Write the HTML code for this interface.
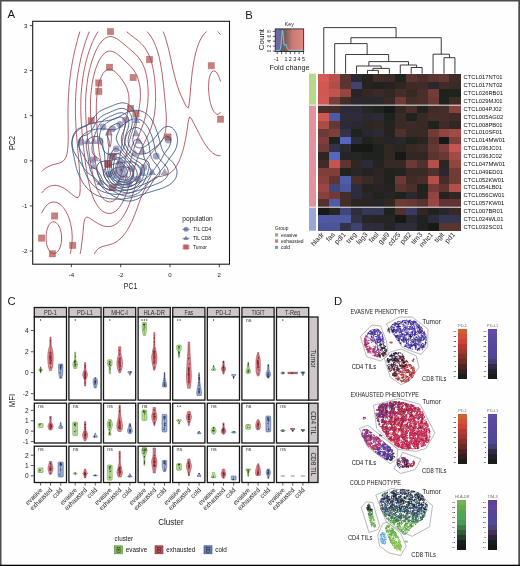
<!DOCTYPE html>
<html><head><meta charset="utf-8"><title>Figure</title>
<style>
html,body{margin:0;padding:0;background:#fff;}
body{width:520px;height:566px;overflow:hidden;font-family:"Liberation Sans",sans-serif;}
svg{display:block;font-family:"Liberation Sans",sans-serif;will-change:transform;opacity:0.999;-webkit-font-smoothing:antialiased;}
</style></head><body>
<svg width="520" height="566" viewBox="0 0 520 566">
<rect x="0" y="0" width="520" height="566" fill="#fefefe"/>
<g id="pA">
<rect x="32.7" y="21.3" width="196.8" height="242.9" fill="#fff" stroke="#1a1a1a" stroke-width="1.1"/>
<g fill="#7f80ab" fill-opacity="0.72">
<circle cx="120" cy="124.5" r="3.4"/>
<circle cx="125.5" cy="120" r="3.4"/>
<circle cx="112.5" cy="128.8" r="3.4"/>
<circle cx="103" cy="127" r="3.4"/>
<circle cx="81.2" cy="142" r="3.4"/>
<circle cx="100" cy="141.2" r="3.4"/>
<circle cx="116.2" cy="148.8" r="3.4"/>
<circle cx="156.2" cy="156.2" r="3.4"/>
<circle cx="168.2" cy="140" r="3.4"/>
<circle cx="113.8" cy="156.2" r="3.4"/>
<circle cx="120" cy="162.5" r="3.4"/>
<circle cx="132" cy="168.7" r="3.4"/>
<circle cx="137.7" cy="179.2" r="3.4"/>
<circle cx="143.8" cy="167.5" r="3.4"/>
<circle cx="92.5" cy="160" r="3.4"/>
<circle cx="108.8" cy="174.4" r="3.4"/>
<circle cx="119" cy="171" r="3.4"/>
<circle cx="122.5" cy="170" r="3.4"/>
<circle cx="128.8" cy="183" r="3.4"/>
<circle cx="121" cy="177" r="3.4"/>
<path d="M108.8,128.8 l4,6.6 h-8z"/>
<path d="M136.2,116.3 l4,6.6 h-8z"/>
<path d="M136.2,129.6 l4,6.6 h-8z"/>
<path d="M138.8,137.1 l4,6.6 h-8z"/>
<path d="M87.5,137.3 l4,6.6 h-8z"/>
<path d="M93.8,137.3 l4,6.6 h-8z"/>
<path d="M142.5,147.1 l4,6.6 h-8z"/>
<path d="M135,149.6 l4,6.6 h-8z"/>
<path d="M95,154.6 l4,6.6 h-8z"/>
<path d="M93.5,162.5 l4,6.6 h-8z"/>
<path d="M100.2,178.3 l4,6.6 h-8z"/>
<path d="M121.3,161.6 l4,6.6 h-8z"/>
<path d="M125,171.3 l4,6.6 h-8z"/>
<path d="M132.9,173.8 l4,6.6 h-8z"/>
<path d="M142.5,169.3 l4,6.6 h-8z"/>
<path d="M152,168.3 l4,6.6 h-8z"/>
<path d="M164.6,168.3 l4,6.6 h-8z"/>
<path d="M118.8,178.8 l4,6.6 h-8z"/>
<path d="M116,171.8 l4,6.6 h-8z"/>
<path d="M113,167.8 l4,6.6 h-8z"/>
</g>
<g fill="#ae4a46" fill-opacity="0.7" stroke="#ae4a46" stroke-opacity="0.45" stroke-width="0.6">
<rect x="107.3" y="28.4" width="6.4" height="6.4"/>
<rect x="106.3" y="64.1" width="6.4" height="6.4"/>
<rect x="95.6" y="79.8" width="6.4" height="6.4"/>
<rect x="95.6" y="88.2" width="6.4" height="6.4"/>
<rect x="146.3" y="56.3" width="6.4" height="6.4"/>
<rect x="130" y="74.3" width="6.4" height="6.4"/>
<rect x="208.1" y="62.5" width="6.4" height="6.4"/>
<rect x="217.3" y="116" width="6.4" height="6.4"/>
<rect x="164.8" y="133.8" width="6.4" height="6.4"/>
<rect x="127.3" y="105.3" width="6.4" height="6.4"/>
<rect x="132.8" y="110.8" width="6.4" height="6.4"/>
<rect x="88" y="117.5" width="6.4" height="6.4"/>
<rect x="51.4" y="212.8" width="6.4" height="6.4"/>
<rect x="38.4" y="234.9" width="6.4" height="6.4"/>
<rect x="49.2" y="250.6" width="6.4" height="6.4"/>
<rect x="69.5" y="242.2" width="6.4" height="6.4"/>
<rect x="108.7" y="153" width="6.4" height="6.4"/>
<rect x="104.6" y="160.6" width="6.4" height="6.4"/>
<rect x="109.2" y="184.4" width="6.4" height="6.4"/>
<rect x="105.1" y="161.1" width="6.4" height="6.4"/>
</g>
<g fill="none" stroke="#ab3f4a" stroke-width="0.85">
<path d="M94.3,253.8 95.7,251.6 97.6,249.3 99.4,247.9 101.1,247.1 103,246.4 104.8,245.9 106.7,245.4 108.5,245 110.3,244.5 112.1,243.9 113.9,243.1 115.7,242.2 117.5,241.1 118.5,240.3 121.1,238.1 122.9,236.1 124.7,233.9 126.5,231.4 127.9,229.1 129.2,226.9 130.1,225 131.4,222.4 132,221.3 132.5,220.1 133.4,217.9 134.3,215.6 135.2,213.4 136.1,211.2 136.9,208.9 137.4,207.6 138.5,204.4 139.2,202.6 140.2,199.9 141,197.7 141.9,195.4 142.8,193.2 143.9,191 144.6,189.3 146.2,186.5 147.6,184.2 149.4,182 151.7,179.7 153.6,178.5 155.4,177.6 157.3,177 159.1,176.6 160.9,176.3 162.7,175.9 164.5,175.5 166.3,175 168.1,174.2 169.9,173.2 171.7,171.8 172.8,170.8 174.8,168.5 176.3,166.3 177.1,164.9 178.8,161.8 179.8,159.5 180.6,157.3 181.4,155 182.2,152.8 182.6,151.5 183.5,148.3 184,146.1 184.4,144.5 185,141.6 185.5,139.3 185.9,137.1 186.2,135.3 186.7,132.6 187,130.4 187.4,128.1 187.7,125.9 187.9,123.6 188.3,121.4 188.9,119.1 189.6,116.9 191.6,118.9 192.7,121.4 193.9,123.6 195.2,125.9 196.3,128.1 197,129.4 198.6,132.6 199.8,134.8 200.6,136.4 202.2,139.3 203.5,141.6 204.2,142.7 204.9,143.8 206,145.5 207.9,148 209.7,150.2 211.5,152 212.4,152.8 215.1,154.6 216.9,155.3 218.7,155.7 220.5,155.6"/>
<path d="M220.5,34.6 218.7,32.6 217.4,31.6"/>
<path d="M79.9,31.6 79.5,32.9 78.6,36.1 77.9,38.3 77.3,40.6 76.7,42.8 76.1,45.1 75.6,47.3 75,49.6 74.5,51.8 74.1,53.6 73.5,56.3 73.1,58.5 72.6,60.8 72.3,62.6 71.8,65.3 71.5,67.5 71.1,69.8 70.8,72 70.5,74.1 70.2,76.5 69.9,78.7 69.7,81 69.4,83.2 69.2,85.5 69,87.7 68.9,90 68.7,92.2 68.6,94.4 68.4,96.7 68.3,98.9 68.2,101.2 68.2,103.4 68.1,105.7 68,107.9 68,110.2 68,112.4 68,114.6 68,116.9 68,119.1 68,121.4 68.1,123.6 68.1,125.9 68.1,128.1 68.1,130.4 68.2,132.6 68.2,134.8 68.2,137.1 68.2,139.3 68.1,141.6 68.1,143.8 67.9,146.1 67.8,148.3 67.5,150.6 67.2,152.8 66.9,154.2 65.9,157.3 65.1,158.8 63.3,161 62.2,161.8 59.7,162.9 57.9,163.5 56.1,163.9 54.2,164.4 52.4,164.9 50.6,165.5 49,166.3 47,167.3 45.2,168.4 43.4,169.8 42.3,170.8 41.6,171.4"/>
<path d="M206.5,31.6 204.2,33.8 202.5,36.1 201.2,38.3 200,40.6 199,42.8 198.1,45.1 197.3,47.3 196.6,49.6 196,51.8 195.4,54 194.9,56.3 194.4,58.5 194,60.8 193.6,63 193.2,65.3 192.9,67.5 192.5,69.8 192.2,72 192,74.2 191.7,76.5 191.6,78.1 191.3,81 191.1,83.2 190.8,85.5 190.6,87.7 190.5,90 190.3,92.2 190.1,94.4 189.9,96.7 189.8,98.9 189.5,101.2 189.2,103.4 188.9,105.7 188.3,107.9 186.2,106.4 184.7,103.4 183.7,101.2 182.6,99 181.6,96.7 180.7,94.9 179.7,92.2 178.9,90.3 178.1,87.7 177.3,85.5 176.6,83.2 176,81 175.3,78.8 174.8,76.5 174.2,74.2 173.6,72 173.1,69.8 172.6,67.5 172.1,65.3 171.7,63.4 171.2,60.8 170.7,58.5 170.2,56.3 169.9,55 169.2,51.8 168.7,49.6 168.1,47.3 167.5,45.1 166.9,42.8 166.3,40.7 165.6,38.3 164.9,36.1 164.1,33.8 163.2,31.6"/>
<path d="M80.1,253.8 80.6,251.6 81,249.3 81.3,247.1 81.6,244.8 81.9,242.6 82.2,240.3 82.4,238.1 82.7,235.8 82.9,233.6 83.1,231.4 83.2,230 83.5,226.9 83.7,224.6 84,222.4 84.5,220.1 85,218.5 86.8,217.1 88.6,217.6 90.4,218.7 92.2,219.8 94,221.1 95.8,222.2 97.6,223.3 99.4,224.3 101.2,225.1 103,225.8 104.8,226.3 106.7,226.5 108.5,226.6 110.3,226.4 112.1,226 113.9,225.3 115.1,224.6 117.5,223 119.3,221.3 120.4,220.1 122.1,217.9 122.9,216.8 123.7,215.6 124.7,213.9 126.2,211.2 127.3,208.9 128.3,206.7 129.2,204.4 130,202.2 130.9,199.9 131.7,197.7 132.4,195.4 133.2,193.2 133.8,191.3 134.6,188.7 135.3,186.5 136,184.2 136.8,182 137.4,180.1 138.3,177.5 139.1,175.2 140,173 140.9,170.8 141.9,168.5 142.8,166.4 144.1,164 145.3,161.8 146.4,160 148.2,157.3 149.9,155 151.8,152.8 153.6,150.7 155.4,148.8 157.3,146.8 159.1,144.7 160.9,142.4 162.7,139.4 163.7,137.1 164.5,134.9 165.1,132.6 165.6,130.4 165.9,128.1 166.1,125.9 166.2,123.6 166.3,122 166.3,119.1 166.3,116.9 166.2,114.6 166,112.4 165.9,110.2 165.7,107.9 165.5,105.7 165.3,103.4 165.1,101.2 164.9,98.9 164.7,96.7 164.5,94.7 164.2,92.2 164,90 163.8,87.7 163.5,85.5 163.3,83.2 163,81 162.7,78.7 162.5,76.5 162.2,74.2 161.9,72 161.5,69.8 161.2,67.5 160.9,65.8 160.4,63 159.9,60.8 159.4,58.5 159.1,56.9 158.3,54 157.7,51.8 157.3,50.3 156.2,47.3 155.4,45.3 154.4,42.8 153.6,41.2 152.1,38.3 150.6,36.1 148.9,33.8 146.9,31.6"/>
<path d="M220.5,81.4 219.6,78.7 218.8,76.5 217.7,74.2 216.9,72.9 216,72 215.1,71.2 213.3,70.9 211.8,72 210.5,74.2 209.7,76.5 209.2,78.7 208.9,81 208.7,83.2 208.6,85.5 208.6,87.7 208.6,90 208.8,92.2 209,94.4 209.2,96.7 209.6,98.9 210,101.2 210.6,103.4 211.2,105.7 212,107.9 213,110.2 214.5,112.4 216.9,114.4 218.7,114.1 220.2,112.4 220.5,111.9"/>
<path d="M89.3,31.6 88.6,33.3 87.5,36.1 86.8,38.1 85.9,40.6 85.2,42.8 84.5,45.1 83.8,47.3 83.2,49.5 82.5,51.8 81.9,54 81.4,56.3 80.8,58.5 80.3,60.8 79.9,63 79.5,64.6 79,67.5 78.6,69.8 78.2,72 77.9,74.2 77.5,76.5 77.2,78.7 76.9,81 76.7,83.2 76.5,85.5 76.3,87.7 76.1,90 75.9,92.1 75.8,94.4 75.7,96.7 75.6,98.9 75.5,101.2 75.4,103.4 75.4,105.7 75.4,107.9 75.4,110.2 75.4,112.4 75.5,114.6 75.5,116.9 75.6,119.1 75.7,121.4 75.8,123.6 75.9,125.7 76.1,128.1 76.2,130.4 76.4,132.6 76.5,134.8 76.7,137.1 76.9,139.3 77.1,141.6 77.3,143.8 77.5,146.1 77.7,148.3 77.9,150.6 78.1,152.8 78.3,155 78.4,157.3 78.6,159.5 78.8,161.8 79,164 79.2,166.3 79.3,168.5 79.5,170.8 79.6,173 79.8,175.2 79.9,177.5 80,179.7 80.1,182 80.1,184.2 80.2,186.5 80.2,188.7 80.1,191 79.9,193.2 79.6,195.4 78,197.7 75.9,197.2 74.1,196 72.3,194.6 70.6,193.2 68.7,191.7 66.9,190.3 65.1,189 63.3,187.9 61.5,187 60.2,186.5 57.9,185.7 56.1,185.4 54.2,185.3 52.4,185.5 50.6,186 49.4,186.5 47,187.7 45.7,188.7 43.4,190.9 41.6,193"/>
<path d="M70.2,253.8 70.5,252.6 71.2,249.3 71.6,247.1 71.8,244.8 72,242.6 72.1,240.3 72.2,238.1 72.2,235.8 72,233.6 71.9,231.4 71.6,229.1 71.2,226.9 70.8,224.6 70.5,223.4 69.6,220.1 68.9,217.9 68,215.6 66.9,213.4 65.7,211.2 64.3,208.9 63.3,207.6 62.4,206.7 61.5,205.6 60.1,204.4 57.9,203 56.1,202.3 54.2,202 52.4,202.1 50.6,202.6 48.8,203.5 47.7,204.4 45.5,206.7 43.9,208.9 42.6,211.2 41.6,213.2"/>
<path d="M98.1,31.6 96.7,33.8 95.8,35.3 94.3,38.3 93.2,40.6 92.2,42.8 91.3,45.1 90.5,47.3 89.7,49.6 88.9,51.8 88.2,54 87.5,56.3 86.9,58.5 86.3,60.8 85.7,63 85.2,65.3 84.7,67.5 84.2,69.8 83.8,72 83.4,74.2 83.2,75.8 82.7,78.7 82.4,81 82.1,83.2 81.9,85.5 81.6,87.7 81.5,90 81.4,91.2 81.1,94.4 81,96.7 80.9,98.9 80.8,101.2 80.8,103.4 80.8,105.7 80.8,107.9 80.8,110.2 80.8,112.4 80.9,114.6 81,116.9 81.1,119.1 81.2,121.4 81.4,123.6 81.5,125.9 81.7,128.1 81.9,130.4 82,132.6 82.2,134.8 82.5,137.1 82.7,139.3 82.9,141.6 83.2,143.7 83.4,146.1 83.7,148.3 83.9,150.6 84.2,152.8 84.5,155 84.8,157.3 85,158.9 85.3,161.8 85.6,164 85.9,166.3 86.3,168.5 86.6,170.8 87,173 87.3,175.2 87.7,177.5 88.2,179.7 88.6,181.7 89.1,184.2 89.6,186.5 90.2,188.7 90.9,191 91.6,193.2 92.2,195 93.2,197.7 94,199.5 95.3,202.2 96.7,204.4 97.6,205.9 99.4,208.2 101.2,210 102.7,211.2 104.8,212.4 106.7,213.1 108.3,213.4 110.3,213.4 112.1,213 113.9,212.2 115.6,211.2 117.5,209.5 119.3,207.4 121.1,204.8 122.6,202.2 123.8,199.9 124.7,197.8 125.7,195.4 126.5,193.3 127.4,191 128.1,188.7 128.9,186.5 129.6,184.2 130.1,182.2 130.9,179.7 131.5,177.5 132,176 132.8,173 133.5,170.8 134.1,168.5 134.8,166.3 135.5,164 136.3,161.8 137.1,159.5 137.9,157.3 138.8,155 139.7,152.8 140.7,150.6 141.7,148.3 142.7,146.1 143.8,143.8 144.6,142.2 146,139.3 147.1,137.1 148.2,134.8 149.2,132.6 150,130.5 151,128.1 151.7,125.9 152.4,123.6 153,121.4 153.5,119.1 154,116.9 154.4,114.6 154.7,112.4 154.9,110.2 155.2,107.9 155.3,105.7 155.4,103.4 155.5,101.2 155.6,98.9 155.6,96.7 155.6,94.4 155.5,92.2 155.4,90.3 155.3,87.7 155.2,85.5 155,83.2 154.8,81 154.6,78.7 154.3,76.5 154,74.2 153.7,72 153.3,69.8 152.8,67.5 152.3,65.3 151.8,63.5 151.1,60.8 150.3,58.5 149.4,56.3 148.5,54 147.3,51.8 146.4,50.2 144.6,47.5 142.8,45.3 141,43.4 139.2,41.7 137.8,40.6 135.6,38.8 133.8,37.4 132,36.1 130.1,34.6 129.2,33.8 126.5,31.6 126.5,31.6"/>
<path d="M50,251.6 52.4,253.4 54.2,253.6 56.1,253 57.7,251.6 59.2,249.3 60.2,247.1 60.8,244.8 61.3,242.6 61.5,241 61.6,238.1 61.5,235.8 61.3,233.6 60.8,231.4 60.2,229.1 59.7,227.6 58,224.6 56.1,222.6 54.2,221.8 52.4,221.9 50.6,222.9 49.2,224.6 48,226.9 47.2,229.1 46.6,231.4 46.3,233.6 46.1,235.8 46.1,238.1 46.2,240.3 46.4,242.6 46.8,244.8 47.5,247.1 48.5,249.3 50,251.6Z"/>
<path d="M104.5,199.9 106.7,201.3 108.5,201.8 110.3,201.9 112.1,201.5 113.9,200.6 115.7,199.1 117,197.7 118.6,195.4 119.3,194.4 120,193.2 121.1,191.1 122.2,188.7 122.9,186.9 123.9,184.2 124.6,182 125.4,179.7 126,177.5 126.5,175.7 127.3,173 127.9,170.8 128.3,168.9 129,166.3 129.6,164 130.1,161.9 130.8,159.5 131.4,157.3 132,155.2 132.6,152.8 133.3,150.6 133.8,149.2 134.8,146.1 135.6,143.8 136.4,141.6 137.2,139.3 138.1,137.1 139,134.8 139.9,132.6 140.8,130.4 141.7,128.1 142.5,125.9 143.3,123.6 144,121.4 144.6,119.3 145.3,116.9 145.8,114.6 146.3,112.4 146.7,110.2 147.1,107.9 147.4,105.7 147.7,103.4 147.9,101.2 148,98.9 148.1,96.7 148.2,94.4 148.2,92.2 148.1,90 148,87.7 147.8,85.5 147.6,83.2 147.4,81 147,78.7 146.7,76.5 146.4,75.3 145.6,72 145,69.8 144.2,67.5 143.2,65.3 142.2,63 141,61 139.3,58.5 137.5,56.3 135.6,54.3 133.8,52.6 132,51 130.3,49.6 128.3,47.9 126.5,46.4 125,45.1 122.9,43.3 121.1,41.8 119.6,40.6 117.5,39.1 116.2,38.3 113.9,37.2 112.1,36.7 110.3,36.6 108.5,36.8 106.7,37.4 105.1,38.3 103,40 101.2,41.9 99.4,44.4 97.7,47.3 96.5,49.6 95.8,51 94.5,54 94,55.2 92.8,58.5 92.2,60.2 91.3,63 90.7,65.3 90.1,67.5 89.5,69.8 89,72 88.6,74.1 88.1,76.5 87.7,78.7 87.4,81 87.1,83.2 86.8,85.4 86.5,87.7 86.3,90 86.1,92.2 85.9,94.4 85.8,96.7 85.7,98.9 85.6,101.2 85.6,103.4 85.6,105.7 85.6,107.9 85.6,110.2 85.7,112.4 85.7,114.6 85.8,116.9 85.9,119.1 86.1,121.4 86.2,123.6 86.4,125.9 86.6,128.1 86.8,130.4 87,132.6 87.2,134.8 87.4,137.1 87.6,139.3 87.9,141.6 88.1,143.8 88.4,146.1 88.6,147.8 88.9,150.6 89.2,152.8 89.5,155 89.8,157.3 90.1,159.5 90.4,161.3 90.8,164 91.2,166.3 91.6,168.5 92,170.8 92.5,173 92.9,175.2 93.5,177.5 94,179.6 94.7,182 95.4,184.2 95.8,185.6 97,188.7 97.6,190.2 99.1,193.2 100.5,195.4 101.2,196.6 102.1,197.7 103,198.7 104.5,199.9Z"/>
<path d="M105.8,188.7 108.5,190.1 110.3,190.3 112.1,189.8 113.7,188.7 115.7,186.7 117.3,184.2 118.5,182 119.3,180.2 120.4,177.5 121.1,175.4 121.8,173 122.5,170.8 122.9,169.2 123.7,166.3 124.2,164 124.7,161.8 125.2,159.5 125.7,157.3 126.2,155 126.5,153.5 127.2,150.6 127.7,148.3 128.2,146.1 128.8,143.8 129.3,141.6 129.9,139.3 130.6,137.1 131.2,134.8 131.9,132.6 132.7,130.4 133.4,128.1 134.1,125.9 134.9,123.6 135.6,121.6 136.3,119.1 137,116.9 137.4,115.6 138.2,112.4 138.7,110.2 139.2,107.9 139.5,105.7 139.8,103.4 140.1,101.2 140.3,98.9 140.4,96.7 140.4,94.4 140.3,92.2 140.2,90 140,87.7 139.7,85.5 139.2,83.2 138.7,81 138,78.7 137.4,77 136.1,74.2 135.6,73.2 134.9,72 133.8,70.3 132,67.9 130.1,65.9 128.3,64.1 127.3,63 124.9,60.8 122.9,58.9 121.1,57.3 120,56.3 117.5,54.3 115.7,53 113.9,52 112.1,51.4 110.3,51.1 108.5,51.2 106.9,51.8 104.8,53 103.8,54 101.8,56.3 100.3,58.5 99.4,60 97.9,63 97,65.3 96.2,67.5 95.4,69.8 94.7,72 94.1,74.2 93.6,76.5 93.1,78.7 92.6,81 92.2,83.2 91.9,85.5 91.6,87.7 91.3,90 91.1,92.2 90.9,94.4 90.7,96.7 90.6,98.9 90.5,101.2 90.5,103.4 90.4,105.7 90.4,107.9 90.5,110.2 90.5,112.4 90.6,114.6 90.7,116.9 90.8,119.1 91,121.4 91.1,123.6 91.3,125.9 91.4,128.1 91.6,130.4 91.8,132.6 92,134.8 92.2,136.9 92.4,139.3 92.7,141.6 92.9,143.8 93.2,146.1 93.4,148.3 93.7,150.6 94,152.8 94.3,155 94.6,157.3 95,159.5 95.3,161.8 95.7,164 96.2,166.3 96.7,168.5 97.2,170.8 97.6,172.4 98.5,175.2 99.2,177.5 100,179.7 101,182 102.2,184.2 103,185.6 104.8,187.9 105.8,188.7Z"/>
<path d="M107,175.2 108.5,176.3 110.3,176.5 112.1,175.7 113.9,173.9 115.7,170.8 116.6,168.5 117.4,166.3 118.1,164 118.7,161.8 119.2,159.5 119.7,157.3 120.1,155 120.5,152.8 120.9,150.6 121.1,149.3 121.6,146.1 122,143.8 122.3,141.6 122.6,139.3 122.9,137.6 123.3,134.8 123.7,132.6 124.1,130.4 124.5,128.1 124.9,125.9 125.4,123.6 125.8,121.4 126.3,119.1 126.5,117.9 127.2,114.6 127.6,112.4 128,110.2 128.3,108.3 128.7,105.7 128.9,103.4 129,101.2 129,98.9 128.8,96.7 128.6,94.4 128.3,93.2 127.5,90 126.7,87.7 125.6,85.5 124.7,83.8 122.9,81 121.3,78.7 119.6,76.5 117.6,74.2 115.7,72.3 113.9,70.8 112.1,69.8 110.3,69.2 108.5,69.2 106.8,69.8 104.8,71.3 103,73.5 101.5,76.5 100.5,78.7 99.7,81 99.1,83.2 98.5,85.5 98.1,87.7 97.6,90 97.3,92.2 97,94.4 96.8,96.7 96.6,98.9 96.5,101.2 96.4,103.4 96.4,105.7 96.3,107.9 96.3,110.2 96.4,112.4 96.4,114.6 96.5,116.9 96.6,119.1 96.7,121.4 96.8,123.6 96.9,125.9 97,128.1 97.2,130.4 97.3,132.6 97.5,134.8 97.6,136.5 97.9,139.3 98.1,141.6 98.3,143.8 98.5,146.1 98.8,148.3 99,150.6 99.3,152.8 99.7,155 100.1,157.3 100.5,159.5 101,161.8 101.6,164 102.2,166.3 102.9,168.5 103.9,170.8 104.8,172.6 106.7,175 107,175.2Z"/>
<path d="M109.2,146.1 110.3,146.6 110.9,143.8 111.2,141.6 111.4,139.3 111.3,137.1 111.2,134.8 110.9,132.6 110.5,130.4 108.5,129.4 108,132.6 107.8,134.8 107.7,137.1 107.8,139.3 107.9,141.6 108.2,143.8 108.5,145.6 109.2,146.1Z"/>
</g>
<g fill="none" stroke="#38547f" stroke-width="0.85">
<path d="M122.2,199.9 124.7,200.6 126.5,200.9 128.3,201 130.1,201 132,200.8 133.8,200.3 135.6,199.7 137.4,199 139.2,198 141,196.8 142.6,195.4 144.6,193.5 146.4,191.4 148.2,189 149.8,186.5 151.2,184.2 151.8,183.1 152.5,182 153.6,180 155.2,177.5 156.9,175.2 158.7,173 160.6,170.8 162.5,168.5 164.2,166.3 165.7,164 167.2,161.8 168.1,160.5 169.9,157.9 171.7,155.5 173.5,152.9 174.9,150.6 176,148.3 176.7,146.1 177.1,144.1 177.5,141.6 177.5,139.3 177.2,137.1 176.7,134.8 175.9,132.6 175.3,131.5 174.6,130.4 173.5,129 172.5,128.1 169.9,126.7 168.1,126.4 166.3,126.6 164.5,127.3 163.2,128.1 160.9,130.2 159.1,132.3 157.3,134.7 155.4,137 153.6,139.1 151.8,141 150,142.7 148.8,143.8 146.4,145.6 144.6,146.7 142.8,147.5 141,147.9 139.2,147.9 137.4,147.5 135.6,146.5 133.8,144.3 132.9,141.6 132.8,139.3 133.1,137.1 133.7,134.8 134.4,132.6 135,130.4 135.5,128.1 135.9,125.9 136.2,123.6 136.3,121.4 136.2,119.1 135.9,116.9 135.6,115.3 134.7,112.4 133.8,110.3 132.3,107.9 130.2,105.7 128.3,104.3 126.5,103.5 124.7,103 122.9,102.8 121.1,102.9 119.3,103.3 117.5,103.8 115.7,104.4 113.9,105.1 112.7,105.7 110.3,106.6 108.5,107.3 107.1,107.9 104.8,108.7 103,109.5 101.8,110.2 99.4,111.6 98.4,112.4 96.1,114.6 94.2,116.9 92.6,119.1 91,121.4 89.2,123.6 86.8,125.7 85,126.5 83.2,127 81.4,127.5 79.7,128.1 77.7,129.2 76.4,130.4 74.6,132.6 73.4,134.8 72.7,137.1 72.3,138.8 72,141.6 72,143.8 72.3,146.1 72.8,148.3 73.5,150.6 74.1,151.9 75.8,155 77.2,157.3 78.6,159.5 79.5,161.1 81.3,164 82.7,166.3 84.1,168.5 85,169.7 85.9,170.8 86.8,171.8 88.1,173 90.4,174.7 92.2,176 94,177.2 95.8,178.9 97.6,181 99.4,183.5 101.2,186 103,188.2 104.8,190.1 105.8,191 108.5,193 110.3,194.3 112.1,195.3 113.9,196.4 115.7,197.3 117.5,198.1 119.3,199 121.1,199.6 122.2,199.9Z"/>
<path d="M122.9,195.4 124.7,195.9 126.5,196.1 128.3,196.2 130.1,196.1 132,195.8 133.8,195.2 135.6,194.5 137.4,193.6 139.2,192.4 140.9,191 142.8,189 144.6,186.8 146.3,184.2 147.6,182 148.2,180.7 149.8,177.5 150.9,175.2 151.8,173.4 153.3,170.8 154.7,168.5 155.4,167.5 156.4,166.3 157.3,165.1 158.1,164 159.1,162.7 160.9,159.9 162.4,157.3 163.6,155 164.5,153.6 166.3,150.9 168.1,148.5 169.6,146.1 170.4,143.8 170.8,141.6 170.6,139.3 169.9,137.7 168.1,136.3 166.3,136.3 164.9,137.1 162.7,139.3 160.9,141.6 159.1,143.8 157.3,145.7 155.4,147.2 154.1,148.3 151.8,150 150,151.4 148.2,152.5 146.4,153.3 144.6,153.8 142.8,154 141,154.1 139.2,153.9 137.4,153.4 135.8,152.8 133.8,151.5 132.6,150.6 130.6,148.3 129.3,146.1 128.5,143.8 128.1,141.6 128.2,139.3 128.6,137.1 129.2,134.8 130,132.6 130.7,130.4 131.4,128.1 131.9,125.9 132.2,123.6 132.2,121.4 132,119.1 131.6,116.9 130.8,114.6 130.1,113.4 129.5,112.4 128.3,111 127.3,110.2 124.7,108.8 122.9,108.4 121.1,108.4 119.3,108.6 117.5,109.1 115.7,109.8 113.9,110.5 112.1,111.3 110.3,112.1 108.5,112.9 106.7,113.6 104.8,114.5 103,115.4 101.2,116.7 99.4,118.3 97.6,120.3 96.9,121.4 95.8,123 94.2,125.9 93,128.1 92.2,129.6 90.4,132.2 88.6,134 86.9,134.8 85,135.4 83.2,135.9 81.4,136.7 79.5,138.6 78.5,141.6 78.4,143.8 78.7,146.1 79.5,148.3 80.6,150.6 81.4,151.8 83.2,154.8 84.5,157.3 85.8,159.5 86.8,161.3 88.6,163.9 90.4,165.8 92.2,167.1 94,168.2 95.8,169.2 97.5,170.8 99.1,173 100.3,175.2 101.2,177 102.6,179.7 103.9,182 104.8,183.3 106.7,185.6 108.5,187.4 110,188.7 112.1,190.3 113.1,191 115.7,192.5 117.1,193.2 119.3,194.3 121.1,194.9 122.9,195.4Z"/>
<path d="M119.4,191 121.1,191.7 122.9,192.2 124.7,192.6 126.5,192.8 128.3,192.8 130.1,192.6 132,192.2 133.8,191.5 135,191 137.4,189.5 138.4,188.7 140.7,186.5 142.5,184.2 144,182 144.6,180.8 146.1,177.5 147,175.2 147.7,173 148.2,171.2 148.9,168.5 149.2,166.3 149.2,164 148.2,161.8 146.4,160.6 144.6,159.9 142.8,159.3 141,158.8 139.2,158.3 137.4,157.6 135.6,156.8 133.8,155.7 132,154.3 130.4,152.8 128.6,150.6 127.1,148.3 126.5,147.2 126,146.1 125.2,143.8 124.8,141.6 124.7,139.3 125.1,137.1 125.7,134.8 126.5,132.6 127.3,130.4 128.1,128.1 128.6,125.9 128.9,123.6 128.9,121.4 128.5,119.1 127.7,116.9 126.5,115.2 124.7,113.6 122.9,112.9 121.1,112.7 119.3,112.9 117.5,113.3 115.7,114 114.1,114.6 112.1,115.6 110.3,116.4 108.5,117.3 106.7,118.2 104.9,119.1 103,120.4 102,121.4 100,123.6 98.5,125.9 97.6,127.7 96.5,130.4 95.8,132.2 94.9,134.8 94.3,137.1 94,138.3 93.1,141.6 92.5,143.8 92.2,145.8 91.9,148.3 92,150.6 92.5,152.8 93.8,155 95.8,156.7 97.6,157.8 99.3,159.5 100.4,161.8 101.2,164 101.8,166.3 102.3,168.5 102.9,170.8 103.5,173 104.2,175.2 104.8,176.8 106.2,179.7 107.7,182 108.5,183 109.5,184.2 112,186.5 113.9,187.9 115.1,188.7 117.5,190.1 119.3,190.9 119.4,191Z"/>
<path d="M120.5,188.7 122.9,189.5 124.7,189.8 126.5,190 128.3,189.9 130.1,189.6 132,189.1 133.8,188.3 135.6,187.2 136.5,186.5 138.9,184.2 140.6,182 141.9,179.7 142.8,177.7 143.7,175.2 144.2,173 144.4,170.8 144.2,168.5 143.4,166.3 141.5,164 139.2,162.4 138.1,161.8 135.6,160.3 134.4,159.5 132,157.7 130.1,156 129.2,155 128.3,154 127.3,152.8 126.5,151.7 125.7,150.6 124.7,149.1 123.1,146.1 122.1,143.8 121.5,141.6 121.4,139.3 121.6,137.1 122.2,134.8 122.9,132.9 123.9,130.4 124.7,128.1 125.2,125.9 125.4,123.6 125.2,121.4 124.7,120.1 122.9,117.9 121.1,117.1 119.3,117.1 117.5,117.5 115.7,118.1 113.9,118.9 112.1,119.8 110.3,120.8 109.1,121.4 106.7,122.9 105.7,123.6 103.3,125.9 101.8,128.1 101.2,129.3 100.1,132.6 99.7,134.8 99.6,137.1 99.7,139.3 100.2,141.6 101.1,143.8 102.3,146.1 103,147.5 104,150.6 104.4,152.8 104.7,155 104.8,157.3 104.9,159.5 105,161.8 105.1,164 105.2,166.3 105.4,168.5 105.8,170.8 106.3,173 106.7,174.2 107.9,177.5 109.1,179.7 110.3,181.3 112.1,183.3 113,184.2 115.7,186.3 117.5,187.4 119.3,188.3 120.5,188.7Z"/>
<path d="M120.9,186.5 122.9,187.1 124.7,187.3 126.5,187.4 128.3,187.2 130.1,186.8 132,186.1 133.8,185 134.9,184.2 137.1,182 138.7,179.7 139.7,177.5 140.4,175.2 140.7,173 140.5,170.8 139.8,168.5 138.2,166.3 135.7,164 133.8,162.4 132,160.8 130.6,159.5 128.4,157.3 126.5,155.1 124.7,152.9 122.9,150.6 121.3,148.3 119.7,146.1 118.2,143.8 117.5,142.3 116.3,139.3 116.4,137.1 117,134.8 118,132.6 119,130.4 119.8,128.1 120.1,125.9 119.3,123.8 117.5,123.4 116.2,123.6 113.9,124.7 112.1,125.7 110.3,127.2 109.2,128.1 108.5,129.2 107.7,130.4 106.9,132.6 107,134.8 107.7,137.1 108.5,138.8 109.3,141.6 109.3,143.8 109.1,146.1 108.8,148.3 108.5,150.6 108.2,152.8 108,155 107.8,157.3 107.6,159.5 107.5,161.8 107.5,164 107.5,166.3 107.7,168.5 108,170.8 108.5,172.6 109.3,175.2 110.3,177.4 111.8,179.7 113.7,182 115.7,183.6 117.5,184.9 119.3,185.8 120.9,186.5Z"/>
<path d="M121.1,184.2 122.9,184.7 124.7,185 126.5,184.9 128.3,184.6 130.1,183.9 132,182.9 133.2,182 135.2,179.7 136.4,177.5 137.1,175.2 137.2,173 136.7,170.8 135.6,168.5 134,166.3 132,164.1 130.1,162.1 128.3,160.1 126.5,158.1 124.7,156 123.9,155 122.9,153.9 121.8,152.8 119.5,150.6 117.5,149.1 115.7,148.6 113.9,149.1 112.7,150.6 111.5,152.8 110.8,155 110.3,157.3 109.9,159.5 109.7,161.8 109.6,164 109.6,166.3 109.7,168.5 110,170.8 110.6,173 111.4,175.2 112.1,176.5 113.9,179.2 115.7,181.1 116.8,182 119.3,183.5 121.1,184.2Z"/>
<path d="M121.2,182 122.9,182.4 124.7,182.5 126.5,182.3 127.7,182 130.1,180.7 131.3,179.7 132.9,177.5 133.7,175.2 133.8,173 133.3,170.8 132.2,168.5 130.8,166.3 129.1,164 127.2,161.8 125.2,159.5 123.1,157.3 121.1,155.4 119.3,154.1 117.5,153.4 115.7,153.6 114.1,155 112.9,157.3 112.2,159.5 111.8,161.8 111.5,164 111.5,166.3 111.6,168.5 111.9,170.8 112.6,173 113.5,175.2 115,177.5 117.2,179.7 119.3,181.1 121.1,181.9 121.2,182Z"/>
<path d="M122.2,179.7 124.7,179.9 126.5,179.3 128.3,178.1 130.1,175.4 130.5,173 130.1,170.8 129.3,168.5 128.3,166.9 126.5,164.2 124.7,162 122.9,160.1 121.1,158.6 119.3,157.6 117.5,157.4 115.7,158.5 115,159.5 114.1,161.8 113.6,164 113.4,166.3 113.5,168.5 113.9,170.6 114.7,173 115.7,175 117.5,177.2 119.3,178.6 121.1,179.5 122.2,179.7Z"/>
<path d="M119,175.2 121.1,176.5 122.9,176.8 124.7,176.4 126.2,175.2 127.1,173 127.1,170.8 126.5,169.1 125.1,166.3 123.3,164 121.1,162.1 119.3,161.5 117.5,162.1 116.3,164 115.8,166.3 115.8,168.5 116.2,170.8 117.2,173 119,175.2Z"/>
<path d="M120.8,170.8 121.5,168.5 120.8,170.8Z"/>
<path d="M104.2,197.7 106.7,198.2 108.5,198.6 110.3,198.8 112.1,199 113.9,199.1 115.7,199.2 117.5,199.2 119.3,199.2 121.1,199.1 122.9,199 124.7,198.8 126.5,198.5 128.3,198.2 130.1,197.7 132,197.4 133.8,196.9 135.6,196.4 137.4,195.9 138.7,195.4 141,194.8 142.8,194.2 144.6,193.6 145.9,193.2 148.2,192.6 150,192 151.8,191.5 153.5,191 155.4,190.4 157.3,189.9 159.1,189.3 160.8,188.7 162.7,188.1 164.5,187.4 166.3,186.5 168.1,185.6 169.9,184.4 171.7,183 172.8,182 174.7,179.7 175.3,178.7 176,177.5 176.7,175.2 177.1,173 177,170.8 176.4,168.5 175.5,166.3 174.1,164 172.2,161.8 169.9,159.5 168.1,157.8 166.3,156 165.5,155 164.5,153.8 162.7,150.7 161.7,148.3 161,146.1 160.5,143.8 159.9,141.6 159.3,139.3 158.7,137.1 158,134.8 157.3,132.6 156.5,130.4 155.7,128.1 154.8,125.9 153.8,123.6 152.7,121.4 151.8,120 150,117.4 148.2,115.4 146.4,113.8 144.6,112.6 142.8,111.7 141,111 139.2,110.6 137.4,110.3 135.6,110.3 133.8,110.4 132,110.7 130.1,111.2 128.3,111.8 127.1,112.4 124.7,113.6 122.9,114.6 121.1,115.7 119.3,116.8 117.5,117.7 115.7,118.6 114.2,119.1 112.1,119.7 110.3,120.1 108.5,120.4 106.7,120.7 104.8,121 103,121.2 101.2,121.5 99.4,121.7 97.6,122.1 95.8,122.4 94,122.8 92.2,123.3 90.4,123.8 88.6,124.4 86.8,125 85,125.8 83.2,126.7 81.4,127.8 79.5,129 77.9,130.4 75.9,132.4 74.3,134.8 73.1,137.1 72.5,139.3 72,141.6 71.9,143.8 72,146.1 72.3,148.3 72.7,150.6 73.1,152.8 73.6,155 74.1,157.3 74.5,159.5 75,161.8 75.4,164 75.9,166.1 76.5,168.5 77.3,170.8 77.7,172 79,175.2 80.1,177.5 81.3,179.7 82.5,182 83.9,184.2 85,185.7 86.8,187.9 88.6,189.8 89.9,191 92.2,192.7 94,193.9 95.8,194.8 97.3,195.4 99.4,196.3 101.2,196.9 103,197.4 104.2,197.7Z"/>
<path d="M107.9,193.2 110.3,193.7 112.1,194 113.9,194.2 115.7,194.4 117.5,194.4 119.3,194.4 121.1,194.4 122.9,194.2 124.7,194 126.5,193.7 128.3,193.3 130.1,192.9 132,192.5 133.8,192 135.6,191.4 136.9,191 139.2,190.2 141,189.6 142.8,188.9 144.6,188.3 146.4,187.7 148.2,187 149.8,186.5 151.8,185.8 153.6,185.1 155.4,184.4 157.3,183.7 159.1,182.9 160.9,182 162.7,180.9 164.3,179.7 166.3,177.7 167.8,175.2 168.1,173.9 168.2,170.8 167.5,168.5 166.3,166.5 164.5,164.3 162.7,162.4 160.9,160.5 160,159.5 159.1,158.4 158.2,157.3 157.3,155.6 156.1,152.8 155.4,150.6 154.9,148.3 154.5,146.1 154,143.8 153.6,142.2 152.9,139.3 152.2,137.1 151.4,134.8 150.5,132.6 149.4,130.4 148.3,128.1 146.9,125.9 145.2,123.6 142.9,121.4 141,120.1 139.2,119.3 137.4,118.9 135.6,118.8 133.8,118.9 132,119.4 130.1,120.1 128.3,121 126.5,122.2 124.7,123.5 122.9,125 121.7,125.9 119.3,127.6 117.5,128.7 115.7,129.4 113.9,129.7 112.1,129.7 110.3,129.6 108.5,129.4 106.7,129.1 104.8,129 103,128.9 101.2,128.8 99.4,128.9 97.6,129 95.8,129.3 94,129.6 92.2,130 90.4,130.6 88.6,131.3 86.8,132.2 85,133.3 83.2,134.8 81.4,136.9 80.1,139.3 79.5,141 79.1,143.8 79.1,146.1 79.4,148.3 79.8,150.6 80.3,152.8 80.8,155 81.2,157.3 81.6,159.5 82,161.8 82.5,164 83,166.3 83.7,168.5 84.4,170.8 85,172 86.4,175.2 87.6,177.5 88.6,179.3 90.4,182 92.1,184.2 94,186.2 95.8,187.7 97.2,188.7 99.4,190.1 101.2,191 103,191.7 104.8,192.4 106.7,192.9 107.9,193.2Z"/>
<path d="M106.5,188.7 108.5,189.4 110.3,189.9 112.1,190.3 113.9,190.6 115.7,190.8 117.5,190.9 119.3,190.9 121.1,190.9 122.9,190.7 124.7,190.5 126.5,190.2 128.3,189.8 130.1,189.4 132,188.8 133.8,188.2 135.6,187.6 137.4,186.9 139.2,186.2 141,185.4 142.8,184.7 143.9,184.2 146.4,183.2 148.2,182.4 150,181.6 151.8,180.7 153.6,179.8 155.4,178.6 157.1,177.5 159.1,175.3 160,173 160,170.8 159.2,168.5 157.6,166.3 155.8,164 153.9,161.8 152.4,159.5 151.8,158.4 151.3,157.3 150.6,155 150.1,152.8 149.8,150.6 149.5,148.3 149.2,146.1 148.7,143.8 148.2,141.9 147.4,139.3 146.4,137.1 145.3,134.8 144.6,133.7 143.8,132.6 142.8,131.3 141.9,130.4 141,129.5 139.2,128.3 137.4,127.6 135.6,127.5 133.8,127.8 132,128.6 130.1,129.9 128.3,131.9 126.6,134.8 125.8,137.1 125.3,139.3 124.9,141.6 124.7,143 124.1,146.1 123.4,148.3 122.1,150.6 121.1,151.6 119.6,152.8 117.5,153.8 115.7,154.3 113.9,154.7 112.1,154.8 110.3,154.7 108.5,154.3 106.7,153.5 105.5,152.8 103.7,150.6 103,148.3 102.8,146.1 102.8,143.8 102.6,141.6 101.8,139.3 99.4,137.2 97.6,136.6 95.8,136.5 94,136.6 92.2,137 90.4,137.9 88.6,139.2 86.9,141.6 86.3,143.8 86.2,146.1 86.5,148.3 86.8,149.9 87.5,152.8 87.9,155 88.2,157.3 88.4,159.5 88.6,161.6 88.9,164 89.3,166.3 89.9,168.5 90.4,170.1 91.5,173 92.2,174.6 93.6,177.5 95,179.7 95.8,180.8 96.7,182 97.6,182.9 98.9,184.2 101.2,186 103,187.1 104.8,188 106.5,188.7Z"/>
<path d="M110.4,186.5 112.1,187 113.9,187.4 115.7,187.7 117.5,187.9 119.3,187.9 121.1,187.9 122.9,187.7 124.7,187.5 126.5,187.1 128.3,186.7 130.1,186.1 132,185.5 133.8,184.8 135.1,184.2 137.4,183.2 139.2,182.3 141,181.3 142.8,180.3 144.6,179.2 146.4,178 148.2,176.5 149.6,175.2 150.9,173 151.1,170.8 150.3,168.5 148.9,166.3 148.2,165.2 147.4,164 146.4,162.5 144.8,159.5 144,157.3 143.6,155 143.4,152.8 143.3,150.6 143.1,148.3 142.8,146.4 141.9,143.8 141,141.9 139.2,140 137.6,139.3 135.6,139.7 133.8,141.6 132.9,143.8 132.1,146.1 131.6,148.3 130.8,150.6 130.1,151.9 128.3,154.3 126.5,155.8 124.7,156.8 122.9,157.6 121.1,158.2 119.3,158.7 117.5,159.1 115.7,159.5 113.9,159.8 112.1,160.1 110.3,160.4 108.5,160.6 106.7,160.8 104.8,161 103,161.3 101.2,161.8 99.4,162.6 98,164 97.1,166.3 96.8,168.5 97,170.8 97.4,173 98.2,175.2 99.3,177.5 100.7,179.7 102.7,182 104.8,183.7 106.7,184.8 108.5,185.7 110.3,186.4 110.4,186.5Z"/>
<path d="M114.2,184.2 115.7,184.6 117.5,184.8 119.3,184.9 121.1,184.9 122.9,184.7 124.7,184.5 126.5,184 128.3,183.5 130.1,182.8 132,182 133.8,181 135.6,179.9 137.4,178.5 138.7,177.5 140.7,175.2 141.7,173 141.7,170.8 141,168.9 139.2,166.3 137.4,164.5 135.6,163.3 133.8,162.5 132,162 130.1,161.9 128.3,161.9 126.5,161.9 124.7,162.1 122.9,162.3 121.1,162.6 119.3,162.9 117.5,163.2 115.7,163.6 113.9,164 112.1,164.5 110.3,165.1 108.5,165.9 106.7,167 104.9,168.5 103.8,170.8 103.5,173 103.8,175.2 104.8,177.5 106.4,179.7 108.5,181.5 110.3,182.7 112.1,183.5 113.9,184.1 114.2,184.2Z"/>
<path d="M113.3,179.7 115.7,180.8 117.5,181.3 119.3,181.5 121.1,181.5 122.9,181.3 124.7,180.9 126.5,180.3 128,179.7 130.1,178.3 131.2,177.5 132,176.5 132.9,175.2 133.4,173 132.7,170.8 130.4,168.5 128.3,167.6 126.5,167.1 124.7,166.8 122.9,166.7 121.1,166.8 119.3,167 117.5,167.4 115.7,167.9 114,168.5 112.1,169.8 111,170.8 110.3,172 109.7,175.2 110.3,176.4 112.1,178.8 113.3,179.7Z"/>
</g>
<g stroke="#1a1a1a" stroke-width="0.8">
<line x1="29.8" x2="32.7" y1="25.6" y2="25.6"/>
<line x1="29.8" x2="32.7" y1="70.6" y2="70.6"/>
<line x1="29.8" x2="32.7" y1="115.7" y2="115.7"/>
<line x1="29.8" x2="32.7" y1="160.8" y2="160.8"/>
<line x1="29.8" x2="32.7" y1="205.9" y2="205.9"/>
<line x1="29.8" x2="32.7" y1="251" y2="251"/>
<line y1="264.2" y2="267.2" x1="71.4" x2="71.4"/>
<line y1="264.2" y2="267.2" x1="120.7" x2="120.7"/>
<line y1="264.2" y2="267.2" x1="170" x2="170"/>
<line y1="264.2" y2="267.2" x1="219.3" x2="219.3"/>
</g>
<g font-size="6.1" fill="#1a1a1a">
<text x="27.3" y="27.9" text-anchor="end">3</text>
<text x="27.3" y="72.9" text-anchor="end">2</text>
<text x="27.3" y="118" text-anchor="end">1</text>
<text x="27.3" y="163.1" text-anchor="end">0</text>
<text x="27.3" y="208.2" text-anchor="end">-1</text>
<text x="27.3" y="253.3" text-anchor="end">-2</text>
<text x="71.4" y="276.8" text-anchor="middle">-4</text>
<text x="120.7" y="276.8" text-anchor="middle">-2</text>
<text x="170" y="276.8" text-anchor="middle">0</text>
<text x="219.3" y="276.8" text-anchor="middle">2</text>
</g>
<text transform="translate(130.5,289.2) scale(0.79,1)" font-size="8.8" text-anchor="middle" fill="#1a1a1a">PC1</text>
<text transform="translate(15.1,143) rotate(-90) scale(0.79,1)" font-size="9.1" text-anchor="middle" fill="#1a1a1a">PC2</text>
<text x="182.3" y="221.3" font-size="6.6" fill="#1a1a1a">population</text>
<circle cx="186" cy="229.3" r="2.5" fill="#7f80ab" fill-opacity="0.85"/>
<path d="M186,235.4 l2.7,4.6 h-5.4z" fill="#7f80ab" fill-opacity="0.85"/>
<rect x="183.5" y="244.5" width="5" height="5" fill="#ae4a46" fill-opacity="0.75"/>
<g stroke="#38547f" stroke-width="0.7"><line x1="182.5" x2="189.5" y1="229.3" y2="229.3"/><line x1="182.5" x2="189.5" y1="238.3" y2="238.3"/></g>
<line x1="182.5" x2="189.5" y1="247" y2="247" stroke="#ab3f4a" stroke-width="0.7"/><line x1="182.5" x2="189.5" y1="245.4" y2="245.4" stroke="#ab3f4a" stroke-width="0.5"/><line x1="182.5" x2="189.5" y1="248.6" y2="248.6" stroke="#ab3f4a" stroke-width="0.5"/>
<g font-size="4.9" fill="#111"><text x="193.3" y="230.9">TIL CD4</text><text x="193" y="239.9">TIL CD8</text><text x="193" y="248.6">Tumor</text></g>
<text x="7.6" y="17.9" font-size="11.3" fill="#1a1a1a">A</text>
</g>
<g id="pB">
<text x="245.2" y="18.9" font-size="11.3" fill="#1a1a1a">B</text>
<g shape-rendering="crispEdges">
<rect x="318.3" y="73.75" width="11.08" height="8" fill="#d75b55"/>
<rect x="329.23" y="73.75" width="11.08" height="8" fill="#b7514b"/>
<rect x="340.16" y="73.75" width="11.08" height="8" fill="#5a342f"/>
<rect x="351.09" y="73.75" width="11.08" height="8" fill="#2a2931"/>
<rect x="362.02" y="73.75" width="11.08" height="8" fill="#25231f"/>
<rect x="372.95" y="73.75" width="11.08" height="8" fill="#402b27"/>
<rect x="383.88" y="73.75" width="11.08" height="8" fill="#3c2a26"/>
<rect x="394.81" y="73.75" width="11.08" height="8" fill="#1f231e"/>
<rect x="405.74" y="73.75" width="11.08" height="8" fill="#5a342f"/>
<rect x="416.67" y="73.75" width="11.08" height="8" fill="#492e2a"/>
<rect x="427.6" y="73.75" width="11.08" height="8" fill="#5a342f"/>
<rect x="438.53" y="73.75" width="11.08" height="8" fill="#633732"/>
<rect x="449.46" y="73.75" width="11.08" height="8" fill="#402b27"/>
<rect x="318.3" y="81.6" width="11.08" height="8" fill="#ce5852"/>
<rect x="329.23" y="81.6" width="11.08" height="8" fill="#b04f49"/>
<rect x="340.16" y="81.6" width="11.08" height="8" fill="#5a342f"/>
<rect x="351.09" y="81.6" width="11.08" height="8" fill="#3e4371"/>
<rect x="362.02" y="81.6" width="11.08" height="8" fill="#25231f"/>
<rect x="372.95" y="81.6" width="11.08" height="8" fill="#1f231e"/>
<rect x="383.88" y="81.6" width="11.08" height="8" fill="#25231f"/>
<rect x="394.81" y="81.6" width="11.08" height="8" fill="#2e2622"/>
<rect x="405.74" y="81.6" width="11.08" height="8" fill="#402b27"/>
<rect x="416.67" y="81.6" width="11.08" height="8" fill="#402b27"/>
<rect x="427.6" y="81.6" width="11.08" height="8" fill="#2a282e"/>
<rect x="438.53" y="81.6" width="11.08" height="8" fill="#402b27"/>
<rect x="449.46" y="81.6" width="11.08" height="8" fill="#3a2a25"/>
<rect x="318.3" y="89.45" width="11.08" height="8" fill="#ce5852"/>
<rect x="329.23" y="89.45" width="11.08" height="8" fill="#c2544f"/>
<rect x="340.16" y="89.45" width="11.08" height="8" fill="#934640"/>
<rect x="351.09" y="89.45" width="11.08" height="8" fill="#272525"/>
<rect x="362.02" y="89.45" width="11.08" height="8" fill="#312723"/>
<rect x="372.95" y="89.45" width="11.08" height="8" fill="#3c2a26"/>
<rect x="383.88" y="89.45" width="11.08" height="8" fill="#332723"/>
<rect x="394.81" y="89.45" width="11.08" height="8" fill="#452d29"/>
<rect x="405.74" y="89.45" width="11.08" height="8" fill="#372924"/>
<rect x="416.67" y="89.45" width="11.08" height="8" fill="#492e2a"/>
<rect x="427.6" y="89.45" width="11.08" height="8" fill="#753c37"/>
<rect x="438.53" y="89.45" width="11.08" height="8" fill="#1f231e"/>
<rect x="449.46" y="89.45" width="11.08" height="8" fill="#1f231e"/>
<rect x="318.3" y="97.3" width="11.08" height="8" fill="#d35a54"/>
<rect x="329.23" y="97.3" width="11.08" height="8" fill="#7a3e39"/>
<rect x="340.16" y="97.3" width="11.08" height="8" fill="#432d28"/>
<rect x="351.09" y="97.3" width="11.08" height="8" fill="#2a282e"/>
<rect x="362.02" y="97.3" width="11.08" height="8" fill="#29282c"/>
<rect x="372.95" y="97.3" width="11.08" height="8" fill="#29282c"/>
<rect x="383.88" y="97.3" width="11.08" height="8" fill="#372924"/>
<rect x="394.81" y="97.3" width="11.08" height="8" fill="#703b36"/>
<rect x="405.74" y="97.3" width="11.08" height="8" fill="#452d29"/>
<rect x="416.67" y="97.3" width="11.08" height="8" fill="#492e2a"/>
<rect x="427.6" y="97.3" width="11.08" height="8" fill="#6c3935"/>
<rect x="438.53" y="97.3" width="11.08" height="8" fill="#1f231e"/>
<rect x="449.46" y="97.3" width="11.08" height="8" fill="#402b27"/>
<rect x="318.3" y="105.15" width="11.08" height="8" fill="#492e2a"/>
<rect x="329.23" y="105.15" width="11.08" height="8" fill="#452d29"/>
<rect x="340.16" y="105.15" width="11.08" height="8" fill="#2c2a36"/>
<rect x="351.09" y="105.15" width="11.08" height="8" fill="#2c2a36"/>
<rect x="362.02" y="105.15" width="11.08" height="8" fill="#272525"/>
<rect x="372.95" y="105.15" width="11.08" height="8" fill="#1f231e"/>
<rect x="383.88" y="105.15" width="11.08" height="8" fill="#161918"/>
<rect x="394.81" y="105.15" width="11.08" height="8" fill="#332723"/>
<rect x="405.74" y="105.15" width="11.08" height="8" fill="#492e2a"/>
<rect x="416.67" y="105.15" width="11.08" height="8" fill="#1f231e"/>
<rect x="427.6" y="105.15" width="11.08" height="8" fill="#402b27"/>
<rect x="438.53" y="105.15" width="11.08" height="8" fill="#452d29"/>
<rect x="449.46" y="105.15" width="11.08" height="8" fill="#87423d"/>
<rect x="318.3" y="113" width="11.08" height="8" fill="#ce5852"/>
<rect x="329.23" y="113" width="11.08" height="8" fill="#4e5aa5"/>
<rect x="340.16" y="113" width="11.08" height="8" fill="#2d2c38"/>
<rect x="351.09" y="113" width="11.08" height="8" fill="#2d2c38"/>
<rect x="362.02" y="113" width="11.08" height="8" fill="#2a2931"/>
<rect x="372.95" y="113" width="11.08" height="8" fill="#2c2a36"/>
<rect x="383.88" y="113" width="11.08" height="8" fill="#1f231e"/>
<rect x="394.81" y="113" width="11.08" height="8" fill="#3a2a25"/>
<rect x="405.74" y="113" width="11.08" height="8" fill="#1f231e"/>
<rect x="416.67" y="113" width="11.08" height="8" fill="#372924"/>
<rect x="427.6" y="113" width="11.08" height="8" fill="#452d29"/>
<rect x="438.53" y="113" width="11.08" height="8" fill="#452d29"/>
<rect x="449.46" y="113" width="11.08" height="8" fill="#402b27"/>
<rect x="318.3" y="120.85" width="11.08" height="8" fill="#aa4d48"/>
<rect x="329.23" y="120.85" width="11.08" height="8" fill="#633732"/>
<rect x="340.16" y="120.85" width="11.08" height="8" fill="#2c2a36"/>
<rect x="351.09" y="120.85" width="11.08" height="8" fill="#2a2931"/>
<rect x="362.02" y="120.85" width="11.08" height="8" fill="#2e2622"/>
<rect x="372.95" y="120.85" width="11.08" height="8" fill="#332723"/>
<rect x="383.88" y="120.85" width="11.08" height="8" fill="#25231f"/>
<rect x="394.81" y="120.85" width="11.08" height="8" fill="#3a2a25"/>
<rect x="405.74" y="120.85" width="11.08" height="8" fill="#3e2b27"/>
<rect x="416.67" y="120.85" width="11.08" height="8" fill="#372924"/>
<rect x="427.6" y="120.85" width="11.08" height="8" fill="#1f231e"/>
<rect x="438.53" y="120.85" width="11.08" height="8" fill="#402b27"/>
<rect x="449.46" y="120.85" width="11.08" height="8" fill="#332723"/>
<rect x="318.3" y="128.7" width="11.08" height="8" fill="#6c3935"/>
<rect x="329.23" y="128.7" width="11.08" height="8" fill="#7e3f3a"/>
<rect x="340.16" y="128.7" width="11.08" height="8" fill="#323249"/>
<rect x="351.09" y="128.7" width="11.08" height="8" fill="#1f231e"/>
<rect x="362.02" y="128.7" width="11.08" height="8" fill="#29272b"/>
<rect x="372.95" y="128.7" width="11.08" height="8" fill="#2c2a36"/>
<rect x="383.88" y="128.7" width="11.08" height="8" fill="#25231f"/>
<rect x="394.81" y="128.7" width="11.08" height="8" fill="#52312c"/>
<rect x="405.74" y="128.7" width="11.08" height="8" fill="#3a2a25"/>
<rect x="416.67" y="128.7" width="11.08" height="8" fill="#3a2a25"/>
<rect x="427.6" y="128.7" width="11.08" height="8" fill="#703b36"/>
<rect x="438.53" y="128.7" width="11.08" height="8" fill="#90453f"/>
<rect x="449.46" y="128.7" width="11.08" height="8" fill="#a24a45"/>
<rect x="318.3" y="136.55" width="11.08" height="8" fill="#7e3f3a"/>
<rect x="329.23" y="136.55" width="11.08" height="8" fill="#1f231e"/>
<rect x="340.16" y="136.55" width="11.08" height="8" fill="#5665bf"/>
<rect x="351.09" y="136.55" width="11.08" height="8" fill="#2d2c3a"/>
<rect x="362.02" y="136.55" width="11.08" height="8" fill="#1f231e"/>
<rect x="372.95" y="136.55" width="11.08" height="8" fill="#2a2521"/>
<rect x="383.88" y="136.55" width="11.08" height="8" fill="#262424"/>
<rect x="394.81" y="136.55" width="11.08" height="8" fill="#29272b"/>
<rect x="405.74" y="136.55" width="11.08" height="8" fill="#1f231e"/>
<rect x="416.67" y="136.55" width="11.08" height="8" fill="#2a2521"/>
<rect x="427.6" y="136.55" width="11.08" height="8" fill="#5a342f"/>
<rect x="438.53" y="136.55" width="11.08" height="8" fill="#161918"/>
<rect x="449.46" y="136.55" width="11.08" height="8" fill="#7e3f3a"/>
<rect x="318.3" y="144.4" width="11.08" height="8" fill="#703b36"/>
<rect x="329.23" y="144.4" width="11.08" height="8" fill="#323249"/>
<rect x="340.16" y="144.4" width="11.08" height="8" fill="#2a2931"/>
<rect x="351.09" y="144.4" width="11.08" height="8" fill="#161918"/>
<rect x="362.02" y="144.4" width="11.08" height="8" fill="#161918"/>
<rect x="372.95" y="144.4" width="11.08" height="8" fill="#1f231e"/>
<rect x="383.88" y="144.4" width="11.08" height="8" fill="#312723"/>
<rect x="394.81" y="144.4" width="11.08" height="8" fill="#2a2521"/>
<rect x="405.74" y="144.4" width="11.08" height="8" fill="#372924"/>
<rect x="416.67" y="144.4" width="11.08" height="8" fill="#3e2b27"/>
<rect x="427.6" y="144.4" width="11.08" height="8" fill="#633732"/>
<rect x="438.53" y="144.4" width="11.08" height="8" fill="#7e3f3a"/>
<rect x="449.46" y="144.4" width="11.08" height="8" fill="#c55550"/>
<rect x="318.3" y="152.25" width="11.08" height="8" fill="#2e2622"/>
<rect x="329.23" y="152.25" width="11.08" height="8" fill="#5665bf"/>
<rect x="340.16" y="152.25" width="11.08" height="8" fill="#262424"/>
<rect x="351.09" y="152.25" width="11.08" height="8" fill="#272626"/>
<rect x="362.02" y="152.25" width="11.08" height="8" fill="#1f231e"/>
<rect x="372.95" y="152.25" width="11.08" height="8" fill="#1f231e"/>
<rect x="383.88" y="152.25" width="11.08" height="8" fill="#312723"/>
<rect x="394.81" y="152.25" width="11.08" height="8" fill="#161918"/>
<rect x="405.74" y="152.25" width="11.08" height="8" fill="#332723"/>
<rect x="416.67" y="152.25" width="11.08" height="8" fill="#332723"/>
<rect x="427.6" y="152.25" width="11.08" height="8" fill="#5a342f"/>
<rect x="438.53" y="152.25" width="11.08" height="8" fill="#693834"/>
<rect x="449.46" y="152.25" width="11.08" height="8" fill="#a24a45"/>
<rect x="318.3" y="160.1" width="11.08" height="8" fill="#402b27"/>
<rect x="329.23" y="160.1" width="11.08" height="8" fill="#c55550"/>
<rect x="340.16" y="160.1" width="11.08" height="8" fill="#603531"/>
<rect x="351.09" y="160.1" width="11.08" height="8" fill="#302622"/>
<rect x="362.02" y="160.1" width="11.08" height="8" fill="#2c2a36"/>
<rect x="372.95" y="160.1" width="11.08" height="8" fill="#25231f"/>
<rect x="383.88" y="160.1" width="11.08" height="8" fill="#372924"/>
<rect x="394.81" y="160.1" width="11.08" height="8" fill="#372924"/>
<rect x="405.74" y="160.1" width="11.08" height="8" fill="#6c3935"/>
<rect x="416.67" y="160.1" width="11.08" height="8" fill="#52312c"/>
<rect x="427.6" y="160.1" width="11.08" height="8" fill="#b3504a"/>
<rect x="438.53" y="160.1" width="11.08" height="8" fill="#2c2521"/>
<rect x="449.46" y="160.1" width="11.08" height="8" fill="#90453f"/>
<rect x="318.3" y="167.95" width="11.08" height="8" fill="#7e3f3a"/>
<rect x="329.23" y="167.95" width="11.08" height="8" fill="#7e3f3a"/>
<rect x="340.16" y="167.95" width="11.08" height="8" fill="#1f231e"/>
<rect x="351.09" y="167.95" width="11.08" height="8" fill="#282628"/>
<rect x="362.02" y="167.95" width="11.08" height="8" fill="#25231f"/>
<rect x="372.95" y="167.95" width="11.08" height="8" fill="#2c2521"/>
<rect x="383.88" y="167.95" width="11.08" height="8" fill="#1f231e"/>
<rect x="394.81" y="167.95" width="11.08" height="8" fill="#25231f"/>
<rect x="405.74" y="167.95" width="11.08" height="8" fill="#3a2a25"/>
<rect x="416.67" y="167.95" width="11.08" height="8" fill="#3a2a25"/>
<rect x="427.6" y="167.95" width="11.08" height="8" fill="#52312c"/>
<rect x="438.53" y="167.95" width="11.08" height="8" fill="#2a282e"/>
<rect x="449.46" y="167.95" width="11.08" height="8" fill="#703b36"/>
<rect x="318.3" y="175.8" width="11.08" height="8" fill="#87423d"/>
<rect x="329.23" y="175.8" width="11.08" height="8" fill="#603531"/>
<rect x="340.16" y="175.8" width="11.08" height="8" fill="#4f5caa"/>
<rect x="351.09" y="175.8" width="11.08" height="8" fill="#492e2a"/>
<rect x="362.02" y="175.8" width="11.08" height="8" fill="#3a2a25"/>
<rect x="372.95" y="175.8" width="11.08" height="8" fill="#2e2622"/>
<rect x="383.88" y="175.8" width="11.08" height="8" fill="#1f231e"/>
<rect x="394.81" y="175.8" width="11.08" height="8" fill="#6c3935"/>
<rect x="405.74" y="175.8" width="11.08" height="8" fill="#402b27"/>
<rect x="416.67" y="175.8" width="11.08" height="8" fill="#492e2a"/>
<rect x="427.6" y="175.8" width="11.08" height="8" fill="#b3504a"/>
<rect x="438.53" y="175.8" width="11.08" height="8" fill="#452d29"/>
<rect x="449.46" y="175.8" width="11.08" height="8" fill="#703b36"/>
<rect x="318.3" y="183.65" width="11.08" height="8" fill="#994742"/>
<rect x="329.23" y="183.65" width="11.08" height="8" fill="#404678"/>
<rect x="340.16" y="183.65" width="11.08" height="8" fill="#4b569c"/>
<rect x="351.09" y="183.65" width="11.08" height="8" fill="#2e2d3d"/>
<rect x="362.02" y="183.65" width="11.08" height="8" fill="#25231f"/>
<rect x="372.95" y="183.65" width="11.08" height="8" fill="#292420"/>
<rect x="383.88" y="183.65" width="11.08" height="8" fill="#25231f"/>
<rect x="394.81" y="183.65" width="11.08" height="8" fill="#5a342f"/>
<rect x="405.74" y="183.65" width="11.08" height="8" fill="#4c2f2b"/>
<rect x="416.67" y="183.65" width="11.08" height="8" fill="#1f231e"/>
<rect x="427.6" y="183.65" width="11.08" height="8" fill="#753c37"/>
<rect x="438.53" y="183.65" width="11.08" height="8" fill="#603531"/>
<rect x="449.46" y="183.65" width="11.08" height="8" fill="#b3504a"/>
<rect x="318.3" y="191.5" width="11.08" height="8" fill="#87423d"/>
<rect x="329.23" y="191.5" width="11.08" height="8" fill="#703b36"/>
<rect x="340.16" y="191.5" width="11.08" height="8" fill="#452d29"/>
<rect x="351.09" y="191.5" width="11.08" height="8" fill="#2d2c3a"/>
<rect x="362.02" y="191.5" width="11.08" height="8" fill="#28262a"/>
<rect x="372.95" y="191.5" width="11.08" height="8" fill="#1f231e"/>
<rect x="383.88" y="191.5" width="11.08" height="8" fill="#272525"/>
<rect x="394.81" y="191.5" width="11.08" height="8" fill="#1f231e"/>
<rect x="405.74" y="191.5" width="11.08" height="8" fill="#2a2931"/>
<rect x="416.67" y="191.5" width="11.08" height="8" fill="#25231f"/>
<rect x="427.6" y="191.5" width="11.08" height="8" fill="#90453f"/>
<rect x="438.53" y="191.5" width="11.08" height="8" fill="#25231f"/>
<rect x="449.46" y="191.5" width="11.08" height="8" fill="#332723"/>
<rect x="318.3" y="199.35" width="11.08" height="8" fill="#52312c"/>
<rect x="329.23" y="199.35" width="11.08" height="8" fill="#4f5ba7"/>
<rect x="340.16" y="199.35" width="11.08" height="8" fill="#452d29"/>
<rect x="351.09" y="199.35" width="11.08" height="8" fill="#2a2521"/>
<rect x="362.02" y="199.35" width="11.08" height="8" fill="#2a2521"/>
<rect x="372.95" y="199.35" width="11.08" height="8" fill="#272525"/>
<rect x="383.88" y="199.35" width="11.08" height="8" fill="#312723"/>
<rect x="394.81" y="199.35" width="11.08" height="8" fill="#703b36"/>
<rect x="405.74" y="199.35" width="11.08" height="8" fill="#693834"/>
<rect x="416.67" y="199.35" width="11.08" height="8" fill="#57332e"/>
<rect x="427.6" y="199.35" width="11.08" height="8" fill="#994742"/>
<rect x="438.53" y="199.35" width="11.08" height="8" fill="#603531"/>
<rect x="449.46" y="199.35" width="11.08" height="8" fill="#603531"/>
<rect x="318.3" y="207.2" width="11.08" height="8" fill="#161918"/>
<rect x="329.23" y="207.2" width="11.08" height="8" fill="#272525"/>
<rect x="340.16" y="207.2" width="11.08" height="8" fill="#404678"/>
<rect x="351.09" y="207.2" width="11.08" height="8" fill="#2e2d3d"/>
<rect x="362.02" y="207.2" width="11.08" height="8" fill="#353755"/>
<rect x="372.95" y="207.2" width="11.08" height="8" fill="#353755"/>
<rect x="383.88" y="207.2" width="11.08" height="8" fill="#1f231e"/>
<rect x="394.81" y="207.2" width="11.08" height="8" fill="#52312c"/>
<rect x="405.74" y="207.2" width="11.08" height="8" fill="#393c60"/>
<rect x="416.67" y="207.2" width="11.08" height="8" fill="#302622"/>
<rect x="427.6" y="207.2" width="11.08" height="8" fill="#1f231e"/>
<rect x="438.53" y="207.2" width="11.08" height="8" fill="#29272b"/>
<rect x="449.46" y="207.2" width="11.08" height="8" fill="#372924"/>
<rect x="318.3" y="215.05" width="11.08" height="8" fill="#4e5aa5"/>
<rect x="329.23" y="215.05" width="11.08" height="8" fill="#4d58a0"/>
<rect x="340.16" y="215.05" width="11.08" height="8" fill="#4d58a0"/>
<rect x="351.09" y="215.05" width="11.08" height="8" fill="#323249"/>
<rect x="362.02" y="215.05" width="11.08" height="8" fill="#272525"/>
<rect x="372.95" y="215.05" width="11.08" height="8" fill="#262424"/>
<rect x="383.88" y="215.05" width="11.08" height="8" fill="#262424"/>
<rect x="394.81" y="215.05" width="11.08" height="8" fill="#161918"/>
<rect x="405.74" y="215.05" width="11.08" height="8" fill="#2a282e"/>
<rect x="416.67" y="215.05" width="11.08" height="8" fill="#1f231e"/>
<rect x="427.6" y="215.05" width="11.08" height="8" fill="#2d2c3a"/>
<rect x="438.53" y="215.05" width="11.08" height="8" fill="#343550"/>
<rect x="449.46" y="215.05" width="11.08" height="8" fill="#343550"/>
<rect x="318.3" y="222.9" width="11.08" height="8" fill="#4a5497"/>
<rect x="329.23" y="222.9" width="11.08" height="8" fill="#4a5497"/>
<rect x="340.16" y="222.9" width="11.08" height="8" fill="#323249"/>
<rect x="351.09" y="222.9" width="11.08" height="8" fill="#3e4371"/>
<rect x="362.02" y="222.9" width="11.08" height="8" fill="#2e2d3d"/>
<rect x="372.95" y="222.9" width="11.08" height="8" fill="#2d2c3a"/>
<rect x="383.88" y="222.9" width="11.08" height="8" fill="#262424"/>
<rect x="394.81" y="222.9" width="11.08" height="8" fill="#2d2c3a"/>
<rect x="405.74" y="222.9" width="11.08" height="8" fill="#2d2c3a"/>
<rect x="416.67" y="222.9" width="11.08" height="8" fill="#1f231e"/>
<rect x="427.6" y="222.9" width="11.08" height="8" fill="#161918"/>
<rect x="438.53" y="222.9" width="11.08" height="8" fill="#5a342f"/>
<rect x="449.46" y="222.9" width="11.08" height="8" fill="#5a342f"/>
</g>
<rect x="307" y="104.7" width="155" height="0.9" fill="#fff"/>
<rect x="307" y="206.75" width="155" height="0.9" fill="#fff"/>
<rect x="309" y="73.75" width="7" height="30.95" fill="#b5d88a"/>
<rect x="309" y="105.6" width="7" height="101.15" fill="#e3919c"/>
<rect x="309" y="207.65" width="7" height="23.1" fill="#98a6d8"/>
<g font-size="5.8" fill="#111">
<text x="463.6" y="79.45">CTCL017NT01</text>
<text x="463.6" y="87.3">CTCL017NT02</text>
<text x="463.6" y="95.15">CTCL026RB01</text>
<text x="463.6" y="103">CTCL029MJ01</text>
<text x="463.6" y="110.85">CTCL004PJ02</text>
<text x="463.6" y="118.7">CTCL005AG02</text>
<text x="463.6" y="126.55">CTCL008PB01</text>
<text x="463.6" y="134.4">CTCL010SF01</text>
<text x="463.6" y="142.25">CTCL014MW01</text>
<text x="463.6" y="150.1">CTCL036JC01</text>
<text x="463.6" y="157.95">CTCL036JC02</text>
<text x="463.6" y="165.8">CTCL047MW01</text>
<text x="463.6" y="173.65">CTCL049ED01</text>
<text x="463.6" y="181.5">CTCL052KW01</text>
<text x="463.6" y="189.35">CTCL054LB01</text>
<text x="463.6" y="197.2">CTCL056CW01</text>
<text x="463.6" y="205.05">CTCL057KW01</text>
<text x="463.6" y="212.9">CTCL007BR01</text>
<text x="463.6" y="220.75">CTCL024WL01</text>
<text x="463.6" y="228.6">CTCL032SC01</text>
</g>
<g font-size="7" fill="#1a1a1a">
<text transform="translate(324.37,234.95) rotate(-48)" text-anchor="end">hladr</text>
<text transform="translate(335.3,234.95) rotate(-48)" text-anchor="end">fas</text>
<text transform="translate(346.23,234.95) rotate(-48)" text-anchor="end">pdl1</text>
<text transform="translate(357.16,234.95) rotate(-48)" text-anchor="end">treg</text>
<text transform="translate(368.09,234.95) rotate(-48)" text-anchor="end">lag3</text>
<text transform="translate(379.02,234.95) rotate(-48)" text-anchor="end">fasl</text>
<text transform="translate(389.95,234.95) rotate(-48)" text-anchor="end">gal9</text>
<text transform="translate(400.88,234.95) rotate(-48)" text-anchor="end">cd25</text>
<text transform="translate(411.81,234.95) rotate(-48)" text-anchor="end">pdl2</text>
<text transform="translate(422.74,234.95) rotate(-48)" text-anchor="end">tim3</text>
<text transform="translate(433.67,234.95) rotate(-48)" text-anchor="end">mhc1</text>
<text transform="translate(444.6,234.95) rotate(-48)" text-anchor="end">tigit</text>
<text transform="translate(455.53,234.95) rotate(-48)" text-anchor="end">pd1</text>
</g>
<path d="M367.49,73.75 V70.4 H378.42 V73.75 M372.95,70.4 V68.4 H389.35 V73.75 M356.56,73.75 V66 H381.15 V68.4 M411.21,73.75 V67.5 H422.13 V73.75 M400.27,73.75 V65 H416.67 V67.5 M368.85,66 V61.6 H408.47 V65 M345.62,73.75 V54.5 H388.66 V61.6 M334.69,73.75 V43.6 H367.14 V54.5 M444,73.75 V57.7 H454.93 V73.75 M433.06,73.75 V54.2 H449.46 V57.7 M350.92,43.6 V37.7 H441.26 V54.2 M323.76,73.75 V27.6 H396.09 V37.7" fill="none" stroke="#1a1a1a" stroke-width="0.85"/>
<defs><linearGradient id="kg" x1="0" x2="1" y1="0" y2="0"><stop offset="0" stop-color="#6f69b4"/><stop offset="0.14" stop-color="#6e699f"/><stop offset="0.24" stop-color="#6b5f68"/><stop offset="0.36" stop-color="#7d5c58"/><stop offset="0.6" stop-color="#c77b73"/><stop offset="1" stop-color="#e4897f"/></linearGradient></defs>
<rect x="275.2" y="28.9" width="28.5" height="22.7" fill="url(#kg)" stroke="#1a1a1a" stroke-width="0.8"/>
<path d="M275.6,50.6 H279.5 L280.3,49 L281,45 L281.6,38 L282.2,30.5 L282.7,30 L283.3,37 L284,44.5 L284.8,45.5 L285.6,44 L286.4,45.8 L287.2,48.5 L288.5,49.8 L291,50.3 H303.3" fill="none" stroke="#72d4ee" stroke-width="0.9"/>
<text x="289.3" y="26.3" font-size="5.2" text-anchor="middle" fill="#1a1a1a">Key</text>
<g stroke="#1a1a1a" stroke-width="0.7">
<line x1="277.2" x2="277.2" y1="51.6" y2="54.2"/>
<line x1="281.58" x2="281.58" y1="51.6" y2="54.2"/>
<line x1="285.96" x2="285.96" y1="51.6" y2="54.2"/>
<line x1="290.34" x2="290.34" y1="51.6" y2="54.2"/>
<line x1="294.72" x2="294.72" y1="51.6" y2="54.2"/>
<line x1="299.1" x2="299.1" y1="51.6" y2="54.2"/>
<line x1="303.48" x2="303.48" y1="51.6" y2="54.2"/>
<line x1="272.8" x2="275.2" y1="51" y2="51"/>
<line x1="272.8" x2="275.2" y1="46.1" y2="46.1"/>
<line x1="272.8" x2="275.2" y1="41.2" y2="41.2"/>
<line x1="272.8" x2="275.2" y1="36.3" y2="36.3"/>
<line x1="272.8" x2="275.2" y1="31.4" y2="31.4"/>
</g>
<g font-size="5.4" fill="#1a1a1a" text-anchor="middle">
<text x="276.4" y="60.6">-1</text>
<text x="285.96" y="60.6">1</text>
<text x="290.34" y="60.6">2</text>
<text x="294.72" y="60.6">3</text>
<text x="299.1" y="60.6">4</text>
<text x="303.48" y="60.6">5</text>
</g>
<g font-size="4.6" fill="#1a1a1a" text-anchor="middle">
<text transform="translate(271.3,51) rotate(-90)">0</text>
<text transform="translate(271.3,46.1) rotate(-90)">2</text>
<text transform="translate(271.3,41.2) rotate(-90)">4</text>
<text transform="translate(271.3,36.3) rotate(-90)">6</text>
<text transform="translate(271.3,31.4) rotate(-90)">8</text>
</g>
<text x="289.6" y="70.2" font-size="8" text-anchor="middle" fill="#1a1a1a" textLength="40" lengthAdjust="spacingAndGlyphs">Fold change</text>
<text transform="translate(264,39.6) rotate(-90)" font-size="8" text-anchor="middle" fill="#1a1a1a">Count</text>
<text x="275" y="229.9" font-size="4.8" fill="#1a1a1a">Group</text>
<rect x="275.2" y="233.5" width="2.7" height="2.7" fill="#8fc15c" stroke="#777" stroke-width="0.3"/>
<text x="281" y="236.6" font-size="4.9" fill="#1a1a1a">evasive</text>
<rect x="275.2" y="239.8" width="2.7" height="2.7" fill="#d9707e" stroke="#777" stroke-width="0.3"/>
<text x="281" y="242.9" font-size="4.9" fill="#1a1a1a">exhausted</text>
<rect x="275.2" y="246.1" width="2.7" height="2.7" fill="#7d8fd0" stroke="#777" stroke-width="0.3"/>
<text x="281" y="249.2" font-size="4.9" fill="#1a1a1a">cold</text>
</g>
<g id="pC">
<text x="7.6" y="304.8" font-size="11.3" fill="#1a1a1a">C</text>
<rect x="34.3" y="307.5" width="32.2" height="9.5" fill="#cdc7c9" stroke="#1c1c1c" stroke-width="1.3"/>
<text x="44.05" y="315" font-size="6.8" textLength="12.7" lengthAdjust="spacingAndGlyphs" fill="#2a2a2a">PD-1</text>
<rect x="34.3" y="317" width="32.2" height="83.1" fill="#fff" stroke="#161616" stroke-width="1.3"/>
<path d="M40.49,366.8 40.43,367 40.38,367.2 40.32,367.4 40.26,367.6 40.2,367.8 40.15,368 40.09,368.2 40.03,368.4 39.96,368.6 39.82,368.8 39.6,369 39.36,369.2 39.12,369.4 38.88,369.6 38.64,369.8 38.5,370 38.64,370.2 38.88,370.4 39.12,370.6 39.36,370.8 39.6,371 39.82,371.2 39.96,371.4 40.03,371.6 40.09,371.8 40.15,372 40.2,372.2 40.26,372.4 40.32,372.6 40.38,372.8 40.43,373 40.49,373.2 L40.71,373.2 40.77,373 40.82,372.8 40.88,372.6 40.94,372.4 41,372.2 41.05,372 41.11,371.8 41.17,371.6 41.24,371.4 41.38,371.2 41.6,371 41.84,370.8 42.08,370.6 42.32,370.4 42.56,370.2 42.7,370 42.56,369.8 42.32,369.6 42.08,369.4 41.84,369.2 41.6,369 41.38,368.8 41.24,368.6 41.17,368.4 41.11,368.2 41.05,368 41,367.8 40.94,367.6 40.88,367.4 40.82,367.2 40.77,367 40.71,366.8 Z" fill="#97cf62" fill-opacity="0.66" stroke="#4f8f2a" stroke-width="0.5"/><path d="M40.6,367.12 V372.88" stroke="#4f8f2a" stroke-width="0.4" fill="none"/><rect x="39.94" y="368.91" width="1.32" height="2.18" fill="#4f8f2a" fill-opacity="0.6" stroke="#4f8f2a" stroke-width="0.35"/><path d="M39.64,370 H41.56" stroke="#222" stroke-width="0.5"/><path d="M40.71,367.94h0M40.48,371.49h0M40.51,369.97h0" stroke="#1a1a1a" stroke-width="0.95" stroke-linecap="round" fill="none" stroke-opacity="0.9"/>
<path d="M49.95,337.2 49.93,338.24 49.9,339.29 49.87,340.33 49.85,341.38 49.82,342.42 49.79,343.46 49.76,344.51 49.68,345.55 49.43,346.59 49.12,347.64 48.81,348.68 48.53,349.73 48.34,350.77 48.19,351.81 48.05,352.86 47.93,353.9 47.87,354.94 47.84,355.99 47.8,357.03 47.79,358.07 47.83,359.12 47.87,360.16 47.92,361.21 47.97,362.25 48.03,363.29 48.14,364.34 48.32,365.38 48.52,366.43 48.72,367.47 48.98,368.51 49.32,369.56 49.68,370.6 L51.32,370.6 51.68,369.56 52.02,368.51 52.28,367.47 52.48,366.43 52.68,365.38 52.86,364.34 52.97,363.29 53.03,362.25 53.08,361.21 53.13,360.16 53.17,359.12 53.21,358.07 53.2,357.03 53.16,355.99 53.13,354.94 53.07,353.9 52.95,352.86 52.81,351.81 52.66,350.77 52.47,349.73 52.19,348.68 51.88,347.64 51.57,346.59 51.32,345.55 51.24,344.51 51.21,343.46 51.18,342.42 51.15,341.38 51.13,340.33 51.1,339.29 51.07,338.24 51.05,337.2 Z" fill="#d4565f" fill-opacity="0.66" stroke="#97232f" stroke-width="0.5"/><path d="M50.5,338.87 V368.93" stroke="#97232f" stroke-width="0.4" fill="none"/><rect x="49.68" y="352.4" width="1.64" height="11.36" fill="#97232f" fill-opacity="0.6" stroke="#97232f" stroke-width="0.35"/><path d="M49.38,358.07 H51.62" stroke="#222" stroke-width="0.5"/><path d="M51.03,367.3h0M50.28,340.87h0M50.97,363.76h0M50.04,358.89h0M50.76,357.01h0M49.68,356.29h0M50.28,351.86h0M51.65,360.45h0" stroke="#1a1a1a" stroke-width="0.95" stroke-linecap="round" fill="none" stroke-opacity="0.9"/>
<path d="M58.83,364 58.7,364.44 58.58,364.89 58.52,365.33 58.51,365.77 58.52,366.22 58.52,366.66 58.53,367.11 58.54,367.55 58.54,367.99 58.55,368.44 58.56,368.88 58.56,369.32 58.57,369.77 58.58,370.21 58.58,370.66 58.59,371.1 58.6,371.54 58.6,371.99 58.62,372.43 58.67,372.88 58.73,373.32 58.8,373.76 58.87,374.21 58.94,374.65 59.01,375.09 59.08,375.54 59.15,375.98 59.25,376.43 59.37,376.87 59.48,377.31 59.6,377.76 59.71,378.2 L61.69,378.2 61.8,377.76 61.92,377.31 62.03,376.87 62.15,376.43 62.25,375.98 62.32,375.54 62.39,375.09 62.46,374.65 62.53,374.21 62.6,373.76 62.67,373.32 62.73,372.88 62.78,372.43 62.8,371.99 62.8,371.54 62.81,371.1 62.82,370.66 62.82,370.21 62.83,369.77 62.84,369.32 62.84,368.88 62.85,368.44 62.86,367.99 62.86,367.55 62.87,367.11 62.88,366.66 62.88,366.22 62.89,365.77 62.88,365.33 62.82,364.89 62.7,364.44 62.57,364 Z" fill="#7389c2" fill-opacity="0.66" stroke="#2f4988" stroke-width="0.5"/><path d="M60.7,364.71 V377.49" stroke="#2f4988" stroke-width="0.4" fill="none"/><rect x="60.04" y="365.42" width="1.32" height="2.77" fill="#2f4988" fill-opacity="0.6" stroke="#2f4988" stroke-width="0.35"/><path d="M59.74,366.13 H61.66" stroke="#222" stroke-width="0.5"/><path d="M60.79,367.83h0M60.9,369.47h0M59.91,372.67h0M61.28,365.02h0M60.18,368.09h0M60.67,377.29h0" stroke="#1a1a1a" stroke-width="0.95" stroke-linecap="round" fill="none" stroke-opacity="0.9"/>
<circle cx="40.6" cy="320" r="0.66" fill="#262626"/>
<rect x="34.3" y="403.2" width="32.2" height="39.8" fill="#fff" stroke="#161616" stroke-width="1.3"/>
<path d="M38.66,423.5 38.42,423.63 38.23,423.76 38.18,423.88 38.18,424.01 38.18,424.14 38.18,424.27 38.18,424.4 38.18,424.52 38.18,424.65 38.18,424.78 38.18,424.91 38.18,425.04 38.18,425.17 38.18,425.29 38.18,425.42 38.18,425.55 38.18,425.68 38.18,425.81 38.18,425.93 38.18,426.06 38.18,426.19 38.18,426.32 38.18,426.45 38.18,426.58 38.18,426.7 38.18,426.83 38.18,426.96 38.18,427.09 38.18,427.22 38.23,427.34 38.42,427.47 38.66,427.6 L42.54,427.6 42.78,427.47 42.97,427.34 43.02,427.22 43.02,427.09 43.02,426.96 43.02,426.83 43.02,426.7 43.02,426.58 43.02,426.45 43.02,426.32 43.02,426.19 43.02,426.06 43.02,425.93 43.02,425.81 43.02,425.68 43.02,425.55 43.02,425.42 43.02,425.29 43.02,425.17 43.02,425.04 43.02,424.91 43.02,424.78 43.02,424.65 43.02,424.52 43.02,424.4 43.02,424.27 43.02,424.14 43.02,424.01 43.02,423.88 42.97,423.76 42.78,423.63 42.54,423.5 Z" fill="#97cf62" fill-opacity="0.66" stroke="#4f8f2a" stroke-width="0.5"/><path d="M39.74,424.6h0M39.85,425.17h0M40.39,423.99h0" stroke="#1a1a1a" stroke-width="0.95" stroke-linecap="round" fill="none" stroke-opacity="0.9"/>
<path d="M49.71,416.4 49.72,416.82 49.73,417.25 49.74,417.67 49.75,418.1 49.76,418.52 49.77,418.95 49.78,419.38 49.79,419.8 49.8,420.22 49.81,420.65 49.82,421.07 49.83,421.5 49.79,421.93 49.62,422.35 49.37,422.77 49.11,423.2 48.85,423.62 48.6,424.05 48.4,424.47 48.25,424.9 48.12,425.32 47.99,425.75 47.91,426.18 47.99,426.6 48.11,427.02 48.24,427.45 48.38,427.88 48.54,428.3 48.73,428.73 48.92,429.15 49.12,429.57 49.31,430 L51.69,430 51.88,429.57 52.08,429.15 52.27,428.73 52.46,428.3 52.62,427.88 52.76,427.45 52.89,427.02 53.01,426.6 53.09,426.18 53.01,425.75 52.88,425.32 52.75,424.9 52.6,424.47 52.4,424.05 52.15,423.62 51.89,423.2 51.63,422.77 51.38,422.35 51.21,421.93 51.17,421.5 51.18,421.07 51.19,420.65 51.2,420.22 51.21,419.8 51.22,419.38 51.23,418.95 51.24,418.52 51.25,418.1 51.26,417.67 51.27,417.25 51.28,416.82 51.29,416.4 Z" fill="#d4565f" fill-opacity="0.66" stroke="#97232f" stroke-width="0.5"/><path d="M50.5,417.08 V429.32" stroke="#97232f" stroke-width="0.4" fill="none"/><rect x="49.71" y="423.86" width="1.58" height="4.62" fill="#97232f" fill-opacity="0.6" stroke="#97232f" stroke-width="0.35"/><path d="M49.41,426.18 H51.59" stroke="#222" stroke-width="0.5"/><path d="M50.99,424.67h0M51.43,426.73h0M51.46,426.07h0M50.48,417.56h0M50.71,428.51h0" stroke="#1a1a1a" stroke-width="0.95" stroke-linecap="round" fill="none" stroke-opacity="0.9"/>
<path d="M60.52,422.6 60.49,422.78 60.46,422.96 60.42,423.14 60.39,423.33 60.36,423.51 60.32,423.69 60.29,423.87 60.26,424.05 60.22,424.23 60.19,424.41 60.15,424.59 60.12,424.77 60.09,424.96 60.04,425.14 59.95,425.32 59.82,425.5 59.68,425.68 59.54,425.86 59.41,426.04 59.27,426.23 59.13,426.41 58.99,426.59 58.86,426.77 58.72,426.95 58.6,427.13 58.54,427.31 58.57,427.49 58.62,427.67 58.68,427.86 58.73,428.04 58.78,428.22 58.83,428.4 L62.57,428.4 62.62,428.22 62.67,428.04 62.72,427.86 62.78,427.67 62.83,427.49 62.86,427.31 62.8,427.13 62.68,426.95 62.54,426.77 62.4,426.59 62.27,426.41 62.13,426.23 61.99,426.04 61.85,425.86 61.72,425.68 61.58,425.5 61.45,425.32 61.36,425.14 61.31,424.96 61.28,424.77 61.25,424.59 61.21,424.41 61.18,424.23 61.14,424.05 61.11,423.87 61.08,423.69 61.04,423.51 61.01,423.33 60.98,423.14 60.94,422.96 60.91,422.78 60.88,422.6 Z" fill="#7389c2" fill-opacity="0.66" stroke="#2f4988" stroke-width="0.5"/><path d="M61.32,427h0M60.52,425.42h0M60.73,422.95h0" stroke="#1a1a1a" stroke-width="0.95" stroke-linecap="round" fill="none" stroke-opacity="0.9"/>
<text x="40.9" y="408.1" font-size="5.3" text-anchor="middle" fill="#3a3a3a">ns</text>
<rect x="34.3" y="446.2" width="32.2" height="36.3" fill="#fff" stroke="#161616" stroke-width="1.3"/>
<path d="M38.66,468 38.42,468.14 38.23,468.28 38.18,468.42 38.18,468.56 38.18,468.7 38.18,468.84 38.18,468.98 38.18,469.12 38.18,469.27 38.18,469.41 38.18,469.55 38.18,469.69 38.18,469.83 38.18,469.97 38.18,470.11 38.18,470.25 38.18,470.39 38.18,470.53 38.18,470.67 38.18,470.81 38.18,470.95 38.18,471.09 38.18,471.23 38.18,471.38 38.18,471.52 38.18,471.66 38.18,471.8 38.18,471.94 38.18,472.08 38.23,472.22 38.42,472.36 38.66,472.5 L42.54,472.5 42.78,472.36 42.97,472.22 43.02,472.08 43.02,471.94 43.02,471.8 43.02,471.66 43.02,471.52 43.02,471.38 43.02,471.23 43.02,471.09 43.02,470.95 43.02,470.81 43.02,470.67 43.02,470.53 43.02,470.39 43.02,470.25 43.02,470.11 43.02,469.97 43.02,469.83 43.02,469.69 43.02,469.55 43.02,469.41 43.02,469.27 43.02,469.12 43.02,468.98 43.02,468.84 43.02,468.7 43.02,468.56 43.02,468.42 42.97,468.28 42.78,468.14 42.54,468 Z" fill="#97cf62" fill-opacity="0.66" stroke="#4f8f2a" stroke-width="0.5"/><path d="M39.84,469.55h0M39.67,470.85h0M40.31,470.39h0" stroke="#1a1a1a" stroke-width="0.95" stroke-linecap="round" fill="none" stroke-opacity="0.9"/>
<path d="M49.18,461.6 49.18,461.99 49.18,462.39 49.17,462.78 49.12,463.18 49.04,463.57 48.94,463.96 48.85,464.36 48.75,464.75 48.65,465.14 48.56,465.54 48.46,465.93 48.37,466.32 48.28,466.72 48.19,467.11 48.1,467.51 48.01,467.9 47.93,468.29 47.92,468.69 47.99,469.08 48.08,469.48 48.17,469.87 48.26,470.26 48.35,470.66 48.45,471.05 48.57,471.44 48.69,471.84 48.82,472.23 48.94,472.62 49.07,473.02 49.19,473.41 49.32,473.81 49.44,474.2 L51.56,474.2 51.68,473.81 51.81,473.41 51.93,473.02 52.06,472.62 52.18,472.23 52.31,471.84 52.43,471.44 52.55,471.05 52.65,470.66 52.74,470.26 52.83,469.87 52.92,469.48 53.01,469.08 53.08,468.69 53.07,468.29 52.99,467.9 52.9,467.51 52.81,467.11 52.72,466.72 52.63,466.32 52.54,465.93 52.44,465.54 52.35,465.14 52.25,464.75 52.15,464.36 52.06,463.96 51.96,463.57 51.88,463.18 51.83,462.78 51.82,462.39 51.82,461.99 51.82,461.6 Z" fill="#d4565f" fill-opacity="0.66" stroke="#97232f" stroke-width="0.5"/><path d="M50.5,462.23 V473.57" stroke="#97232f" stroke-width="0.4" fill="none"/><rect x="49.71" y="466.55" width="1.58" height="4.28" fill="#97232f" fill-opacity="0.6" stroke="#97232f" stroke-width="0.35"/><path d="M49.41,468.69 H51.59" stroke="#222" stroke-width="0.5"/><path d="M51.2,464.87h0M50.75,463.76h0M50.2,463.3h0M50.22,473.43h0M50.41,469.47h0" stroke="#1a1a1a" stroke-width="0.95" stroke-linecap="round" fill="none" stroke-opacity="0.9"/>
<path d="M58.59,462 58.32,462.47 58.11,462.94 58.06,463.41 58.06,463.88 58.06,464.34 58.06,464.81 58.06,465.28 58.06,465.75 58.06,466.22 58.06,466.69 58.06,467.16 58.06,467.62 58.06,468.09 58.06,468.56 58.06,469.03 58.06,469.5 58.06,469.97 58.06,470.44 58.06,470.91 58.06,471.38 58.06,471.84 58.06,472.31 58.06,472.78 58.06,473.25 58.06,473.72 58.06,474.19 58.06,474.66 58.06,475.12 58.06,475.59 58.11,476.06 58.32,476.53 58.59,477 L62.81,477 63.08,476.53 63.29,476.06 63.34,475.59 63.34,475.12 63.34,474.66 63.34,474.19 63.34,473.72 63.34,473.25 63.34,472.78 63.34,472.31 63.34,471.84 63.34,471.38 63.34,470.91 63.34,470.44 63.34,469.97 63.34,469.5 63.34,469.03 63.34,468.56 63.34,468.09 63.34,467.62 63.34,467.16 63.34,466.69 63.34,466.22 63.34,465.75 63.34,465.28 63.34,464.81 63.34,464.34 63.34,463.88 63.34,463.41 63.29,462.94 63.08,462.47 62.81,462 Z" fill="#7389c2" fill-opacity="0.66" stroke="#2f4988" stroke-width="0.5"/><path d="M60.7,462.75 V476.25" stroke="#2f4988" stroke-width="0.4" fill="none"/><rect x="59.91" y="463.5" width="1.58" height="2.46" fill="#2f4988" fill-opacity="0.6" stroke="#2f4988" stroke-width="0.35"/><path d="M59.61,464.25 H61.79" stroke="#222" stroke-width="0.5"/><path d="M60.4,469.01h0M61.57,464.73h0M60.71,462.98h0M59.7,474.76h0M60.98,470.22h0M60.43,463.44h0" stroke="#1a1a1a" stroke-width="0.95" stroke-linecap="round" fill="none" stroke-opacity="0.9"/>
<text x="40.9" y="451.1" font-size="5.3" text-anchor="middle" fill="#3a3a3a">ns</text>
<rect x="68.9" y="307.5" width="32.2" height="9.5" fill="#cdc7c9" stroke="#1c1c1c" stroke-width="1.3"/>
<text x="77.05" y="315" font-size="6.8" textLength="15.9" lengthAdjust="spacingAndGlyphs" fill="#2a2a2a">PD-L1</text>
<rect x="68.9" y="317" width="32.2" height="83.1" fill="#fff" stroke="#161616" stroke-width="1.3"/>
<path d="M74.72,352 74.71,352.52 74.71,353.03 74.71,353.55 74.7,354.06 74.7,354.58 74.7,355.09 74.69,355.61 74.69,356.12 74.69,356.64 74.68,357.16 74.68,357.67 74.68,358.19 74.67,358.7 74.66,359.22 74.58,359.73 74.35,360.25 74.08,360.77 73.81,361.28 73.55,361.8 73.32,362.31 73.16,362.83 73.04,363.34 72.91,363.86 72.83,364.38 72.91,364.89 73.04,365.41 73.16,365.92 73.3,366.44 73.46,366.95 73.64,367.47 73.81,367.98 73.99,368.5 L76.41,368.5 76.59,367.98 76.76,367.47 76.94,366.95 77.1,366.44 77.24,365.92 77.36,365.41 77.49,364.89 77.57,364.38 77.49,363.86 77.36,363.34 77.24,362.83 77.08,362.31 76.85,361.8 76.59,361.28 76.32,360.77 76.05,360.25 75.82,359.73 75.74,359.22 75.73,358.7 75.72,358.19 75.72,357.67 75.72,357.16 75.71,356.64 75.71,356.12 75.71,355.61 75.7,355.09 75.7,354.58 75.7,354.06 75.69,353.55 75.69,353.03 75.69,352.52 75.68,352 Z" fill="#97cf62" fill-opacity="0.66" stroke="#4f8f2a" stroke-width="0.5"/><path d="M75.2,352.82 V367.68" stroke="#4f8f2a" stroke-width="0.4" fill="none"/><rect x="74.47" y="361.57" width="1.45" height="5.28" fill="#4f8f2a" fill-opacity="0.6" stroke="#4f8f2a" stroke-width="0.35"/><path d="M74.17,364.38 H76.23" stroke="#222" stroke-width="0.5"/><path d="M75.11,361.29h0M74.8,361.38h0M75.83,364.8h0M74.58,362.48h0M75.04,360.55h0M75.41,356.62h0" stroke="#1a1a1a" stroke-width="0.95" stroke-linecap="round" fill="none" stroke-opacity="0.9"/>
<path d="M84.48,362.6 84.47,363.33 84.46,364.06 84.45,364.79 84.43,365.53 84.42,366.26 84.41,366.99 84.39,367.72 84.38,368.45 84.35,369.18 84.21,369.91 83.96,370.64 83.67,371.38 83.39,372.11 83.15,372.84 82.95,373.57 82.79,374.3 82.75,375.03 82.9,375.76 83.1,376.49 83.33,377.23 83.65,377.96 84,378.69 84.28,379.42 84.37,380.15 84.39,380.88 84.4,381.61 84.42,382.34 84.43,383.07 84.44,383.81 84.46,384.54 84.47,385.27 84.48,386 L85.72,386 85.73,385.27 85.74,384.54 85.76,383.81 85.77,383.07 85.78,382.34 85.8,381.61 85.81,380.88 85.83,380.15 85.92,379.42 86.2,378.69 86.55,377.96 86.87,377.23 87.1,376.49 87.3,375.76 87.45,375.03 87.41,374.3 87.25,373.57 87.05,372.84 86.81,372.11 86.53,371.38 86.24,370.64 85.99,369.91 85.85,369.18 85.82,368.45 85.81,367.72 85.79,366.99 85.78,366.26 85.77,365.53 85.75,364.79 85.74,364.06 85.73,363.33 85.72,362.6 Z" fill="#d4565f" fill-opacity="0.66" stroke="#97232f" stroke-width="0.5"/><path d="M85.1,363.77 V384.83" stroke="#97232f" stroke-width="0.4" fill="none"/><rect x="84.36" y="371.05" width="1.48" height="7.96" fill="#97232f" fill-opacity="0.6" stroke="#97232f" stroke-width="0.35"/><path d="M84.06,375.03 H86.14" stroke="#222" stroke-width="0.5"/><path d="M85.21,373.32h0M85.08,383.04h0M85.28,374.46h0M85.11,367.81h0M85.55,376.97h0M84.98,365.94h0M85.28,365.87h0M84.67,378.28h0" stroke="#1a1a1a" stroke-width="0.95" stroke-linecap="round" fill="none" stroke-opacity="0.9"/>
<path d="M94.64,377.6 94.37,377.93 94.09,378.25 93.82,378.58 93.55,378.9 93.35,379.23 93.29,379.55 93.26,379.88 93.23,380.2 93.2,380.53 93.18,380.85 93.15,381.18 93.12,381.5 93.12,381.82 93.16,382.15 93.2,382.48 93.25,382.8 93.29,383.12 93.34,383.45 93.38,383.78 93.43,384.1 93.48,384.43 93.53,384.75 93.6,385.07 93.69,385.4 93.78,385.73 93.87,386.05 93.96,386.38 94.05,386.7 94.15,387.02 94.24,387.35 94.33,387.68 94.42,388 L96.18,388 96.27,387.68 96.36,387.35 96.46,387.02 96.55,386.7 96.64,386.38 96.73,386.05 96.82,385.73 96.91,385.4 97,385.07 97.07,384.75 97.12,384.43 97.17,384.1 97.22,383.78 97.26,383.45 97.31,383.12 97.35,382.8 97.4,382.48 97.45,382.15 97.48,381.82 97.48,381.5 97.45,381.18 97.42,380.85 97.4,380.53 97.37,380.2 97.34,379.88 97.31,379.55 97.25,379.23 97.05,378.9 96.79,378.58 96.51,378.25 96.24,377.93 95.96,377.6 Z" fill="#7389c2" fill-opacity="0.66" stroke="#2f4988" stroke-width="0.5"/><path d="M95.3,378.12 V387.48" stroke="#2f4988" stroke-width="0.4" fill="none"/><rect x="94.64" y="380.06" width="1.32" height="3.54" fill="#2f4988" fill-opacity="0.6" stroke="#2f4988" stroke-width="0.35"/><path d="M94.34,381.82 H96.26" stroke="#222" stroke-width="0.5"/><path d="M95.6,382.57h0M94.72,384.32h0M95.21,378.32h0M95.88,380.73h0" stroke="#1a1a1a" stroke-width="0.95" stroke-linecap="round" fill="none" stroke-opacity="0.9"/>
<circle cx="75.2" cy="320" r="0.66" fill="#262626"/>
<rect x="68.9" y="403.2" width="32.2" height="39.8" fill="#fff" stroke="#161616" stroke-width="1.3"/>
<path d="M73.26,422 73.02,422.43 72.83,422.85 72.78,423.27 72.78,423.7 72.78,424.12 72.78,424.55 72.78,424.98 72.78,425.4 72.78,425.82 72.78,426.25 72.78,426.68 72.78,427.1 72.78,427.53 72.78,427.95 72.78,428.38 72.78,428.8 72.78,429.23 72.78,429.65 72.78,430.07 72.78,430.5 72.78,430.93 72.78,431.35 72.78,431.78 72.78,432.2 72.78,432.62 72.78,433.05 72.78,433.48 72.78,433.9 72.78,434.33 72.83,434.75 73.02,435.18 73.26,435.6 L77.14,435.6 77.38,435.18 77.57,434.75 77.62,434.33 77.62,433.9 77.62,433.48 77.62,433.05 77.62,432.62 77.62,432.2 77.62,431.78 77.62,431.35 77.62,430.93 77.62,430.5 77.62,430.07 77.62,429.65 77.62,429.23 77.62,428.8 77.62,428.38 77.62,427.95 77.62,427.53 77.62,427.1 77.62,426.68 77.62,426.25 77.62,425.82 77.62,425.4 77.62,424.98 77.62,424.55 77.62,424.12 77.62,423.7 77.62,423.27 77.57,422.85 77.38,422.43 77.14,422 Z" fill="#97cf62" fill-opacity="0.66" stroke="#4f8f2a" stroke-width="0.5"/><path d="M75.2,422.68 V434.92" stroke="#4f8f2a" stroke-width="0.4" fill="none"/><rect x="74.47" y="423.36" width="1.45" height="2.23" fill="#4f8f2a" fill-opacity="0.6" stroke="#4f8f2a" stroke-width="0.35"/><path d="M74.17,424.04 H76.23" stroke="#222" stroke-width="0.5"/><path d="M75.6,425.92h0M75.96,431h0M74.61,425.04h0M74.6,424.58h0M74.39,431.6h0" stroke="#1a1a1a" stroke-width="0.95" stroke-linecap="round" fill="none" stroke-opacity="0.9"/>
<path d="M84.44,421.6 84.44,422.21 84.44,422.81 84.44,423.42 84.44,424.03 84.44,424.63 84.44,425.24 84.44,425.84 84.44,426.45 84.44,427.06 84.44,427.66 84.44,428.27 84.44,428.88 84.4,429.48 84.22,430.09 83.95,430.69 83.67,431.3 83.39,431.91 83.13,432.51 82.94,433.12 82.8,433.73 82.66,434.33 82.55,434.94 82.57,435.54 82.68,436.15 82.82,436.76 82.98,437.36 83.18,437.97 83.45,438.57 83.73,439.18 84.01,439.79 84.29,440.39 84.57,441 L85.63,441 85.91,440.39 86.19,439.79 86.47,439.18 86.75,438.57 87.02,437.97 87.22,437.36 87.38,436.76 87.52,436.15 87.63,435.54 87.65,434.94 87.54,434.33 87.4,433.73 87.26,433.12 87.07,432.51 86.81,431.91 86.53,431.3 86.25,430.69 85.98,430.09 85.8,429.48 85.76,428.88 85.76,428.27 85.76,427.66 85.76,427.06 85.76,426.45 85.76,425.84 85.76,425.24 85.76,424.63 85.76,424.03 85.76,423.42 85.76,422.81 85.76,422.21 85.76,421.6 Z" fill="#d4565f" fill-opacity="0.66" stroke="#97232f" stroke-width="0.5"/><path d="M85.1,422.57 V440.03" stroke="#97232f" stroke-width="0.4" fill="none"/><rect x="84.31" y="431.64" width="1.58" height="6.6" fill="#97232f" fill-opacity="0.6" stroke="#97232f" stroke-width="0.35"/><path d="M84.01,434.94 H86.19" stroke="#222" stroke-width="0.5"/><path d="M85.22,424.59h0M86.06,433.9h0M84.95,427.39h0M85.45,435.3h0M85.21,427.94h0M85.27,429.54h0M84.94,424.79h0" stroke="#1a1a1a" stroke-width="0.95" stroke-linecap="round" fill="none" stroke-opacity="0.9"/>
<path d="M95.12,433 95.09,433.13 95.06,433.26 95.02,433.39 94.99,433.52 94.96,433.66 94.92,433.79 94.89,433.92 94.86,434.05 94.82,434.18 94.79,434.31 94.75,434.44 94.72,434.57 94.69,434.71 94.64,434.84 94.55,434.97 94.42,435.1 94.28,435.23 94.15,435.36 94.01,435.49 93.87,435.62 93.73,435.76 93.6,435.89 93.46,436.02 93.32,436.15 93.2,436.28 93.14,436.41 93.17,436.54 93.22,436.68 93.28,436.81 93.33,436.94 93.38,437.07 93.43,437.2 L97.17,437.2 97.22,437.07 97.27,436.94 97.32,436.81 97.38,436.68 97.43,436.54 97.46,436.41 97.4,436.28 97.28,436.15 97.14,436.02 97.01,435.89 96.87,435.76 96.73,435.62 96.59,435.49 96.46,435.36 96.32,435.23 96.18,435.1 96.05,434.97 95.96,434.84 95.91,434.71 95.88,434.57 95.85,434.44 95.81,434.31 95.78,434.18 95.74,434.05 95.71,433.92 95.68,433.79 95.64,433.66 95.61,433.52 95.58,433.39 95.54,433.26 95.51,433.13 95.48,433 Z" fill="#7389c2" fill-opacity="0.66" stroke="#2f4988" stroke-width="0.5"/><path d="M94.45,436.82h0M94.71,435.97h0M94.48,436.9h0" stroke="#1a1a1a" stroke-width="0.95" stroke-linecap="round" fill="none" stroke-opacity="0.9"/>
<text x="75.5" y="408.1" font-size="5.3" text-anchor="middle" fill="#3a3a3a">ns</text>
<rect x="68.9" y="446.2" width="32.2" height="36.3" fill="#fff" stroke="#161616" stroke-width="1.3"/>
<path d="M75.09,472 75.03,472.1 74.98,472.2 74.92,472.3 74.86,472.4 74.8,472.5 74.75,472.6 74.69,472.7 74.63,472.8 74.56,472.9 74.42,473 74.2,473.1 73.96,473.2 73.72,473.3 73.48,473.4 73.24,473.5 73.1,473.6 73.24,473.7 73.48,473.8 73.72,473.9 73.96,474 74.2,474.1 74.42,474.2 74.56,474.3 74.63,474.4 74.69,474.5 74.75,474.6 74.8,474.7 74.86,474.8 74.92,474.9 74.98,475 75.03,475.1 75.09,475.2 L75.31,475.2 75.37,475.1 75.42,475 75.48,474.9 75.54,474.8 75.6,474.7 75.65,474.6 75.71,474.5 75.77,474.4 75.84,474.3 75.98,474.2 76.2,474.1 76.44,474 76.68,473.9 76.92,473.8 77.16,473.7 77.3,473.6 77.16,473.5 76.92,473.4 76.68,473.3 76.44,473.2 76.2,473.1 75.98,473 75.84,472.9 75.77,472.8 75.71,472.7 75.65,472.6 75.6,472.5 75.54,472.4 75.48,472.3 75.42,472.2 75.37,472.1 75.31,472 Z" fill="#97cf62" fill-opacity="0.66" stroke="#4f8f2a" stroke-width="0.5"/><path d="M75.18,473.21h0M75.13,473.37h0" stroke="#1a1a1a" stroke-width="0.95" stroke-linecap="round" fill="none" stroke-opacity="0.9"/>
<path d="M84.62,469 84.54,469.28 84.46,469.56 84.39,469.84 84.31,470.12 84.24,470.41 84.16,470.69 84.09,470.97 84.01,471.25 83.93,471.53 83.8,471.81 83.63,472.09 83.44,472.38 83.25,472.66 83.06,472.94 82.87,473.22 82.76,473.5 82.87,473.78 83.06,474.06 83.25,474.34 83.44,474.62 83.63,474.91 83.8,475.19 83.93,475.47 84.01,475.75 84.09,476.03 84.16,476.31 84.24,476.59 84.31,476.88 84.39,477.16 84.46,477.44 84.54,477.72 84.62,478 L85.58,478 85.66,477.72 85.74,477.44 85.81,477.16 85.89,476.88 85.96,476.59 86.04,476.31 86.11,476.03 86.19,475.75 86.27,475.47 86.4,475.19 86.57,474.91 86.76,474.62 86.95,474.34 87.14,474.06 87.33,473.78 87.44,473.5 87.33,473.22 87.14,472.94 86.95,472.66 86.76,472.38 86.57,472.09 86.4,471.81 86.27,471.53 86.19,471.25 86.11,470.97 86.04,470.69 85.96,470.41 85.89,470.12 85.81,469.84 85.74,469.56 85.66,469.28 85.58,469 Z" fill="#d4565f" fill-opacity="0.66" stroke="#97232f" stroke-width="0.5"/><path d="M85.1,469.45 V477.55" stroke="#97232f" stroke-width="0.4" fill="none"/><rect x="84.37" y="471.97" width="1.45" height="3.06" fill="#97232f" fill-opacity="0.6" stroke="#97232f" stroke-width="0.35"/><path d="M84.07,473.5 H86.13" stroke="#222" stroke-width="0.5"/><path d="M85.73,473.67h0M84.99,477.15h0M85.29,475.61h0M84.59,474.78h0" stroke="#1a1a1a" stroke-width="0.95" stroke-linecap="round" fill="none" stroke-opacity="0.9"/>
<path d="M94.64,475 94.45,475.03 94.26,475.06 94.07,475.09 93.88,475.12 93.69,475.16 93.52,475.19 93.42,475.22 93.38,475.25 93.34,475.28 93.31,475.31 93.27,475.34 93.24,475.38 93.2,475.41 93.17,475.44 93.13,475.47 93.11,475.5 93.13,475.53 93.17,475.56 93.2,475.59 93.24,475.62 93.27,475.66 93.31,475.69 93.34,475.72 93.38,475.75 93.42,475.78 93.52,475.81 93.69,475.84 93.88,475.88 94.07,475.91 94.26,475.94 94.45,475.97 94.64,476 L95.96,476 96.15,475.97 96.34,475.94 96.53,475.91 96.72,475.88 96.91,475.84 97.08,475.81 97.18,475.78 97.23,475.75 97.26,475.72 97.29,475.69 97.33,475.66 97.36,475.62 97.4,475.59 97.43,475.56 97.47,475.53 97.49,475.5 97.47,475.47 97.43,475.44 97.4,475.41 97.36,475.38 97.33,475.34 97.29,475.31 97.26,475.28 97.23,475.25 97.18,475.22 97.08,475.19 96.91,475.16 96.72,475.12 96.53,475.09 96.34,475.06 96.15,475.03 95.96,475 Z" fill="#7389c2" fill-opacity="0.66" stroke="#2f4988" stroke-width="0.5"/><path d="M95.55,475.22h0M94.75,475.35h0" stroke="#1a1a1a" stroke-width="0.95" stroke-linecap="round" fill="none" stroke-opacity="0.9"/>
<text x="75.5" y="451.1" font-size="5.3" text-anchor="middle" fill="#3a3a3a">ns</text>
<rect x="103.5" y="307.5" width="32.2" height="9.5" fill="#cdc7c9" stroke="#1c1c1c" stroke-width="1.3"/>
<text x="111.25" y="315" font-size="6.8" textLength="16.7" lengthAdjust="spacingAndGlyphs" fill="#2a2a2a">MHC-I</text>
<rect x="103.5" y="317" width="32.2" height="83.1" fill="#fff" stroke="#161616" stroke-width="1.3"/>
<path d="M108.02,359.8 107.86,360.24 107.71,360.68 107.56,361.11 107.46,361.55 107.46,361.99 107.49,362.43 107.51,362.86 107.54,363.3 107.57,363.74 107.6,364.18 107.63,364.61 107.7,365.05 107.89,365.49 108.14,365.93 108.41,366.36 108.67,366.8 108.91,367.24 109.06,367.68 109.11,368.11 109.12,368.55 109.13,368.99 109.15,369.43 109.16,369.86 109.17,370.3 109.18,370.74 109.2,371.18 109.21,371.61 109.22,372.05 109.24,372.49 109.25,372.93 109.26,373.36 109.28,373.8 L110.32,373.8 110.34,373.36 110.35,372.93 110.36,372.49 110.38,372.05 110.39,371.61 110.4,371.18 110.42,370.74 110.43,370.3 110.44,369.86 110.45,369.43 110.47,368.99 110.48,368.55 110.49,368.11 110.54,367.68 110.69,367.24 110.93,366.8 111.19,366.36 111.46,365.93 111.71,365.49 111.9,365.05 111.97,364.61 112,364.18 112.03,363.74 112.06,363.3 112.09,362.86 112.11,362.43 112.14,361.99 112.14,361.55 112.04,361.11 111.89,360.68 111.74,360.24 111.58,359.8 Z" fill="#97cf62" fill-opacity="0.66" stroke="#4f8f2a" stroke-width="0.5"/><path d="M109.8,360.5 V373.1" stroke="#4f8f2a" stroke-width="0.4" fill="none"/><rect x="109.09" y="361.2" width="1.43" height="3.17" fill="#4f8f2a" fill-opacity="0.6" stroke="#4f8f2a" stroke-width="0.35"/><path d="M108.79,361.99 H110.81" stroke="#222" stroke-width="0.5"/><path d="M109.97,368.98h0M109.81,367.05h0M110.69,365.49h0M109.1,364.2h0M109.32,363.86h0M109.34,364.67h0" stroke="#1a1a1a" stroke-width="0.95" stroke-linecap="round" fill="none" stroke-opacity="0.9"/>
<path d="M118.56,346.8 118.56,347.61 118.56,348.43 118.56,349.24 118.56,350.05 118.56,350.86 118.56,351.68 118.56,352.49 118.55,353.3 118.51,354.11 118.34,354.93 118.13,355.74 117.92,356.55 117.71,357.36 117.51,358.18 117.36,358.99 117.24,359.8 117.14,360.61 117.03,361.43 116.93,362.24 116.88,363.05 116.93,363.86 117,364.68 117.08,365.49 117.15,366.3 117.24,367.11 117.39,367.93 117.61,368.74 117.85,369.55 118.09,370.36 118.36,371.18 118.67,371.99 118.98,372.8 L120.42,372.8 120.73,371.99 121.04,371.18 121.31,370.36 121.55,369.55 121.79,368.74 122.01,367.93 122.16,367.11 122.25,366.3 122.32,365.49 122.4,364.68 122.47,363.86 122.52,363.05 122.47,362.24 122.37,361.43 122.26,360.61 122.16,359.8 122.04,358.99 121.89,358.18 121.69,357.36 121.48,356.55 121.27,355.74 121.06,354.93 120.89,354.11 120.85,353.3 120.84,352.49 120.84,351.68 120.84,350.86 120.84,350.05 120.84,349.24 120.84,348.43 120.84,347.61 120.84,346.8 Z" fill="#d4565f" fill-opacity="0.66" stroke="#97232f" stroke-width="0.5"/><path d="M119.7,348.1 V371.5" stroke="#97232f" stroke-width="0.4" fill="none"/><rect x="118.85" y="358.63" width="1.7" height="8.84" fill="#97232f" fill-opacity="0.6" stroke="#97232f" stroke-width="0.35"/><path d="M118.55,363.05 H120.85" stroke="#222" stroke-width="0.5"/><path d="M119.97,369.08h0M120.61,365.9h0M119.84,354.3h0M120.24,369.07h0M118.9,361.47h0M120.6,357.78h0M119.51,350.72h0M119.64,370.1h0" stroke="#1a1a1a" stroke-width="0.95" stroke-linecap="round" fill="none" stroke-opacity="0.9"/>
<path d="M128.03,371.5 127.98,371.62 127.93,371.74 127.88,371.86 127.82,371.98 127.77,372.09 127.74,372.21 127.8,372.33 127.92,372.45 128.06,372.57 128.19,372.69 128.33,372.81 128.47,372.93 128.61,373.04 128.75,373.16 128.88,373.28 129.02,373.4 129.15,373.52 129.24,373.64 129.29,373.76 129.32,373.88 129.35,373.99 129.39,374.11 129.42,374.23 129.46,374.35 129.49,374.47 129.52,374.59 129.56,374.71 129.59,374.82 129.62,374.94 129.66,375.06 129.69,375.18 129.72,375.3 L130.08,375.3 130.11,375.18 130.14,375.06 130.18,374.94 130.21,374.82 130.24,374.71 130.28,374.59 130.31,374.47 130.34,374.35 130.38,374.23 130.41,374.11 130.45,373.99 130.48,373.88 130.51,373.76 130.56,373.64 130.65,373.52 130.78,373.4 130.92,373.28 131.06,373.16 131.19,373.04 131.33,372.93 131.47,372.81 131.61,372.69 131.74,372.57 131.88,372.45 132,372.33 132.06,372.21 132.03,372.09 131.98,371.98 131.92,371.86 131.87,371.74 131.82,371.62 131.77,371.5 Z" fill="#7389c2" fill-opacity="0.66" stroke="#2f4988" stroke-width="0.5"/><path d="M130.26,372.28h0M129.89,373.85h0M130.45,372.45h0" stroke="#1a1a1a" stroke-width="0.95" stroke-linecap="round" fill="none" stroke-opacity="0.9"/>
<circle cx="109.8" cy="320" r="0.66" fill="#262626"/>
<rect x="103.5" y="403.2" width="32.2" height="39.8" fill="#fff" stroke="#161616" stroke-width="1.3"/>
<path d="M108.61,419.6 108.43,420.09 108.24,420.58 108.06,421.06 107.87,421.55 107.68,422.04 107.51,422.53 107.4,423.01 107.34,423.5 107.28,423.99 107.23,424.48 107.2,424.96 107.27,425.45 107.38,425.94 107.51,426.43 107.63,426.91 107.75,427.4 107.88,427.89 108.03,428.38 108.19,428.86 108.37,429.35 108.54,429.84 108.71,430.32 108.88,430.81 109.05,431.3 109.15,431.79 109.05,432.27 108.88,432.76 108.72,433.25 108.58,433.74 108.56,434.22 108.64,434.71 108.74,435.2 L110.86,435.2 110.96,434.71 111.04,434.22 111.02,433.74 110.88,433.25 110.72,432.76 110.55,432.27 110.45,431.79 110.55,431.3 110.72,430.81 110.89,430.32 111.06,429.84 111.23,429.35 111.41,428.86 111.57,428.38 111.72,427.89 111.85,427.4 111.97,426.91 112.09,426.43 112.22,425.94 112.33,425.45 112.4,424.96 112.37,424.48 112.32,423.99 112.26,423.5 112.2,423.01 112.09,422.53 111.92,422.04 111.73,421.55 111.54,421.06 111.36,420.58 111.17,420.09 110.99,419.6 Z" fill="#97cf62" fill-opacity="0.66" stroke="#4f8f2a" stroke-width="0.5"/><path d="M109.8,420.38 V434.42" stroke="#4f8f2a" stroke-width="0.4" fill="none"/><rect x="109.01" y="422.31" width="1.58" height="5.3" fill="#4f8f2a" fill-opacity="0.6" stroke="#4f8f2a" stroke-width="0.35"/><path d="M108.71,424.96 H110.89" stroke="#222" stroke-width="0.5"/><path d="M109.42,433.69h0M110.4,420.86h0M109.03,423.07h0M109.62,429.48h0M109.52,432.75h0M109.61,433.71h0" stroke="#1a1a1a" stroke-width="0.95" stroke-linecap="round" fill="none" stroke-opacity="0.9"/>
<path d="M119.13,405 119.1,405.83 119.07,406.66 119.04,407.49 119.01,408.32 118.98,409.16 118.95,409.99 118.92,410.82 118.89,411.65 118.85,412.48 118.79,413.31 118.69,414.14 118.58,414.98 118.48,415.81 118.37,416.64 118.26,417.47 118.16,418.3 118.04,419.13 117.9,419.96 117.73,420.79 117.54,421.62 117.36,422.46 117.17,423.29 117.01,424.12 116.93,424.95 116.89,425.78 116.9,426.61 117,427.44 117.11,428.28 117.25,429.11 117.51,429.94 117.88,430.77 118.27,431.6 L121.13,431.6 121.52,430.77 121.89,429.94 122.15,429.11 122.29,428.28 122.4,427.44 122.5,426.61 122.51,425.78 122.47,424.95 122.39,424.12 122.23,423.29 122.04,422.46 121.86,421.62 121.67,420.79 121.5,419.96 121.36,419.13 121.24,418.3 121.14,417.47 121.03,416.64 120.92,415.81 120.82,414.98 120.71,414.14 120.61,413.31 120.55,412.48 120.51,411.65 120.48,410.82 120.45,409.99 120.42,409.16 120.39,408.32 120.36,407.49 120.33,406.66 120.3,405.83 120.27,405 Z" fill="#d4565f" fill-opacity="0.66" stroke="#97232f" stroke-width="0.5"/><path d="M119.7,406.33 V430.27" stroke="#97232f" stroke-width="0.4" fill="none"/><rect x="118.85" y="421.26" width="1.7" height="7.68" fill="#97232f" fill-opacity="0.6" stroke="#97232f" stroke-width="0.35"/><path d="M118.55,425.78 H120.85" stroke="#222" stroke-width="0.5"/><path d="M120.63,428.25h0M118.76,427.49h0M119.57,420.45h0M119.15,419h0M119.66,411.09h0M119.67,411.77h0M119.48,407.18h0M119.51,423.22h0" stroke="#1a1a1a" stroke-width="0.95" stroke-linecap="round" fill="none" stroke-opacity="0.9"/>
<path d="M129.17,423.6 129.12,423.91 129.07,424.23 129.02,424.54 128.97,424.85 128.92,425.16 128.87,425.48 128.82,425.79 128.77,426.1 128.72,426.41 128.64,426.73 128.55,427.04 128.45,427.35 128.35,427.66 128.25,427.98 128.15,428.29 128.04,428.6 127.94,428.91 127.84,429.23 127.75,429.54 127.68,429.85 127.63,430.16 127.58,430.48 127.53,430.79 127.51,431.1 127.58,431.41 127.68,431.73 127.78,432.04 127.89,432.35 128.06,432.66 128.33,432.98 128.63,433.29 128.93,433.6 L130.87,433.6 131.17,433.29 131.47,432.98 131.74,432.66 131.91,432.35 132.02,432.04 132.12,431.73 132.22,431.41 132.29,431.1 132.27,430.79 132.22,430.48 132.17,430.16 132.12,429.85 132.05,429.54 131.96,429.23 131.86,428.91 131.76,428.6 131.65,428.29 131.55,427.98 131.45,427.66 131.35,427.35 131.25,427.04 131.16,426.73 131.08,426.41 131.03,426.1 130.98,425.79 130.93,425.48 130.88,425.16 130.83,424.85 130.78,424.54 130.73,424.23 130.68,423.91 130.63,423.6 Z" fill="#7389c2" fill-opacity="0.66" stroke="#2f4988" stroke-width="0.5"/><path d="M129.9,424.1 V433.1" stroke="#2f4988" stroke-width="0.4" fill="none"/><rect x="129.17" y="429.4" width="1.45" height="3.2" fill="#2f4988" fill-opacity="0.6" stroke="#2f4988" stroke-width="0.35"/><path d="M128.87,431.1 H130.93" stroke="#222" stroke-width="0.5"/><path d="M130.62,430.47h0M130.36,425.81h0M130.06,425.91h0M130.1,425.01h0" stroke="#1a1a1a" stroke-width="0.95" stroke-linecap="round" fill="none" stroke-opacity="0.9"/>
<text x="110.1" y="408.1" font-size="5.3" text-anchor="middle" fill="#3a3a3a">ns</text>
<rect x="103.5" y="446.2" width="32.2" height="36.3" fill="#fff" stroke="#161616" stroke-width="1.3"/>
<path d="M107.86,465 107.62,465.48 107.43,465.95 107.38,466.43 107.38,466.9 107.38,467.38 107.38,467.85 107.38,468.32 107.38,468.8 107.38,469.27 107.38,469.75 107.38,470.23 107.38,470.7 107.38,471.18 107.38,471.65 107.38,472.12 107.38,472.6 107.38,473.07 107.38,473.55 107.38,474.02 107.38,474.5 107.38,474.97 107.38,475.45 107.38,475.93 107.38,476.4 107.38,476.88 107.38,477.35 107.38,477.82 107.38,478.3 107.38,478.77 107.43,479.25 107.62,479.72 107.86,480.2 L111.74,480.2 111.98,479.72 112.17,479.25 112.22,478.77 112.22,478.3 112.22,477.82 112.22,477.35 112.22,476.88 112.22,476.4 112.22,475.93 112.22,475.45 112.22,474.97 112.22,474.5 112.22,474.02 112.22,473.55 112.22,473.07 112.22,472.6 112.22,472.12 112.22,471.65 112.22,471.18 112.22,470.7 112.22,470.23 112.22,469.75 112.22,469.27 112.22,468.8 112.22,468.32 112.22,467.85 112.22,467.38 112.22,466.9 112.22,466.43 112.17,465.95 111.98,465.48 111.74,465 Z" fill="#97cf62" fill-opacity="0.66" stroke="#4f8f2a" stroke-width="0.5"/><path d="M109.8,465.76 V479.44" stroke="#4f8f2a" stroke-width="0.4" fill="none"/><rect x="109.07" y="466.52" width="1.45" height="2.49" fill="#4f8f2a" fill-opacity="0.6" stroke="#4f8f2a" stroke-width="0.35"/><path d="M108.77,467.28 H110.83" stroke="#222" stroke-width="0.5"/><path d="M110.73,470.95h0M109.18,477.19h0M110.1,477.57h0M110.72,466.48h0M109.38,469.33h0M109.99,471.58h0" stroke="#1a1a1a" stroke-width="0.95" stroke-linecap="round" fill="none" stroke-opacity="0.9"/>
<path d="M119.15,451 119.15,451.81 119.15,452.62 119.14,453.44 119.14,454.25 119.14,455.06 119.13,455.88 119.13,456.69 119.12,457.5 119.12,458.31 119.12,459.12 119.11,459.94 119.11,460.75 119.11,461.56 119.08,462.38 118.99,463.19 118.84,464 118.67,464.81 118.5,465.62 118.34,466.44 118.16,467.25 117.95,468.06 117.74,468.88 117.53,469.69 117.31,470.5 117.12,471.31 117.04,472.12 117.09,472.94 117.19,473.75 117.35,474.56 117.65,475.38 118,476.19 118.34,477 L121.06,477 121.41,476.19 121.75,475.38 122.05,474.56 122.21,473.75 122.31,472.94 122.36,472.12 122.28,471.31 122.09,470.5 121.87,469.69 121.66,468.88 121.45,468.06 121.24,467.25 121.06,466.44 120.9,465.62 120.73,464.81 120.56,464 120.41,463.19 120.32,462.38 120.29,461.56 120.29,460.75 120.29,459.94 120.28,459.12 120.28,458.31 120.28,457.5 120.27,456.69 120.27,455.88 120.26,455.06 120.26,454.25 120.26,453.44 120.25,452.62 120.25,451.81 120.25,451 Z" fill="#d4565f" fill-opacity="0.66" stroke="#97232f" stroke-width="0.5"/><path d="M119.7,452.3 V475.7" stroke="#97232f" stroke-width="0.4" fill="none"/><rect x="118.88" y="467.7" width="1.64" height="6.69" fill="#97232f" fill-opacity="0.6" stroke="#97232f" stroke-width="0.35"/><path d="M118.58,472.12 H120.82" stroke="#222" stroke-width="0.5"/><path d="M119.07,469.66h0M119.75,457.25h0M119.84,453.86h0M118.68,470.05h0M119.7,468.2h0M120.36,467.1h0M119.58,475.14h0M120.37,471.87h0" stroke="#1a1a1a" stroke-width="0.95" stroke-linecap="round" fill="none" stroke-opacity="0.9"/>
<path d="M129.72,473.6 129.69,473.71 129.66,473.81 129.62,473.92 129.59,474.03 129.56,474.13 129.52,474.24 129.49,474.34 129.46,474.45 129.42,474.56 129.39,474.66 129.35,474.77 129.32,474.88 129.29,474.98 129.24,475.09 129.15,475.19 129.02,475.3 128.88,475.41 128.75,475.51 128.61,475.62 128.47,475.73 128.33,475.83 128.19,475.94 128.06,476.04 127.92,476.15 127.8,476.26 127.74,476.36 127.77,476.47 127.82,476.57 127.88,476.68 127.93,476.79 127.98,476.89 128.03,477 L131.77,477 131.82,476.89 131.87,476.79 131.92,476.68 131.98,476.57 132.03,476.47 132.06,476.36 132,476.26 131.88,476.15 131.74,476.04 131.61,475.94 131.47,475.83 131.33,475.73 131.19,475.62 131.06,475.51 130.92,475.41 130.78,475.3 130.65,475.19 130.56,475.09 130.51,474.98 130.48,474.88 130.45,474.77 130.41,474.66 130.38,474.56 130.34,474.45 130.31,474.34 130.28,474.24 130.24,474.13 130.21,474.03 130.18,473.92 130.14,473.81 130.11,473.71 130.08,473.6 Z" fill="#7389c2" fill-opacity="0.66" stroke="#2f4988" stroke-width="0.5"/><path d="M130.18,475.74h0M129.37,476.67h0" stroke="#1a1a1a" stroke-width="0.95" stroke-linecap="round" fill="none" stroke-opacity="0.9"/>
<text x="110.1" y="451.1" font-size="5.3" text-anchor="middle" fill="#3a3a3a">ns</text>
<rect x="138.1" y="307.5" width="32.2" height="9.5" fill="#cdc7c9" stroke="#1c1c1c" stroke-width="1.3"/>
<text x="143.45" y="315" font-size="6.8" textLength="21.5" lengthAdjust="spacingAndGlyphs" fill="#2a2a2a">HLA-DR</text>
<rect x="138.1" y="317" width="32.2" height="83.1" fill="#fff" stroke="#161616" stroke-width="1.3"/>
<path d="M142.53,322.6 142.4,323 142.28,323.4 142.22,323.8 142.21,324.2 142.22,324.6 142.22,325 142.23,325.4 142.24,325.8 142.24,326.2 142.25,326.6 142.26,327 142.26,327.4 142.27,327.8 142.28,328.2 142.28,328.6 142.29,329 142.3,329.4 142.3,329.8 142.32,330.2 142.37,330.6 142.43,331 142.5,331.4 142.57,331.8 142.64,332.2 142.71,332.6 142.78,333 142.85,333.4 142.95,333.8 143.07,334.2 143.18,334.6 143.3,335 143.41,335.4 L145.39,335.4 145.5,335 145.62,334.6 145.73,334.2 145.85,333.8 145.95,333.4 146.02,333 146.09,332.6 146.16,332.2 146.23,331.8 146.3,331.4 146.37,331 146.43,330.6 146.48,330.2 146.5,329.8 146.5,329.4 146.51,329 146.52,328.6 146.52,328.2 146.53,327.8 146.54,327.4 146.54,327 146.55,326.6 146.56,326.2 146.56,325.8 146.57,325.4 146.58,325 146.58,324.6 146.59,324.2 146.58,323.8 146.52,323.4 146.4,323 146.27,322.6 Z" fill="#97cf62" fill-opacity="0.66" stroke="#4f8f2a" stroke-width="0.5"/><path d="M144.4,323.24 V334.76" stroke="#4f8f2a" stroke-width="0.4" fill="none"/><rect x="143.74" y="323.88" width="1.32" height="2.5" fill="#4f8f2a" fill-opacity="0.6" stroke="#4f8f2a" stroke-width="0.35"/><path d="M143.44,324.52 H145.36" stroke="#222" stroke-width="0.5"/><path d="M143.67,324.64h0M143.8,330.1h0M144.33,324.86h0M143.85,328.07h0M145.06,327.78h0" stroke="#1a1a1a" stroke-width="0.95" stroke-linecap="round" fill="none" stroke-opacity="0.9"/>
<path d="M153.89,332.4 153.88,333.58 153.87,334.76 153.86,335.94 153.84,337.12 153.83,338.31 153.82,339.49 153.81,340.67 153.8,341.85 153.78,343.03 153.77,344.21 153.74,345.39 153.6,346.57 153.35,347.76 153.07,348.94 152.8,350.12 152.54,351.3 152.34,352.48 152.15,353.66 151.97,354.84 151.78,356.02 151.65,357.21 151.69,358.39 151.8,359.57 151.92,360.75 152.05,361.93 152.23,363.11 152.47,364.29 152.71,365.47 152.96,366.66 153.22,367.84 153.49,369.02 153.75,370.2 L154.85,370.2 155.11,369.02 155.38,367.84 155.64,366.66 155.89,365.47 156.13,364.29 156.37,363.11 156.55,361.93 156.68,360.75 156.8,359.57 156.91,358.39 156.95,357.21 156.82,356.02 156.63,354.84 156.45,353.66 156.26,352.48 156.06,351.3 155.8,350.12 155.53,348.94 155.25,347.76 155,346.57 154.86,345.39 154.83,344.21 154.82,343.03 154.8,341.85 154.79,340.67 154.78,339.49 154.77,338.31 154.76,337.12 154.74,335.94 154.73,334.76 154.72,333.58 154.71,332.4 Z" fill="#d4565f" fill-opacity="0.66" stroke="#97232f" stroke-width="0.5"/><path d="M154.3,334.29 V368.31" stroke="#97232f" stroke-width="0.4" fill="none"/><rect x="153.48" y="350.78" width="1.64" height="12.85" fill="#97232f" fill-opacity="0.6" stroke="#97232f" stroke-width="0.35"/><path d="M153.18,357.21 H155.42" stroke="#222" stroke-width="0.5"/><path d="M154.01,352.9h0M153.95,362.77h0M154.04,351.64h0M154.74,348.49h0M154.28,338.12h0M154.23,342.15h0M154.21,367.89h0M154.13,354.89h0" stroke="#1a1a1a" stroke-width="0.95" stroke-linecap="round" fill="none" stroke-opacity="0.9"/>
<path d="M164.24,372.4 164.21,372.86 164.18,373.31 164.15,373.77 164.13,374.22 164.1,374.68 164.07,375.14 164.04,375.59 164.02,376.05 163.99,376.51 163.96,376.96 163.93,377.42 163.9,377.88 163.85,378.33 163.75,378.79 163.65,379.24 163.54,379.7 163.43,380.16 163.32,380.61 163.22,381.07 163.11,381.52 163,381.98 162.89,382.44 162.79,382.89 162.7,383.35 162.6,383.81 162.51,384.26 162.41,384.72 162.35,385.18 162.38,385.63 162.46,386.09 162.54,386.54 162.63,387 L166.37,387 166.46,386.54 166.54,386.09 166.62,385.63 166.65,385.18 166.59,384.72 166.49,384.26 166.4,383.81 166.3,383.35 166.21,382.89 166.11,382.44 166,381.98 165.89,381.52 165.78,381.07 165.68,380.61 165.57,380.16 165.46,379.7 165.35,379.24 165.25,378.79 165.15,378.33 165.1,377.88 165.07,377.42 165.04,376.96 165.01,376.51 164.98,376.05 164.96,375.59 164.93,375.14 164.9,374.68 164.87,374.22 164.85,373.77 164.82,373.31 164.79,372.86 164.76,372.4 Z" fill="#7389c2" fill-opacity="0.66" stroke="#2f4988" stroke-width="0.5"/><path d="M164.5,373.13 V386.27" stroke="#2f4988" stroke-width="0.4" fill="none"/><rect x="163.84" y="382.69" width="1.32" height="2.85" fill="#2f4988" fill-opacity="0.6" stroke="#2f4988" stroke-width="0.35"/><path d="M163.54,384.81 H165.46" stroke="#222" stroke-width="0.5"/><path d="M164.29,380.2h0M164.54,373.66h0M164.4,375.97h0M164.58,378.38h0M164.43,385.98h0M165.34,386.04h0" stroke="#1a1a1a" stroke-width="0.95" stroke-linecap="round" fill="none" stroke-opacity="0.9"/>
<circle cx="142" cy="320" r="0.66" fill="#262626"/>
<circle cx="144.4" cy="320" r="0.66" fill="#262626"/>
<circle cx="146.8" cy="320" r="0.66" fill="#262626"/>
<rect x="138.1" y="403.2" width="32.2" height="39.8" fill="#fff" stroke="#161616" stroke-width="1.3"/>
<path d="M142.46,410 142.22,410.32 142.03,410.65 141.98,410.98 141.98,411.3 141.98,411.62 141.98,411.95 141.98,412.27 141.98,412.6 141.98,412.93 141.98,413.25 141.98,413.57 141.98,413.9 141.98,414.22 141.98,414.55 141.98,414.88 141.98,415.2 141.98,415.52 141.98,415.85 141.98,416.18 141.98,416.5 141.98,416.82 141.98,417.15 141.98,417.47 141.98,417.8 141.98,418.12 141.98,418.45 141.98,418.77 141.98,419.1 141.98,419.42 142.03,419.75 142.22,420.07 142.46,420.4 L146.34,420.4 146.58,420.07 146.77,419.75 146.82,419.42 146.82,419.1 146.82,418.77 146.82,418.45 146.82,418.12 146.82,417.8 146.82,417.47 146.82,417.15 146.82,416.82 146.82,416.5 146.82,416.18 146.82,415.85 146.82,415.52 146.82,415.2 146.82,414.88 146.82,414.55 146.82,414.22 146.82,413.9 146.82,413.57 146.82,413.25 146.82,412.93 146.82,412.6 146.82,412.27 146.82,411.95 146.82,411.62 146.82,411.3 146.82,410.98 146.77,410.65 146.58,410.32 146.34,410 Z" fill="#97cf62" fill-opacity="0.66" stroke="#4f8f2a" stroke-width="0.5"/><path d="M144.4,410.52 V419.88" stroke="#4f8f2a" stroke-width="0.4" fill="none"/><rect x="143.67" y="411.04" width="1.45" height="1.7" fill="#4f8f2a" fill-opacity="0.6" stroke="#4f8f2a" stroke-width="0.35"/><path d="M143.37,411.56 H145.43" stroke="#222" stroke-width="0.5"/><path d="M143.69,410.74h0M144.8,414.22h0M143.56,411.89h0M144.96,412.75h0" stroke="#1a1a1a" stroke-width="0.95" stroke-linecap="round" fill="none" stroke-opacity="0.9"/>
<path d="M152.98,407.6 152.96,408.16 152.94,408.73 152.92,409.29 152.9,409.85 152.88,410.41 152.84,410.98 152.75,411.54 152.62,412.1 152.47,412.66 152.33,413.23 152.18,413.79 152.04,414.35 151.92,414.91 151.84,415.48 151.77,416.04 151.72,416.6 151.72,417.16 151.8,417.73 151.9,418.29 152.01,418.85 152.11,419.41 152.25,419.98 152.43,420.54 152.62,421.1 152.82,421.66 153.01,422.23 153.2,422.79 153.37,423.35 153.52,423.91 153.68,424.48 153.83,425.04 153.98,425.6 L154.62,425.6 154.77,425.04 154.92,424.48 155.08,423.91 155.23,423.35 155.4,422.79 155.59,422.23 155.78,421.66 155.98,421.1 156.17,420.54 156.35,419.98 156.49,419.41 156.59,418.85 156.7,418.29 156.8,417.73 156.88,417.16 156.88,416.6 156.83,416.04 156.76,415.48 156.68,414.91 156.56,414.35 156.42,413.79 156.27,413.23 156.13,412.66 155.98,412.1 155.85,411.54 155.76,410.98 155.72,410.41 155.7,409.85 155.68,409.29 155.66,408.73 155.64,408.16 155.62,407.6 Z" fill="#d4565f" fill-opacity="0.66" stroke="#97232f" stroke-width="0.5"/><path d="M154.3,408.5 V424.7" stroke="#97232f" stroke-width="0.4" fill="none"/><rect x="153.51" y="413.54" width="1.58" height="6.12" fill="#97232f" fill-opacity="0.6" stroke="#97232f" stroke-width="0.35"/><path d="M153.21,416.6 H155.39" stroke="#222" stroke-width="0.5"/><path d="M153.95,409.91h0M154.99,413.48h0M154.81,416.54h0M154.31,410.27h0M154.32,422.03h0M154.5,423.64h0M153.29,414.56h0" stroke="#1a1a1a" stroke-width="0.95" stroke-linecap="round" fill="none" stroke-opacity="0.9"/>
<path d="M162.56,414.4 162.32,414.95 162.13,415.5 162.08,416.05 162.08,416.6 162.08,417.15 162.08,417.7 162.08,418.25 162.08,418.8 162.08,419.35 162.08,419.9 162.08,420.45 162.08,421 162.08,421.55 162.08,422.1 162.08,422.65 162.08,423.2 162.08,423.75 162.08,424.3 162.08,424.85 162.08,425.4 162.08,425.95 162.08,426.5 162.08,427.05 162.08,427.6 162.08,428.15 162.08,428.7 162.08,429.25 162.08,429.8 162.08,430.35 162.13,430.9 162.32,431.45 162.56,432 L166.44,432 166.68,431.45 166.87,430.9 166.92,430.35 166.92,429.8 166.92,429.25 166.92,428.7 166.92,428.15 166.92,427.6 166.92,427.05 166.92,426.5 166.92,425.95 166.92,425.4 166.92,424.85 166.92,424.3 166.92,423.75 166.92,423.2 166.92,422.65 166.92,422.1 166.92,421.55 166.92,421 166.92,420.45 166.92,419.9 166.92,419.35 166.92,418.8 166.92,418.25 166.92,417.7 166.92,417.15 166.92,416.6 166.92,416.05 166.87,415.5 166.68,414.95 166.44,414.4 Z" fill="#7389c2" fill-opacity="0.66" stroke="#2f4988" stroke-width="0.5"/><path d="M164.5,415.28 V431.12" stroke="#2f4988" stroke-width="0.4" fill="none"/><rect x="163.77" y="416.16" width="1.45" height="2.88" fill="#2f4988" fill-opacity="0.6" stroke="#2f4988" stroke-width="0.35"/><path d="M163.47,417.04 H165.53" stroke="#222" stroke-width="0.5"/><path d="M164.79,424.29h0M164.01,428.11h0M165.35,425.55h0M163.82,429.53h0M164.76,425.55h0M165.52,423.25h0M164.38,423.64h0" stroke="#1a1a1a" stroke-width="0.95" stroke-linecap="round" fill="none" stroke-opacity="0.9"/>
<text x="144.7" y="408.1" font-size="5.3" text-anchor="middle" fill="#3a3a3a">ns</text>
<rect x="138.1" y="446.2" width="32.2" height="36.3" fill="#fff" stroke="#161616" stroke-width="1.3"/>
<path d="M142.55,447.6 142.35,448.15 142.14,448.7 141.94,449.25 141.81,449.8 141.81,450.35 141.86,450.9 141.9,451.45 141.95,452 142.01,452.55 142.16,453.1 142.41,453.65 142.68,454.2 142.96,454.75 143.22,455.3 143.42,455.85 143.58,456.4 143.72,456.95 143.8,457.5 143.82,458.05 143.83,458.6 143.83,459.15 143.84,459.7 143.84,460.25 143.84,460.8 143.85,461.35 143.85,461.9 143.85,462.45 143.86,463 143.86,463.55 143.86,464.1 143.87,464.65 143.87,465.2 L144.93,465.2 144.93,464.65 144.94,464.1 144.94,463.55 144.94,463 144.95,462.45 144.95,461.9 144.95,461.35 144.96,460.8 144.96,460.25 144.96,459.7 144.97,459.15 144.97,458.6 144.98,458.05 145,457.5 145.08,456.95 145.22,456.4 145.38,455.85 145.58,455.3 145.84,454.75 146.12,454.2 146.39,453.65 146.64,453.1 146.79,452.55 146.85,452 146.9,451.45 146.94,450.9 146.99,450.35 146.99,449.8 146.86,449.25 146.66,448.7 146.45,448.15 146.25,447.6 Z" fill="#97cf62" fill-opacity="0.66" stroke="#4f8f2a" stroke-width="0.5"/><path d="M144.4,448.48 V464.32" stroke="#4f8f2a" stroke-width="0.4" fill="none"/><rect x="143.61" y="449.36" width="1.58" height="3.43" fill="#4f8f2a" fill-opacity="0.6" stroke="#4f8f2a" stroke-width="0.35"/><path d="M143.31,450.24 H145.49" stroke="#222" stroke-width="0.5"/><path d="M144.45,456.85h0M144.6,461.72h0M144.33,462.32h0M144.36,463.35h0M143.57,453.4h0M144.16,456.58h0M144.64,452.9h0" stroke="#1a1a1a" stroke-width="0.95" stroke-linecap="round" fill="none" stroke-opacity="0.9"/>
<path d="M153.07,448 153.09,448.78 153.12,449.56 153.14,450.34 153.16,451.12 153.18,451.91 153.19,452.69 153.18,453.47 153.15,454.25 153.12,455.03 153.05,455.81 152.88,456.59 152.65,457.38 152.41,458.16 152.17,458.94 151.95,459.72 151.79,460.5 151.69,461.28 151.63,462.06 151.67,462.84 151.77,463.62 151.89,464.41 152,465.19 152.12,465.97 152.27,466.75 152.43,467.53 152.59,468.31 152.75,469.09 152.9,469.88 152.99,470.66 153.07,471.44 153.14,472.22 153.21,473 L155.39,473 155.46,472.22 155.53,471.44 155.61,470.66 155.7,469.88 155.85,469.09 156.01,468.31 156.17,467.53 156.33,466.75 156.48,465.97 156.6,465.19 156.71,464.41 156.83,463.62 156.93,462.84 156.97,462.06 156.91,461.28 156.81,460.5 156.65,459.72 156.43,458.94 156.19,458.16 155.95,457.38 155.72,456.59 155.55,455.81 155.48,455.03 155.45,454.25 155.42,453.47 155.41,452.69 155.42,451.91 155.44,451.12 155.46,450.34 155.48,449.56 155.51,448.78 155.53,448 Z" fill="#d4565f" fill-opacity="0.66" stroke="#97232f" stroke-width="0.5"/><path d="M154.3,449.25 V471.75" stroke="#97232f" stroke-width="0.4" fill="none"/><rect x="153.48" y="457.81" width="1.64" height="8.5" fill="#97232f" fill-opacity="0.6" stroke="#97232f" stroke-width="0.35"/><path d="M153.18,462.06 H155.42" stroke="#222" stroke-width="0.5"/><path d="M154.9,461.57h0M154.97,465.94h0M154.8,455.79h0M154.89,461.97h0M155.07,466.11h0M154.16,455.53h0M154.47,465.28h0M154.05,466.01h0" stroke="#1a1a1a" stroke-width="0.95" stroke-linecap="round" fill="none" stroke-opacity="0.9"/>
<path d="M162.56,460.4 162.42,460.75 162.3,461.1 162.23,461.45 162.22,461.8 162.23,462.15 162.24,462.5 162.24,462.85 162.25,463.2 162.26,463.55 162.26,463.9 162.27,464.25 162.28,464.6 162.28,464.95 162.29,465.3 162.3,465.65 162.3,466 162.31,466.35 162.32,466.7 162.34,467.05 162.39,467.4 162.46,467.75 162.53,468.1 162.6,468.45 162.67,468.8 162.74,469.15 162.81,469.5 162.89,469.85 163,470.2 163.11,470.55 163.23,470.9 163.35,471.25 163.47,471.6 L165.53,471.6 165.65,471.25 165.77,470.9 165.89,470.55 166,470.2 166.11,469.85 166.19,469.5 166.26,469.15 166.33,468.8 166.4,468.45 166.47,468.1 166.54,467.75 166.61,467.4 166.66,467.05 166.68,466.7 166.69,466.35 166.7,466 166.7,465.65 166.71,465.3 166.72,464.95 166.72,464.6 166.73,464.25 166.74,463.9 166.74,463.55 166.75,463.2 166.76,462.85 166.76,462.5 166.77,462.15 166.78,461.8 166.77,461.45 166.7,461.1 166.58,460.75 166.44,460.4 Z" fill="#7389c2" fill-opacity="0.66" stroke="#2f4988" stroke-width="0.5"/><path d="M164.5,460.96 V471.04" stroke="#2f4988" stroke-width="0.4" fill="none"/><rect x="163.81" y="461.52" width="1.37" height="2.18" fill="#2f4988" fill-opacity="0.6" stroke="#2f4988" stroke-width="0.35"/><path d="M163.51,462.08 H165.49" stroke="#222" stroke-width="0.5"/><path d="M165.47,464.31h0M164.95,470.53h0M165.09,468.86h0M164.72,461.08h0M164.97,463.51h0" stroke="#1a1a1a" stroke-width="0.95" stroke-linecap="round" fill="none" stroke-opacity="0.9"/>
<text x="144.7" y="451.1" font-size="5.3" text-anchor="middle" fill="#3a3a3a">ns</text>
<rect x="172.7" y="307.5" width="32.2" height="9.5" fill="#cdc7c9" stroke="#1c1c1c" stroke-width="1.3"/>
<text x="184.5" y="315" font-size="6.8" textLength="8.6" lengthAdjust="spacingAndGlyphs" fill="#2a2a2a">Fas</text>
<rect x="172.7" y="317" width="32.2" height="83.1" fill="#fff" stroke="#161616" stroke-width="1.3"/>
<path d="M177.15,345 176.99,345.39 176.83,345.79 176.68,346.18 176.57,346.57 176.57,346.97 176.6,347.36 176.63,347.76 176.66,348.15 176.69,348.54 176.72,348.94 176.75,349.33 176.82,349.73 177.02,350.12 177.28,350.51 177.55,350.91 177.83,351.3 178.08,351.69 178.24,352.09 178.28,352.48 178.29,352.88 178.31,353.27 178.32,353.66 178.33,354.06 178.35,354.45 178.36,354.84 178.38,355.24 178.39,355.63 178.4,356.03 178.42,356.42 178.43,356.81 178.44,357.21 178.46,357.6 L179.54,357.6 179.56,357.21 179.57,356.81 179.58,356.42 179.6,356.03 179.61,355.63 179.62,355.24 179.64,354.84 179.65,354.45 179.67,354.06 179.68,353.66 179.69,353.27 179.71,352.88 179.72,352.48 179.76,352.09 179.92,351.69 180.17,351.3 180.45,350.91 180.72,350.51 180.98,350.12 181.18,349.73 181.25,349.33 181.28,348.94 181.31,348.54 181.34,348.15 181.37,347.76 181.4,347.36 181.43,346.97 181.43,346.57 181.32,346.18 181.17,345.79 181.01,345.39 180.85,345 Z" fill="#97cf62" fill-opacity="0.66" stroke="#4f8f2a" stroke-width="0.5"/><path d="M179,345.63 V356.97" stroke="#4f8f2a" stroke-width="0.4" fill="none"/><rect x="178.26" y="346.26" width="1.48" height="2.85" fill="#4f8f2a" fill-opacity="0.6" stroke="#4f8f2a" stroke-width="0.35"/><path d="M177.96,346.97 H180.04" stroke="#222" stroke-width="0.5"/><path d="M178.75,353.32h0M179.22,352.61h0M179.01,355.01h0M178.92,352.75h0M178.67,351.61h0" stroke="#1a1a1a" stroke-width="0.95" stroke-linecap="round" fill="none" stroke-opacity="0.9"/>
<path d="M188.16,342 188.12,343.44 188.08,344.89 188.05,346.33 188.01,347.77 187.97,349.22 187.92,350.66 187.85,352.11 187.75,353.55 187.65,354.99 187.54,356.44 187.44,357.88 187.34,359.32 187.24,360.77 187.13,362.21 187.03,363.66 186.94,365.1 186.86,366.54 186.79,367.99 186.72,369.43 186.65,370.88 186.58,372.32 186.51,373.76 186.46,375.21 186.49,376.65 186.55,378.09 186.61,379.54 186.69,380.98 186.85,382.43 187.05,383.87 187.26,385.31 187.46,386.76 187.67,388.2 L190.13,388.2 190.34,386.76 190.54,385.31 190.75,383.87 190.95,382.43 191.11,380.98 191.19,379.54 191.25,378.09 191.31,376.65 191.34,375.21 191.29,373.76 191.22,372.32 191.15,370.88 191.08,369.43 191.01,367.99 190.94,366.54 190.86,365.1 190.77,363.66 190.67,362.21 190.56,360.77 190.46,359.32 190.36,357.88 190.26,356.44 190.15,354.99 190.05,353.55 189.95,352.11 189.88,350.66 189.83,349.22 189.79,347.77 189.75,346.33 189.72,344.89 189.68,343.44 189.64,342 Z" fill="#d4565f" fill-opacity="0.66" stroke="#97232f" stroke-width="0.5"/><path d="M188.9,344.31 V385.89" stroke="#97232f" stroke-width="0.4" fill="none"/><rect x="188.16" y="367.35" width="1.48" height="15.71" fill="#97232f" fill-opacity="0.6" stroke="#97232f" stroke-width="0.35"/><path d="M187.86,375.21 H189.94" stroke="#222" stroke-width="0.5"/><path d="M188.75,370.77h0M187.95,374.22h0M188.63,373.14h0M188.24,369.49h0M188.59,358.78h0M189.19,358.17h0M189.68,364h0M188.36,368.47h0" stroke="#1a1a1a" stroke-width="0.95" stroke-linecap="round" fill="none" stroke-opacity="0.9"/>
<path d="M198.8,372.8 198.77,373.51 198.74,374.21 198.71,374.92 198.68,375.62 198.65,376.33 198.62,377.04 198.59,377.74 198.56,378.45 198.53,379.16 198.5,379.86 198.47,380.57 198.43,381.27 198.37,381.98 198.27,382.69 198.14,383.39 198.02,384.1 197.9,384.81 197.78,385.51 197.66,386.22 197.54,386.93 197.42,387.63 197.3,388.34 197.19,389.04 197.08,389.75 196.97,390.46 196.87,391.16 196.76,391.87 196.69,392.57 196.72,393.28 196.81,393.99 196.91,394.69 197.01,395.4 L201.19,395.4 201.29,394.69 201.39,393.99 201.48,393.28 201.51,392.57 201.44,391.87 201.33,391.16 201.23,390.46 201.12,389.75 201.01,389.04 200.9,388.34 200.78,387.63 200.66,386.93 200.54,386.22 200.42,385.51 200.3,384.81 200.18,384.1 200.06,383.39 199.93,382.69 199.83,381.98 199.77,381.27 199.73,380.57 199.7,379.86 199.67,379.16 199.64,378.45 199.61,377.74 199.58,377.04 199.55,376.33 199.52,375.62 199.49,374.92 199.46,374.21 199.43,373.51 199.4,372.8 Z" fill="#7389c2" fill-opacity="0.66" stroke="#2f4988" stroke-width="0.5"/><path d="M199.1,373.93 V394.27" stroke="#2f4988" stroke-width="0.4" fill="none"/><rect x="198.36" y="388.73" width="1.48" height="4.41" fill="#2f4988" fill-opacity="0.6" stroke="#2f4988" stroke-width="0.35"/><path d="M198.06,392.01 H200.14" stroke="#222" stroke-width="0.5"/><path d="M199.05,378.33h0M199.05,378.04h0M199.27,385.35h0M199.03,379.22h0M199.23,377.7h0M199.3,380h0M198.94,375.62h0M199.04,382.59h0" stroke="#1a1a1a" stroke-width="0.95" stroke-linecap="round" fill="none" stroke-opacity="0.9"/>
<circle cx="177.8" cy="320" r="0.66" fill="#262626"/>
<circle cx="180.2" cy="320" r="0.66" fill="#262626"/>
<rect x="172.7" y="403.2" width="32.2" height="39.8" fill="#fff" stroke="#161616" stroke-width="1.3"/>
<path d="M176.76,419.8 176.69,419.93 176.63,420.06 176.57,420.19 176.51,420.32 176.45,420.46 176.41,420.59 176.48,420.72 176.62,420.85 176.79,420.98 176.95,421.11 177.12,421.24 177.28,421.38 177.45,421.51 177.61,421.64 177.78,421.77 177.94,421.9 178.1,422.03 178.21,422.16 178.26,422.29 178.3,422.43 178.35,422.56 178.39,422.69 178.43,422.82 178.47,422.95 178.51,423.08 178.55,423.21 178.59,423.34 178.63,423.48 178.67,423.61 178.71,423.74 178.75,423.87 178.79,424 L179.21,424 179.25,423.87 179.29,423.74 179.33,423.61 179.37,423.48 179.41,423.34 179.45,423.21 179.49,423.08 179.53,422.95 179.57,422.82 179.61,422.69 179.65,422.56 179.7,422.43 179.74,422.29 179.79,422.16 179.9,422.03 180.06,421.9 180.22,421.77 180.39,421.64 180.55,421.51 180.72,421.38 180.88,421.24 181.05,421.11 181.21,420.98 181.38,420.85 181.52,420.72 181.59,420.59 181.55,420.46 181.49,420.32 181.43,420.19 181.37,420.06 181.31,419.93 181.24,419.8 Z" fill="#97cf62" fill-opacity="0.66" stroke="#4f8f2a" stroke-width="0.5"/><path d="M179.43,421.75h0M178.55,420.17h0M179.04,423.61h0" stroke="#1a1a1a" stroke-width="0.95" stroke-linecap="round" fill="none" stroke-opacity="0.9"/>
<path d="M187.58,411.6 187.48,412.04 187.37,412.48 187.27,412.91 187.17,413.35 187.06,413.79 186.96,414.23 186.85,414.66 186.74,415.1 186.62,415.54 186.51,415.98 186.39,416.41 186.31,416.85 186.35,417.29 186.44,417.73 186.54,418.16 186.63,418.6 186.74,419.04 186.86,419.48 187.02,419.91 187.18,420.35 187.35,420.79 187.51,421.23 187.68,421.66 187.84,422.1 188,422.54 188.13,422.98 188.22,423.41 188.31,423.85 188.39,424.29 188.47,424.73 188.55,425.16 188.64,425.6 L189.16,425.6 189.25,425.16 189.33,424.73 189.41,424.29 189.49,423.85 189.58,423.41 189.67,422.98 189.8,422.54 189.96,422.1 190.12,421.66 190.29,421.23 190.45,420.79 190.62,420.35 190.78,419.91 190.94,419.48 191.06,419.04 191.17,418.6 191.26,418.16 191.36,417.73 191.45,417.29 191.49,416.85 191.41,416.41 191.29,415.98 191.18,415.54 191.06,415.1 190.95,414.66 190.84,414.23 190.74,413.79 190.63,413.35 190.53,412.91 190.43,412.48 190.32,412.04 190.22,411.6 Z" fill="#d4565f" fill-opacity="0.66" stroke="#97232f" stroke-width="0.5"/><path d="M188.9,412.3 V424.9" stroke="#97232f" stroke-width="0.4" fill="none"/><rect x="188.11" y="414.47" width="1.58" height="4.76" fill="#97232f" fill-opacity="0.6" stroke="#97232f" stroke-width="0.35"/><path d="M187.81,416.85 H189.99" stroke="#222" stroke-width="0.5"/><path d="M188.27,417.13h0M189.6,414.49h0M189.24,419.56h0M188.68,419.25h0M188.98,421.45h0M189.03,422.06h0" stroke="#1a1a1a" stroke-width="0.95" stroke-linecap="round" fill="none" stroke-opacity="0.9"/>
<path d="M198.94,431 198.91,431.08 198.88,431.17 198.85,431.25 198.82,431.34 198.79,431.42 198.76,431.51 198.73,431.59 198.7,431.68 198.67,431.76 198.64,431.84 198.61,431.93 198.58,432.01 198.55,432.1 198.51,432.18 198.42,432.27 198.31,432.35 198.18,432.43 198.06,432.52 197.94,432.6 197.81,432.69 197.69,432.77 197.57,432.86 197.44,432.94 197.32,433.02 197.21,433.11 197.16,433.19 197.18,433.28 197.23,433.36 197.28,433.45 197.32,433.53 197.37,433.62 197.42,433.7 L200.78,433.7 200.83,433.62 200.88,433.53 200.92,433.45 200.97,433.36 201.02,433.28 201.04,433.19 200.99,433.11 200.88,433.02 200.76,432.94 200.63,432.86 200.51,432.77 200.39,432.69 200.26,432.6 200.14,432.52 200.02,432.43 199.89,432.35 199.78,432.27 199.69,432.18 199.65,432.1 199.62,432.01 199.59,431.93 199.56,431.84 199.53,431.76 199.5,431.68 199.47,431.59 199.44,431.51 199.41,431.42 199.38,431.34 199.35,431.25 199.32,431.17 199.29,431.08 199.26,431 Z" fill="#7389c2" fill-opacity="0.66" stroke="#2f4988" stroke-width="0.5"/><path d="M198.53,432.68h0M198.99,431.82h0" stroke="#1a1a1a" stroke-width="0.95" stroke-linecap="round" fill="none" stroke-opacity="0.9"/>
<circle cx="177.8" cy="406.2" r="0.66" fill="#262626"/>
<circle cx="180.2" cy="406.2" r="0.66" fill="#262626"/>
<rect x="172.7" y="446.2" width="32.2" height="36.3" fill="#fff" stroke="#161616" stroke-width="1.3"/>
<path d="M177.06,463.6 176.82,463.81 176.63,464.01 176.58,464.22 176.58,464.43 176.58,464.63 176.58,464.84 176.58,465.04 176.58,465.25 176.58,465.46 176.58,465.66 176.58,465.87 176.58,466.07 176.58,466.28 176.58,466.49 176.58,466.69 176.58,466.9 176.58,467.11 176.58,467.31 176.58,467.52 176.58,467.73 176.58,467.93 176.58,468.14 176.58,468.34 176.58,468.55 176.58,468.76 176.58,468.96 176.58,469.17 176.58,469.38 176.58,469.58 176.63,469.79 176.82,469.99 177.06,470.2 L180.94,470.2 181.18,469.99 181.37,469.79 181.42,469.58 181.42,469.38 181.42,469.17 181.42,468.96 181.42,468.76 181.42,468.55 181.42,468.34 181.42,468.14 181.42,467.93 181.42,467.73 181.42,467.52 181.42,467.31 181.42,467.11 181.42,466.9 181.42,466.69 181.42,466.49 181.42,466.28 181.42,466.07 181.42,465.87 181.42,465.66 181.42,465.46 181.42,465.25 181.42,465.04 181.42,464.84 181.42,464.63 181.42,464.43 181.42,464.22 181.37,464.01 181.18,463.81 180.94,463.6 Z" fill="#97cf62" fill-opacity="0.66" stroke="#4f8f2a" stroke-width="0.5"/><path d="M179,463.93 V469.87" stroke="#4f8f2a" stroke-width="0.4" fill="none"/><rect x="178.27" y="464.26" width="1.45" height="1.08" fill="#4f8f2a" fill-opacity="0.6" stroke="#4f8f2a" stroke-width="0.35"/><path d="M177.97,464.59 H180.03" stroke="#222" stroke-width="0.5"/><path d="M179.39,464.22h0M178.92,464.83h0M179.64,467.9h0" stroke="#1a1a1a" stroke-width="0.95" stroke-linecap="round" fill="none" stroke-opacity="0.9"/>
<path d="M187.84,459 187.76,459.53 187.68,460.06 187.6,460.59 187.51,461.12 187.43,461.66 187.34,462.19 187.21,462.72 187.05,463.25 186.89,463.78 186.72,464.31 186.56,464.84 186.4,465.38 186.32,465.91 186.36,466.44 186.44,466.97 186.52,467.5 186.61,468.03 186.73,468.56 186.89,469.09 187.05,469.62 187.22,470.16 187.38,470.69 187.55,471.22 187.71,471.75 187.87,472.28 188.01,472.81 188.11,473.34 188.2,473.88 188.3,474.41 188.39,474.94 188.49,475.47 188.58,476 L189.22,476 189.31,475.47 189.41,474.94 189.5,474.41 189.6,473.88 189.69,473.34 189.79,472.81 189.93,472.28 190.09,471.75 190.25,471.22 190.42,470.69 190.58,470.16 190.75,469.62 190.91,469.09 191.07,468.56 191.19,468.03 191.28,467.5 191.36,466.97 191.44,466.44 191.48,465.91 191.4,465.38 191.24,464.84 191.08,464.31 190.91,463.78 190.75,463.25 190.59,462.72 190.46,462.19 190.37,461.66 190.29,461.12 190.2,460.59 190.12,460.06 190.04,459.53 189.96,459 Z" fill="#d4565f" fill-opacity="0.66" stroke="#97232f" stroke-width="0.5"/><path d="M188.9,459.85 V475.15" stroke="#97232f" stroke-width="0.4" fill="none"/><rect x="188.11" y="463.02" width="1.58" height="5.78" fill="#97232f" fill-opacity="0.6" stroke="#97232f" stroke-width="0.35"/><path d="M187.81,465.91 H189.99" stroke="#222" stroke-width="0.5"/><path d="M189,466.13h0M188.69,472.92h0M188.17,463.39h0M188.3,461.77h0M188.92,462.36h0M188.96,474.82h0" stroke="#1a1a1a" stroke-width="0.95" stroke-linecap="round" fill="none" stroke-opacity="0.9"/>
<path d="M198.92,473 198.89,473.11 198.86,473.21 198.82,473.32 198.79,473.43 198.76,473.53 198.72,473.64 198.69,473.74 198.66,473.85 198.62,473.96 198.59,474.06 198.55,474.17 198.52,474.27 198.49,474.38 198.44,474.49 198.35,474.59 198.22,474.7 198.08,474.81 197.94,474.91 197.81,475.02 197.67,475.12 197.53,475.23 197.39,475.34 197.26,475.44 197.12,475.55 197,475.66 196.94,475.76 196.97,475.87 197.02,475.97 197.08,476.08 197.13,476.19 197.18,476.29 197.23,476.4 L200.97,476.4 201.02,476.29 201.07,476.19 201.12,476.08 201.18,475.97 201.23,475.87 201.26,475.76 201.2,475.66 201.08,475.55 200.94,475.44 200.81,475.34 200.67,475.23 200.53,475.12 200.39,475.02 200.25,474.91 200.12,474.81 199.98,474.7 199.85,474.59 199.76,474.49 199.71,474.38 199.68,474.27 199.65,474.17 199.61,474.06 199.58,473.96 199.54,473.85 199.51,473.74 199.48,473.64 199.44,473.53 199.41,473.43 199.38,473.32 199.34,473.21 199.31,473.11 199.28,473 Z" fill="#7389c2" fill-opacity="0.66" stroke="#2f4988" stroke-width="0.5"/><path d="M199.09,474.02h0M199.06,473.45h0" stroke="#1a1a1a" stroke-width="0.95" stroke-linecap="round" fill="none" stroke-opacity="0.9"/>
<text x="179.3" y="451.1" font-size="5.3" text-anchor="middle" fill="#3a3a3a">ns</text>
<rect x="207.3" y="307.5" width="32.2" height="9.5" fill="#cdc7c9" stroke="#1c1c1c" stroke-width="1.3"/>
<text x="215.6" y="315" font-size="6.8" textLength="15.6" lengthAdjust="spacingAndGlyphs" fill="#2a2a2a">PD-L2</text>
<rect x="207.3" y="317" width="32.2" height="83.1" fill="#fff" stroke="#161616" stroke-width="1.3"/>
<path d="M213.42,365 213.39,365.17 213.36,365.34 213.32,365.51 213.29,365.68 213.26,365.84 213.22,366.01 213.19,366.18 213.16,366.35 213.12,366.52 213.09,366.69 213.05,366.86 213.02,367.02 212.99,367.19 212.94,367.36 212.85,367.53 212.72,367.7 212.58,367.87 212.45,368.04 212.31,368.21 212.17,368.38 212.03,368.54 211.9,368.71 211.76,368.88 211.62,369.05 211.5,369.22 211.44,369.39 211.47,369.56 211.52,369.72 211.58,369.89 211.63,370.06 211.68,370.23 211.73,370.4 L215.47,370.4 215.52,370.23 215.57,370.06 215.62,369.89 215.68,369.72 215.73,369.56 215.76,369.39 215.7,369.22 215.58,369.05 215.44,368.88 215.31,368.71 215.17,368.54 215.03,368.38 214.89,368.21 214.76,368.04 214.62,367.87 214.48,367.7 214.35,367.53 214.26,367.36 214.21,367.19 214.18,367.02 214.15,366.86 214.11,366.69 214.08,366.52 214.04,366.35 214.01,366.18 213.98,366.01 213.94,365.84 213.91,365.68 213.88,365.51 213.84,365.34 213.81,365.17 213.78,365 Z" fill="#97cf62" fill-opacity="0.66" stroke="#4f8f2a" stroke-width="0.5"/><path d="M213.42,369.55h0M214.01,368.12h0M213.61,366.41h0" stroke="#1a1a1a" stroke-width="0.95" stroke-linecap="round" fill="none" stroke-opacity="0.9"/>
<path d="M222.84,361 222.83,361.41 222.82,361.81 222.81,362.22 222.79,362.62 222.78,363.03 222.77,363.44 222.76,363.84 222.75,364.25 222.73,364.66 222.65,365.06 222.51,365.47 222.36,365.88 222.2,366.28 222.05,366.69 221.89,367.09 221.75,367.5 221.63,367.91 221.51,368.31 221.4,368.72 221.37,369.12 221.48,369.53 221.64,369.94 221.8,370.34 221.97,370.75 222.17,371.16 222.38,371.56 222.59,371.97 222.78,372.38 222.86,372.78 222.89,373.19 222.92,373.59 222.95,374 L224.05,374 224.08,373.59 224.11,373.19 224.14,372.78 224.22,372.38 224.41,371.97 224.62,371.56 224.83,371.16 225.03,370.75 225.2,370.34 225.36,369.94 225.52,369.53 225.63,369.12 225.6,368.72 225.49,368.31 225.37,367.91 225.25,367.5 225.11,367.09 224.95,366.69 224.8,366.28 224.64,365.88 224.49,365.47 224.35,365.06 224.27,364.66 224.25,364.25 224.24,363.84 224.23,363.44 224.22,363.03 224.21,362.62 224.19,362.22 224.18,361.81 224.17,361.41 224.16,361 Z" fill="#d4565f" fill-opacity="0.66" stroke="#97232f" stroke-width="0.5"/><path d="M223.5,361.65 V373.35" stroke="#97232f" stroke-width="0.4" fill="none"/><rect x="222.84" y="366.92" width="1.32" height="4.42" fill="#97232f" fill-opacity="0.6" stroke="#97232f" stroke-width="0.35"/><path d="M222.54,369.12 H224.46" stroke="#222" stroke-width="0.5"/><path d="M223.44,365.81h0M223.28,366.97h0M223.33,367.64h0M223.45,362.25h0M223.26,362.05h0" stroke="#1a1a1a" stroke-width="0.95" stroke-linecap="round" fill="none" stroke-opacity="0.9"/>
<path d="M231.83,374.4 231.78,374.53 231.73,374.66 231.68,374.78 231.62,374.91 231.57,375.04 231.54,375.17 231.6,375.3 231.72,375.42 231.86,375.55 232,375.68 232.13,375.81 232.27,375.94 232.41,376.07 232.55,376.19 232.68,376.32 232.82,376.45 232.95,376.58 233.04,376.71 233.09,376.83 233.12,376.96 233.15,377.09 233.19,377.22 233.22,377.35 233.26,377.48 233.29,377.6 233.32,377.73 233.36,377.86 233.39,377.99 233.42,378.12 233.46,378.24 233.49,378.37 233.52,378.5 L233.88,378.5 233.91,378.37 233.94,378.24 233.98,378.12 234.01,377.99 234.04,377.86 234.08,377.73 234.11,377.6 234.14,377.48 234.18,377.35 234.21,377.22 234.25,377.09 234.28,376.96 234.31,376.83 234.36,376.71 234.45,376.58 234.58,376.45 234.72,376.32 234.86,376.19 234.99,376.07 235.13,375.94 235.27,375.81 235.41,375.68 235.54,375.55 235.68,375.42 235.8,375.3 235.86,375.17 235.83,375.04 235.78,374.91 235.72,374.78 235.67,374.66 235.62,374.53 235.57,374.4 Z" fill="#7389c2" fill-opacity="0.66" stroke="#2f4988" stroke-width="0.5"/><path d="M233.47,376.62h0M233.61,377.21h0M233.63,378.03h0" stroke="#1a1a1a" stroke-width="0.95" stroke-linecap="round" fill="none" stroke-opacity="0.9"/>
<circle cx="213.6" cy="320" r="0.66" fill="#262626"/>
<rect x="207.3" y="403.2" width="32.2" height="39.8" fill="#fff" stroke="#161616" stroke-width="1.3"/>
<path d="M212.87,427 212.67,427.23 212.46,427.45 212.25,427.68 212.04,427.9 211.83,428.12 211.65,428.35 211.53,428.57 211.48,428.8 211.44,429.02 211.41,429.25 211.37,429.48 211.33,429.7 211.29,429.93 211.26,430.15 211.22,430.38 211.2,430.6 211.22,430.82 211.26,431.05 211.29,431.27 211.33,431.5 211.37,431.72 211.41,431.95 211.44,432.18 211.48,432.4 211.53,432.62 211.65,432.85 211.83,433.07 212.04,433.3 212.25,433.52 212.46,433.75 212.67,433.97 212.87,434.2 L214.33,434.2 214.53,433.97 214.74,433.75 214.95,433.52 215.16,433.3 215.37,433.07 215.55,432.85 215.67,432.62 215.72,432.4 215.76,432.18 215.79,431.95 215.83,431.72 215.87,431.5 215.91,431.27 215.94,431.05 215.98,430.82 216,430.6 215.98,430.38 215.94,430.15 215.91,429.93 215.87,429.7 215.83,429.48 215.79,429.25 215.76,429.02 215.72,428.8 215.67,428.57 215.55,428.35 215.37,428.12 215.16,427.9 214.95,427.68 214.74,427.45 214.53,427.23 214.33,427 Z" fill="#97cf62" fill-opacity="0.66" stroke="#4f8f2a" stroke-width="0.5"/><path d="M213.6,427.36 V433.84" stroke="#4f8f2a" stroke-width="0.4" fill="none"/><rect x="212.87" y="429.38" width="1.45" height="2.45" fill="#4f8f2a" fill-opacity="0.6" stroke="#4f8f2a" stroke-width="0.35"/><path d="M212.57,430.6 H214.63" stroke="#222" stroke-width="0.5"/><path d="M213.51,427.86h0M213.93,428.13h0M212.63,430.67h0M213.82,427.72h0" stroke="#1a1a1a" stroke-width="0.95" stroke-linecap="round" fill="none" stroke-opacity="0.9"/>
<path d="M222.9,423 222.89,423.35 222.88,423.7 222.87,424.05 222.86,424.4 222.85,424.75 222.84,425.1 222.83,425.45 222.82,425.8 222.81,426.15 222.8,426.5 222.79,426.85 222.77,427.2 222.71,427.55 222.55,427.9 222.36,428.25 222.17,428.6 221.98,428.95 221.79,429.3 221.61,429.65 221.47,430 221.34,430.35 221.21,430.7 221.13,431.05 221.2,431.4 221.31,431.75 221.43,432.1 221.55,432.45 221.69,432.8 221.93,433.15 222.21,433.5 222.49,433.85 222.77,434.2 L224.23,434.2 224.51,433.85 224.79,433.5 225.07,433.15 225.31,432.8 225.45,432.45 225.57,432.1 225.69,431.75 225.8,431.4 225.87,431.05 225.79,430.7 225.66,430.35 225.53,430 225.39,429.65 225.21,429.3 225.02,428.95 224.83,428.6 224.64,428.25 224.45,427.9 224.29,427.55 224.23,427.2 224.21,426.85 224.2,426.5 224.19,426.15 224.18,425.8 224.17,425.45 224.16,425.1 224.15,424.75 224.14,424.4 224.13,424.05 224.12,423.7 224.11,423.35 224.1,423 Z" fill="#d4565f" fill-opacity="0.66" stroke="#97232f" stroke-width="0.5"/><path d="M223.5,423.56 V433.64" stroke="#97232f" stroke-width="0.4" fill="none"/><rect x="222.77" y="429.15" width="1.45" height="3.81" fill="#97232f" fill-opacity="0.6" stroke="#97232f" stroke-width="0.35"/><path d="M222.47,431.05 H224.53" stroke="#222" stroke-width="0.5"/><path d="M223.22,428.58h0M223.02,429.95h0M223.99,428.34h0M223.4,424.51h0M222.66,430.34h0" stroke="#1a1a1a" stroke-width="0.95" stroke-linecap="round" fill="none" stroke-opacity="0.9"/>
<path d="M233.04,431.5 232.85,431.55 232.66,431.6 232.47,431.65 232.28,431.7 232.09,431.75 231.92,431.8 231.82,431.85 231.78,431.9 231.74,431.95 231.71,432 231.67,432.05 231.64,432.1 231.6,432.15 231.57,432.2 231.53,432.25 231.51,432.3 231.53,432.35 231.57,432.4 231.6,432.45 231.64,432.5 231.67,432.55 231.71,432.6 231.74,432.65 231.78,432.7 231.82,432.75 231.92,432.8 232.09,432.85 232.28,432.9 232.47,432.95 232.66,433 232.85,433.05 233.04,433.1 L234.36,433.1 234.55,433.05 234.74,433 234.93,432.95 235.12,432.9 235.31,432.85 235.48,432.8 235.58,432.75 235.63,432.7 235.66,432.65 235.69,432.6 235.73,432.55 235.76,432.5 235.8,432.45 235.83,432.4 235.87,432.35 235.89,432.3 235.87,432.25 235.83,432.2 235.8,432.15 235.76,432.1 235.73,432.05 235.69,432 235.66,431.95 235.63,431.9 235.58,431.85 235.48,431.8 235.31,431.75 235.12,431.7 234.93,431.65 234.74,431.6 234.55,431.55 234.36,431.5 Z" fill="#7389c2" fill-opacity="0.66" stroke="#2f4988" stroke-width="0.5"/><path d="M233.7,431.94h0M234.17,431.82h0" stroke="#1a1a1a" stroke-width="0.95" stroke-linecap="round" fill="none" stroke-opacity="0.9"/>
<text x="213.9" y="408.1" font-size="5.3" text-anchor="middle" fill="#3a3a3a">ns</text>
<rect x="207.3" y="446.2" width="32.2" height="36.3" fill="#fff" stroke="#161616" stroke-width="1.3"/>
<path d="M212.61,472.4 212.58,472.57 212.54,472.73 212.51,472.9 212.47,473.06 212.44,473.23 212.4,473.39 212.37,473.56 212.34,473.72 212.3,473.89 212.27,474.06 212.23,474.22 212.2,474.39 212.16,474.55 212.13,474.72 212.09,474.88 212.06,475.05 212,475.22 211.94,475.38 211.88,475.55 211.82,475.71 211.77,475.88 211.71,476.04 211.65,476.21 211.59,476.38 211.53,476.54 211.47,476.71 211.43,476.87 211.44,477.04 211.48,477.2 211.53,477.37 211.57,477.53 211.62,477.7 L215.58,477.7 215.63,477.53 215.67,477.37 215.72,477.2 215.76,477.04 215.77,476.87 215.73,476.71 215.67,476.54 215.61,476.38 215.55,476.21 215.49,476.04 215.43,475.88 215.38,475.71 215.32,475.55 215.26,475.38 215.2,475.22 215.14,475.05 215.11,474.88 215.07,474.72 215.04,474.55 215,474.39 214.97,474.22 214.93,474.06 214.9,473.89 214.87,473.72 214.83,473.56 214.8,473.39 214.76,473.23 214.73,473.06 214.69,472.9 214.66,472.73 214.62,472.57 214.59,472.4 Z" fill="#97cf62" fill-opacity="0.66" stroke="#4f8f2a" stroke-width="0.5"/><path d="M212.79,477.28h0M213.57,476.1h0M213.43,477.11h0" stroke="#1a1a1a" stroke-width="0.95" stroke-linecap="round" fill="none" stroke-opacity="0.9"/>
<path d="M222.53,469 222.46,469.29 222.38,469.57 222.31,469.86 222.23,470.15 222.15,470.44 222.08,470.73 222,471.01 221.93,471.3 221.85,471.59 221.76,471.88 221.65,472.16 221.53,472.45 221.42,472.74 221.31,473.02 221.19,473.31 221.11,473.6 221.14,473.89 221.2,474.18 221.26,474.46 221.32,474.75 221.38,475.04 221.44,475.32 221.5,475.61 221.58,475.9 221.7,476.19 221.84,476.47 221.97,476.76 222.11,477.05 222.24,477.34 222.38,477.62 222.52,477.91 222.65,478.2 L224.35,478.2 224.48,477.91 224.62,477.62 224.76,477.34 224.89,477.05 225.03,476.76 225.16,476.47 225.3,476.19 225.42,475.9 225.5,475.61 225.56,475.32 225.62,475.04 225.68,474.75 225.74,474.46 225.8,474.18 225.86,473.89 225.89,473.6 225.81,473.31 225.69,473.02 225.58,472.74 225.47,472.45 225.35,472.16 225.24,471.88 225.15,471.59 225.07,471.3 225,471.01 224.92,470.73 224.85,470.44 224.77,470.15 224.69,469.86 224.62,469.57 224.54,469.29 224.47,469 Z" fill="#d4565f" fill-opacity="0.66" stroke="#97232f" stroke-width="0.5"/><path d="M223.5,469.46 V477.74" stroke="#97232f" stroke-width="0.4" fill="none"/><rect x="222.77" y="472.04" width="1.45" height="3.13" fill="#97232f" fill-opacity="0.6" stroke="#97232f" stroke-width="0.35"/><path d="M222.47,473.6 H224.53" stroke="#222" stroke-width="0.5"/><path d="M224.27,474.55h0M223.93,473.25h0M223.52,477.14h0M223.9,475.49h0" stroke="#1a1a1a" stroke-width="0.95" stroke-linecap="round" fill="none" stroke-opacity="0.9"/>
<path d="M231.76,476 231.52,476.12 231.33,476.25 231.28,476.38 231.28,476.5 231.28,476.62 231.28,476.75 231.28,476.88 231.28,477 231.28,477.12 231.28,477.25 231.28,477.38 231.28,477.5 231.28,477.62 231.28,477.75 231.28,477.88 231.28,478 231.28,478.12 231.28,478.25 231.28,478.38 231.28,478.5 231.28,478.62 231.28,478.75 231.28,478.88 231.28,479 231.28,479.12 231.28,479.25 231.28,479.38 231.28,479.5 231.28,479.62 231.33,479.75 231.52,479.88 231.76,480 L235.64,480 235.88,479.88 236.07,479.75 236.12,479.62 236.12,479.5 236.12,479.38 236.12,479.25 236.12,479.12 236.12,479 236.12,478.88 236.12,478.75 236.12,478.62 236.12,478.5 236.12,478.38 236.12,478.25 236.12,478.12 236.12,478 236.12,477.88 236.12,477.75 236.12,477.62 236.12,477.5 236.12,477.38 236.12,477.25 236.12,477.12 236.12,477 236.12,476.88 236.12,476.75 236.12,476.62 236.12,476.5 236.12,476.38 236.07,476.25 235.88,476.12 235.64,476 Z" fill="#7389c2" fill-opacity="0.66" stroke="#2f4988" stroke-width="0.5"/><path d="M232.91,479.46h0M233.66,478.2h0M233.46,479.62h0" stroke="#1a1a1a" stroke-width="0.95" stroke-linecap="round" fill="none" stroke-opacity="0.9"/>
<text x="213.9" y="451.1" font-size="5.3" text-anchor="middle" fill="#3a3a3a">ns</text>
<rect x="241.9" y="307.5" width="32.2" height="9.5" fill="#cdc7c9" stroke="#1c1c1c" stroke-width="1.3"/>
<text x="251.4" y="315" font-size="6.8" textLength="13.2" lengthAdjust="spacingAndGlyphs" fill="#2a2a2a">TIGIT</text>
<rect x="241.9" y="317" width="32.2" height="83.1" fill="#fff" stroke="#161616" stroke-width="1.3"/>
<path d="M247.96,362 247.92,362.36 247.87,362.71 247.82,363.07 247.78,363.43 247.73,363.78 247.68,364.14 247.64,364.49 247.59,364.85 247.54,365.21 247.5,365.56 247.45,365.92 247.4,366.27 247.33,366.63 247.23,366.99 247.11,367.34 247,367.7 246.88,368.06 246.76,368.41 246.64,368.77 246.53,369.12 246.41,369.48 246.29,369.84 246.18,370.19 246.08,370.55 246.01,370.91 245.96,371.26 245.91,371.62 245.87,371.97 245.91,372.33 246.09,372.69 246.31,373.04 246.54,373.4 L249.86,373.4 250.09,373.04 250.31,372.69 250.49,372.33 250.53,371.97 250.49,371.62 250.44,371.26 250.39,370.91 250.32,370.55 250.22,370.19 250.11,369.84 249.99,369.48 249.87,369.12 249.76,368.77 249.64,368.41 249.52,368.06 249.4,367.7 249.29,367.34 249.17,366.99 249.07,366.63 249,366.27 248.95,365.92 248.9,365.56 248.86,365.21 248.81,364.85 248.76,364.49 248.72,364.14 248.67,363.78 248.62,363.43 248.58,363.07 248.53,362.71 248.48,362.36 248.44,362 Z" fill="#97cf62" fill-opacity="0.66" stroke="#4f8f2a" stroke-width="0.5"/><path d="M248.2,362.57 V372.83" stroke="#4f8f2a" stroke-width="0.4" fill="none"/><rect x="247.49" y="370.04" width="1.43" height="2.22" fill="#4f8f2a" fill-opacity="0.6" stroke="#4f8f2a" stroke-width="0.35"/><path d="M247.19,371.69 H249.21" stroke="#222" stroke-width="0.5"/><path d="M248.35,363.59h0M248.3,364.19h0M248.71,371.12h0M248.11,365.71h0M249.05,369.93h0" stroke="#1a1a1a" stroke-width="0.95" stroke-linecap="round" fill="none" stroke-opacity="0.9"/>
<path d="M257.97,352 257.74,352.75 257.52,353.5 257.3,354.25 257.08,355 256.89,355.75 256.69,356.5 256.5,357.25 256.31,358 256.15,358.75 256.09,359.5 256.06,360.25 256.03,361 255.99,361.75 255.96,362.5 255.93,363.25 255.91,364 255.91,364.75 255.92,365.5 255.93,366.25 255.94,367 255.95,367.75 255.96,368.5 255.98,369.25 255.99,370 256,370.75 256.04,371.5 256.17,372.25 256.36,373 256.56,373.75 256.8,374.5 257.15,375.25 257.55,376 L258.65,376 259.05,375.25 259.4,374.5 259.64,373.75 259.84,373 260.03,372.25 260.16,371.5 260.2,370.75 260.21,370 260.22,369.25 260.24,368.5 260.25,367.75 260.26,367 260.27,366.25 260.28,365.5 260.29,364.75 260.29,364 260.27,363.25 260.24,362.5 260.21,361.75 260.18,361 260.14,360.25 260.11,359.5 260.05,358.75 259.89,358 259.7,357.25 259.51,356.5 259.31,355.75 259.12,355 258.9,354.25 258.68,353.5 258.46,352.75 258.23,352 Z" fill="#d4565f" fill-opacity="0.66" stroke="#97232f" stroke-width="0.5"/><path d="M258.1,353.2 V374.8" stroke="#97232f" stroke-width="0.4" fill="none"/><rect x="257.44" y="359.92" width="1.32" height="8.16" fill="#97232f" fill-opacity="0.6" stroke="#97232f" stroke-width="0.35"/><path d="M257.14,364 H259.06" stroke="#222" stroke-width="0.5"/><path d="M258.15,373.84h0M258.15,363.44h0M259.03,369.65h0M257.59,362.32h0M257.29,361.35h0M259.05,367.02h0M258.46,357.82h0M258.7,357.89h0" stroke="#1a1a1a" stroke-width="0.95" stroke-linecap="round" fill="none" stroke-opacity="0.9"/>
<path d="M267.82,364.5 267.8,364.93 267.78,365.36 267.76,365.78 267.74,366.21 267.72,366.64 267.7,367.07 267.68,367.5 267.66,367.93 267.63,368.35 267.61,368.78 267.57,369.21 267.46,369.64 267.31,370.07 267.16,370.49 267.01,370.92 266.86,371.35 266.71,371.78 266.56,372.21 266.41,372.63 266.28,373.06 266.19,373.49 266.11,373.92 266.03,374.35 265.99,374.77 266.07,375.2 266.24,375.63 266.42,376.06 266.63,376.49 266.93,376.92 267.26,377.34 267.6,377.77 267.94,378.2 L268.66,378.2 269,377.77 269.34,377.34 269.67,376.92 269.97,376.49 270.18,376.06 270.36,375.63 270.53,375.2 270.61,374.77 270.57,374.35 270.49,373.92 270.41,373.49 270.32,373.06 270.19,372.63 270.04,372.21 269.89,371.78 269.74,371.35 269.59,370.92 269.44,370.49 269.29,370.07 269.14,369.64 269.03,369.21 268.99,368.78 268.97,368.35 268.94,367.93 268.92,367.5 268.9,367.07 268.88,366.64 268.86,366.21 268.84,365.78 268.82,365.36 268.8,364.93 268.78,364.5 Z" fill="#7389c2" fill-opacity="0.66" stroke="#2f4988" stroke-width="0.5"/><path d="M268.3,365.19 V377.51" stroke="#2f4988" stroke-width="0.4" fill="none"/><rect x="267.59" y="372.45" width="1.43" height="4.38" fill="#2f4988" fill-opacity="0.6" stroke="#2f4988" stroke-width="0.35"/><path d="M267.29,374.77 H269.31" stroke="#222" stroke-width="0.5"/><path d="M268.34,365.84h0M268.31,365.55h0M268.18,377.1h0M268.38,377.07h0M267.62,375.98h0" stroke="#1a1a1a" stroke-width="0.95" stroke-linecap="round" fill="none" stroke-opacity="0.9"/>
<text x="248.5" y="321.9" font-size="5.3" text-anchor="middle" fill="#3a3a3a">ns</text>
<rect x="241.9" y="403.2" width="32.2" height="39.8" fill="#fff" stroke="#161616" stroke-width="1.3"/>
<path d="M246.26,424.6 246.02,424.74 245.83,424.89 245.78,425.03 245.78,425.18 245.78,425.32 245.78,425.46 245.78,425.61 245.78,425.75 245.78,425.89 245.78,426.04 245.78,426.18 245.78,426.32 245.78,426.47 245.78,426.61 245.78,426.76 245.78,426.9 245.78,427.04 245.78,427.19 245.78,427.33 245.78,427.48 245.78,427.62 245.78,427.76 245.78,427.91 245.78,428.05 245.78,428.19 245.78,428.34 245.78,428.48 245.78,428.62 245.78,428.77 245.83,428.91 246.02,429.06 246.26,429.2 L250.14,429.2 250.38,429.06 250.57,428.91 250.62,428.77 250.62,428.62 250.62,428.48 250.62,428.34 250.62,428.19 250.62,428.05 250.62,427.91 250.62,427.76 250.62,427.62 250.62,427.48 250.62,427.33 250.62,427.19 250.62,427.04 250.62,426.9 250.62,426.76 250.62,426.61 250.62,426.47 250.62,426.32 250.62,426.18 250.62,426.04 250.62,425.89 250.62,425.75 250.62,425.61 250.62,425.46 250.62,425.32 250.62,425.18 250.62,425.03 250.57,424.89 250.38,424.74 250.14,424.6 Z" fill="#97cf62" fill-opacity="0.66" stroke="#4f8f2a" stroke-width="0.5"/><path d="M247.56,427.23h0M249.17,427.47h0M248.1,425.04h0" stroke="#1a1a1a" stroke-width="0.95" stroke-linecap="round" fill="none" stroke-opacity="0.9"/>
<path d="M257.37,419.7 257.24,420.01 257.1,420.32 256.97,420.64 256.83,420.95 256.69,421.26 256.56,421.57 256.42,421.89 256.3,422.2 256.21,422.51 256.13,422.82 256.06,423.14 255.98,423.45 255.91,423.76 255.83,424.07 255.76,424.39 255.7,424.7 255.71,425.01 255.73,425.32 255.76,425.64 255.78,425.95 255.81,426.26 255.83,426.57 255.86,426.89 255.88,427.2 255.92,427.51 256,427.82 256.13,428.14 256.29,428.45 256.44,428.76 256.59,429.07 256.74,429.39 256.89,429.7 L259.31,429.7 259.46,429.39 259.61,429.07 259.76,428.76 259.92,428.45 260.07,428.14 260.2,427.82 260.28,427.51 260.32,427.2 260.34,426.89 260.37,426.57 260.39,426.26 260.42,425.95 260.44,425.64 260.47,425.32 260.49,425.01 260.5,424.7 260.44,424.39 260.37,424.07 260.29,423.76 260.22,423.45 260.14,423.14 260.07,422.82 259.99,422.51 259.9,422.2 259.78,421.89 259.64,421.57 259.51,421.26 259.37,420.95 259.23,420.64 259.1,420.32 258.96,420.01 258.83,419.7 Z" fill="#d4565f" fill-opacity="0.66" stroke="#97232f" stroke-width="0.5"/><path d="M258.1,420.2 V429.2" stroke="#97232f" stroke-width="0.4" fill="none"/><rect x="257.37" y="423" width="1.45" height="3.4" fill="#97232f" fill-opacity="0.6" stroke="#97232f" stroke-width="0.35"/><path d="M257.07,424.7 H259.13" stroke="#222" stroke-width="0.5"/><path d="M258.76,422.27h0M257.47,428.62h0M258.48,427.75h0M257.1,426.28h0" stroke="#1a1a1a" stroke-width="0.95" stroke-linecap="round" fill="none" stroke-opacity="0.9"/>
<path d="M266.36,416 266.12,416.5 265.93,416.99 265.88,417.49 265.88,417.99 265.88,418.48 265.88,418.98 265.88,419.48 265.88,419.98 265.88,420.47 265.88,420.97 265.88,421.47 265.88,421.96 265.88,422.46 265.88,422.96 265.88,423.45 265.88,423.95 265.88,424.45 265.88,424.94 265.88,425.44 265.88,425.94 265.88,426.43 265.88,426.93 265.88,427.43 265.88,427.92 265.88,428.42 265.88,428.92 265.88,429.42 265.88,429.91 265.88,430.41 265.93,430.91 266.12,431.4 266.36,431.9 L270.24,431.9 270.48,431.4 270.67,430.91 270.72,430.41 270.72,429.91 270.72,429.42 270.72,428.92 270.72,428.42 270.72,427.92 270.72,427.43 270.72,426.93 270.72,426.43 270.72,425.94 270.72,425.44 270.72,424.94 270.72,424.45 270.72,423.95 270.72,423.45 270.72,422.96 270.72,422.46 270.72,421.96 270.72,421.47 270.72,420.97 270.72,420.47 270.72,419.98 270.72,419.48 270.72,418.98 270.72,418.48 270.72,417.99 270.72,417.49 270.67,416.99 270.48,416.5 270.24,416 Z" fill="#7389c2" fill-opacity="0.66" stroke="#2f4988" stroke-width="0.5"/><path d="M268.3,416.8 V431.1" stroke="#2f4988" stroke-width="0.4" fill="none"/><rect x="267.57" y="417.59" width="1.45" height="2.6" fill="#2f4988" fill-opacity="0.6" stroke="#2f4988" stroke-width="0.35"/><path d="M267.27,418.38 H269.33" stroke="#222" stroke-width="0.5"/><path d="M268.47,421.26h0M268.97,420.67h0M267.94,423.49h0M268.94,429.5h0M268.66,428.98h0M268.06,419.55h0" stroke="#1a1a1a" stroke-width="0.95" stroke-linecap="round" fill="none" stroke-opacity="0.9"/>
<text x="248.5" y="408.1" font-size="5.3" text-anchor="middle" fill="#3a3a3a">ns</text>
<rect x="241.9" y="446.2" width="32.2" height="36.3" fill="#fff" stroke="#161616" stroke-width="1.3"/>
<path d="M246.02,469 245.97,469.23 245.92,469.46 245.87,469.69 245.83,469.93 245.9,470.16 246.15,470.39 246.47,470.62 246.78,470.85 247.09,471.08 247.35,471.31 247.48,471.54 247.51,471.77 247.53,472.01 247.55,472.24 247.57,472.47 247.59,472.7 247.61,472.93 247.63,473.16 247.65,473.39 247.67,473.62 247.69,473.86 247.71,474.09 247.73,474.32 247.75,474.55 247.77,474.78 247.79,475.01 247.81,475.24 247.83,475.47 247.85,475.71 247.87,475.94 247.89,476.17 247.91,476.4 L248.49,476.4 248.51,476.17 248.53,475.94 248.55,475.71 248.57,475.47 248.59,475.24 248.61,475.01 248.63,474.78 248.65,474.55 248.67,474.32 248.69,474.09 248.71,473.86 248.73,473.62 248.75,473.39 248.77,473.16 248.79,472.93 248.81,472.7 248.83,472.47 248.85,472.24 248.87,472.01 248.89,471.77 248.92,471.54 249.05,471.31 249.31,471.08 249.62,470.85 249.93,470.62 250.25,470.39 250.5,470.16 250.57,469.93 250.53,469.69 250.48,469.46 250.43,469.23 250.38,469 Z" fill="#97cf62" fill-opacity="0.66" stroke="#4f8f2a" stroke-width="0.5"/><path d="M248.2,469.37 V476.03" stroke="#4f8f2a" stroke-width="0.4" fill="none"/><rect x="247.47" y="469.74" width="1.45" height="1.44" fill="#4f8f2a" fill-opacity="0.6" stroke="#4f8f2a" stroke-width="0.35"/><path d="M247.17,470.11 H249.23" stroke="#222" stroke-width="0.5"/><path d="M248.23,472.66h0M248.13,474.72h0M248.34,471.53h0M248.12,472.61h0" stroke="#1a1a1a" stroke-width="0.95" stroke-linecap="round" fill="none" stroke-opacity="0.9"/>
<path d="M257.78,463.6 257.63,463.97 257.47,464.34 257.31,464.71 257.16,465.08 257,465.44 256.85,465.81 256.73,466.18 256.63,466.55 256.53,466.92 256.43,467.29 256.34,467.66 256.24,468.02 256.14,468.39 256.05,468.76 255.95,469.13 255.87,469.5 255.81,469.87 255.76,470.24 255.71,470.61 255.66,470.98 255.61,471.34 255.56,471.71 255.51,472.08 255.48,472.45 255.53,472.82 255.59,473.19 255.66,473.56 255.72,473.92 255.79,474.29 255.86,474.66 255.92,475.03 255.99,475.4 L260.21,475.4 260.28,475.03 260.34,474.66 260.41,474.29 260.48,473.92 260.54,473.56 260.61,473.19 260.67,472.82 260.72,472.45 260.69,472.08 260.64,471.71 260.59,471.34 260.54,470.98 260.49,470.61 260.44,470.24 260.39,469.87 260.33,469.5 260.25,469.13 260.15,468.76 260.06,468.39 259.96,468.02 259.86,467.66 259.77,467.29 259.67,466.92 259.57,466.55 259.47,466.18 259.35,465.81 259.2,465.44 259.04,465.08 258.89,464.71 258.73,464.34 258.57,463.97 258.42,463.6 Z" fill="#d4565f" fill-opacity="0.66" stroke="#97232f" stroke-width="0.5"/><path d="M258.1,464.19 V474.81" stroke="#97232f" stroke-width="0.4" fill="none"/><rect x="257.31" y="470.44" width="1.58" height="3.78" fill="#97232f" fill-opacity="0.6" stroke="#97232f" stroke-width="0.35"/><path d="M257.01,472.45 H259.19" stroke="#222" stroke-width="0.5"/><path d="M257.43,473.94h0M257.59,474.39h0M258.86,469.13h0M258.11,468h0M258.57,465.99h0" stroke="#1a1a1a" stroke-width="0.95" stroke-linecap="round" fill="none" stroke-opacity="0.9"/>
<path d="M267.2,469 267.09,469.3 266.98,469.61 266.87,469.91 266.76,470.21 266.65,470.52 266.54,470.82 266.43,471.12 266.33,471.43 266.27,471.73 266.23,472.03 266.18,472.33 266.14,472.64 266.14,472.94 266.22,473.24 266.33,473.55 266.43,473.85 266.53,474.15 266.64,474.46 266.74,474.76 266.87,475.06 267.01,475.37 267.15,475.67 267.28,475.97 267.42,476.27 267.55,476.58 267.65,476.88 267.71,477.18 267.76,477.49 267.82,477.79 267.87,478.09 267.92,478.4 267.97,478.7 L268.63,478.7 268.68,478.4 268.73,478.09 268.78,477.79 268.84,477.49 268.89,477.18 268.95,476.88 269.05,476.58 269.18,476.27 269.32,475.97 269.45,475.67 269.59,475.37 269.73,475.06 269.86,474.76 269.96,474.46 270.07,474.15 270.17,473.85 270.27,473.55 270.38,473.24 270.46,472.94 270.46,472.64 270.42,472.33 270.37,472.03 270.33,471.73 270.27,471.43 270.17,471.12 270.06,470.82 269.95,470.52 269.84,470.21 269.73,469.91 269.62,469.61 269.51,469.3 269.4,469 Z" fill="#7389c2" fill-opacity="0.66" stroke="#2f4988" stroke-width="0.5"/><path d="M268.3,469.49 V478.21" stroke="#2f4988" stroke-width="0.4" fill="none"/><rect x="267.64" y="470.99" width="1.32" height="3.3" fill="#2f4988" fill-opacity="0.6" stroke="#2f4988" stroke-width="0.35"/><path d="M267.34,472.64 H269.26" stroke="#222" stroke-width="0.5"/><path d="M267.92,473.38h0M268.29,477.34h0M268.62,470.33h0M267.93,470.23h0" stroke="#1a1a1a" stroke-width="0.95" stroke-linecap="round" fill="none" stroke-opacity="0.9"/>
<text x="248.5" y="451.1" font-size="5.3" text-anchor="middle" fill="#3a3a3a">ns</text>
<rect x="276.5" y="307.5" width="32.2" height="9.5" fill="#cdc7c9" stroke="#1c1c1c" stroke-width="1.3"/>
<text x="285" y="315" font-size="6.8" textLength="15.2" lengthAdjust="spacingAndGlyphs" fill="#2a2a2a">T-Reg</text>
<rect x="276.5" y="317" width="32.2" height="83.1" fill="#fff" stroke="#161616" stroke-width="1.3"/>
<path d="M282.21,372.1 282.04,372.16 281.87,372.22 281.7,372.28 281.53,372.34 281.36,372.4 281.2,372.46 281.11,372.52 281.07,372.58 281.04,372.63 281.01,372.69 280.97,372.75 280.94,372.81 280.91,372.87 280.88,372.93 280.85,372.99 280.83,373.05 280.85,373.11 280.88,373.17 280.91,373.23 280.94,373.29 280.97,373.35 281.01,373.41 281.04,373.47 281.07,373.52 281.11,373.58 281.2,373.64 281.36,373.7 281.53,373.76 281.7,373.82 281.87,373.88 282.04,373.94 282.21,374 L283.39,374 283.56,373.94 283.73,373.88 283.9,373.82 284.07,373.76 284.24,373.7 284.4,373.64 284.49,373.58 284.53,373.52 284.56,373.47 284.59,373.41 284.63,373.35 284.66,373.29 284.69,373.23 284.72,373.17 284.75,373.11 284.77,373.05 284.75,372.99 284.72,372.93 284.69,372.87 284.66,372.81 284.63,372.75 284.59,372.69 284.56,372.63 284.53,372.58 284.49,372.52 284.4,372.46 284.24,372.4 284.07,372.34 283.9,372.28 283.73,372.22 283.56,372.16 283.39,372.1 Z" fill="#4f8a30" fill-opacity="0.66" stroke="#2f5a1c" stroke-width="0.5"/><path d="M283.03,373.01h0M283.51,372.89h0" stroke="#1a1a1a" stroke-width="0.95" stroke-linecap="round" fill="none" stroke-opacity="0.9"/>
<path d="M288.83,372.2 288.33,372.25 287.95,372.29 287.86,372.34 287.86,372.39 287.86,372.43 287.86,372.48 287.86,372.53 287.86,372.57 287.86,372.62 287.86,372.67 287.86,372.72 287.86,372.76 287.86,372.81 287.86,372.86 287.86,372.9 287.86,372.95 287.86,373 287.86,373.04 287.86,373.09 287.86,373.14 287.86,373.18 287.86,373.23 287.86,373.28 287.86,373.32 287.86,373.37 287.86,373.42 287.86,373.47 287.86,373.51 287.86,373.56 287.95,373.61 288.33,373.65 288.83,373.7 L296.57,373.7 297.07,373.65 297.45,373.61 297.54,373.56 297.54,373.51 297.54,373.47 297.54,373.42 297.54,373.37 297.54,373.32 297.54,373.28 297.54,373.23 297.54,373.18 297.54,373.14 297.54,373.09 297.54,373.04 297.54,373 297.54,372.95 297.54,372.9 297.54,372.86 297.54,372.81 297.54,372.76 297.54,372.72 297.54,372.67 297.54,372.62 297.54,372.57 297.54,372.53 297.54,372.48 297.54,372.43 297.54,372.39 297.54,372.34 297.45,372.29 297.07,372.25 296.57,372.2 Z" fill="#8e2a33" fill-opacity="0.66" stroke="#6a1c24" stroke-width="0.5"/><path d="M291.78,372.84h0M292.46,373.41h0" stroke="#1a1a1a" stroke-width="0.95" stroke-linecap="round" fill="none" stroke-opacity="0.9"/>
<path d="M301.18,371.9 301.13,372.02 301.08,372.13 301.04,372.25 300.99,372.36 300.94,372.48 300.92,372.59 300.97,372.71 301.08,372.82 301.2,372.94 301.33,373.06 301.46,373.17 301.58,373.29 301.71,373.4 301.84,373.52 301.96,373.63 302.09,373.75 302.21,373.87 302.29,373.98 302.34,374.1 302.37,374.21 302.4,374.33 302.43,374.44 302.46,374.56 302.49,374.68 302.52,374.79 302.55,374.91 302.58,375.02 302.61,375.14 302.65,375.25 302.68,375.37 302.71,375.48 302.74,375.6 L303.06,375.6 303.09,375.48 303.12,375.37 303.15,375.25 303.19,375.14 303.22,375.02 303.25,374.91 303.28,374.79 303.31,374.68 303.34,374.56 303.37,374.44 303.4,374.33 303.43,374.21 303.46,374.1 303.51,373.98 303.59,373.87 303.71,373.75 303.84,373.63 303.96,373.52 304.09,373.4 304.22,373.29 304.34,373.17 304.47,373.06 304.6,372.94 304.72,372.82 304.83,372.71 304.88,372.59 304.86,372.48 304.81,372.36 304.76,372.25 304.72,372.13 304.67,372.02 304.62,371.9 Z" fill="#3d4f8a" fill-opacity="0.66" stroke="#27355f" stroke-width="0.5"/><path d="M302.79,372.35h0M302.81,372.92h0M303.48,372.96h0" stroke="#1a1a1a" stroke-width="0.95" stroke-linecap="round" fill="none" stroke-opacity="0.9"/>
<circle cx="282.8" cy="320" r="0.66" fill="#262626"/>
<rect x="276.5" y="403.2" width="32.2" height="39.8" fill="#fff" stroke="#161616" stroke-width="1.3"/>
<path d="M282.14,429.8 281.95,429.85 281.76,429.91 281.57,429.96 281.38,430.01 281.19,430.07 281.02,430.12 280.92,430.17 280.88,430.23 280.84,430.28 280.81,430.33 280.77,430.38 280.74,430.44 280.7,430.49 280.67,430.54 280.63,430.6 280.61,430.65 280.63,430.7 280.67,430.76 280.7,430.81 280.74,430.86 280.77,430.92 280.81,430.97 280.84,431.02 280.88,431.07 280.92,431.13 281.02,431.18 281.19,431.23 281.38,431.29 281.57,431.34 281.76,431.39 281.95,431.45 282.14,431.5 L283.46,431.5 283.65,431.45 283.84,431.39 284.03,431.34 284.22,431.29 284.41,431.23 284.58,431.18 284.68,431.13 284.73,431.07 284.76,431.02 284.79,430.97 284.83,430.92 284.86,430.86 284.9,430.81 284.93,430.76 284.97,430.7 284.99,430.65 284.97,430.6 284.93,430.54 284.9,430.49 284.86,430.44 284.83,430.38 284.79,430.33 284.76,430.28 284.73,430.23 284.68,430.17 284.58,430.12 284.41,430.07 284.22,430.01 284.03,429.96 283.84,429.91 283.65,429.85 283.46,429.8 Z" fill="#4f8a30" fill-opacity="0.66" stroke="#2f5a1c" stroke-width="0.5"/><path d="M283.07,430.01h0M282.74,431.36h0" stroke="#1a1a1a" stroke-width="0.95" stroke-linecap="round" fill="none" stroke-opacity="0.9"/>
<path d="M290.64,428.5 290.59,428.6 290.53,428.69 290.47,428.79 290.42,428.89 290.36,428.98 290.33,429.08 290.39,429.18 290.52,429.27 290.67,429.37 290.82,429.47 290.98,429.57 291.13,429.66 291.28,429.76 291.43,429.86 291.58,429.95 291.73,430.05 291.87,430.15 291.98,430.24 292.03,430.34 292.06,430.44 292.1,430.53 292.14,430.63 292.17,430.73 292.21,430.83 292.25,430.92 292.28,431.02 292.32,431.12 292.36,431.21 292.4,431.31 292.43,431.41 292.47,431.5 292.51,431.6 L292.89,431.6 292.93,431.5 292.97,431.41 293,431.31 293.04,431.21 293.08,431.12 293.12,431.02 293.15,430.92 293.19,430.83 293.23,430.73 293.26,430.63 293.3,430.53 293.34,430.44 293.37,430.34 293.42,430.24 293.53,430.15 293.67,430.05 293.82,429.95 293.97,429.86 294.12,429.76 294.27,429.66 294.42,429.57 294.58,429.47 294.73,429.37 294.88,429.27 295.01,429.18 295.07,429.08 295.04,428.98 294.98,428.89 294.93,428.79 294.87,428.69 294.81,428.6 294.76,428.5 Z" fill="#8e2a33" fill-opacity="0.66" stroke="#6a1c24" stroke-width="0.5"/><path d="M292.9,430.71h0M292.88,430.72h0" stroke="#1a1a1a" stroke-width="0.95" stroke-linecap="round" fill="none" stroke-opacity="0.9"/>
<path d="M301.03,429.6 300.98,429.67 300.93,429.74 300.88,429.81 300.82,429.88 300.77,429.94 300.74,430.01 300.8,430.08 300.92,430.15 301.06,430.22 301.19,430.29 301.33,430.36 301.47,430.43 301.61,430.49 301.75,430.56 301.88,430.63 302.02,430.7 302.15,430.77 302.24,430.84 302.29,430.91 302.32,430.98 302.35,431.04 302.39,431.11 302.42,431.18 302.46,431.25 302.49,431.32 302.52,431.39 302.56,431.46 302.59,431.53 302.62,431.59 302.66,431.66 302.69,431.73 302.72,431.8 L303.08,431.8 303.11,431.73 303.14,431.66 303.18,431.59 303.21,431.53 303.24,431.46 303.28,431.39 303.31,431.32 303.34,431.25 303.38,431.18 303.41,431.11 303.45,431.04 303.48,430.98 303.51,430.91 303.56,430.84 303.65,430.77 303.78,430.7 303.92,430.63 304.05,430.56 304.19,430.49 304.33,430.43 304.47,430.36 304.6,430.29 304.74,430.22 304.88,430.15 305,430.08 305.06,430.01 305.03,429.94 304.98,429.88 304.92,429.81 304.87,429.74 304.82,429.67 304.77,429.6 Z" fill="#3d4f8a" fill-opacity="0.66" stroke="#27355f" stroke-width="0.5"/><path d="M302.71,431.06h0M303.1,430.06h0" stroke="#1a1a1a" stroke-width="0.95" stroke-linecap="round" fill="none" stroke-opacity="0.9"/>
<text x="283.1" y="408.1" font-size="5.3" text-anchor="middle" fill="#3a3a3a">ns</text>
<rect x="276.5" y="446.2" width="32.2" height="36.3" fill="#fff" stroke="#161616" stroke-width="1.3"/>
<path d="M282.14,475.5 281.95,475.53 281.76,475.56 281.57,475.59 281.38,475.62 281.19,475.66 281.02,475.69 280.92,475.72 280.88,475.75 280.84,475.78 280.81,475.81 280.77,475.84 280.74,475.88 280.7,475.91 280.67,475.94 280.63,475.97 280.61,476 280.63,476.03 280.67,476.06 280.7,476.09 280.74,476.12 280.77,476.16 280.81,476.19 280.84,476.22 280.88,476.25 280.92,476.28 281.02,476.31 281.19,476.34 281.38,476.38 281.57,476.41 281.76,476.44 281.95,476.47 282.14,476.5 L283.46,476.5 283.65,476.47 283.84,476.44 284.03,476.41 284.22,476.38 284.41,476.34 284.58,476.31 284.68,476.28 284.73,476.25 284.76,476.22 284.79,476.19 284.83,476.16 284.86,476.12 284.9,476.09 284.93,476.06 284.97,476.03 284.99,476 284.97,475.97 284.93,475.94 284.9,475.91 284.86,475.88 284.83,475.84 284.79,475.81 284.76,475.78 284.73,475.75 284.68,475.72 284.58,475.69 284.41,475.66 284.22,475.62 284.03,475.59 283.84,475.56 283.65,475.53 283.46,475.5 Z" fill="#bdbdbd" fill-opacity="0.66" stroke="#9a9a9a" stroke-width="0.5"/>
<path d="M292.04,475.5 291.85,475.53 291.66,475.56 291.47,475.59 291.28,475.62 291.09,475.66 290.92,475.69 290.82,475.72 290.77,475.75 290.74,475.78 290.71,475.81 290.67,475.84 290.64,475.88 290.6,475.91 290.57,475.94 290.53,475.97 290.51,476 290.53,476.03 290.57,476.06 290.6,476.09 290.64,476.12 290.67,476.16 290.71,476.19 290.74,476.22 290.77,476.25 290.82,476.28 290.92,476.31 291.09,476.34 291.28,476.38 291.47,476.41 291.66,476.44 291.85,476.47 292.04,476.5 L293.36,476.5 293.55,476.47 293.74,476.44 293.93,476.41 294.12,476.38 294.31,476.34 294.48,476.31 294.58,476.28 294.62,476.25 294.66,476.22 294.69,476.19 294.73,476.16 294.76,476.12 294.8,476.09 294.83,476.06 294.87,476.03 294.89,476 294.87,475.97 294.83,475.94 294.8,475.91 294.76,475.88 294.73,475.84 294.69,475.81 294.66,475.78 294.62,475.75 294.58,475.72 294.48,475.69 294.31,475.66 294.12,475.62 293.93,475.59 293.74,475.56 293.55,475.53 293.36,475.5 Z" fill="#bdbdbd" fill-opacity="0.66" stroke="#9a9a9a" stroke-width="0.5"/>
<path d="M302.24,475.5 302.05,475.53 301.86,475.56 301.67,475.59 301.48,475.62 301.29,475.66 301.12,475.69 301.02,475.72 300.97,475.75 300.94,475.78 300.91,475.81 300.87,475.84 300.84,475.88 300.8,475.91 300.77,475.94 300.73,475.97 300.71,476 300.73,476.03 300.77,476.06 300.8,476.09 300.84,476.12 300.87,476.16 300.91,476.19 300.94,476.22 300.97,476.25 301.02,476.28 301.12,476.31 301.29,476.34 301.48,476.38 301.67,476.41 301.86,476.44 302.05,476.47 302.24,476.5 L303.56,476.5 303.75,476.47 303.94,476.44 304.13,476.41 304.32,476.38 304.51,476.34 304.68,476.31 304.78,476.28 304.82,476.25 304.86,476.22 304.89,476.19 304.93,476.16 304.96,476.12 305,476.09 305.03,476.06 305.07,476.03 305.09,476 305.07,475.97 305.03,475.94 305,475.91 304.96,475.88 304.93,475.84 304.89,475.81 304.86,475.78 304.82,475.75 304.78,475.72 304.68,475.69 304.51,475.66 304.32,475.62 304.13,475.59 303.94,475.56 303.75,475.53 303.56,475.5 Z" fill="#bdbdbd" fill-opacity="0.66" stroke="#9a9a9a" stroke-width="0.5"/>
<text x="283.1" y="451.1" font-size="5.3" text-anchor="middle" fill="#3a3a3a">ns</text>
<rect x="308.7" y="317" width="9.3" height="83.1" fill="#cdc7c9" stroke="#1c1c1c" stroke-width="1.3"/>
<text transform="translate(311.2,358.55) rotate(90)" font-size="6.4" text-anchor="middle" fill="#2a2a2a">Tumor</text>
<rect x="308.7" y="403.2" width="9.3" height="39.8" fill="#cdc7c9" stroke="#1c1c1c" stroke-width="1.3"/>
<text transform="translate(311.2,423.1) rotate(90)" font-size="6.4" text-anchor="middle" fill="#2a2a2a">CD4 TIL</text>
<rect x="308.7" y="446.2" width="9.3" height="36.3" fill="#cdc7c9" stroke="#1c1c1c" stroke-width="1.3"/>
<text transform="translate(311.2,464.35) rotate(90)" font-size="6.4" text-anchor="middle" fill="#2a2a2a">CD8 TIL</text>
<g stroke="#1a1a1a" stroke-width="0.7">
<line x1="30.8" x2="33.7" y1="330.5" y2="330.5"/>
<line x1="30.8" x2="33.7" y1="351.75" y2="351.75"/>
<line x1="30.8" x2="33.7" y1="372.6" y2="372.6"/>
<line x1="30.8" x2="33.7" y1="393.6" y2="393.6"/>
<line x1="30.8" x2="33.7" y1="410.4" y2="410.4"/>
<line x1="30.8" x2="33.7" y1="420.8" y2="420.8"/>
<line x1="30.8" x2="33.7" y1="431.2" y2="431.2"/>
<line x1="30.8" x2="33.7" y1="441.5" y2="441.5"/>
<line x1="30.8" x2="33.7" y1="455.2" y2="455.2"/>
<line x1="30.8" x2="33.7" y1="465.5" y2="465.5"/>
<line x1="30.8" x2="33.7" y1="475.8" y2="475.8"/>
<line x1="40.6" x2="40.6" y1="483.1" y2="485.6"/>
<line x1="50.5" x2="50.5" y1="483.1" y2="485.6"/>
<line x1="60.7" x2="60.7" y1="483.1" y2="485.6"/>
<line x1="75.2" x2="75.2" y1="483.1" y2="485.6"/>
<line x1="85.1" x2="85.1" y1="483.1" y2="485.6"/>
<line x1="95.3" x2="95.3" y1="483.1" y2="485.6"/>
<line x1="109.8" x2="109.8" y1="483.1" y2="485.6"/>
<line x1="119.7" x2="119.7" y1="483.1" y2="485.6"/>
<line x1="129.9" x2="129.9" y1="483.1" y2="485.6"/>
<line x1="144.4" x2="144.4" y1="483.1" y2="485.6"/>
<line x1="154.3" x2="154.3" y1="483.1" y2="485.6"/>
<line x1="164.5" x2="164.5" y1="483.1" y2="485.6"/>
<line x1="179" x2="179" y1="483.1" y2="485.6"/>
<line x1="188.9" x2="188.9" y1="483.1" y2="485.6"/>
<line x1="199.1" x2="199.1" y1="483.1" y2="485.6"/>
<line x1="213.6" x2="213.6" y1="483.1" y2="485.6"/>
<line x1="223.5" x2="223.5" y1="483.1" y2="485.6"/>
<line x1="233.7" x2="233.7" y1="483.1" y2="485.6"/>
<line x1="248.2" x2="248.2" y1="483.1" y2="485.6"/>
<line x1="258.1" x2="258.1" y1="483.1" y2="485.6"/>
<line x1="268.3" x2="268.3" y1="483.1" y2="485.6"/>
<line x1="282.8" x2="282.8" y1="483.1" y2="485.6"/>
<line x1="292.7" x2="292.7" y1="483.1" y2="485.6"/>
<line x1="302.9" x2="302.9" y1="483.1" y2="485.6"/>
</g>
<g font-size="6.5" fill="#1a1a1a" text-anchor="end">
<text x="28.5" y="332.85">4</text>
<text x="28.5" y="354.1">2</text>
<text x="28.5" y="374.95">0</text>
<text x="28.5" y="395.95">-2</text>
<text x="28.5" y="412.75">2</text>
<text x="28.5" y="423.15">1</text>
<text x="28.5" y="433.55">0</text>
<text x="28.5" y="443.85">-1</text>
<text x="28.5" y="457.55">2</text>
<text x="28.5" y="467.85">1</text>
<text x="28.5" y="478.15">0</text>
</g>
<g font-size="6.9" fill="#1a1a1a" text-anchor="end">
<text transform="translate(42.9,490.6) rotate(-45) scale(0.9,1)">evasive</text>
<text transform="translate(52.8,490.6) rotate(-45) scale(0.9,1)">exhausted</text>
<text transform="translate(63,490.6) rotate(-45) scale(0.9,1)">cold</text>
<text transform="translate(77.5,490.6) rotate(-45) scale(0.9,1)">evasive</text>
<text transform="translate(87.4,490.6) rotate(-45) scale(0.9,1)">exhausted</text>
<text transform="translate(97.6,490.6) rotate(-45) scale(0.9,1)">cold</text>
<text transform="translate(112.1,490.6) rotate(-45) scale(0.9,1)">evasive</text>
<text transform="translate(122,490.6) rotate(-45) scale(0.9,1)">exhausted</text>
<text transform="translate(132.2,490.6) rotate(-45) scale(0.9,1)">cold</text>
<text transform="translate(146.7,490.6) rotate(-45) scale(0.9,1)">evasive</text>
<text transform="translate(156.6,490.6) rotate(-45) scale(0.9,1)">exhausted</text>
<text transform="translate(166.8,490.6) rotate(-45) scale(0.9,1)">cold</text>
<text transform="translate(181.3,490.6) rotate(-45) scale(0.9,1)">evasive</text>
<text transform="translate(191.2,490.6) rotate(-45) scale(0.9,1)">exhausted</text>
<text transform="translate(201.4,490.6) rotate(-45) scale(0.9,1)">cold</text>
<text transform="translate(215.9,490.6) rotate(-45) scale(0.9,1)">evasive</text>
<text transform="translate(225.8,490.6) rotate(-45) scale(0.9,1)">exhausted</text>
<text transform="translate(236,490.6) rotate(-45) scale(0.9,1)">cold</text>
<text transform="translate(250.5,490.6) rotate(-45) scale(0.9,1)">evasive</text>
<text transform="translate(260.4,490.6) rotate(-45) scale(0.9,1)">exhausted</text>
<text transform="translate(270.6,490.6) rotate(-45) scale(0.9,1)">cold</text>
<text transform="translate(285.1,490.6) rotate(-45) scale(0.9,1)">evasive</text>
<text transform="translate(295,490.6) rotate(-45) scale(0.9,1)">exhausted</text>
<text transform="translate(305.2,490.6) rotate(-45) scale(0.9,1)">cold</text>
</g>
<text transform="translate(15.1,400.5) rotate(-90) scale(0.84,1)" font-size="9.2" text-anchor="middle" fill="#1a1a1a">MFI</text>
<text transform="translate(171,524.7) scale(0.87,1)" font-size="9.3" text-anchor="middle" fill="#1a1a1a">Cluster</text>
<text x="114.6" y="541.3" font-size="6.3" fill="#1a1a1a">cluster</text>
<rect x="114.5" y="545.8" width="8" height="8" fill="#86b85a" stroke="#4f8f2a" stroke-width="0.6"/>
<rect x="117" y="547.4" width="3" height="4.8" fill="none" stroke="#2a2a2a" stroke-width="0.5"/>
<circle cx="118.5" cy="549.8" r="0.7" fill="#1a1a1a"/>
<text x="125.8" y="552.1" font-size="6.3" fill="#151515">evasive</text>
<rect x="155" y="545.8" width="8" height="8" fill="#b5525a" stroke="#97232f" stroke-width="0.6"/>
<rect x="157.5" y="547.4" width="3" height="4.8" fill="none" stroke="#2a2a2a" stroke-width="0.5"/>
<circle cx="159" cy="549.8" r="0.7" fill="#1a1a1a"/>
<text x="166.3" y="552.1" font-size="6.3" fill="#151515">exhausted</text>
<rect x="204" y="545.8" width="8" height="8" fill="#6a7db0" stroke="#2f4988" stroke-width="0.6"/>
<rect x="206.5" y="547.4" width="3" height="4.8" fill="none" stroke="#2a2a2a" stroke-width="0.5"/>
<circle cx="208" cy="549.8" r="0.7" fill="#1a1a1a"/>
<text x="215.3" y="552.1" font-size="6.3" fill="#151515">cold</text>
</g>
<g id="pD">
<text x="334" y="305.3" font-size="11.3" fill="#1a1a1a">D</text>
<g fill="none" stroke-width="1.05" stroke-linecap="round">
<path d="M415.3,345.4h0M421.2,327.1h0M404.3,334.6h0M421.7,336.9h0M408.5,335h0M418.6,332.2h0M422.6,343.4h0M419.3,329.7h0M390.5,327.9h0M424.7,338.6h0M409.9,334.4h0M397.4,335.9h0M411.8,328.6h0M404.2,328.8h0M408.9,335h0M402.9,326.3h0M403.8,339.2h0M423.1,343.8h0M423.9,338.7h0M412.3,333.3h0M400.1,342.9h0M413.6,321.2h0M397.7,331.6h0M416.9,347.2h0M418.8,349.4h0M408.2,322h0M420.7,331.9h0M411.4,336.5h0M418.2,332.1h0M414.6,335h0M410.5,328.7h0M421,332.1h0M406.6,320.3h0M422.4,333.2h0M398.2,338.5h0M411.9,340.7h0M394.7,325.8h0M402.2,335.1h0M399.6,340.5h0M409.8,335.9h0M420.5,340.4h0M399.5,341.8h0" stroke="#483090"/><path d="M417.6,350.1h0M399.8,336.1h0M399.6,330.7h0M424.7,335.6h0M421.5,332.6h0M415.2,334.7h0M420,332.4h0M396.5,331.9h0M412.2,349.2h0M422.1,340.3h0M421.3,336h0M407.4,345.6h0M400.4,335.9h0M410.2,320.5h0M425,337.2h0M419,344.3h0M419.4,339.1h0" stroke="#303078"/><path d="M400.8,328.5h0M413.1,328.6h0M405.2,344.8h0M407.8,346.1h0M405,327.1h0M414.7,339.2h0M408.4,343.6h0M412,340.9h0M409.5,347.2h0M424.4,347h0M399,328.7h0M410.5,347.6h0M419.1,341h0M414.5,333.6h0M411.9,327.1h0M404.2,345.9h0M400.8,331.9h0M412.5,331.3h0M411.1,326.3h0M393.5,323.3h0M420.9,345.6h0M422.9,345.2h0M419.8,348.2h0M406.1,324.9h0M402.1,340h0M411.5,341.9h0M409.6,327.8h0M416.4,328h0M410.7,336.5h0M411.2,346.1h0M397.6,335.6h0M416.3,343.8h0M420.5,332.5h0M401.2,335.8h0M414.1,326.6h0M420,332.9h0M406.6,332.8h0M415.4,342.7h0M400.6,332h0M412.8,332.3h0M400.6,332.1h0M408.9,334.7h0M418.7,343.5h0M415.8,349.4h0M411.9,340.1h0M424.6,334h0M416.2,349.7h0M414.3,328.5h0M421.7,344.2h0M413,342.1h0M407,328h0M401.4,331.4h0M418.7,349.8h0M413.7,334.2h0M402,334.5h0M404.3,335.2h0M405,331.2h0M413.2,324.8h0M413.6,342.2h0M398,322.1h0M401.4,340h0M417.3,344.5h0M419.6,342h0M414.2,344h0M414.7,341.8h0" stroke="#6030a8"/><path d="M397.7,327.9h0M412.2,345.2h0M423.5,338.3h0M397.7,335.1h0M392,328.7h0M390.3,327.5h0M407.2,339.1h0M418.4,327.4h0M419.7,338.7h0M424.2,338.9h0M409.8,336.4h0M413.5,323.4h0M416,347h0M415.5,339.2h0M415,345.2h0M396.8,333h0M399.2,338.1h0M410.4,323h0M396.2,323.3h0M415.6,324h0M418.7,345.3h0M411.4,325.2h0M408.7,338.3h0M400.2,332.6h0M421,342.7h0M418.7,342.6h0M399,340.4h0" stroke="#181878"/><path d="M415.7,322.8h0M424.9,333.5h0M412.9,332.9h0M425.3,344.4h0M416.2,336.7h0M399.3,338.2h0M405.7,322.7h0M398.3,324.2h0M404.5,340.9h0M391.3,329.3h0M399.9,326.4h0M403.3,334.7h0M399.6,332.4h0M398.5,325.5h0M419.3,340.7h0M402.1,339.5h0M411.4,342.1h0M426.1,340.4h0M414.7,333.8h0M414.7,327.8h0M409.4,328.6h0M406.7,320.1h0M400.9,334.8h0M395.6,325.4h0M398.3,330h0M410.6,335.4h0M419.4,325h0M410.2,338h0M410.7,322.2h0M395.1,324.5h0M416.2,345.7h0" stroke="#4818a8"/><path d="M415.5,332.4h0M409.5,329.8h0M412.7,331.9h0M409.1,326.6h0M416.8,337.6h0M419.7,345h0" stroke="#300060"/><path d="M395,324h0M405.9,344.5h0M417.8,331.8h0M405.9,326.2h0M422.4,344.9h0M422.4,337.8h0M413.8,328.5h0M421,346.7h0M426,342.2h0M415.2,344h0M406.3,342.1h0M421.1,340.5h0" stroke="#3048c0"/><path d="M422.5,338.9h0M406.8,323.2h0M421.2,327.4h0M425,336.8h0M425,344.7h0M397.9,323.3h0M394.7,330.9h0" stroke="#301890"/><path d="M414.4,338.8h0M415.6,321.7h0M410.4,323.9h0M410.6,320.1h0M396.4,329.9h0M410.9,324.6h0M410.1,335.9h0M417.6,333.7h0M419.5,341.1h0M395.3,324.5h0M398.1,330.1h0M404.5,328.9h0M401.9,333.8h0M413,345.5h0M421.6,338.7h0M396.7,337.7h0M424.9,339.5h0M398.1,340.3h0M412.3,335.4h0M391.8,326.9h0M402.7,338h0M399.7,329.1h0M420,338.6h0M423,346.5h0M404.2,334.8h0M394.6,327.2h0M419.5,339.7h0M407,328.3h0M425.1,334.4h0M424.9,345.8h0M410.5,335.3h0M411.9,326.8h0M394.7,322.9h0M399.3,328.6h0M413.8,335.9h0M399.2,329.9h0M420.2,335h0M412.1,342h0M420.9,346.4h0M400.4,343.1h0M419.3,333.4h0M396.7,335.4h0M397.5,321.8h0M400.4,343.3h0M417.6,326.7h0M414.7,335.6h0M397.4,329.8h0M405.7,323.2h0M399.1,326.9h0M415.5,342.8h0M417.5,327.6h0M400,334.5h0M411.8,323.5h0M404.5,340.1h0M418.1,340.5h0M411.8,339.7h0M416.1,323.3h0M401.6,323.1h0M422.3,349.7h0M426.1,335h0M414.3,321h0M404,339.1h0M398.7,340.8h0M415.8,346.8h0M392.4,327h0M404.6,334.4h0M396,326.5h0M423.3,346.6h0M402.9,320.8h0M405.4,329.6h0M420.2,339h0M417.5,324.1h0M400.2,332.4h0M408.1,335.9h0M418.2,325.6h0M406.3,328.6h0M402,334.7h0M410.6,337h0M419.6,332.7h0M405.4,335.1h0M417.7,330.1h0M407.6,325.9h0M420.7,339.5h0M422.8,347.1h0M420,348.8h0M403.2,338.3h0M410.7,348.6h0M422.7,337.4h0M409.9,329.4h0M408.2,331.5h0M411,336.4h0M422.5,343.8h0M406.4,338.2h0M420.3,326.7h0M416.1,322.1h0M393.4,332.3h0M418.4,327.4h0M418.9,342h0M421.4,347.9h0M408.1,322.3h0M423.2,334h0M396.6,323.3h0M406.5,343.3h0M409.9,344.4h0M395.5,336.8h0M410.9,335.4h0M418.3,336.3h0M421.4,336.9h0M406.9,335.1h0M424.2,347.5h0M413.5,337.8h0M407,334h0M410.3,322.3h0M397.7,324.2h0M419.9,342.9h0M401.1,331.4h0M407.5,321.6h0M405.6,335.5h0M406.6,346.3h0M423.8,332.2h0M417.8,349.8h0M410.1,336.7h0M394.8,333.8h0M417.5,338h0M396.1,330.4h0M423.3,345.8h0M403.1,338.7h0M411.5,321.8h0M409.8,322.1h0M415.1,323.8h0M402.8,322h0M404.3,341.7h0M424.5,346.3h0M415.2,337.4h0M417.5,350h0M410.7,337.5h0M424.6,338.6h0M420.4,340.8h0M407.8,330.8h0M419.8,332h0M405.1,332.6h0M419.2,325.2h0M420.8,340.7h0M411.4,344.6h0M400.4,336.6h0M419.5,327.5h0M408.4,344.4h0M392.4,330.1h0M423.5,346.5h0M420.4,337.6h0M423.9,337.7h0M399.1,326.3h0" stroke="#4830a8"/><path d="M405,327h0M420.7,333h0" stroke="#484878"/><path d="M412.7,329.7h0M419.8,330.3h0M410,339.8h0M426.2,339.3h0M407,332.9h0M421,338.7h0M422.6,331.5h0M398.9,338.9h0M396.8,337.1h0M412,331.5h0M421.6,339.5h0M415.7,331.8h0M397.6,322.2h0M397,326.6h0M423.7,336.9h0M404.3,337.4h0M401.6,340.3h0M411.4,332.2h0M416.5,337.3h0M399.6,323.6h0M400.8,329.1h0M407.8,333.6h0M423.2,332.3h0M407.5,346h0M413.7,341h0M407,339.7h0M393.8,330.7h0M415.3,345.9h0M412.4,331.7h0M398.9,327.8h0M418.9,327.7h0M397.3,337.5h0M418.1,339.1h0M391,327.6h0M401.2,332.4h0M393,331.2h0M396.1,329.6h0" stroke="#301878"/><path d="M396.3,323.9h0M397.1,337.6h0M417.7,326.5h0M416.9,327.7h0M417.8,326.2h0M406.4,343.8h0M424.2,347.2h0M391.7,328.4h0M405.9,345.8h0M422.8,348.1h0M418.2,348.6h0M394.1,324.3h0M410.4,328.7h0M402.5,321.2h0M405.4,339.8h0M412.7,344h0M402,331.3h0M420.5,337.3h0M419.8,349.6h0M421.1,336.9h0M409.5,344.7h0M412.6,326.7h0M421,327.1h0M412.8,334.9h0M395.2,331.2h0M402.4,330.9h0M396.8,330.7h0M419.3,339.6h0M416.4,339.6h0M415.7,334.8h0M416.2,322.6h0M409.5,348.1h0M396.5,337.5h0M398,336.7h0M413.7,340.2h0M399.1,336.9h0M399.9,330.4h0M412.4,348.9h0M414.4,321.4h0M417.5,344.1h0M403.2,336h0" stroke="#4848c0"/><path d="M425.7,336.9h0M419,338.5h0M414.7,333.6h0M396.4,337.2h0M416,334.4h0M408.2,339.2h0M419.6,348.5h0M426.1,338.4h0M421.1,332.5h0M401.1,332.6h0M421.8,339.3h0M404.7,327.6h0M396.5,324.5h0M394.9,331.7h0M419.4,329.3h0M417.5,324h0M393.8,329.3h0M423.3,346.4h0M410.2,344.1h0M417.1,337.7h0M418.6,340h0M394.4,324.9h0M407.7,345.5h0M425.1,336.8h0M394.9,330h0M401.3,336.8h0" stroke="#3048a8"/><path d="M404.2,346.2h0" stroke="#d8fff0"/><path d="M425.6,337.2h0M409.4,321.7h0M409,332.4h0" stroke="#7830c0"/><path d="M412.8,345.2h0M396.4,323.6h0M414.1,323.7h0M415.7,347.9h0M415.2,321.7h0M411.6,346h0M410.3,322.3h0M412.4,327.4h0M412.5,335.1h0M415.9,347.9h0M400.2,330.4h0M414.4,329h0M404,339.1h0M393.2,329.1h0M414,344.7h0M419.9,349.5h0M409.7,339.8h0M422.7,349.3h0M425.6,343.2h0M422.1,339.4h0M422.3,346.6h0M426.2,339.9h0M394.7,323.3h0M422.7,345.9h0M421.8,346.9h0M404.4,336.2h0M396.8,337.4h0M420.8,330h0M417.4,348.9h0M422.7,331.3h0M416.2,341h0M424.6,333.6h0M412.8,339.4h0M410,336.6h0M407.7,321.3h0M412.1,342.4h0" stroke="#6048a8"/><path d="M417.4,340.3h0M404.7,327.4h0M417.4,326.5h0M402.3,336.1h0M392.2,330.8h0M396.4,337.4h0M413.7,322.6h0M397.4,335.4h0M403,341.3h0" stroke="#183078"/><path d="M392.4,331.1h0M410.9,334h0M417.8,334h0M400.6,343.5h0M405.5,346.3h0M408,321.1h0M423.2,337.8h0M405.6,328.1h0M414.4,322.3h0M393.3,328.1h0M419,348.7h0M404.1,325.5h0M415.1,329.2h0M404,325.1h0M408.7,324h0M418.1,341.2h0M398.8,335.8h0M417.7,331.4h0M391.1,326.3h0M399.6,341.5h0M398.9,322.3h0M396.7,329.4h0M405.8,327h0" stroke="#181860"/><path d="M392.4,327.7h0M423.2,338h0M408.2,335.9h0M417,325.2h0" stroke="#f0ffff"/><path d="M397.1,339.4h0M423.3,333.8h0M413.3,330.3h0M411.8,345.6h0M407.4,344.4h0M423.7,332.8h0M400,336.9h0M412.5,332h0M422.5,336.4h0M393.8,324.1h0M419.2,333h0M419.7,328.8h0M403.7,330.6h0M409,320.6h0M404.8,329.6h0M417.7,343.1h0M424.9,336.1h0M408.6,333.7h0M412.7,324.3h0M393.2,326.9h0M404.3,336.2h0M418.1,338.1h0M414.3,333h0M398.8,339.1h0M417.3,348.9h0M404.5,320.6h0M403.5,337.4h0M406.8,342.9h0M400.1,323h0M395.6,336.7h0M419.1,346.2h0M404.1,326.3h0M410.9,327.2h0M412.5,326.2h0M411.1,340.4h0M415.8,338.7h0M410.8,326.4h0M403.5,331h0M403,329.5h0M406.4,342.8h0M403.2,337h0M407.9,321.2h0M401.3,343.9h0M399.2,335.2h0M406.4,335.2h0M422.5,345.4h0M420.6,347.4h0M399.5,321.4h0M404.6,338.7h0M397.8,335.4h0M398.9,329.3h0M405.7,322.7h0M406.8,343.3h0M394.7,335.5h0M416.8,323.9h0M419.3,344.3h0M405.9,346h0M401.6,339.5h0M410.8,345h0M402,330.8h0M414.1,329.9h0M410.7,348.6h0M405.1,341.8h0M406.7,322h0M405.1,338.9h0M415,326.2h0M399.6,327h0M408.3,332.9h0M408.8,337h0M409.9,326.3h0M424.5,333h0M406.6,331h0M423.7,344.3h0M405.3,325.8h0M423.5,347.4h0M398.3,330.9h0M398,340.3h0M393,326.8h0M403.7,341.3h0M404.8,330.4h0M398.1,326.9h0M423.5,339.1h0M420.9,347.3h0M395.6,336.3h0M422.4,329h0M403,330.4h0M392.9,330.6h0M391.7,330.9h0M415.5,340h0M412.2,321.4h0M394.1,329.7h0M405,334.4h0M391.4,326.3h0M413.7,334.3h0M395.8,335.2h0M399.4,335.4h0M394.7,329.9h0M394.1,334h0" stroke="#4830c0"/><path d="M410.5,347.8h0M417.9,332.8h0" stroke="#001860"/><path d="M419.4,328.5h0M392.5,331.3h0M398.7,331.6h0M406.2,342.4h0M407.4,332.7h0M404.7,328.3h0M421.3,337.4h0M400.2,334.7h0M396.1,335.7h0M398.2,327.7h0M424.7,344.4h0M400.5,338.9h0M425,342.9h0M424.4,344.5h0M397.5,337.2h0M421.7,338.1h0M411.2,326.2h0M406.9,326.2h0M400.3,327.4h0M399.3,333h0M423.6,333.7h0M416.4,334.4h0M423.6,346.4h0M400.5,323.7h0M397.2,338.9h0M392.2,327.1h0M412.6,323.8h0M414.8,322.6h0M423.7,345h0M406.5,327.1h0M397.7,325.1h0M412.1,340.7h0M400.6,321.3h0M422.8,337.5h0M404.9,321h0" stroke="#6048c0"/><path d="M422.9,337.5h0M413.2,341.4h0M406.9,343.2h0M408.1,334h0M416.2,339.8h0M408.8,328.9h0M403.9,341.1h0M424.1,332.2h0M402.8,331.5h0M412.6,345.7h0M416.1,332h0M425.9,337.1h0M410,334.8h0M408.6,328.4h0M420.7,331.4h0M410.4,326.2h0M392.5,328.8h0M417.3,326.3h0" stroke="#303090"/><path d="M405.4,340.6h0M396.6,329.6h0M400.5,330h0M405.8,346.5h0M402.8,340.5h0M414.9,328.6h0M396.7,336.4h0M422.4,337.5h0M412,342.2h0" stroke="#481860"/><path d="M413.1,328.5h0M408.9,346.6h0M420.3,346.7h0M406.4,340.4h0M398.7,340h0M411.9,333.9h0M396.4,330.2h0M417.7,328.3h0M413.8,338.3h0M424,334.4h0M412.3,332.6h0M422,335.7h0M418.5,325.9h0M414.6,322.9h0M411.9,336.5h0M418.8,328.3h0M421.7,347.3h0" stroke="#303060"/><path d="M415.7,346.3h0M398.1,327.9h0M410.8,334.8h0M413.7,321.1h0M419.2,337.7h0M425.3,342h0M413.9,322.5h0M414.8,328.1h0M410.4,324h0M401.1,335.9h0M414.8,340.8h0M414.3,339.1h0M420.4,340.6h0M404.2,325.2h0M399.9,328.9h0" stroke="#183060"/><path d="M423.3,340.1h0M416.8,326.1h0M421.3,332.5h0M419.7,330.6h0M402.1,341.1h0M407.5,333.5h0M396.5,331.7h0M411.7,332.9h0M402.3,322.4h0M409,346.2h0M398.7,324.8h0M399.5,339.7h0M400.3,338.2h0M421.3,344.5h0M403.9,326.9h0M418.3,344.4h0M423.2,332.6h0M395.1,331.3h0M414.5,328.3h0M421.6,340.6h0M407.6,342.7h0M406.7,339.8h0M420.9,329.5h0M399.2,330.1h0M424.5,347.5h0M395.9,322.4h0M408.9,340.7h0M394.1,329.1h0M416.3,346.7h0M407.2,332.8h0M404.9,329.2h0M399.9,326.2h0M402.1,322.4h0M412.1,342.2h0M419.9,338.5h0M422.7,343.7h0M416.9,332.5h0M410.2,322.8h0M410.9,327.7h0M397.5,330.4h0M391.4,329.9h0M410,347h0M422.8,346.8h0M409.8,321h0M413.6,342.1h0M412.8,339.3h0M391.9,326.3h0M412.5,333.3h0M409.2,345.8h0M424.4,338.8h0M403.3,339.2h0M413,340h0M403.2,320.6h0M397,337.1h0M412.5,335.7h0M413.1,339.7h0M402.1,321.6h0M401.5,321.9h0M404.8,322.6h0M417.5,331.8h0M420.4,342.7h0M408.5,342h0M407.1,340.4h0M420.9,332.5h0M400.9,335.1h0M420.1,329.5h0M407.6,327.3h0M415.9,332.5h0M417.4,331.1h0M410.1,338.6h0" stroke="#4848a8"/><path d="M398.6,322.8h0M397.3,324.1h0M404.6,335.2h0M421.1,344.3h0M392.6,332.5h0M399.1,328.8h0M412.6,321.5h0M399,337.7h0M416.4,325.6h0M415,335.2h0M418.1,335.6h0M413.5,328.7h0M408.6,345.1h0M400.6,329.4h0M421.2,340h0M403.4,337.7h0M405,346.6h0M417.4,327h0M422.4,347.4h0M408.5,348.1h0M415.6,347.5h0M421.9,340.4h0M396.7,327h0M414.3,341.1h0M398.6,338.7h0M397.5,330.5h0M415.3,339.4h0M409.4,321.4h0M425.6,341.1h0M405.8,322.5h0M410.9,332.4h0M410.1,333.5h0M411.7,334.4h0M404.9,329.5h0M420.1,330.3h0M408.9,345.6h0M398.6,324.4h0M397.8,340.1h0M404.4,346.3h0M410.7,346.6h0M413.9,331.8h0M399.6,323.8h0M393.6,329.3h0M405.5,321.9h0M401.4,333.1h0M397,324.3h0M398.9,326.5h0M400.9,331h0M406.2,340.8h0M403.3,323.2h0M398,326.2h0M396.2,337.1h0M424.8,337.7h0M413.7,323.6h0M412.6,334h0M423.6,345.5h0" stroke="#3030a8"/><path d="M403.1,320.5h0M423.7,339.5h0M408.2,323.8h0M396.9,335.9h0M395.5,336.6h0M415.7,340.9h0M421.2,345h0M408.5,339.5h0M424.3,331.7h0M410.5,345.8h0M424.7,346.3h0M409.3,335.1h0M410.6,342.3h0M414,325.5h0M420.7,341.2h0M394.3,329.2h0M407.9,329.5h0M425.5,343h0M421.7,345.6h0M418.7,326.7h0M403.8,337.7h0M415.1,343.1h0M418,341.6h0M405.2,337.8h0M392.4,328.3h0M412.2,345.2h0M395.4,335.7h0M393.2,330.6h0M398.5,324.7h0M397.5,329.2h0M398.6,340.2h0M422.8,336.7h0M415.1,330.4h0M415.3,345.5h0M399.6,335.1h0M413.5,342h0" stroke="#301860"/><path d="M415.5,340.9h0M413.9,340.4h0M408.3,340h0M391.6,328h0M411.7,346.4h0" stroke="#4860a8"/><path d="M397.5,327.3h0M405.6,343.7h0M417.9,341.9h0M415.4,321.5h0M424.3,347h0M397.9,328.7h0M419.3,328.3h0M420.5,348.8h0M413.2,333.1h0" stroke="#fff0f0"/><path d="M406.6,333.5h0M421.7,333.2h0M421.7,335.7h0M398.8,334.9h0" stroke="#304890"/><path d="M398.3,322.4h0M399.4,326.3h0" stroke="#303030"/><path d="M402.8,321.4h0M413.1,329h0M418.8,336.4h0M414,345.6h0M412.2,326.9h0M421.9,337.5h0M401.1,340.1h0M405.9,341.5h0M411.5,333.2h0M412.6,331.9h0M415.2,344h0M404.8,329.7h0" stroke="#3018a8"/><path d="M414.4,335h0M414.6,340.8h0M405.3,328.5h0M421.7,344.9h0M394.6,331.4h0M422.6,343.2h0M405.5,345.6h0M408.9,322.6h0" stroke="#603090"/><path d="M420.1,338h0M409.7,320.9h0M421.3,340.2h0M401.1,342.5h0M417.7,328.4h0M406.5,345.5h0M410.7,347h0M394.8,328.2h0" stroke="#6060c0"/><path d="M414.6,334.4h0M407.2,333.8h0M411.9,327.1h0M411.9,346.7h0M401.7,324.2h0M400.1,335.9h0M414.9,343.4h0M417,342h0M414.8,321.9h0M397.5,339.1h0M393.6,323.9h0M394.4,325.3h0M415,345.7h0M397.7,335.9h0M398.3,326.6h0M403,336.4h0M411.3,321.2h0M405.8,346.2h0M409.5,336.6h0M415.8,344.1h0M400,342.2h0" stroke="#3030c0"/><path d="M414.7,340.8h0M409.1,325h0M391.2,327.6h0M409.6,347.2h0" stroke="#fffff0"/><path d="M414.8,344.3h0M406,326.9h0M418.9,330.5h0" stroke="#6060d8"/><path d="M417.6,339.3h0M410.9,323.2h0M410.4,336.2h0M398.5,321.5h0M402,321.9h0M419.7,327.8h0M426.3,337.1h0" stroke="#483078"/><path d="M420.5,332.8h0M392.6,324.4h0M406.4,346.7h0M422.7,335.6h0M405.4,338.2h0M393.5,329.5h0M411.4,336.8h0M398.1,326.4h0M415.6,321.8h0" stroke="#300078"/><path d="M413.8,324.9h0M400.4,328h0M414.9,345h0" stroke="#6018c0"/><path d="M395.9,330.2h0M411.2,336.9h0M405.4,339.5h0M421.6,330.3h0" stroke="#001818"/><path d="M412.3,324.2h0M410.9,340.2h0M413,331.6h0M410.7,345.1h0M419.9,340.5h0M399,323.6h0" stroke="#4830d8"/><path d="M391.9,325.8h0" stroke="#003030"/><path d="M415.9,340.2h0M407,342.9h0" stroke="#183030"/><path d="M409.3,320.6h0M399,339h0" stroke="#3018c0"/><path d="M422.7,330.6h0M403.2,339.3h0M417,324.8h0M406.5,342.1h0" stroke="#301818"/><path d="M406.6,341.5h0M421.5,331.3h0M419.7,331.5h0" stroke="#181848"/><path d="M400.6,326.4h0M415.1,321.3h0M403.4,342.2h0M410.6,334.9h0M414.3,330h0M396.4,330.2h0M399.2,332.8h0M424.4,332.9h0M405,342.1h0M403.5,324.6h0M407.7,333h0" stroke="#6018a8"/><path d="M400,329.8h0M411.5,329.2h0M423.1,346.5h0M417.1,344.6h0M416.5,343.6h0M403.6,328.7h0M405.4,322.6h0" stroke="#481878"/><path d="M409.3,322h0M411.1,324h0" stroke="#300018"/><path d="M414.6,329.7h0M418.6,330.7h0M403.7,337.6h0M404.9,329.1h0M408.2,328.8h0" stroke="#6030d8"/><path d="M414.7,332.9h0M399.4,331.7h0M419.8,347.4h0M400.7,332.4h0M412.2,345.9h0M397.2,324.5h0M408,324.1h0M398.6,326.7h0" stroke="#484890"/><path d="M397.1,330h0M405.9,342.3h0M400.3,327.5h0M415.2,336.1h0M421.6,337.2h0" stroke="#f0f0ff"/><path d="M422.1,347.6h0M396.5,332h0" stroke="#304878"/><path d="M415.1,347.3h0M399.5,325.9h0M419.3,337h0M418,349.2h0M415.8,345.5h0M423.3,339.8h0M423.5,336.9h0" stroke="#481890"/><path d="M425.2,337.8h0M397.2,328.5h0M414.6,340.2h0M399.3,328.8h0M412.9,329.5h0" stroke="#6048d8"/><path d="M404.5,333.9h0M409.6,334.4h0" stroke="#3060c0"/><path d="M407.3,345.1h0M408.2,346.5h0" stroke="#d8f0f0"/><path d="M392.7,328.2h0M399.2,323.6h0" stroke="#7860c0"/><path d="M422.4,339.1h0M422.3,337.2h0M405.3,336h0M414.6,346.4h0M417.3,327.9h0M413.9,332.1h0M420.7,349.4h0M412.3,340.4h0M398.5,333.9h0M398,322.3h0M422.4,344.7h0" stroke="#f0f0f0"/><path d="M402.7,324.6h0M425.5,342.2h0M420.9,340.8h0M418.3,349.8h0M414.4,322.2h0M405.1,331h0" stroke="#4848d8"/><path d="M393,324.8h0M420,328.2h0M395.1,322.8h0M420.2,340h0M425.9,342.5h0" stroke="#183018"/><path d="M405.9,328.8h0" stroke="#7860a8"/><path d="M397.2,326.5h0M419.7,349.5h0M402.3,329.7h0" stroke="#301848"/><path d="M405.3,334.5h0M409.9,346.8h0M408.4,333.6h0M423,347h0M400.8,331.6h0M419.3,325.6h0M415.8,322h0M408.1,347.4h0M396.6,324.5h0M406.5,330.3h0" stroke="#7848c0"/><path d="M409.7,347.4h0" stroke="#180078"/><path d="M395.7,336.3h0M394.1,334.4h0M403.5,328.7h0M419.5,350.3h0M416.9,345h0M414.5,332.1h0M411.6,346.2h0" stroke="#4818c0"/><path d="M418.2,339.2h0M413,322.7h0M392.7,330.9h0M411.4,344h0M410.5,336.3h0M415.3,345.7h0M422,328.4h0M406.7,334.5h0" stroke="#181818"/><path d="M415.2,348.8h0M414.3,344.2h0" stroke="#181800"/><path d="M411.1,333.2h0M411.5,326.8h0" stroke="#f0d8f0"/><path d="M415.1,346.4h0M415.1,321.7h0M398.9,336.5h0M391.4,327.8h0M421.6,337.5h0M418.4,331.5h0M414,323.6h0M417.8,340.7h0M403.3,333.2h0M421.4,331.1h0M412.6,328.5h0M405.6,332.3h0M412.5,339.7h0M407.3,334.5h0M418.7,332.6h0M397.9,329.3h0M405.8,336.1h0M404.7,322.5h0M423.8,336.5h0M407.8,347.1h0M415.8,340.3h0M407.5,321.2h0M406.9,324.1h0M420.8,329.1h0M397.4,330.5h0M405.5,320.6h0M409.7,345.4h0M411.7,345.8h0M411,327.6h0M408,328.6h0" stroke="#6030c0"/><path d="M397.5,327.7h0" stroke="#3000c0"/><path d="M396.3,329.6h0M411.9,324.2h0M401.9,331.8h0M405.2,339.1h0M418.1,326.3h0" stroke="#7830a8"/><path d="M424.1,343.7h0M401.3,324.3h0M411.7,342.2h0M400.4,340.3h0M404.8,325.9h0M419.8,349.4h0M398.9,341.7h0M398.5,322.7h0" stroke="#f0fff0"/><path d="M407.2,347.2h0" stroke="#481818"/><path d="M425.8,342.5h0M407,339.8h0" stroke="#303000"/><path d="M421,330h0M401.7,330.3h0" stroke="#1830c0"/><path d="M407,346.4h0" stroke="#d8f0d8"/><path d="M402.3,333.8h0M404.8,322.1h0M418.6,348.3h0M423.1,346.8h0M402.7,334.5h0M403.3,340.2h0M412.3,322.6h0" stroke="#180060"/><path d="M404.3,328.6h0" stroke="#d8d8f0"/><path d="M400.6,335.4h0" stroke="#7848a8"/><path d="M408.5,321.3h0M420,328.5h0M425.9,343.2h0M415.5,333.9h0" stroke="#183090"/><path d="M391.2,329.8h0M413.7,344.6h0M416,336.9h0" stroke="#181830"/><path d="M411.2,329.2h0" stroke="#1848a8"/><path d="M399.2,328.9h0" stroke="#303048"/><path d="M398.2,325.7h0M391.3,329.4h0" stroke="#483060"/><path d="M400.8,322.6h0M405.9,329.3h0" stroke="#601890"/><path d="M405.3,341.6h0M405.9,335.8h0" stroke="#f0f0d8"/><path d="M399.6,330h0" stroke="#fff0d8"/><path d="M419.4,329.4h0M393.2,331.1h0" stroke="#180030"/><path d="M399.5,323h0M398.1,323.9h0M421.8,337.2h0" stroke="#001800"/><path d="M408.4,341.3h0" stroke="#3030d8"/><path d="M405.9,337.4h0" stroke="#7860d8"/><path d="M421.6,334.8h0" stroke="#301800"/><path d="M423.9,336.6h0M407.1,322.9h0" stroke="#fff0ff"/><path d="M410.7,338.2h0" stroke="#003018"/><path d="M393.7,327.2h0" stroke="#000090"/><path d="M414.1,343.3h0M398.6,336.9h0M415.7,333.4h0M392.1,331.7h0" stroke="#301830"/><path d="M415.8,331.1h0M408.8,322.2h0" stroke="#480078"/><path d="M412.9,341.7h0" stroke="#180018"/><path d="M395.5,332.6h0" stroke="#001830"/><path d="M403.2,330.8h0M393.3,323.5h0M399.8,334.9h0" stroke="#ffffff"/><path d="M395.6,323.2h0" stroke="#180000"/><path d="M400.2,337.3h0" stroke="#603078"/><path d="M423.3,335.9h0" stroke="#001878"/><path d="M398.5,326.4h0" stroke="#181890"/><path d="M392.8,328.4h0M406.5,325.8h0M419.6,350.2h0" stroke="#ffd8f0"/><path d="M397.3,339.6h0" stroke="#f0ffd8"/><path d="M405.3,335.7h0M411.7,343.3h0M418.6,324.3h0" stroke="#604890"/><path d="M419.1,348.9h0" stroke="#003078"/><path d="M409.4,333.5h0" stroke="#fff0d8"/><path d="M393.1,331.5h0" stroke="#601860"/><path d="M413.1,327.4h0" stroke="#4860d8"/><path d="M415.1,331.2h0" stroke="#480060"/><path d="M392.6,330.8h0" stroke="#000018"/><path d="M420.7,340.1h0" stroke="#4860c0"/><path d="M414.9,323.2h0" stroke="#f0f0ff"/><path d="M417.4,332.7h0" stroke="#f0ffc0"/><path d="M406.9,332.3h0" stroke="#480090"/><path d="M419.4,326.3h0" stroke="#303018"/><path d="M393.7,332.6h0" stroke="#3048d8"/><path d="M399.5,322.4h0" stroke="#d8f0ff"/>
<path d="M387.8,330.2h0" stroke="#783030"/><path d="M387.9,331h0M389.5,331h0M388.4,329.4h0" stroke="#781848"/><path d="M387.9,329.2h0" stroke="#181830"/><path d="M389.3,332.8h0" stroke="#901830"/><path d="M388.6,328.3h0M388.4,328.3h0M389.2,329.2h0M389.7,331.9h0" stroke="#181818"/><path d="M389.4,328.9h0" stroke="#001818"/><path d="M388.9,329.9h0" stroke="#183018"/><path d="M388.3,331h0" stroke="#603048"/><path d="M389.2,331.3h0" stroke="#781860"/>
<path d="M391.6,342.3h0" stroke="#a83048"/><path d="M391.1,343.3h0M390.3,342.4h0M390.1,342.5h0" stroke="#c04848"/><path d="M390.2,342.2h0M390.2,342.2h0M392.1,342.8h0" stroke="#d83048"/><path d="M392,342.1h0" stroke="#a83018"/><path d="M391.5,342.7h0" stroke="#d84830"/><path d="M390.3,341.9h0" stroke="#c03048"/>
<path d="M375.8,331.9h0M376.3,343.7h0M377.8,335.3h0M371.3,332.1h0M383.1,340.6h0M374.8,353h0M378.5,352.5h0M380.2,339.2h0M378.2,336.9h0M382.2,337.8h0M374.8,335.9h0M367.1,343.5h0M378.2,331.8h0M366,344.3h0M376.3,351h0M378.4,339.2h0M372.6,338.8h0M378.9,330.4h0M378.7,342.4h0M374.9,340.4h0M366.4,349.4h0M380.7,338.2h0M364.9,345.5h0M372.4,338.2h0M371.6,336.4h0M370.5,331.1h0M379.4,340.7h0M382.3,336.5h0" stroke="#4830c0"/><path d="M375.3,348.3h0M381.6,340.3h0M377.9,347.8h0M374.8,349.6h0M377.5,329.6h0M378.7,334.7h0M375.3,341.7h0M364.9,343.1h0" stroke="#603090"/><path d="M373.7,352.3h0M372.1,341.2h0M371.3,330.7h0M376.6,341.1h0M368.4,333.5h0M377.3,345.8h0M373.9,336h0" stroke="#7848a8"/><path d="M383.5,345.7h0M370.5,333.2h0M379.3,355.1h0M383.2,346.9h0M374.1,330.1h0M383.6,351.9h0M370.6,331.3h0" stroke="#181878"/><path d="M365.4,344.1h0M366.9,349.8h0M372,350.9h0M369.8,347.2h0M381.4,347.7h0M374.5,355.9h0M365.6,345.6h0M366.9,345.9h0M375.4,355.4h0M364.8,343.7h0M370,351.6h0M380.8,350.4h0M365.1,343.9h0M367.3,349.2h0M375.2,352.5h0M373.9,352h0" stroke="#d83048"/><path d="M377.9,339.1h0M372.6,333.6h0M378.9,335.9h0M365.6,337h0M375.6,342.6h0M382.3,337h0M378.8,330.5h0M376,339.5h0M379,339.2h0M379.5,337.7h0M379.1,334.7h0M380.3,332.2h0M374.2,334.4h0M369.2,338h0M378.7,337.2h0M374.1,338.3h0M374.8,334.2h0M372.1,332.5h0M379,336.8h0M377.3,349.7h0M380.5,333h0M370.5,331.1h0M365.7,345.1h0M364.7,344.4h0M365.3,340.6h0M376.6,331.4h0M375.2,329.4h0M369.6,342.7h0M379.7,339.6h0M376.5,339.8h0M375.1,350.1h0M381,341.4h0M377.4,340.9h0M384.2,342.7h0M379.9,334.3h0M379.8,334h0M379.7,341.5h0M374.5,331.7h0M381.6,333h0M376.4,336.5h0M372.1,333.4h0M375.8,350.7h0M370.3,332.8h0" stroke="#4830a8"/><path d="M375.5,355.1h0M364.9,342h0M380.2,346.4h0M372.1,352.3h0M365,340h0M375.3,352.3h0M386.2,354h0M373.6,350.6h0M376.1,355.4h0M376,353.6h0M369.9,349.2h0M365.5,336.2h0M369.3,351.1h0M365.1,340.5h0M369.6,348.1h0M374.8,350.9h0M366.5,336.5h0M370.1,349.1h0M375.6,353.4h0M372.9,349.2h0M385,350.5h0M382.6,355.6h0M369.4,350h0M365.6,341.7h0" stroke="#c03048"/><path d="M371.9,334.2h0" stroke="#9018a8"/><path d="M373.3,340.7h0" stroke="#3048d8"/><path d="M379.3,352.2h0M380.3,345.8h0M379.2,355.2h0M384.2,353.8h0M383.4,348.3h0" stroke="#183018"/><path d="M365.2,346.2h0M365.9,344.6h0M377.8,349.4h0" stroke="#c00048"/><path d="M381.2,351.3h0M373.2,351h0M377.6,348.3h0M374.2,355.6h0" stroke="#c04848"/><path d="M364.2,344.2h0M366.7,344.1h0M378.2,355.8h0M374.7,355.3h0M375.3,346.7h0M378.9,356.3h0" stroke="#d81848"/><path d="M366.1,346.7h0M368.6,351.3h0" stroke="#d84848"/><path d="M385,349.2h0M378.6,341.1h0M376.3,330.6h0M383.1,354h0M384.1,348h0M371.6,337.2h0M379.1,332.5h0M382.3,339.7h0M382.7,336.5h0M382,353.2h0M379.6,344.2h0" stroke="#301860"/><path d="M381.8,348.3h0M381.7,353.5h0M385.7,346.5h0" stroke="#180018"/><path d="M367.3,335.1h0M380.4,338.1h0M377.3,340.8h0M380.7,342h0M371.2,336.5h0M378.4,339.4h0M381.5,332.6h0M372.9,336.9h0M378.5,353.7h0M380.2,340.4h0M382.5,338.8h0M378.5,330.1h0M378.3,329.6h0M378.4,351h0M374,332.3h0" stroke="#4818a8"/><path d="M372.4,329.7h0M371.3,347.9h0M365.5,345.3h0M369.6,346.9h0M375.8,342.7h0M376.3,339.5h0M383,341.1h0M374.5,340.3h0M378,345.9h0" stroke="#483090"/><path d="M373.2,349.7h0M379.3,337.9h0M377.7,356.6h0M379.2,342.2h0M366.6,339.9h0M372.5,337.3h0M372.8,339.4h0M368.5,350.6h0M380.4,340.5h0M370.5,338.5h0M376.5,346.5h0M368.5,333.2h0M367,346.8h0M370.7,339.4h0M377.3,342.5h0M381.9,340h0M368.2,338.5h0M365.6,340.5h0M377.6,350.3h0M370.5,340.8h0" stroke="#783090"/><path d="M384.1,353.2h0M381.7,354.1h0M382.3,347.6h0" stroke="#300018"/><path d="M383.4,338.5h0" stroke="#ffffd8"/><path d="M370,332.4h0M375.6,329.6h0M373.1,338h0M375.8,341.4h0M373,355.2h0M369.1,340.4h0M367.4,349.3h0M380.2,341.5h0M371.5,339.2h0M378.5,353.7h0M373.4,335.8h0M382.7,339h0M368.3,348.5h0M379.5,334.7h0M382.2,335.1h0" stroke="#3030a8"/><path d="M374.9,347.5h0M374.5,351.9h0M373,348.8h0M377.2,339.8h0" stroke="#904890"/><path d="M370.2,332.3h0M377.4,329.9h0M370.8,330.7h0M378.5,348.9h0M367.8,333.6h0M377.6,348.3h0M370.1,330.9h0M378,339.9h0M373.4,335.5h0M379.4,339.1h0M372,331.9h0M377.3,338.1h0M371.6,332.8h0M373.1,332.7h0M378.3,331.4h0M367.3,337.3h0M376.9,337.3h0M383,341.8h0M383.3,341h0M368.1,340.5h0M382.5,335.7h0M373.4,341.2h0M382.8,338.8h0M365,341.1h0M374.7,339.3h0M379.2,338.9h0M375.2,340.2h0M377.4,354.9h0" stroke="#4848a8"/><path d="M366.7,335.5h0M380.9,331.9h0" stroke="#fff0ff"/><path d="M366.3,340.8h0M365.4,338.9h0M375.3,351.4h0M369,351.8h0M367.9,352.2h0M368.6,348.7h0M366.6,346.3h0M370.7,348.6h0M370.1,350.9h0M378.4,355h0M374,353.2h0M368.1,350.2h0M367.9,349.4h0M373.4,349.1h0M374.6,349.7h0" stroke="#d83060"/><path d="M377.2,329.4h0M382.9,340.9h0M373.4,337.2h0M372.9,334.8h0M377.7,339.7h0M381,340.7h0M375.4,332.1h0" stroke="#303060"/><path d="M378.4,341h0M373.4,334h0M380.7,352.8h0" stroke="#481860"/><path d="M378.7,355.4h0M367.2,342h0M372.3,340.6h0M375.9,343.2h0M376.1,355.1h0M375.4,350.2h0M375.5,344.9h0M368.9,350h0M378.4,355.2h0M370.3,352.1h0M371.3,337.4h0M375.7,347.3h0M376.1,351.1h0M374.1,354.9h0M372.6,350.9h0M373.4,348.6h0" stroke="#c01848"/><path d="M385.5,353.4h0" stroke="#000018"/><path d="M365.5,343.9h0M365.3,347.2h0M381.2,348.1h0M378.9,354h0M365.7,343.6h0M383,352h0M376.9,354.6h0M376,356.2h0M377,352.6h0" stroke="#a83048"/><path d="M379.8,355.9h0M382.9,352h0M381.3,344.4h0M385.1,350.5h0M386.1,349.2h0M384.1,352.6h0M384.2,347.3h0M384.5,352.2h0M379,352.8h0M386.4,350.5h0M383,347.8h0M382,344.1h0M384.7,352.9h0M381.7,344.9h0M384.4,352.7h0" stroke="#181818"/><path d="M369.7,348.7h0M369.7,349h0M366.3,336.1h0M376.3,342.7h0M374,352.4h0M379.6,332.8h0M373.5,330.8h0M372.4,338.4h0M370.5,331.2h0M378.5,354.9h0M378.2,338.4h0M379.6,334.7h0M371.6,333.4h0M378.5,349h0" stroke="#6030a8"/><path d="M374.1,331h0M380.3,332.2h0M383,339.3h0M374.9,342.2h0M371.3,335.9h0M382,338.7h0" stroke="#303090"/><path d="M383.3,342.9h0M376.8,331h0M383,338.6h0M370.3,330.9h0M369.6,333.5h0M382.7,338.5h0M369.5,331.8h0" stroke="#303078"/><path d="M374.7,332.3h0M371,334.7h0M370.8,332h0M371.5,332.4h0M382.6,347.9h0M374.1,330.3h0M382.4,334.3h0" stroke="#301878"/><path d="M368.2,338.3h0M367.3,337.2h0M376.5,346.1h0M371.2,340h0M375.7,350.5h0" stroke="#fff0f0"/><path d="M369.1,352.7h0M368,350.5h0M367.9,348.2h0M378.9,351.5h0M368.6,350h0M367.3,344.5h0M368.6,343.8h0M366.3,344.4h0M367,342.2h0M367,346.7h0M368.6,343.6h0" stroke="#d81860"/><path d="M378.4,349.7h0M373.2,332.1h0M375.5,344.5h0M367.1,340.1h0M369.8,332.5h0M373.8,336.7h0M369.4,342.6h0" stroke="#f0f0f0"/><path d="M374.8,331.2h0M378.2,354.2h0M376.2,328.9h0" stroke="#601890"/><path d="M366.8,342.9h0M379.8,334h0M373.6,331h0M379.2,338.9h0M382.3,339h0M379.5,342.6h0M374.9,334h0M367.8,334.2h0M383.8,339.8h0M377.7,331h0M371.8,332h0" stroke="#6048a8"/><path d="M375.7,334.4h0M378.5,342.3h0" stroke="#3018c0"/><path d="M384.7,345.4h0M379,352.7h0M385.6,353.9h0M385.2,351.7h0" stroke="#301818"/><path d="M382.3,354.1h0M383.1,343.8h0M384.8,348.1h0M380.2,349.3h0M379.1,354.1h0" stroke="#181800"/><path d="M384.3,347.9h0" stroke="#180030"/><path d="M377.2,330.7h0M374.4,349.5h0M369.3,349.9h0M377.6,333.1h0M375.5,351.6h0M368,348.7h0" stroke="#903090"/><path d="M372.4,332.3h0M367,336.7h0M378.7,349.2h0M371.3,340.4h0M369.4,342.7h0M375.8,351.3h0M369,345.7h0M374.3,351.7h0M377.2,352.4h0M371,331.5h0M373,341.8h0M377.5,355.2h0M374.5,348.4h0" stroke="#784890"/><path d="M384,355.4h0M384.1,355.6h0M383.1,356.2h0M382,349.8h0" stroke="#303018"/><path d="M384.8,346.6h0M371.7,336.1h0M381.5,349h0M384.8,350.5h0M377.9,342.7h0M379.3,338.8h0" stroke="#183078"/><path d="M381.4,346.9h0M386.5,350.5h0M379.8,355.6h0M380.9,349.9h0M386.4,351.7h0M383.2,353.4h0M384.8,347.9h0" stroke="#181830"/><path d="M369.8,348.3h0M365.5,342.2h0M373.5,350.6h0M365.2,341.9h0M367.9,351.3h0M377,350.4h0M364.8,339.4h0M376.7,344h0M372.7,351.8h0M365.7,340.8h0M365.9,345.9h0M368.3,342.4h0" stroke="#c01860"/><path d="M365.8,343h0M374.9,353.6h0M365.3,345.2h0M370.8,351.5h0M368.2,348.3h0M370.6,347.7h0M376.5,356.6h0" stroke="#d84860"/><path d="M379.4,331.1h0M379.5,337.8h0M368,340.1h0" stroke="#604878"/><path d="M382.1,334h0M372.6,338.6h0M371.2,331.9h0M378.5,341.5h0M370.8,340.9h0M370.9,330.6h0" stroke="#f0f0ff"/><path d="M373,338.4h0M368.6,333.8h0M368.5,332.6h0M380.9,333.5h0M375.1,331.7h0M378.1,340.8h0M377.3,335.8h0M377.2,329.3h0M373.3,329.7h0" stroke="#3048a8"/><path d="M380.5,345.6h0M384.4,353.9h0M376.9,334.4h0M370.9,333.7h0M383.8,339.7h0M381.8,347.6h0" stroke="#183060"/><path d="M366.5,349h0M375.1,355.4h0M368.7,350.8h0M368.1,342h0M367.4,343.6h0M367.8,351.7h0M373.2,349h0M366.8,349.7h0M366.9,348.7h0M364.8,341h0M373,351.4h0M375.2,351.4h0M364.2,341.9h0" stroke="#c03060"/><path d="M371.4,332.2h0M377.9,339.8h0" stroke="#6030d8"/><path d="M381.5,353.9h0M373.2,339.8h0M385.7,353.6h0M384.7,354.7h0M364.4,341.7h0" stroke="#a83030"/><path d="M385.4,350h0M380.2,356.8h0M380.9,343.1h0" stroke="#001830"/><path d="M372.1,331.7h0" stroke="#6000c0"/><path d="M365.5,339.2h0M365.3,343.7h0M373,349.1h0M375.4,354.7h0M374.5,349.1h0" stroke="#d83030"/><path d="M375.6,343.5h0" stroke="#786090"/><path d="M377.7,349h0M379.1,350.7h0M364,340.8h0M365.7,342.3h0M373.9,346.4h0M385.7,350h0M373.3,351.9h0M367.6,348.4h0M380.2,354.6h0M382,353.8h0M378.3,354.9h0M366.1,344.6h0" stroke="#c03030"/><path d="M374.5,329.3h0M380.4,357.1h0M377.6,341.8h0M377.7,341.5h0M374.7,334.1h0M372.3,334h0M382.9,348.2h0M371,332.1h0" stroke="#181860"/><path d="M378.1,349.2h0M376.2,339.8h0M373.9,349.7h0M377,356.6h0M374.9,331h0M379,330.8h0M375.4,342h0M374.3,349h0M366,345.5h0" stroke="#7830a8"/><path d="M383.5,337.2h0M365.9,339h0M372.7,340.2h0M382.8,342.1h0M378.6,338h0M373.5,336.9h0M379,335.4h0M367.1,336.5h0M378.4,329.5h0" stroke="#4848c0"/><path d="M373,333.7h0" stroke="#483060"/><path d="M378.5,330.7h0M382.3,336.4h0M373.4,336.4h0M378.6,336.1h0" stroke="#6018a8"/><path d="M377.7,334h0M376.8,352.2h0M379.7,337.1h0M379.5,333.9h0M377.6,345.9h0M370.6,331.8h0M373.9,350.9h0M374.5,333.9h0M369.6,333.9h0" stroke="#3030c0"/><path d="M383.5,344.3h0M380.4,344.4h0M381.7,348.8h0M380,353.9h0" stroke="#003018"/><path d="M371.8,337.5h0" stroke="#3060a8"/><path d="M381.2,344.2h0" stroke="#483048"/><path d="M374.6,333.8h0M382.7,349.1h0" stroke="#301890"/><path d="M375.1,355.5h0M375.6,336.6h0M378.8,330.6h0M375.7,330.4h0M374.6,339.5h0M377.4,347.6h0M379.1,338.7h0M373.2,332.9h0M371.5,342.5h0" stroke="#6030c0"/><path d="M370.6,334h0M372.3,331.6h0" stroke="#481890"/><path d="M367.8,333.9h0" stroke="#a83078"/><path d="M365.3,342.8h0M364.5,338.5h0M369.8,349.3h0" stroke="#d83078"/><path d="M383.8,352.1h0M380,349.9h0" stroke="#003030"/><path d="M371.5,349.1h0M364.5,345.1h0M364.3,339.3h0M373.2,349.2h0" stroke="#c04860"/><path d="M380.1,339.4h0M374.9,332.1h0" stroke="#6018c0"/><path d="M371.8,353.2h0M365.5,340.4h0M369,351.6h0" stroke="#d84878"/><path d="M371.4,340h0M379.5,339.8h0M378.9,338.8h0" stroke="#6048c0"/><path d="M381.4,347.5h0M382.2,350.3h0M380.4,355.8h0" stroke="#300030"/><path d="M365.2,338h0M375.3,339h0M376.1,350.6h0M369.2,342.5h0" stroke="#f0fff0"/><path d="M382.8,352.6h0" stroke="#c06048"/><path d="M376.1,330.6h0M380.1,339.2h0" stroke="#3018a8"/><path d="M368.1,337.1h0M374.2,330.7h0M367.3,341.7h0" stroke="#784878"/><path d="M368.2,351.6h0M366.1,335.4h0" stroke="#901890"/><path d="M372,330.7h0M379.3,340h0" stroke="#f0d8f0"/><path d="M384.1,348.3h0" stroke="#000018"/><path d="M383.8,355.1h0M379.2,356.8h0M386.2,349.6h0M379.6,355.1h0M382.9,355.4h0" stroke="#301830"/><path d="M370.2,332.2h0" stroke="#fffff0"/><path d="M368,346.6h0M374.4,349.1h0M365.5,336.2h0M371.7,339.2h0M366.8,345.7h0M377.3,336.4h0M374.5,340.1h0" stroke="#604890"/><path d="M366.6,338.3h0M378.9,352.1h0" stroke="#ffffff"/><path d="M372.3,337.3h0M373.9,336.7h0" stroke="#f0ffff"/><path d="M381.2,339.4h0M377.3,343.9h0" stroke="#4860a8"/><path d="M368.5,351.1h0M372.9,350.3h0M368.1,352.4h0M366.3,339.9h0" stroke="#c03078"/><path d="M380.1,347.7h0" stroke="#301800"/><path d="M376.7,338.3h0M378.6,350h0M366.1,340.3h0M365.2,343.1h0" stroke="#781890"/><path d="M379,336h0" stroke="#903078"/><path d="M372.7,332.6h0" stroke="#6060a8"/><path d="M380.9,339.5h0M380.4,345.2h0M383.7,355.9h0" stroke="#180060"/><path d="M373.3,341.5h0M370.2,352.9h0" stroke="#c01878"/><path d="M385.5,352.2h0M380.2,343.6h0M379.2,345.5h0" stroke="#001818"/><path d="M377.4,356.2h0" stroke="#c01830"/><path d="M370,347.1h0M379.3,354.1h0M368.7,343.5h0M364.7,338.1h0M367.6,349.8h0" stroke="#d81830"/><path d="M376.4,350.7h0M365.3,338.3h0M377.3,332.5h0M378.3,337.4h0" stroke="#4818c0"/><path d="M372,337.5h0M373.8,332h0M372.1,332.4h0" stroke="#300078"/><path d="M366.7,347.3h0" stroke="#a81848"/><path d="M368.2,332.7h0" stroke="#481878"/><path d="M375.2,354.7h0M374.8,346.7h0" stroke="#7818a8"/><path d="M385.9,350.8h0" stroke="#d84830"/><path d="M370.4,349.1h0" stroke="#a81878"/><path d="M367.7,346.3h0" stroke="#9060a8"/><path d="M377.5,335.7h0" stroke="#483078"/><path d="M366.5,344.6h0M378.9,351.6h0" stroke="#7830c0"/><path d="M379,356.6h0" stroke="#a84860"/><path d="M374.7,340.5h0M374.9,333h0M382.7,335.1h0M375.8,333.7h0" stroke="#3048c0"/><path d="M366.3,338h0M373.3,332.9h0" stroke="#484890"/><path d="M385.9,354.7h0" stroke="#301848"/><path d="M385.6,346.6h0" stroke="#300060"/><path d="M382.3,348.4h0M385,348.7h0" stroke="#183030"/><path d="M369.6,331.5h0" stroke="#304890"/><path d="M383.2,340h0M376,329.8h0" stroke="#f0d8ff"/><path d="M373.9,341h0" stroke="#9048a8"/><path d="M382.9,354.1h0" stroke="#183000"/><path d="M369.7,349.5h0" stroke="#c04890"/><path d="M383.2,354.9h0M385.9,351.6h0" stroke="#001800"/><path d="M379.6,356.7h0" stroke="#303000"/><path d="M369,347.9h0" stroke="#c04878"/><path d="M380.1,336.6h0" stroke="#4848d8"/><path d="M371,330.3h0" stroke="#001878"/><path d="M382.6,353.8h0" stroke="#481800"/><path d="M377.9,356.8h0" stroke="#f03078"/><path d="M380.5,331.7h0" stroke="#480078"/><path d="M365.9,344.4h0" stroke="#1830a8"/><path d="M379,339.6h0" stroke="#181890"/>
<path d="M394.4,360.8h0M400.6,353.1h0M401.4,365.7h0M391.5,354h0M396.7,375.7h0M397.3,358.4h0M388.8,368.1h0M395.9,358.7h0M391.5,365.2h0M394.7,372.7h0M404.2,358.6h0M397.5,369.9h0M391.3,360.1h0M400.8,353h0M403.1,356.6h0M391.4,368.3h0M398.7,359.2h0M391.7,370.5h0M400,371.4h0M395,358.3h0M388.1,366.3h0M399.6,356.7h0M390.1,360.6h0M401.6,365.9h0M387.9,359.9h0M395.4,365.6h0M413.8,370.5h0M405.1,361.8h0M404.9,361.5h0M413.3,371.5h0M392.5,367h0M389.9,366h0M392.6,359.1h0M395.6,360.1h0M398,360.4h0M399.5,364.3h0M390.6,355.4h0M389.1,369.5h0M390.3,370.7h0M389.6,356.1h0M393.8,355.1h0M401,371h0M393.8,358.8h0M390.9,365.3h0M411.6,367.6h0M397.2,360.1h0M393.5,353.5h0M396,374.8h0M393.9,370.1h0M394.5,362.2h0M396.9,375h0M391.3,355.8h0M394.2,353.5h0M391.8,355.2h0M387.3,359.2h0M394,359.6h0M387.7,360.8h0M390,359.6h0M392.7,366.6h0M390.9,365.3h0M414.3,373.2h0M403.3,358.1h0M390.3,356.2h0M408.4,371.8h0M387.6,358.7h0M398.9,361h0M406.5,361.2h0M403.4,370.7h0M391.3,363.9h0M395.4,360.2h0M409.6,364.9h0M397,356.4h0M401.7,360.4h0M403.2,359.9h0M406.7,377.4h0" stroke="#181818"/><path d="M396.1,356.6h0M412.4,367.4h0M398.9,373.3h0M394.3,373.9h0M406.3,364.2h0M388.7,367.6h0M395.3,373.1h0M395.1,352.7h0M396.3,352.4h0M393.8,362.3h0M397.4,359.7h0M406.4,372.5h0M395.7,352.5h0" stroke="#180018"/><path d="M392.6,373.4h0M389.2,368.2h0M403,361.4h0M392,355.8h0M399.5,358.7h0M405,368.4h0M393.5,374.9h0M398.3,369.3h0M398.9,362.9h0M400.3,361.5h0M402.2,366.5h0M391.5,366.6h0M398.9,358h0M393,373.3h0M397.5,366.4h0M402,364.3h0M392.7,375.3h0M393.4,374.4h0M398.3,360.6h0M395.4,365h0M398.2,360.6h0M405.9,365.1h0M395,372.9h0M401.8,368.4h0M403.1,364.2h0M404.7,370.7h0M395.6,373.7h0M409.8,366.1h0" stroke="#783030"/><path d="M404.9,382.1h0M402.2,360.2h0M398.8,379.4h0M406.1,381.9h0M408.5,380.6h0M406.2,371h0M407.1,371.7h0M403,365.6h0M411.7,368.2h0M413.1,373.1h0M403.4,377.4h0M406.3,380h0M408.4,364.8h0M410.7,376.3h0M402.4,373.5h0M405.5,373.8h0M413.2,369h0M414,372.2h0M414.9,372.1h0M404.6,380.8h0M402.9,369.6h0M403.2,375.1h0M395.7,378h0M396.2,378.7h0M414.1,373.3h0M400.5,372.1h0M398.6,361.3h0M412.5,370.6h0M413.2,371.1h0M411.4,373.7h0M408.5,372.2h0M399.5,369h0M405.4,380.3h0M409,364.5h0M410.7,366.9h0M396.1,378.5h0M403,375.5h0M414.1,372.6h0M402.5,376.8h0M410,365.6h0M393.9,372.9h0M412.5,377.4h0M411.9,375.5h0M401.9,376.4h0M407.8,369.4h0M412.7,367.3h0M402.1,380.6h0M402.1,364h0M402.6,374.1h0M403.2,377.4h0M412.1,374h0M404.5,368.8h0M398.5,377h0M400.9,374.9h0M402.9,381.3h0M414.2,368h0M403.4,371.4h0M395.6,372.9h0M402.4,378.4h0M409.2,372.3h0M409.5,377.8h0M408,379h0" stroke="#c03030"/><path d="M404.7,376.9h0M405,367.6h0M403.4,367.2h0M402.5,371.6h0M409.7,374.7h0M411.4,372.2h0M397.9,374.8h0M389,369.4h0M408,364.2h0M406,379.5h0M407,376.5h0M411.8,366.7h0M408,380.9h0M406,376h0M405.8,362.8h0M395.8,378.8h0M400.3,359.3h0M410.1,366h0M406.1,365.8h0M406.7,369.8h0M398.4,376.8h0M401.5,381h0M402.1,376.1h0M404,371.7h0M410,374.6h0M398.9,377.4h0M401.6,373.8h0M398.5,378.8h0M411,374.1h0M411.7,367.1h0M412.2,372.7h0M401,380.1h0M409.4,364.8h0M392.1,369h0M400.2,381h0M389.5,368.8h0M402.9,381.5h0M406.4,372.8h0M389.9,369.4h0M407.6,367h0M403,357.1h0" stroke="#c04848"/><path d="M412.7,377.2h0" stroke="#900030"/><path d="M397.1,353.3h0M388.9,362.7h0M397.5,369.2h0M393.8,359.6h0M387.2,360.2h0M395,353.1h0M401.7,365.5h0M405,366.1h0M397.8,353h0M391.2,356.2h0M395.6,375.1h0M410.9,366.6h0M402.7,356.5h0M395.3,353.2h0M402.3,361.9h0M400.2,358h0M400.6,357.1h0M392.9,355.8h0M408,362.8h0" stroke="#181830"/><path d="M404.9,367.1h0M407.8,367.2h0M402.9,374.5h0M406,369.9h0M403.4,378.9h0M404.7,361.9h0M408.8,379h0M405.1,369.6h0M400.8,371.9h0M398.2,360.8h0M413.7,371.9h0" stroke="#903048"/><path d="M401.3,381.3h0M406.7,364.1h0M410.3,368.7h0" stroke="#c03060"/><path d="M392.2,365.9h0M398.3,352.6h0M393.6,359.8h0M396.9,359.1h0M396,372.4h0" stroke="#183078"/><path d="M394.3,354.1h0M394.4,359h0M397.8,367.6h0M403.5,366.4h0M402.5,366h0" stroke="#001800"/><path d="M405.5,382.1h0M395.1,365.1h0M409.8,366.2h0M410.6,365.8h0M411.6,368.4h0M404.7,370.3h0M408.5,378.2h0M413.7,368.1h0M406,379h0M406.8,367.6h0M408.7,365h0M402.9,356.5h0M410.9,376.9h0M409.5,375.4h0M410.4,366.1h0M411.7,376.8h0M403.3,379.9h0M406.7,371h0M397.4,370.2h0M407.5,376.8h0M401.5,367.2h0M399.2,373.3h0M414.5,370.2h0M406.9,379.8h0M401.2,374.6h0M408.6,379.8h0M407.6,369.4h0M404.4,368.6h0M403.8,373h0" stroke="#a83030"/><path d="M403.3,366.5h0M392.6,365.1h0M394.5,372.7h0M393.1,368.8h0M405.8,361.2h0M395.6,373.3h0M413.4,376.1h0M403.2,355.5h0M399.8,370.9h0M393.8,365.7h0M396,369.8h0M393.1,367h0M400.5,365.2h0M402.2,355.9h0M393.6,363.1h0M396.8,367.8h0M387,361.3h0M404.4,362.1h0M399.9,371.2h0M393.7,375.1h0M395.6,371.5h0M392.6,366.3h0M389.4,369.9h0M395.1,367.3h0M396.6,374.7h0M396.4,369.8h0M394.1,364.8h0M403.3,360.7h0M396.8,370.5h0M393.7,374.4h0" stroke="#781830"/><path d="M393.7,353.1h0M401.7,362h0M399.3,356.5h0M393.2,360.1h0M394,369.9h0M402.5,366.2h0M396.2,374.2h0M395.8,371.8h0" stroke="#781848"/><path d="M397.2,379.2h0M414.2,368.9h0M407.2,365.9h0M396.5,360.9h0" stroke="#a81830"/><path d="M398.7,371.4h0M391.2,367.3h0M398.2,368.7h0" stroke="#300018"/><path d="M400.9,358.6h0M412.1,374.3h0M404.3,362.9h0M403.5,376.4h0M409.3,375.1h0M406,372.6h0M406.2,364.4h0M399.7,379.2h0M397,361.8h0M409.6,365.5h0M389.8,368.2h0M403.8,362.9h0M405,366.7h0M396.5,361.8h0M392.6,374.4h0M401.1,380.5h0M392.7,375.4h0M404.4,368.3h0M403.4,357.6h0" stroke="#901830"/><path d="M393,365.1h0M397,374.9h0M394.5,367.2h0M390,371.2h0M393,365h0M394.5,369.2h0M403.3,363.1h0M396.2,371.3h0M393.4,363.7h0M404.4,365.3h0M399.8,366.3h0M405.7,361.7h0M398.6,369.8h0M397.5,362.2h0M396,365.4h0M403.2,360.7h0M404.8,361.1h0" stroke="#781818"/><path d="M395.9,363.3h0M395.3,357.4h0M394.5,373.4h0M400.9,355.9h0M397.1,367.8h0M389.2,366.4h0M402.3,356.3h0M402.1,368.1h0M394.3,358.4h0M399.9,358h0M403.1,377.3h0M396.3,369.3h0" stroke="#301830"/><path d="M395.4,356.3h0M393.6,363h0M388.8,366.8h0M389,366.5h0M400.2,368.1h0M394.1,361h0M394,355.4h0M396.7,367.1h0" stroke="#303078"/><path d="M406.1,370.4h0M403.2,375.6h0M407.6,381.1h0M404.6,366h0M396.6,378.2h0M403.3,373.7h0M406,370h0M408.2,379.5h0M404.1,379.2h0M412.3,373.1h0M407.1,378.8h0M413.6,371.2h0M402.9,367.5h0M406.7,381.4h0M397.4,377.6h0M409.8,374.8h0M410.8,374.9h0M406.1,370.9h0M405.2,377.1h0M406.9,365.1h0M397.5,378.7h0M412.4,368.8h0M395.2,364.7h0" stroke="#a83048"/><path d="M407.4,370.9h0M413.1,372.5h0M405.7,378.5h0M404.8,360.3h0M406.1,370.4h0M411.3,372.6h0M410.6,374.5h0M411.3,377.1h0M406.5,375.2h0M409.9,373.6h0M413.5,368.1h0M410.1,364.4h0M401.4,372.1h0" stroke="#d83048"/><path d="M404,362.9h0M393.4,360.4h0M397.6,368.1h0M393.6,373.5h0M403.2,360.9h0M391.6,354.5h0M390.2,360.1h0M402.2,354h0M405,365.8h0M389.4,360.9h0M396.1,369h0M389.7,369.3h0M401.6,365.5h0" stroke="#783048"/><path d="M403.9,361.6h0M394.5,355.1h0" stroke="#301800"/><path d="M405,382.1h0M405.4,366.5h0M411.3,373.8h0M414.2,374h0M408.2,377.8h0M408.2,370h0M408.2,372.7h0M410.2,366.5h0M410.2,366.5h0M405.3,370.6h0M412.2,370h0M406.2,367.9h0M405.3,366.8h0M408.8,370.7h0M410.7,376.4h0M402.5,380.9h0M414.3,373.1h0M406,370.1h0M414.3,371.2h0M408,372.3h0M397.5,370.1h0M404,374.5h0M414.3,372.7h0M404,356.7h0M401.8,381.1h0M403.1,371.3h0M400.3,357.5h0M410.5,374.9h0M411.5,376.7h0M408.3,371.4h0M410.6,374.6h0M407.3,366.9h0M400.1,365.4h0M402.2,375.1h0M399.2,379h0M396.2,360.7h0M394.9,371h0M412.5,372h0M410,365.8h0M404.2,374.9h0M407.7,380.9h0M407.4,370.4h0M400.2,365.3h0M411.4,375.1h0M405.2,375.1h0M411.9,374.2h0M408.4,380h0M412.2,375.7h0M405.1,379.1h0M401.4,372.5h0M412.3,373.5h0M405.5,368.8h0M398.4,370.5h0M411.7,367.3h0M408.2,372.3h0M403.4,373.1h0" stroke="#c03048"/><path d="M392.3,356.9h0M404.5,362.6h0M388.6,367.9h0M400.8,366.5h0M402.3,354.6h0M404.2,381h0M399.6,369.7h0M398.1,368.8h0M398.4,353.6h0M397.6,361.6h0M396.3,376h0M403.4,360h0M393.7,360.4h0M396.5,353.5h0M387.9,360.2h0M398.3,358.8h0M397.2,360h0M401.3,365.9h0M396.3,358.7h0" stroke="#301818"/><path d="M403.3,375.5h0M403.2,376.6h0M395.1,364.5h0M397.9,366.1h0M409,379.3h0M406.2,377h0M403.1,374.8h0M405.3,380.7h0M404.8,367.3h0" stroke="#a84830"/><path d="M395.3,376.4h0M396.7,358.6h0M394.5,360.1h0M402.7,359.9h0M399.8,362.3h0M397.8,367.1h0M396.2,356.2h0M390,364.8h0" stroke="#183030"/><path d="M393.5,365.5h0M406.6,361.8h0M406.4,360.2h0M402.1,357.9h0M393.2,364.2h0M396.8,360.2h0M396.8,368h0M399.8,359h0M403.9,366h0" stroke="#603030"/><path d="M397.4,358.8h0" stroke="#784848"/><path d="M403.1,371.4h0M413,371.1h0M407.5,378.5h0M397.7,377.8h0M410.1,366.1h0M402.2,375.2h0M409.8,365.2h0M400.6,375.9h0" stroke="#f0f0f0"/><path d="M406.9,376.6h0M401.5,382h0M412.6,372.2h0M396.9,376.2h0M403.2,377.9h0M409.2,366.3h0M397.3,373.4h0M409.7,373.6h0M400.9,378.3h0M411.2,378.3h0M412.6,367.7h0M402.9,362.6h0M403.9,376.9h0M408.2,379.2h0M408.8,370.5h0M406.9,367.1h0M408.4,379.1h0M410.8,374.6h0M395.5,364h0M406.6,364.8h0M405.9,376.3h0M398.6,372.9h0M401.3,375h0M403.3,365.6h0M402.4,377.9h0M402.1,377h0M393.7,368.4h0M396.1,375.6h0M413.7,372.7h0" stroke="#c04830"/><path d="M404.8,380.6h0" stroke="#d8f0d8"/><path d="M399.5,365.7h0M396.8,373.4h0M393.9,364.3h0M387.4,358.5h0M391.8,364.1h0M391.4,365.8h0M392.9,358.5h0M401.3,357.7h0M396.9,369.7h0M396.5,357.9h0M395,362.3h0M393.3,360.6h0M394.7,361h0M393.9,369.6h0M389.5,360.8h0M388.6,361.9h0M393.4,365.9h0M392.7,360.7h0" stroke="#183018"/><path d="M394.7,354.5h0M395.2,357.6h0M389.3,361.6h0M399.9,356h0M398.5,353.3h0" stroke="#603048"/><path d="M403.3,362.8h0M395.2,360.4h0M389,368.1h0M397.3,357.2h0M390,364.6h0M403.8,357.1h0M392.2,361.4h0M394,353.6h0M394.3,372.4h0M397.9,368.8h0M388.6,358.7h0M401,356.9h0" stroke="#181860"/><path d="M396.9,359.2h0M393.1,374.9h0M407.6,361.6h0M400.8,366.3h0M398.7,360.6h0M400.8,371.2h0M399.1,363.2h0M400.5,357.7h0M401.6,365.9h0" stroke="#601830"/><path d="M395.2,360.5h0M409,380.2h0M402.6,365.5h0M392.7,355.4h0" stroke="#003018"/><path d="M405.4,381.8h0M411.6,375.5h0M410.6,364.6h0M404.6,366.9h0M410.7,374.5h0M405.8,366h0" stroke="#c01830"/><path d="M395.2,375.3h0M407.4,365.4h0M399.3,378.1h0M412.8,372.5h0M403,359.1h0M411.4,376.6h0" stroke="#d84848"/><path d="M403.4,365.6h0M393.5,373.4h0M395.2,373h0M396.9,358.9h0M389.4,355.9h0M395.4,358.5h0M402.8,356.8h0M406.2,364.8h0M403.6,363.2h0M396.2,353.7h0M387.9,358.9h0M402.6,360.6h0M396.1,352.7h0M392.8,360.4h0M397.1,359.5h0M393.5,368.7h0M399,368.6h0M397.5,360.2h0" stroke="#301878"/><path d="M394.7,359.7h0M394.9,366.4h0M398,379.6h0M402.8,356.5h0M400.6,365.6h0M393,358h0M391.1,359.3h0M396.9,353.5h0M403.8,362.3h0M393.8,357.3h0M399.3,352.8h0M403,362h0M398.8,355.2h0M407.8,372.4h0M401.7,360.3h0" stroke="#001818"/><path d="M391.5,369.7h0M402.2,359.5h0M395.3,359.1h0M402.9,356.9h0M394,376h0M400.8,356.4h0M387.5,365.2h0M393.6,358.2h0M392.6,367.5h0M391.9,358.5h0M391.4,365.3h0" stroke="#181878"/><path d="M388.3,364.5h0M404.4,365.9h0M395.2,358.6h0M399.1,356.9h0M392.3,357h0M392.2,353.9h0M393.9,364.3h0M388.5,361.9h0M405.4,364.4h0M396.3,360.4h0" stroke="#301860"/><path d="M408.7,364.2h0M399.5,380.1h0" stroke="#d8f0f0"/><path d="M401.7,375.8h0M404.4,364.8h0M403.3,368.6h0M396.8,360.2h0M403.7,381.2h0M409.6,374.2h0M408.4,369.7h0M412.5,371.3h0M409.6,371.3h0M394.5,373.2h0M398.1,380.3h0M406.7,370.8h0M412.5,372h0M392.3,368.3h0M410,372.4h0M397.7,378.1h0M412.3,377.2h0M398.6,378.7h0M406.4,377.9h0M406.7,365.3h0M408.3,364.7h0M405.2,370.6h0M405.3,380.3h0" stroke="#903030"/><path d="M400.2,358.5h0M410.9,374.7h0M400.2,371h0M400.7,374.4h0M411.7,372.5h0M405.1,370.1h0M409.8,378.3h0M413.4,366.6h0M411.7,368.5h0M403.4,380.5h0M408.5,379h0M409,364.7h0" stroke="#d83030"/><path d="M402.7,376.7h0M393.8,365.5h0M399.4,378.2h0M410.4,374.7h0M403.6,365.2h0M409.7,365.4h0M408.2,376.9h0" stroke="#a81848"/><path d="M397,365h0M406,380.6h0" stroke="#c04860"/><path d="M391.3,355.8h0" stroke="#180018"/><path d="M397.2,352.3h0M397.8,380.2h0" stroke="#d8f0ff"/><path d="M411.2,368.2h0M408.9,380.2h0M403.2,371h0M403.1,365.4h0M396.7,373.9h0M407.6,379h0M409.1,372.2h0" stroke="#903018"/><path d="M413.5,376h0M398.8,352.7h0M393.4,357.8h0" stroke="#f0f0ff"/><path d="M404.4,379.4h0M401.8,364.9h0M400.2,380.1h0M409.9,376.9h0M412.4,368.7h0M414.6,369h0M405.9,366.5h0M410.5,371.3h0M402.3,376.5h0" stroke="#d84830"/><path d="M390.6,354.9h0M394.2,375.7h0M393.4,355.6h0M397.1,365.5h0M395.1,357.1h0" stroke="#180030"/><path d="M403.9,366.2h0" stroke="#300078"/><path d="M398.3,353.3h0" stroke="#180048"/><path d="M391.7,363.9h0M389,360.9h0M389.5,360.8h0M397.1,368h0M395.6,352.7h0M398.1,370.6h0" stroke="#303060"/><path d="M401.8,359.1h0M394.5,368.4h0M402.8,359.1h0M405.3,366h0" stroke="#000018"/><path d="M394.3,371.9h0M401.7,366h0M406.9,360.8h0M404,366h0M402,357.4h0M398.3,363.2h0M400.4,358h0M402.4,365.6h0M406.5,365.2h0M397.1,371.1h0" stroke="#783018"/><path d="M413.3,373.5h0M401.8,361h0M395.7,375.5h0M388.5,362h0" stroke="#901848"/><path d="M401.7,365.1h0M401.2,368.4h0M394.2,372h0" stroke="#603018"/><path d="M402.5,374.9h0M410.9,371.8h0M403.1,374.6h0M399.9,364.8h0M405.9,381.4h0M402.6,372.2h0M414,373.3h0" stroke="#c01848"/><path d="M413,369.7h0M390.2,367.9h0M391.8,359.7h0M394.4,375.6h0M388.3,361.8h0M395.6,353.9h0M390.7,358.9h0" stroke="#181800"/><path d="M403.4,367.3h0M394.8,359.1h0" stroke="#183060"/><path d="M397.3,354.3h0" stroke="#783060"/><path d="M388.5,358.8h0" stroke="#d8d8f0"/><path d="M401.1,358.3h0M391.7,366.7h0M409.4,370.8h0M402.3,367.8h0M400.6,357.4h0M401.8,374.6h0M392.9,369.3h0M403.9,370h0" stroke="#901818"/><path d="M397.1,357.7h0M397.8,380.4h0" stroke="#d8fff0"/><path d="M402.4,370h0M406,380h0M411.5,365.4h0M403.9,372h0M407.5,365.7h0M402.3,372.4h0M404.5,379.5h0M409.9,373.2h0" stroke="#a84848"/><path d="M387.2,362.1h0M389.4,359.4h0M397.9,354.7h0M398.4,352.5h0M402.1,365.6h0M391.7,357h0" stroke="#601848"/><path d="M394.2,354.7h0M396.1,361.8h0" stroke="#303030"/><path d="M392,356.7h0M394.6,356.5h0" stroke="#781860"/><path d="M402,356.5h0M397,374.2h0" stroke="#303000"/><path d="M413.2,375.6h0M398.7,379.8h0" stroke="#a83060"/><path d="M388.5,358.7h0" stroke="#181890"/><path d="M393.7,369.6h0" stroke="#481878"/><path d="M399,360.9h0M389.5,359.7h0" stroke="#180060"/><path d="M407.8,376.4h0M388.5,360.4h0" stroke="#003030"/><path d="M390.3,371h0" stroke="#183048"/><path d="M401.7,377.2h0" stroke="#001848"/><path d="M394.4,374.7h0M395.5,375.3h0" stroke="#181848"/><path d="M391.3,359.5h0M394,363.9h0M404.2,358.9h0M399.8,356.1h0" stroke="#001830"/><path d="M394.5,353.3h0M394.2,359.2h0" stroke="#183000"/><path d="M401.4,367h0" stroke="#a84860"/><path d="M407,380.4h0" stroke="#c06048"/><path d="M406.4,378.8h0M405.5,379.7h0" stroke="#fffff0"/><path d="M392.6,364.2h0M388.6,361.2h0" stroke="#303018"/><path d="M397.7,380h0" stroke="#904848"/><path d="M394.5,370.3h0" stroke="#183090"/><path d="M389.8,362.2h0" stroke="#484848"/><path d="M400,374.3h0" stroke="#d81848"/><path d="M401.9,363.5h0" stroke="#784830"/><path d="M405.7,380h0M411.4,373h0" stroke="#904830"/><path d="M403.9,370.9h0M405.9,381.9h0M403.1,373.7h0M401.4,376.4h0M402.3,376h0" stroke="#f0fff0"/><path d="M409.2,364.2h0" stroke="#a84818"/><path d="M404.6,372.3h0" stroke="#c03018"/><path d="M399.1,361.8h0M397.6,370h0" stroke="#601818"/><path d="M387.2,359.9h0" stroke="#180078"/><path d="M393.6,364.7h0" stroke="#303048"/><path d="M399.4,356.6h0" stroke="#603060"/><path d="M399.7,372h0" stroke="#481860"/><path d="M394,370.1h0" stroke="#301848"/><path d="M401.7,359.7h0" stroke="#180000"/><path d="M411.9,371.4h0" stroke="#f0ffd8"/><path d="M408.4,369.5h0" stroke="#a81818"/><path d="M395.2,361.4h0" stroke="#780030"/><path d="M397.7,352.9h0" stroke="#ffd8f0"/><path d="M404.1,366.6h0" stroke="#300060"/><path d="M394.8,375.9h0" stroke="#301890"/>
<path d="M413.2,360.7h0" stroke="#903048"/><path d="M413.1,359.9h0M413.2,361.4h0M413.3,359h0M412.8,361h0" stroke="#c03048"/><path d="M413.9,359.4h0" stroke="#c03030"/><path d="M413,360.1h0" stroke="#a84848"/><path d="M413.8,359.3h0" stroke="#a84830"/><path d="M412.2,360.6h0" stroke="#c04830"/><path d="M413.5,358.7h0" stroke="#c04860"/>
<path d="M405.7,444.9h0M398.7,423.5h0M408.8,418.2h0M379.5,409.2h0M409.7,410.7h0M395.1,404.4h0M391.1,423.4h0M400.3,414.3h0M386.2,416.4h0M398.9,402.8h0M380.2,415h0M394.5,414.5h0M401.9,421h0M387.6,427.3h0M380.8,406h0M392.9,433.1h0M396.1,413.5h0M385.4,412.8h0M386.2,411.7h0M406.6,437.3h0M386.4,412.4h0M392.7,411.8h0M376.1,415.7h0M393.1,404.3h0M383.5,407h0M378.9,419.1h0M399.6,414.2h0M408.3,405.6h0M381.1,414.3h0M382.7,411.8h0M423.5,444.3h0" stroke="#783030"/><path d="M404.3,437.3h0M395,432.8h0M427.9,434.1h0M422.1,424h0M405.7,409.2h0M391.1,440h0M425.9,441h0M395.9,412.5h0M401,422.7h0M388.9,439h0M423.3,435.7h0M410.5,432.2h0M414.8,421.6h0M425.1,440.7h0M426.8,442h0M413.8,421h0M403.2,418.9h0M402.7,431.5h0M401.9,444.6h0M396.9,445h0M403.7,413.3h0M399.5,439.3h0M417.9,434.1h0M426.7,440h0M413.8,409.1h0M425.8,440.7h0M405.8,425.7h0M423.4,424.9h0M409.7,433.5h0M426.8,423.2h0M386.5,433.6h0M397.2,446.3h0M397.2,428.6h0M402,407h0M391.3,429.7h0M407.4,445.4h0M411.8,408.2h0M428.7,436.9h0M403.2,447.1h0M392.9,442h0M410.3,419.1h0M406.3,415.1h0M421.7,429.8h0M411.9,435h0M388,433.2h0M427.2,440.6h0M389.9,436.8h0M399.2,440.3h0M418,445.8h0M390.9,432.8h0M412.5,448.9h0M382.9,420.9h0M389.9,430.4h0M398.2,413.1h0M419,416.2h0M387.8,418.7h0M409.5,435.2h0M391.1,423.1h0M429,428.4h0M394.8,437h0M401.7,416.8h0M418.7,434.7h0M419.3,427.9h0M403.4,425.7h0M422.4,426.5h0M425.9,435.7h0M401.9,412.8h0M405.1,404.3h0M398.4,408.1h0M390.4,413.2h0M383.8,404h0M391.1,438.8h0M401,435.6h0M394.9,439.8h0M408.6,404.1h0M401.6,404h0M400.4,409.7h0M400.2,430.7h0M394.9,422.7h0M420,430.8h0M417.5,412.8h0M423.4,436.7h0M410.4,421h0M393,403.4h0M416,408.1h0M416.3,411.5h0M404.4,417.8h0M423.4,445.4h0M408.5,444.4h0M400.1,407.9h0M409.8,412.7h0M424.6,433.9h0M398.8,445.3h0M391.7,426.2h0M427,439.7h0M414.9,427.1h0M403.8,443.7h0M394.6,443.9h0M423.6,427.8h0M418.3,448.2h0M424.6,430.4h0M401,432.5h0M409.7,432.6h0M409.6,419.6h0M411.3,416.3h0M402.4,446.7h0M395.4,437.3h0M406.3,435.7h0M418.3,409.2h0M411.4,413.5h0M395.4,434.3h0M404,418.6h0M411.8,413h0M407.5,410.1h0M424.1,428.4h0M395.8,438.2h0M397.8,430h0M414.3,427.4h0M390.5,417.9h0M410.1,444.8h0M393.7,428.9h0M402.5,436.4h0M395.4,444.6h0M403.7,421.5h0M418.1,415.9h0M425.7,441h0M387.6,411.2h0M406.4,403.2h0M406,410.6h0M414.7,416.9h0M427.7,435.5h0M416.4,445h0M398.7,435.5h0M407.3,430.7h0M388,412.7h0M406.5,424.3h0M422.4,438.4h0M413.3,436.6h0M393.7,411.7h0M414.9,407.4h0M416.5,433.8h0M406.6,431.6h0M391.3,417.5h0M377.3,409.9h0M393.2,424.6h0M410.4,408.1h0M390.9,421.3h0M409.7,437.8h0M397,436.8h0M420.4,415.8h0M401.9,446.9h0M414.6,409.7h0M392.7,405.1h0M406.9,409.1h0M422,440.7h0M416.1,442.2h0M418.1,419h0M399.6,413.3h0M406.6,410.2h0M416,408.2h0M408.4,445.5h0M424,445.1h0M422.6,423.4h0M393.1,433.5h0M403,417.8h0M418.2,407.8h0M382.8,427.7h0M396.8,437.5h0M379.5,410h0M426.1,432.9h0M397.7,411.2h0M420.8,415.8h0M422.6,417h0M423.2,431.7h0M389.9,405.4h0M409.5,445.9h0M397.6,440.9h0M405.3,441h0M418.9,427.4h0M402.4,424.8h0M404,438.2h0M407.2,409.6h0M425.1,440.6h0M402.5,423.6h0M412.5,421.6h0M398.7,406.1h0M411.2,407h0M412.3,437.5h0M407.4,425.4h0M377.3,417.2h0M389.5,403.9h0M422.2,441.5h0M393.6,435.5h0M415.7,426.2h0M390.2,438.2h0M413.6,437.5h0M389,428.8h0M383.2,427.7h0M405.1,435h0M409.4,417.1h0M385.1,427.8h0M408.3,411.8h0M397,433.4h0M396.7,424.5h0M406.8,433.2h0M385.5,434.2h0M394.2,439.6h0M404.7,443.3h0M397.6,415.1h0M425.5,428.4h0M415,420.6h0M394.1,440h0M403.8,402.5h0M406.9,406.7h0M401.9,431.1h0M379.2,415.6h0M393,406.1h0M410.3,426.9h0M394.9,439.4h0M393.2,439h0M422.3,418.2h0M402,424h0M408,425.6h0M421.3,428h0M407.1,439.2h0M396.1,418.9h0M408.2,421.6h0M396.1,439.8h0M386.1,434.1h0M386.2,411.8h0M391.5,419.7h0M402.3,448.4h0M410.8,431.4h0M391.1,407.2h0M415,440.9h0M414.5,430.3h0M426.6,429.1h0M414,441.2h0M386.1,428.1h0M418.4,407.8h0M402.2,429.1h0M393.5,421.5h0M422.3,419.2h0M414.4,421.1h0M421.3,446.5h0M399.7,426.3h0M411.1,419.1h0M382.6,421.1h0M422.9,439.6h0M391,439.2h0M387.4,412.8h0M419.9,411.1h0M418.4,418.9h0M411.1,423h0M402.1,424.6h0M412.9,405.3h0M422.4,421.9h0M382.4,415.7h0M405.5,403.2h0M398.2,434.9h0M416.4,430.1h0M397.9,439.2h0M414.2,408.2h0M408,409.5h0M411.2,406.4h0M410.3,444.7h0M417.6,446h0M390.1,406.5h0M389.8,419.1h0M396,421.3h0M379,415.3h0M382.5,425.9h0M402.8,446.8h0M416.2,427.6h0M407.1,441.8h0M391.5,413.8h0M400.2,425.3h0M395.5,426.9h0M383,405.6h0M411.8,405h0M400.3,411.7h0M395.6,431h0M407.9,407.6h0M389.7,421.6h0M396.8,434.3h0M426.5,421.6h0M384,430h0M411.8,413.2h0M404.7,438.2h0M399.5,444h0M416.5,422.3h0M412.8,433.3h0M405.9,408.9h0M399.7,436.8h0M415.4,411.3h0M385.4,433h0M407.5,447.7h0M427.1,439.7h0M387.6,428h0M396.6,425.3h0M395.9,429.9h0M406.9,431.5h0M402.8,433.3h0M395.5,417.9h0M393.8,405.2h0M400.5,420h0M413.2,433.6h0M405.8,448.8h0M422.6,422h0M414.3,434.7h0M395.1,433.5h0M385.6,427.1h0M384.9,431.8h0M402.7,421.7h0M385.7,431.6h0M416.6,433h0M377.7,410.1h0M401.5,419.9h0M394.3,412.3h0M395.5,412h0M392.1,438.9h0M425.8,427.1h0M413.3,424.4h0M384,426.4h0M426.4,429.5h0M422.9,415.5h0M415.4,433.5h0M394.3,430.3h0M383.1,421.7h0M407.9,406.5h0M397.6,444.3h0M416.1,441.4h0M408.4,447.1h0M394.9,418.2h0M398.7,440.3h0M413.8,448.7h0M402,406.9h0M407.4,405.8h0M387.1,408.1h0M401.9,435.8h0M382.1,415.3h0M404.9,441.7h0M396.2,418.6h0M386.2,414.5h0M416.2,440.4h0M397.7,413.8h0M412.2,419.1h0M389.7,427.4h0M411.3,415.6h0M419.3,441.6h0M406.8,443h0M405.1,418.3h0M386.7,433.4h0M417.6,447.3h0M417.1,416.5h0M387.7,429h0M421,415.3h0M417,446.5h0M413.5,427.5h0M402.5,416.3h0M402.7,433.4h0M385.9,404.2h0M428.9,440h0M401,410.9h0M381.4,410.7h0M383.6,428.5h0M401.3,430.7h0M385.4,426.8h0M407.4,424.4h0M399.2,423.6h0M422.1,440.3h0M415.8,409.2h0M386.7,412h0M410.3,413.9h0M424.2,416.7h0M397.2,433.1h0M396.1,418.6h0M401.7,422h0M399.7,422.9h0M411.2,419.9h0M412.8,432.8h0M394.5,428.3h0M400.5,405.9h0M393.5,430h0M387.2,433.6h0M417.2,411.7h0M395.9,441.8h0M418.9,423.2h0M420.4,436.3h0M410.6,424h0M418.7,435.5h0M406.6,431.1h0M405.1,417.1h0M390,416.7h0M405.2,404h0M410.5,440.6h0M414.7,427.1h0M393.2,430.9h0M417.3,448.6h0M426.4,428.8h0M423.8,423.6h0M393.2,428h0M406,429.3h0M405,414.6h0M405,446.5h0M411.5,417.9h0M395.9,433.9h0M428.6,440.2h0M408.1,409.3h0M411.9,416h0M410.1,440.1h0M390.9,418.1h0M406.1,446.8h0M399.2,438.6h0M405.8,418.3h0M404.8,435.8h0M406.9,443.5h0M388.7,422.8h0M410.9,414.1h0M424.8,435.3h0M415.1,434.3h0M400.9,425.8h0M407.5,446.8h0M378.4,410h0M406.4,427.3h0M404.7,438.6h0M422.2,433.5h0M399,419h0M417.7,441.1h0M392.1,419.7h0M411,416.7h0M397.4,444.5h0M399.2,406.6h0M382.6,424.2h0M414.8,443.9h0M404.9,424.6h0M390.4,419.5h0M414.3,410h0M401.8,417.6h0M391.4,417.1h0M386.6,427.8h0M420.9,425.9h0M379.7,421.3h0M422.9,437.3h0M383.7,425.1h0M415,432.2h0M395.4,418.9h0M412.7,414.7h0M392.8,427.5h0M395.9,420.7h0M407.9,410.2h0M391.9,439.9h0M407.1,411.2h0M379.1,409.4h0M416.2,444.7h0M407.4,440.6h0M401.8,418.8h0M410.5,428.7h0M422.5,423.2h0M403,411.4h0M391.2,410.7h0M399.5,437.2h0M403.2,436.6h0M403.6,447.2h0M379.2,424.7h0M393.4,402.8h0M419.4,411.7h0M391,421.7h0M420.2,415.7h0M407.4,405.6h0M410.3,415.1h0M391,436.1h0M405.6,404.8h0M416.7,417.2h0M401.9,428.4h0M410.9,434.9h0M391,414.3h0M396.4,440.7h0M410.5,416.2h0M394.6,429.3h0M403.4,430.4h0M412.6,406.7h0M415.8,414.9h0M418.8,438.3h0M402.1,448.2h0M388.3,438.2h0M406.2,441.9h0M404.8,419.9h0M404.4,437.7h0M406.4,407h0M408.5,442.2h0M407.1,437.8h0M383,421.5h0M408.5,431h0M417.8,436.3h0M399.2,407.9h0M408.6,410.7h0M402.2,410.1h0M390.8,417.7h0M421,427.7h0M395,414.7h0M394,410.7h0M407.8,437.9h0M385.5,419h0M425.7,437.6h0M407,440.3h0M399.6,436.2h0M418.9,418.1h0M418.1,436.8h0M394.3,410.1h0M419,443h0M421.1,431.2h0M424.6,423.1h0M402.1,411.1h0M393.9,411.8h0M425.4,438.6h0M414.4,434.5h0M423.6,443.6h0M413.5,420h0M414.7,445.8h0M409.7,427.6h0M412.2,429.1h0M384.2,420.2h0M418.8,425.1h0M391.4,429.3h0M421,412.2h0M401.7,444.2h0M399.5,441.7h0M405.6,432h0M418.2,433h0M383.2,422.6h0M410,437.8h0M395.8,423.1h0M403.3,426.9h0M385.7,431.6h0M401.7,435.6h0M412.6,443.9h0M421.3,446.5h0M394,402.3h0M423.2,437.9h0M385.7,426.2h0M426.4,431.5h0M403.9,447.9h0M410.9,442.5h0M398.4,417.1h0M397.4,412.4h0M390.5,439.3h0M409.3,443.8h0M394.6,430.6h0M396.2,429h0M398.2,407.3h0M405.8,404h0M403.6,428.5h0M393.1,414.2h0M407,446.3h0M394.8,432.6h0M409.9,427.8h0M388.6,416.5h0M407.5,447h0M394.7,435.1h0M409.7,442.3h0M425,430h0M410.2,423.3h0M409.6,422.9h0M415.8,442.8h0M386.9,436.1h0M414,405.8h0M386.8,406.2h0M400.7,426.9h0M402,445.5h0M427.6,426.9h0M406.5,433.4h0M388.6,432.7h0M403,438.2h0M397.9,407.5h0M391.2,403.6h0M409.2,443.8h0M412.4,440.9h0M390.7,438.6h0M420.2,420h0M405,421.3h0M418,441.8h0M419.7,414.4h0M396.5,435.2h0M391.2,439.2h0M400.4,447.4h0M426.5,430.3h0M421.3,423.2h0M408.6,449h0M384,426.9h0M409.5,424.4h0M421.1,434.4h0M412.8,405.3h0M418.2,431.1h0M393.9,411.5h0M406.7,443.1h0M411.5,420.1h0M409.7,443.7h0M408.6,409.4h0M389.4,415h0M413.9,438.4h0M388.4,424h0M391.1,419.9h0M400.8,418.4h0M423.9,441.2h0M386.1,431.2h0M414.5,442.9h0M403.3,415.4h0M386.5,421.4h0M407,445h0M402.8,448.1h0M392,427.3h0M418.6,440h0M419.1,430.5h0M398.5,404.7h0M402.1,402.5h0M390.5,428.8h0M386.3,433h0M390.5,423.5h0M412.2,412.6h0M386.9,408.1h0M383.9,404.6h0M413.1,426.1h0M412.6,416.9h0M385.5,433.2h0M416.4,442.4h0M396,422.7h0M407.6,442.1h0M405.9,437.7h0M401.4,418.8h0M381.8,409h0M412.8,432h0M415.9,435h0M425.5,432.2h0M422.5,423.2h0M403.2,432.6h0M417.6,445h0M413.4,437.6h0M419.7,413.7h0M413.3,443.5h0M415.2,448h0M385.9,403.4h0M422.5,434.6h0M392.7,412.4h0M400.2,437h0M407.1,425h0M390.3,419.4h0M394.6,444.4h0M396.3,415.4h0M381.3,427.8h0M400.6,442.4h0M425.4,438.8h0M417.1,446.2h0M399.3,439.2h0M413.2,431.4h0M394.4,437.1h0M413.8,418.1h0M421.9,420.7h0M383.6,406.6h0M395,433.8h0M383.2,422.4h0M425.2,435h0M405.9,426.6h0M394.7,423.9h0M401.7,412.7h0M409.1,444.6h0M422.7,435h0M416.7,431.4h0M404.7,438.7h0M387.4,431h0M407.5,424.2h0M390,438.3h0M378.3,421.1h0M401.5,442.5h0M413.6,420.7h0M394.6,419.3h0M396.7,445.3h0M414.7,423.1h0M391.3,423.2h0M395,421.6h0M426.4,437.8h0M419,412.2h0M412.4,444.9h0M395.4,402.7h0M421.6,425h0M400.9,409.1h0M412.3,431.2h0M398.1,442.9h0M424.9,434.4h0M407.2,415.9h0M394.9,401.5h0M410.3,435.1h0M391.4,410.4h0M419.1,408.4h0M398.7,429.3h0M394.2,425.8h0M400.5,427.8h0M425.7,437.6h0M415.9,441.4h0M416.4,443.4h0M409.7,409.6h0M410.9,420.8h0M378.8,417.1h0M416.1,446.3h0M426.6,437.7h0M418.2,435.7h0M383.7,406.4h0M414.3,448.1h0M379.4,413.6h0M405.7,439.8h0M382.9,408h0M392.9,407.9h0M390.7,402.9h0M412.9,442h0M420.2,411.6h0M404.9,411h0M405.5,436.6h0M390.2,439.6h0M392.8,417.2h0M398.4,408.8h0M409.7,408.6h0M401,441.1h0M403.4,447.4h0M413.6,418.1h0M418.8,411.7h0M421.5,438.4h0M396.1,442.5h0M403.2,406.1h0M416.8,415.6h0M422,445.3h0M410.3,432.9h0M385.8,410.1h0M392,434h0M401.2,435.7h0M391.1,420.3h0M391.5,405.9h0M400.2,408.3h0M424.9,420.6h0M411.3,431.9h0M413,430.2h0M393.1,412.1h0M404.8,426.9h0M383.6,421.6h0M423,445.1h0M405.2,415.1h0M399.9,445.9h0M397.4,443.9h0M418.7,424.4h0M409.7,414.7h0" stroke="#c03048"/><path d="M401.3,411.2h0" stroke="#d84830"/><path d="M396,424.2h0M422,421.5h0M394.9,419.4h0M402.4,448.6h0M397.1,443.1h0M391.8,436.8h0M406,423h0M415.5,440.7h0M411.1,409.7h0M410.2,437.5h0M379.3,409.6h0M391,440.2h0M403.8,425.5h0M386.9,421.2h0M382.7,420.6h0M420.9,423.4h0M409,445.2h0M414.4,445.6h0M421.1,422.9h0M424.3,424.4h0M401.6,435h0M410,441.6h0M410.7,409.5h0M399.8,413.1h0M386.4,432.9h0M393.1,415.2h0M427.1,438.2h0M416.3,442.6h0M399,417h0M421,439.4h0M415.1,408.1h0M394.4,429.5h0M409.8,425.5h0M405.4,418h0M421.4,437.7h0M379.7,414.2h0M404.1,409.8h0M399.1,430.4h0M406,408h0M389.7,421.8h0M403,424.4h0M420.1,432h0M406.4,404.1h0M399.7,437h0M422.8,426h0M390.6,403.4h0M424.4,429.2h0" stroke="#a81860"/><path d="M421.5,438.2h0M424.5,426.5h0M419.3,434.2h0M403.9,437.7h0M393.6,412.4h0M407,447.3h0M418.6,421.3h0M429.5,430.2h0M414.1,441.9h0M384.4,421.2h0M409,413.9h0M406.5,434.4h0M413.7,443.4h0M393.8,441.1h0M411.2,430.1h0M420.2,410.7h0M390.2,438.5h0M399.3,420.9h0M405.6,441.6h0M395,437.7h0M407.4,435.8h0M413.6,406.5h0M428.8,440.4h0M417.3,439.6h0M407,427.3h0M401.6,411.1h0M394.9,441.1h0M396.9,442.3h0M397.6,413.1h0M406.1,428.2h0M412.9,427.5h0M407.2,440.6h0M407.9,426h0M390.6,438.2h0M423.1,425.9h0M404.1,442.3h0M407.3,413.5h0M389.3,420.9h0M418.4,423.1h0M420.7,420.8h0M423.6,442.1h0M398.9,439.7h0M417.7,411h0" stroke="#c04860"/><path d="M407,414.6h0M409.4,414.8h0M406.4,442.6h0M402.8,411h0M410,422.5h0M421.8,417.1h0M393.9,431.2h0M412.4,431.2h0M409.4,435.6h0M405.4,427.9h0M418.5,425.8h0M406.2,433.4h0M421.2,426.5h0M414.5,432.6h0M413.2,419.1h0M394.9,418.8h0M414,427.8h0M384.3,422.5h0M395.3,444.1h0M408.5,422.7h0M394.6,430.2h0M389.5,422.9h0M402.9,436.4h0M399.2,446.7h0M414.2,438.1h0M409.5,448.4h0M423.6,439.1h0M417,437.8h0M398.8,424.3h0M423.3,443.4h0M390.5,427.5h0" stroke="#d81860"/><path d="M400.8,435.8h0M393.3,439h0M415.3,420.4h0M410.2,434.3h0M415.2,408.3h0M411.6,408.7h0M399.4,438.6h0M423.8,444.5h0M385.7,422.5h0M423.1,422.3h0M381.9,426h0M404.3,446.4h0M378.3,416.2h0M395.2,430.8h0M415.1,444.9h0M420.1,417.5h0M387.7,412.4h0M398.8,425.8h0M418.4,421.7h0M415.2,421.9h0M421.8,440.1h0M391.9,435h0M403.7,416.3h0M387.9,428.4h0M410.8,444.2h0M391,433h0M399.4,438.5h0M406,448.5h0M425.2,441.9h0" stroke="#d83030"/><path d="M410.4,426.4h0M416,409h0M417.4,446.3h0M401.5,414.6h0M390.2,414.1h0M394.7,423.2h0M429.1,440h0M391.6,425.6h0M419.2,437.7h0M410.9,415.6h0M406.1,431.4h0M381.3,405.2h0M409.7,447.5h0M409.8,414h0M410.3,407.9h0M379.3,416.2h0M385.6,408.2h0M418.7,431.5h0M422.5,415.3h0M417.4,443.7h0M410.2,416.2h0M425.9,423.5h0M401,446.8h0M403.8,422.1h0M423.8,428h0M400.2,412h0M394.2,412.1h0M423.4,431.3h0M392.9,434.3h0M421.2,440.6h0M389.3,405.1h0M403.1,444.6h0M380.8,414.5h0M405.9,443.7h0M416.3,441.8h0M405.3,404.9h0M384.6,415.2h0M419.6,427.6h0M424.7,443.4h0M420.4,428.2h0M401.3,433.7h0M386.7,415.6h0M424.1,430.7h0M393.5,438.7h0M405.1,435.8h0M419.3,423.8h0M392.3,415.1h0M393.5,430.2h0M424.9,435.7h0M397.1,437.9h0M408,446.4h0M388.6,421.9h0M399.4,438.6h0M403.7,436.4h0M414.7,427.7h0M401.2,407.2h0M415.1,442.7h0M413.5,438.6h0M403.9,414.6h0M418.2,429.9h0M421.1,417.5h0M393.3,427.8h0" stroke="#a81830"/><path d="M414.5,426.5h0M410.5,437.8h0M401.4,447.8h0M420.4,423.3h0M420.2,439.3h0M419.4,426.5h0M412.8,443.8h0M409.4,428.3h0M416.1,424.1h0M417.9,415.1h0M416.3,428.3h0M399.3,435.7h0M422.1,417.5h0M414.6,441h0M402.7,429.3h0M398.7,419h0M422.5,440.6h0M411.8,448.3h0M413.9,424.8h0M428.7,429.9h0M425.9,438.9h0M416.3,443.7h0M402.1,404.6h0M423.3,433.4h0M409.6,443.1h0M404.8,438.2h0M422.3,440.9h0M413.3,443h0M406.7,430.7h0M395,414.6h0M420.6,417.4h0M398.6,442.2h0M408.9,407.1h0M409.5,406.2h0M414.4,416.7h0M405.9,444.8h0M410.4,440.3h0M414.4,416.7h0M406.5,426h0M410.8,439.8h0M415.2,441.5h0M397.3,441.9h0M413.8,428h0M414.2,436.3h0M382.6,425.4h0M414.2,438.7h0M404.6,448h0M409.4,408.6h0M403.9,434.5h0M422.6,418.1h0M401.9,440.1h0M411.3,412.6h0M427.3,440.7h0M413.6,443h0M403.4,416.3h0M404.2,418.7h0M418.1,428.5h0M392.4,428h0M421.4,432.2h0M413.8,437.8h0M410,426.2h0M405.1,446.4h0M402.1,423h0M413.1,419.4h0M400.9,408.2h0M411.9,405.8h0M409.1,429.7h0M391.6,413h0M401.3,448.2h0M408.3,405.1h0M418.7,423h0M409,419.7h0M403.7,440.9h0M408.3,420.8h0M405.5,419.7h0M415.9,411.3h0M401.3,446h0M420.5,433.3h0M387.1,430.6h0M395.1,419.6h0M386.8,421.7h0M406.6,445.6h0M385.5,432h0M398.1,445.1h0M426.7,438.4h0M406.6,406.1h0M418.2,417.8h0M397.1,436.6h0M429.3,432.7h0M410,441.9h0M383.3,429.1h0M414.3,446.1h0M401.6,437.6h0M424.6,416.6h0M413.8,438.1h0M407,440.4h0M403.8,420.7h0M426.4,422.4h0M396.8,440.7h0M398.4,407.2h0M386,421.9h0M406.8,426.2h0M399.2,444.8h0M418.7,433.8h0M409.4,410.3h0M414.4,428.2h0M417.9,436.1h0M418.4,444h0M405.6,424.3h0M417.6,431.3h0M415.1,415.7h0M410.9,421.7h0M426,425.2h0M395.3,443.7h0M404.8,434.6h0M408.1,405.4h0M404,437.2h0" stroke="#d83060"/><path d="M392.6,429.7h0M404.4,434.7h0M383,417.2h0M395.4,421.4h0M406.4,444.2h0M397.5,441.3h0M405.2,420.5h0M387.1,415.3h0M385.9,427.4h0M392.4,417.8h0M384.1,421h0M411.2,408.9h0M395.3,429h0M414,410.8h0M385.6,422.2h0M418.8,418.6h0M423.3,413.7h0M406.8,432.5h0M382.9,427.1h0M408,427.1h0M413.8,423.4h0M413.6,423.1h0M397.9,444.1h0M389.2,421.1h0M402,426.8h0M403.8,411.6h0M411.4,448h0M416.3,433.7h0M400.8,420h0M406.3,448.9h0M411.1,419.9h0M391.3,428.1h0M421.1,438.3h0M397.1,424.2h0M402.3,442.1h0M412.9,432.6h0M421.6,419.8h0M413.9,426.8h0M398.6,417.9h0M419.3,431.8h0M396.1,413.1h0M397.6,417.3h0M385.9,407.6h0M403.2,448.4h0M386.6,426.9h0M395.8,437.7h0M415.4,424.2h0M392,439.8h0M422.9,433.3h0M395.5,439h0M406.4,440.4h0M412,432.3h0M386.1,430.3h0M386.7,436.2h0M413.1,427.9h0M401.8,429.9h0M401.6,423h0M416.9,448.6h0M405.7,436.4h0M395.5,438.6h0M414.8,444.7h0M391.1,436.6h0M391.9,436.7h0M399.6,446.1h0M392.9,439.9h0M420.2,439.7h0M411.5,420.9h0M381.9,417h0M385.4,427.5h0M401.2,434.9h0M398.6,424.5h0M409.5,441.9h0M414.9,422.7h0M425.5,441.7h0M405.4,440.2h0M382.1,404.3h0M423.1,418.4h0M398.9,403.4h0M398,438.5h0M403.8,428.8h0M411.6,420.7h0M404.1,431.2h0M411.1,443.9h0M414.8,419.1h0M394.7,432.4h0M409.4,408.5h0M411.9,415.4h0M409.3,426.2h0M402.4,416.6h0M391.3,428h0M405.6,425h0M399.6,405.8h0M394.4,414.3h0M420.1,416.3h0M397.9,436.3h0M394.9,421h0M401.6,414.5h0M392.5,439.7h0M421.7,428.6h0M425.3,432.4h0M428.5,429.3h0M391.4,439.5h0M396.4,401.7h0M392.2,427h0M394.5,434.2h0M417.8,437.3h0M423.9,435.5h0M390.2,413.7h0M415.2,441.1h0M391.6,437.8h0M413.6,430.8h0M425.5,436h0M405.7,424.2h0M405.6,425.3h0M413.7,428.8h0M419.8,413.6h0M407.2,426.3h0M405.6,434.2h0M411.8,413.8h0M393.5,438.8h0M411.2,413.5h0M418.4,444.7h0M392.8,429.7h0M429.9,431.3h0M418.1,419.7h0M402.8,419.8h0M394.6,431.2h0M396.9,440.6h0M403.8,430h0M422.7,433.5h0M409.4,432.9h0M397.5,404.7h0M411,428.4h0M429.5,430.2h0M424.2,441.3h0M417.1,410h0M416.6,440.3h0M382.4,408h0M404.4,434h0M404.4,419.9h0M409.6,427.9h0M392.8,416.4h0M418.8,409h0M405.2,439.3h0M385.1,422.3h0M384.9,414.8h0M394.7,415.3h0M409.1,443.5h0M410.3,447.4h0M418.7,437.2h0M383.2,404.5h0M404.8,414h0M410.6,406.4h0M401.4,418h0M412.1,411.8h0M419.3,441.2h0M396.3,418.2h0M423.2,439h0M416.2,427.3h0M414.2,426.8h0M382,420.8h0M412.2,438.4h0M417.6,432.2h0M392.5,434h0M417,432.8h0M411.9,427.7h0M396.9,421.5h0M409.2,408.1h0M414.9,433.8h0M416.1,421.7h0M421,433.2h0M398.6,407.1h0M418,428.2h0M410.4,425.3h0M397.2,407h0M399,410.3h0M420.9,439.9h0M406.2,415.6h0M390.2,402h0M420.5,428h0M422,435.8h0M419.1,417.2h0M396.1,437.7h0M379.1,413.5h0M399.4,445.8h0M397.6,438.2h0M408.2,446.9h0M413.3,437.1h0M392.5,416.3h0M395,427.1h0M404.6,409.4h0M404.1,408.9h0M384,423.8h0M383.3,425.4h0M410.2,424.9h0M382.6,428.4h0M409.2,408.5h0M420.9,434.5h0M394.6,418.5h0M393.9,429.2h0M414.2,415.4h0M405,402.8h0M415,447.1h0M415.5,433.5h0M405.5,440.7h0M414.1,445.9h0M406.7,448.4h0M415.8,416.3h0M393.5,439.6h0M401.3,447.5h0M417.3,413.3h0M384,410.3h0M398.3,407.5h0M393.2,434.7h0M407.8,446.8h0M406.3,426.8h0M401.8,434.6h0M395.4,433.9h0M403.7,436.3h0M417.4,432.1h0M410.1,428h0M401.2,428h0M420.3,432.9h0M406.9,432.2h0M410.2,416h0M393.3,430.3h0M421.1,420h0M411.4,412h0M399,438.3h0M411,414.9h0M410.2,407h0M403.4,402.8h0M418.4,438.5h0M395.3,402.7h0M424,442.7h0M424,424.3h0M419.3,433.9h0M408.7,413.4h0M407.4,433h0M406.1,437.4h0M399.2,435.2h0M413.2,421.2h0M402.7,432.3h0M408.2,419.2h0M394.2,424.6h0M405.4,415.9h0M398.4,413.6h0M411,443.5h0M421.6,428.1h0M390.8,422.8h0M404.4,448.8h0M409.6,420.5h0M413.4,443.1h0M417.6,412.7h0M425,431.9h0M415.2,441.9h0M405.1,441.3h0M426,423.5h0M417.2,443.8h0M383.4,431.1h0M386.4,410.4h0M402.7,436.1h0M392.7,415.9h0M412.4,443.2h0M411,441.1h0M403.6,420h0M421.4,414.1h0M429.5,429.7h0M402.4,410.2h0M418.1,435.4h0M386,421.7h0M397.3,419.8h0M408,442.9h0M424.2,440.5h0M401.3,408.1h0M403.5,419.3h0M383.4,421.2h0M422.6,421.7h0M424.9,440.6h0M406.7,419.6h0M382.1,428.1h0M416,413.6h0M393.6,431.8h0M395.4,432.8h0M391.3,420h0M409.9,438.4h0M405.6,432.4h0M411.7,414.2h0M395.1,439.6h0M408.7,410.5h0" stroke="#a83048"/><path d="M382.9,416.1h0M418.4,442.4h0M396.8,413.4h0M384.2,432.3h0M418,445.6h0M402.1,414.2h0M386.3,430.6h0M414.6,444.6h0M414.9,418.1h0M386.4,410.5h0M398.1,420.2h0M416.7,438.2h0M412.1,438h0M385.1,423.1h0M422.1,436.6h0M407,425.9h0M424.5,430h0M393.7,404.9h0M384.7,429.4h0M418.6,415.1h0M418.7,428h0M383.2,417h0M392.8,413.8h0M421.5,432.7h0M402.5,417h0M395.4,411.8h0M387.6,416.8h0M419.6,418.6h0M386.5,431.8h0M402.6,423.7h0M420,433h0M414.4,418.9h0M401.7,433.2h0M424.4,430.4h0M400,429.9h0M396.6,441.5h0M418.8,436.4h0M402.4,434.4h0M391.4,408.8h0M388.3,434.1h0M402.4,431.7h0M404,419.2h0M420.4,422.6h0M394.5,408.9h0M394,431.4h0M390.6,401.9h0M405.4,445.4h0M401.7,430.5h0M393.6,405.9h0M419.2,409.2h0M414.4,433.3h0M400.4,414.2h0M414.5,417.3h0M406.7,414.8h0M387.6,429.1h0M408.5,442.1h0M391.2,417.5h0M383.4,411h0M422.3,434.6h0M410.1,448.3h0M398.8,436.3h0M416.7,444.9h0M416.2,426.6h0M393.6,424.1h0M402,407.2h0M397.9,423.3h0M399.4,406.9h0M416.7,413.5h0M410.3,425.9h0M418.3,422.1h0M411.1,415.6h0M411.3,434.8h0M381.6,422.2h0M418,431.9h0M410.2,418.6h0M384.1,424.3h0M417.3,438.8h0M418,441.1h0M417.9,414.8h0M401.6,429.4h0M428,426.2h0M409.9,420.1h0M417.5,431h0M383.8,431.9h0M426,432.4h0M387.6,404.4h0M398.1,423.9h0M405.9,433.2h0M386.8,433.3h0M411.9,406h0M419.7,409.2h0M404.9,425h0M415.7,433.1h0M395.2,403.6h0M421.3,430h0M411.4,434.6h0M390.1,438.1h0M406,410.4h0M399.6,407.3h0M388.8,432.9h0M417.7,447.7h0M382.6,404.7h0M396.1,420.5h0M391.1,426.9h0M400.5,420.1h0M422.7,419.2h0M413.4,443.2h0M421.6,421.1h0M413.2,416.4h0M377.8,415.8h0M398.2,443.5h0M423,433.3h0M423.2,444.9h0M404.8,419.7h0M390.1,415.6h0M402.6,426.5h0M423.1,440.7h0M383.2,416.5h0M398.7,403.5h0M428.6,441.3h0M405.5,435.8h0M405.9,410.8h0" stroke="#c01830"/><path d="M416.2,424.6h0M388.1,432.7h0M397.7,424.6h0M408.6,447.6h0M393.5,439.7h0M423.7,445.4h0M408.7,409.4h0M389.8,421.2h0M393.9,411.2h0M398.7,438.1h0M413.7,431.1h0M418.1,437.8h0" stroke="#a84848"/><path d="M394.5,416.9h0M392.5,413.1h0M378.3,420h0M389.7,412.6h0M382.7,403.9h0M387.9,404.4h0M418.3,428h0M391.2,420.5h0M382.7,409.6h0M397.1,416.8h0M406.9,441.1h0M403.9,419.3h0M400,420.9h0M407,409.5h0M408.4,411h0M381.2,404.8h0M383.1,417.8h0M383.6,407.4h0M392.4,411.7h0M394.5,405.3h0M378.9,407.2h0M396.2,402h0M383.9,407.8h0M400.1,402.6h0M389.3,407.2h0M419.1,425.4h0M393.9,410h0M387.8,414.4h0M395.8,401.4h0M425.1,434.8h0M385.9,403.7h0M391.2,406.8h0M386.2,407.4h0M414.9,408.6h0M391.1,409.9h0M399.4,404.1h0M411.3,411.9h0M402.4,422.5h0M412.3,414.4h0M398.5,428.2h0M413.3,440.3h0M386.4,414.1h0M392.7,406.1h0M392.2,405.1h0M407.3,435.3h0M386.8,435.1h0M397.2,403h0M386.3,422.2h0M378.6,408.6h0M406.6,424.9h0M379.8,409.2h0M422.1,427.6h0M382.9,420.2h0M387.5,437h0M384.9,415.1h0M383.6,419.2h0M395.5,403.1h0M414.9,444.5h0M380,406.5h0M385.8,429.7h0M381.6,404.2h0M428.4,439h0M390,413.2h0M411.5,415.3h0M381.3,405.9h0M395,443.3h0M414,445.6h0M411,433.4h0M393.8,409.7h0M415.1,445.7h0M380.9,409.9h0M399.7,411.2h0M381.3,405.2h0M378.8,414.2h0M389.9,429.3h0M395.1,404.2h0M393,408.3h0M398.7,402.2h0M408.1,413h0M390.3,411.7h0M391.3,405h0M394.3,413.8h0M379.9,413.8h0M391.4,411.8h0M420.2,415.9h0M389.3,416.8h0M408.8,419.1h0M384.6,405.4h0M382.7,420.7h0M407.3,409.8h0M428.3,425.9h0M394.1,407.7h0M378.2,418.2h0M388,403.1h0" stroke="#601848"/><path d="M384.7,421.2h0M414.9,408.4h0M399.1,430.1h0M420.6,437.8h0M401.7,406.3h0M422.6,412.1h0M400.3,426.2h0M397.3,439h0M393.6,427.7h0M415.6,443.7h0M413.7,408h0M402.7,431.8h0M400.8,427h0M416.3,412.8h0M401.2,419.5h0M413.7,433.8h0M413.9,434.9h0M395.1,431.7h0M394.4,434.8h0M396.3,437.8h0M381.9,426.6h0M395.8,439.1h0M401.1,412.8h0M406.8,429h0M393.6,424.2h0M408.7,419.6h0M420.7,427.4h0M403.4,437.3h0M420.9,433.4h0M383.2,412.5h0M405.8,417.9h0M409.9,447.2h0M405,434.4h0M389,431.7h0M377.9,410.7h0M412.6,431.5h0M383.8,404h0M396.9,439.8h0M414.8,441.2h0M384.9,404.7h0M406.9,426.4h0M391.1,421.1h0M395.2,421.5h0M422,417.6h0M391.4,418.9h0M418.8,425h0M398.4,420.1h0M410.2,426.5h0M417.7,410.4h0M396.7,442.4h0M419.6,408.7h0M413.4,433.6h0M384.7,423.7h0M394.4,440h0M396,426.9h0M423.1,417.8h0M412.8,425.1h0M426.7,422.2h0M429.9,437.2h0M412.6,409.4h0M412.1,411.4h0M409.4,444.2h0M406.5,444.7h0M422.2,443.6h0M376.8,410.4h0M406.6,443.8h0M414,408.6h0M407.4,422.8h0M425.3,439.1h0M427,435.2h0M397.2,446.5h0M416.3,439.6h0M382.6,430.2h0M407.3,409.3h0M418,438.1h0M401.1,409.5h0M410.9,430.8h0M399.3,424.9h0M395.7,423.8h0M403.9,435.7h0M417.9,435.3h0M430,436.6h0M418.7,414.6h0M417,407.6h0M419.1,440.7h0M415.5,415.2h0M397.9,440.8h0M393.2,412.3h0M392.6,406.6h0M410.9,437.4h0M395.7,417.9h0M421.4,446.4h0M386.3,421.1h0M393.1,440.1h0M405.8,415.9h0M413.6,437.8h0M408.4,411.7h0M415.7,439.8h0M401.2,447.5h0M402.4,425h0M420.7,433.2h0M402.7,428.6h0M413.6,433.3h0M414.4,409.4h0M419.4,433.8h0M410.5,410.5h0M421.6,419.3h0M421.6,426.1h0M408.4,426.6h0M403.3,418.9h0M382.5,406.6h0M400.9,430.8h0M409.3,448.8h0M395.8,419.6h0M412.9,433.6h0M404.9,416.6h0M418.7,427h0M424.9,440.4h0M406.5,448.4h0M411.4,448.6h0M410.5,405h0M400.3,416.8h0M396.5,418.9h0M418.5,432.9h0M385.1,427.7h0M405.6,428.2h0M412.3,435h0M419.7,427.4h0M407.2,409.3h0M402.7,447.2h0M407.8,428.3h0M422.1,436.4h0M407.3,447.2h0M411.8,410.8h0M404.1,444.9h0M411.4,438.8h0M422.3,435.6h0M413.2,434.5h0M407.4,441.5h0M416.1,423.7h0M395,426.2h0M416.7,423.6h0M393.8,437.5h0M402.9,412.7h0M389,439.1h0M402.5,423.4h0M408.8,410.7h0M417.5,433h0M407.1,449.1h0M406.9,429.9h0M396.2,430h0M416.3,441.2h0M399.9,445.8h0M383.3,425.5h0M404.1,419.3h0M390.2,439.2h0M414.5,423.6h0M422.9,414.1h0M418.2,416.6h0M411,419.9h0M403.2,442.9h0M400.6,433.9h0M402.2,424.8h0M426.5,427.1h0M422.7,423.1h0M395.1,435.1h0M386.9,412.6h0M414.6,445.1h0M381.5,404.5h0M394.5,440.9h0M396.1,421.5h0M417.3,422.5h0M404.1,441.2h0M400.2,410.8h0M427.2,436.6h0M401.9,446.7h0M389.6,411.6h0M399.3,444.3h0M419,417.8h0M413.4,442.1h0M384.7,432h0M417.7,438.6h0M411.7,435.5h0M380.4,410.1h0M402.9,418h0M421.8,421.1h0M415.3,440.6h0M419.7,411.1h0M391.4,424.6h0M415.7,415h0M421.6,423.3h0M402.6,416.7h0M409.8,445.4h0M402.8,446.2h0M429.2,431h0M424.9,423.2h0M399.2,414.6h0M397.8,418.6h0M411.2,417.9h0M405,432.8h0M408.6,420.3h0M405.7,436.1h0M391.6,420.9h0M411.1,423.9h0M386.3,432h0M381.3,405.7h0M425.4,434.9h0M416.5,444.2h0M415.1,442.4h0M427.2,431.9h0M399.1,411h0M394.5,434.8h0M411.5,412.2h0M417.6,444.7h0" stroke="#c03060"/><path d="M418,439.5h0M395.1,419.5h0M392,424.6h0M414.6,441.6h0M424.6,440h0M422.8,435h0M418.9,442.5h0M378.3,415.8h0M409.1,448h0M420.7,427.6h0M419.5,435.6h0M401.7,420.6h0M388.8,438.2h0M427.6,442.6h0M423.4,428.8h0M414.7,429.9h0M413.8,428h0M391,422.5h0M413,429.1h0M398.5,417.4h0M386.1,407.8h0M409,419.8h0M392.9,422.2h0M396.6,417.9h0M393.6,433h0M408.8,409.5h0M392.5,428.4h0M406.8,420.8h0M410.3,404.8h0M382.7,426.6h0M411.2,408.7h0M399.6,402.7h0M409.9,425h0M413.4,443.7h0M408.6,408.1h0M415.7,437.9h0M402.4,448.5h0M403.1,437.4h0M400,428.5h0M417.1,438.2h0M418.7,408.6h0M420.6,414h0M426.6,438.6h0M424.4,436.2h0M389.6,438.2h0M392.6,425.8h0M426.4,425.1h0M426.3,431h0M419.4,425.8h0M403.2,427.2h0M389.8,437.6h0M397.7,438.3h0M383.7,417h0M395,424.9h0M408.2,448.6h0M415.4,432h0M419.2,442.5h0M405.8,425h0M392,404.3h0M413.1,436.6h0M397.6,443.4h0M400.4,427h0M407.4,446.4h0M399.2,440.2h0M403.9,432.2h0M415,423.7h0M425.4,423.4h0M384.5,406.1h0M398,446.7h0M401.1,418.6h0M387.2,434.8h0M398.4,442.9h0M406,410.5h0M402.4,437h0M396.1,445.6h0M405.7,419.8h0M394.7,429.8h0M414.8,438.3h0M424,435.6h0M424.6,434.3h0M391.7,427.3h0M403.1,412.7h0M401.8,423h0M411,441.9h0M381.7,421h0M378.9,407.2h0M391.2,419.7h0M387.3,428.3h0M397.8,434.9h0M415.9,424h0M392.5,428.4h0M406.2,406.2h0M412.8,429.4h0M423.3,415.7h0M403.3,442.3h0M394.8,422.4h0M425.7,432.3h0M406.9,437.5h0M401.5,430.1h0M424.5,432.4h0M383.4,417.7h0M405.8,403.8h0M405.6,447h0M396.6,436.8h0M405.4,446.7h0M380.9,407.8h0M426.2,423h0M412.7,438.1h0M417.7,438.9h0M426.1,432.2h0M421.5,432h0M406.4,441.5h0M395.7,413.4h0M404.6,440h0M390.6,418.2h0M421.2,441.8h0M410.8,404.4h0M380.7,412.9h0M391.9,407.4h0M406.8,405.8h0M424.3,433.9h0M394.9,422.1h0M408.1,410.8h0M411.7,420h0M387.4,411.1h0M410.1,436.1h0M397,439.5h0M402.2,441.5h0M390.5,429h0M416.6,441.9h0M405.3,410.7h0M391.7,418.2h0M414.9,425.6h0M389,424.1h0M403.4,421h0M395.3,417.8h0M388.4,431.4h0M398,418.1h0M390.8,420.8h0M424.3,423.4h0M415.3,448.8h0M404.5,416.3h0M415.8,448.2h0M417.8,440.2h0M417,415h0M405.9,406.2h0M405.1,409.6h0M396.4,415.5h0M408.5,446.7h0M385.3,413.3h0M391.3,419.7h0M398.5,447h0M399,444h0M394.1,418.2h0M386,405.3h0M405.5,405.5h0M418.7,443.3h0M401.7,426.1h0M409.7,434.9h0M401.4,444.7h0M384.5,421.9h0M406.3,408.9h0M397.4,424.8h0M392.2,427.9h0M421.5,435.3h0M394.3,426.4h0M411.6,439.5h0M415,407.4h0M386.8,416.6h0M417.7,418.2h0M429.7,431.5h0M420.5,422.9h0M394.8,428.8h0M411.5,411.3h0M413.5,429.2h0M402.6,446h0M393.9,435.8h0M400.2,428.6h0M415.9,409.9h0M393.6,412.1h0M421.4,432.7h0M381,414.5h0M417.2,418.3h0M390.7,412.6h0M389.5,438.5h0M383,426.7h0M409.8,443h0M398,425.1h0M424.3,434.9h0M402,437.3h0M398.9,446.4h0M422.2,432.3h0M420.6,439.1h0M403.9,439.4h0M423.1,421h0M406.8,409.1h0M389.9,413.3h0M397.6,409.5h0M421.4,430.8h0M390.5,403.3h0M414.8,439h0M427.2,429.7h0M411,409.5h0M415.3,427.6h0M382.5,429.9h0M390.6,422.2h0M403.7,432h0M406.4,417.9h0M411.7,434.4h0M402.2,434.3h0M413.8,421.2h0M408.7,419.5h0M394.7,432.5h0M385.9,418h0M415.6,433.7h0M404.8,438.4h0M410.8,434.1h0M410,412.3h0M390.4,423.7h0M421.4,421.6h0M396.2,413h0M409.4,422.4h0M416.1,441.4h0M414,417.5h0M382.8,425h0M417.9,441.6h0M428.3,440.4h0M383.9,420.6h0M414.8,441.2h0M402.4,429.7h0M384.9,421.4h0M391.4,420.8h0M411.8,437.4h0M413.4,436.3h0M419.6,428.3h0M382.5,429h0M406.3,420.7h0M398.9,409h0M423.2,419.4h0M415.1,424.1h0M391.3,415.7h0M395.2,407h0" stroke="#a81848"/><path d="M388.3,432.9h0M395.3,436.4h0M424.4,440.8h0M399.4,439.8h0M421.2,416.2h0M400.7,426.8h0M418.9,432.4h0M413.7,431.2h0M399.1,446.8h0M415.5,442.4h0M425.6,428.8h0M400.4,430.1h0M390.8,419.7h0M394.3,435.4h0M419.5,437.5h0M412.8,427.7h0M394.4,440.6h0M418.7,426h0M422.1,441.9h0M422,436h0M409.2,435.8h0M423.8,424.3h0M406.6,440.1h0M420.4,422h0M424.6,430.5h0M398.9,445.2h0M427.9,439.9h0M411.9,432.6h0M395.2,418.2h0M415.5,410.3h0M415.2,415.1h0M413.7,442.3h0M417.8,411.8h0M421.2,432.3h0M414.2,423h0M413.9,418.8h0M396.5,443.4h0M414.5,409.3h0M405.6,439h0M426.5,433.1h0M406.1,425.7h0M421.2,431.6h0M416.9,431.8h0M411.5,422.9h0" stroke="#d84878"/><path d="M387.9,428.9h0M399.5,422h0M385.9,405.5h0M376.1,416h0M413.9,410.9h0M410.7,407.4h0M381.2,404.5h0M381.8,411.6h0M396.8,416.5h0M387.5,403h0M398.7,446.2h0M383.6,411.1h0M389.8,409h0M409.2,422.4h0M376.7,409.8h0M381.3,412.4h0M402.8,420.7h0M395.6,429.4h0M413.5,417.8h0M386.9,413.5h0M390.4,415.6h0M391.1,439.2h0M395.2,416.3h0M400.9,429.1h0M387.4,410.5h0M381,410.7h0M411,432.7h0M391.9,410.1h0M421.3,422.9h0M395.5,401.9h0M392.9,426.8h0M401.5,402.7h0M388.3,431.5h0M401.5,418.3h0M418.1,416.9h0M382.6,419.6h0M379.9,407.7h0M407,416.9h0M379.2,409.2h0M385.7,412.4h0M385.3,408.7h0M383.7,415.8h0M386.4,409.9h0M389.1,420.1h0M376.5,412.9h0M386.5,407.3h0M378.5,406.2h0M391.9,419.3h0M391.8,403.2h0M381.1,420.2h0M416.7,441.1h0M391,406.3h0M395.4,403.8h0M391.7,406.2h0M378.2,413.1h0M415.5,437.7h0M391.5,423.2h0M380.9,411.3h0M410.7,415.6h0M385.5,417.7h0M393.1,408.3h0M381.8,407.8h0M382.6,407.5h0M383.1,404.1h0M382.1,421.7h0M397.9,419.8h0M379.7,414.5h0M394,422.1h0M386.6,405.6h0M397.3,413.7h0M390.5,405.2h0M390.7,421.3h0M390.6,417.2h0M379.2,409.3h0M416,443.1h0M391.3,420.9h0M391.8,420.2h0M397.7,405.9h0M398.1,404.2h0M390.4,428.8h0M412.3,427.5h0M380.7,406.9h0M385.9,433.8h0M386.3,413.2h0M392.7,406.6h0M401.8,407.6h0M385.9,431.5h0M394.4,434.2h0M411.3,413h0M396.5,403.9h0M401.2,415.6h0M384.8,413.9h0M392.2,409.8h0M384,404.8h0M412.6,406.2h0M394.6,408.6h0M404.7,412.1h0M426.8,430.4h0M401.5,408.1h0M403.2,421.7h0M385.9,409.9h0M402.5,437.6h0M380.7,417.8h0M390.3,422.4h0M401.8,407.9h0M389.2,421h0M414.4,411.3h0M397.1,435h0M384.4,405.3h0M411.5,405.1h0M391.2,405.7h0M379.8,407.3h0M388.2,429h0M382.7,407.7h0M377.3,420.4h0M399.5,404.3h0M381.1,414.3h0M385.4,421.9h0M396.6,403.5h0M382.2,407.5h0M399.7,402.1h0M418.1,418.7h0M384.1,414.1h0M381.6,406.1h0" stroke="#781848"/><path d="M379.2,408.5h0M411,416.2h0M418.2,407.8h0M427.8,424.6h0M429.8,431.3h0M404.1,426.6h0M390.6,429.3h0M403.9,440.7h0M408.7,448.8h0M401.8,426h0M403.4,418.4h0M406.6,410.1h0M384,431.5h0M388.9,438.8h0M393.1,411.8h0M410.7,419.1h0M407,441.5h0M395.1,430h0M419.2,420.9h0M391.1,417.9h0M404.4,419.6h0M382.7,405.7h0M417.6,437.6h0M399.8,419h0M407,433h0M418,407.6h0M426.7,438.5h0M414.8,430.3h0M410,412.8h0M406.1,444.2h0M421.5,422.5h0M407.3,447.1h0M419.4,439h0M409.8,434.2h0M407.6,410.6h0M396.2,427.4h0M412.9,431.1h0M381.8,422.8h0M420.6,441h0M415.7,424.4h0M421.6,445h0M398,431.1h0M407.6,422.7h0M394.3,429.7h0M414.1,432.8h0M393.3,413.7h0M403.3,410.7h0M409.7,421.2h0M401.1,411.4h0M382.4,422.8h0M414.1,436.1h0M419.5,416.7h0M394.8,439.1h0M419.7,441.6h0M388.9,436.3h0M422.9,419.9h0M398,409h0M416.6,441h0M401.1,424.8h0M428.7,441h0M383.6,424.1h0M416.2,408h0M402.8,444.6h0M398.7,437.7h0M404.9,436.4h0M402,427.8h0M391,440.5h0M406.5,435.9h0M397.2,418.8h0M390.7,402.5h0M407.3,423.7h0M427.6,424.4h0M416,426h0M393.6,406.4h0M426,425.2h0M423,438.4h0M389.6,417.3h0M388.9,411.3h0M400.4,447.2h0M418.1,411.6h0M402.8,445.8h0M425.3,424.5h0M392.8,429.7h0M402.3,409h0M404.1,436.6h0M394.4,434.2h0M403.7,419.5h0M398.3,442.9h0M406.7,403.7h0M421.8,414.4h0M399.3,438.2h0M389.4,429.1h0M426.3,434.8h0M389.4,413.3h0M414,443.9h0M402.3,444.5h0M399.7,444.4h0M387.6,405.5h0M422.6,426.1h0M391.2,423h0M406.9,405.5h0M424,428.8h0M403.9,447.1h0M410.8,407.9h0M404.8,436.5h0M392.9,409.1h0M409.7,444.8h0M385.7,413h0M413.9,418.2h0M417.9,447h0M387,423.2h0M414.5,439.5h0M415.1,441.4h0M386,422.6h0M395.9,445.2h0M393.1,427.4h0M411.3,413.5h0M388,434.2h0M407,410.2h0M399,422.6h0M378.8,415.5h0M417.5,436.7h0M388.7,433.8h0M407.9,447.1h0M409.2,408.8h0M421.9,439.4h0M418.1,429.1h0M413,443.6h0M420.5,430.8h0M402.8,445.7h0M401.1,427.8h0M386.4,431.9h0M403.9,420.9h0M393.8,435.6h0M426.6,437.4h0M422.4,415.9h0M418.9,434.7h0M401.6,426.2h0M401.6,402.9h0M398.5,425.5h0M400,409.1h0M423.1,446h0M386.3,411.4h0M424.1,433.3h0M410.4,408.6h0M401,430.1h0M411.1,406h0M427.9,424.4h0M380.7,426.4h0M397.1,413h0M411.5,426.4h0M382.2,411.7h0M402.8,438.9h0M387.3,434.4h0M429.8,432.8h0M394.7,442.5h0M410.2,435.2h0M419.8,446.9h0M416.6,414.3h0M401,443h0M415.2,436.8h0M382.9,422.3h0M417.4,433.5h0M427.8,427.7h0M417.3,438.4h0M406.4,433.8h0M421.6,425.9h0M379.3,416.8h0M423,423.8h0M413.5,417.1h0M398.3,442.5h0M398.8,421.1h0M403,446.2h0M391.9,423.7h0M424.1,434.3h0M384.5,424h0M413.7,416.5h0M388.3,406.7h0M411.5,443.2h0M409.8,415.9h0M392.1,418.3h0M397.6,435.1h0M420.4,423.8h0M388.7,430.1h0M409.2,447h0M409,448h0M423.2,429.6h0M403.2,416.7h0M418.4,414.5h0M420.8,427.4h0M392,404.1h0M393.8,427.5h0M421.7,434.2h0M426.1,431.2h0M419.2,424.4h0M395.9,444.7h0M421.3,439.1h0M410.9,412.3h0M426.2,431h0M388.6,431.9h0M419.5,408.4h0M403.9,434.3h0M389.9,422.6h0M423.5,442.4h0M410.8,423.9h0M401.1,405h0M414.6,427.9h0M400.5,409.7h0M383.4,420.6h0M379.1,409.6h0M391.7,408h0M422.5,421.4h0M409.7,421.3h0M414,434.8h0M418.2,447.4h0M410.7,416.6h0M400.8,435.6h0M403.5,447.8h0M404,428.4h0M418.3,422.1h0M429.4,432.9h0M381.7,414.4h0M394.1,429.6h0M412.4,418.2h0M415.5,422.2h0M428.5,441.3h0M408.5,408.6h0M418.6,415.8h0M427.8,423.7h0M391.7,408.9h0M385.6,427h0M420.3,422.4h0M406.8,430.6h0M387.5,428.4h0M416.6,446h0M415.1,439.2h0M426.4,429.4h0M401.7,423.9h0M390.1,417.4h0M409.3,420.3h0M401.6,441.1h0M424.1,415.9h0M411.6,405.7h0M425.5,431.3h0M424.6,428.8h0M397,445.6h0M421.4,431.6h0M414.1,426.8h0M415.3,429.8h0M421.3,439.5h0M419.5,430.2h0M394.6,420.7h0M386.8,425h0M404,438.3h0M381.8,420h0M410.1,438.2h0M407.3,447.8h0M377.1,418.1h0M404.1,436.5h0M404.4,439.4h0M424.8,438.8h0M394.8,437.2h0M406.8,425.7h0M405.6,435.1h0M414.8,441.8h0M418.2,444.9h0M384.9,411.5h0M411.5,414.2h0M417.2,415.5h0M381.3,405.5h0M400,409.9h0M420.6,413.1h0M398.9,444.6h0M417.8,447.5h0M394.5,437.9h0M405.2,415.1h0M398.2,437.5h0M414.4,430.5h0M420.3,426.5h0M412.3,410.6h0M386.6,428.4h0M378.4,409h0M401,428.1h0M396.3,437.9h0M394.1,430.7h0M390.5,411.8h0M397.5,434.8h0M400.1,426.4h0M414.8,424.2h0M414.8,425h0M420.2,434.6h0M405.1,410.4h0M407.7,406.8h0M394.7,436.8h0M390.7,422.9h0M412.5,433.4h0M423.2,444.6h0M380.7,415.7h0M428,439.9h0M397.1,420.3h0M403.4,434.2h0M385.9,404h0M423,412.9h0M387.8,418.7h0M426.5,435.8h0M410.7,431h0M419.4,418.4h0M400.9,413.2h0M427.5,437.1h0M387.1,435.3h0M404,422.8h0M409.4,441.8h0M417.2,443.5h0M411.1,442h0M395.9,411.5h0M422.1,414.5h0M417.6,412.1h0M406.7,416.2h0M411.9,434.1h0M378.9,416.5h0M402.3,413.8h0M419.3,418.6h0M394.9,441.1h0M403.7,409.1h0M417.2,421.2h0M386.6,428.8h0M418.9,410.8h0M403.3,405.2h0M401.8,412.4h0M400.2,414.7h0M402.6,438h0M407.2,404.3h0M393.5,423.9h0M419.8,435.1h0M411.7,431.9h0M387.3,415.8h0M409.5,433.4h0M398.6,444.3h0M391.7,412.1h0M422,418.2h0M391.1,438.5h0M398.4,430.9h0M405.3,440.6h0M395.8,418.8h0M403.3,420.6h0M396.1,444.1h0M397.2,421.6h0M398.9,409.3h0M390.6,428.7h0M410.6,421h0M390,439.6h0M393,405.9h0M422.3,446h0M406.4,417.9h0M385.5,427.7h0M406.5,404.3h0M402.6,422h0M413.2,410.6h0M391.5,425.1h0M415.5,440.8h0M414.2,444.8h0M421.8,422.5h0M386,422h0M403.9,442.4h0M383.7,422.5h0M413.5,446.6h0M384.4,412.4h0M419.3,434.6h0M385.5,421h0M421,439.1h0M424.5,441.9h0M391.3,416.1h0M394.7,415.3h0M409.8,436.2h0M394.9,423.6h0M421.7,426h0M398,440.7h0M396.3,419.5h0M399.3,407.5h0M382.7,411.2h0M387,432.7h0M398.6,440.8h0M404.6,404.1h0M408.3,431.2h0M428.8,429.9h0M421.7,428.1h0M425.9,432.1h0M382.5,420.2h0M421.7,417.8h0M411.2,434.2h0M417.1,433.2h0M415.5,417.4h0M383.6,429.9h0M414.6,439.1h0M398.9,418.4h0M408.8,430.7h0M426.8,431.4h0M414.7,435.1h0M410.2,446.7h0M418.6,408.4h0M418,428.2h0M428,440.1h0M398.7,443.2h0M426.9,429.6h0M414,422.7h0M397.2,426.3h0M382.5,404.8h0M417.3,444.1h0M408.1,430.3h0M387,426.4h0M407.8,445.9h0M401.9,424.6h0M403.4,429.4h0M403.1,447.4h0M405.9,436.2h0M399.9,412.9h0M399.6,439.7h0M385.2,430.1h0M398.6,406.8h0M398.7,445.1h0M422.7,420.1h0M423.5,440.6h0M391.2,439.3h0M393.4,439h0M401,436.4h0M402.5,418.5h0M400.3,425h0M420.5,411.8h0M416.9,411.7h0M397.1,419.2h0M391.4,410.6h0M389.3,408.8h0M410.6,433.6h0M391.3,406.2h0M408.1,410.7h0M422.1,427.7h0M420.8,443.3h0M412.1,423.4h0M421.4,426.7h0M412,411.6h0M402.7,412h0M420.8,414.3h0M380.1,426.3h0M421.1,420.6h0M386.7,405.8h0M380,416.3h0M398,411.3h0M414.7,435.1h0M413.4,436.8h0M422.8,414.3h0M413.8,435.7h0M386.2,428.5h0M405.2,428.1h0M398.8,420.5h0M428.6,440.1h0M411.1,439.3h0M425.5,432.7h0M415.5,426.3h0M402.9,442.7h0M390.2,412.6h0M392.1,428.3h0M398.7,413.7h0M425.9,422.6h0M400.2,406.6h0M401.8,419.6h0M393.1,433.1h0M403.6,434.8h0M423.1,439.4h0M400.8,430.6h0M407.3,432.1h0M424.4,436.6h0M420.4,425.7h0M382.2,422h0M417.7,432.8h0M398.6,446h0M403,411.4h0M393.6,422.1h0M403.5,404.9h0M394.8,414.5h0M413.7,426.1h0M393.4,427.5h0M417.4,420.9h0M428.1,430.6h0M412,430.5h0M418.1,414.3h0M414.7,440.2h0M415.1,421.4h0M402.4,416.6h0M394.4,436.2h0M394.5,440.6h0M387.1,429.9h0M415.1,432.4h0M407.2,438.3h0M423.9,444.1h0M403.8,445.2h0M414.4,419.7h0M417.8,434.3h0M395.7,422.8h0M407.7,426h0M421.6,416.4h0M426.2,437.9h0M394.7,436.2h0M391.3,413.9h0M398.8,428.6h0M427.7,425.1h0M388.6,433.8h0M418.2,410h0M401.6,436.6h0" stroke="#c01848"/><path d="M421.1,445.7h0M406.9,443.6h0M422.7,435.9h0M419.8,412.8h0M384.5,432h0M422,430.1h0M385.1,432h0M407.4,407.2h0M395.3,422.2h0M421.5,419.1h0M398.4,407.1h0M385.6,423.7h0M390.5,419.2h0M403.4,405.6h0M388.6,431.2h0M386.4,421.5h0M398.7,423.9h0M418.2,435.5h0M412.9,410.5h0M394.3,437h0M397.6,413.1h0M421.7,424.8h0M418.1,442.8h0M418.4,437.2h0M386,433.1h0M405.4,433h0M415.7,428h0M424.5,436.1h0M398.5,411.8h0M420.7,434.9h0M388.5,424.1h0M394.5,432.2h0M422.4,431.2h0M416.2,442.5h0M390.6,440.1h0M428.1,425.5h0M399.1,407.9h0M422.3,419.3h0M398.3,439.5h0M420.9,433h0M410.8,433.3h0M417.8,413.9h0M411,443.7h0M418.9,428.8h0M419.3,414.4h0M415.7,421.9h0M421.5,419.8h0M413.4,433h0M410.7,407.2h0M417.2,439.7h0M403.1,430.9h0M423.2,428.9h0M386.1,415.9h0M410.7,434.1h0M405.2,444.3h0M398.7,408.6h0M425.6,436.2h0M404.2,419.5h0M405.3,404.9h0M406.1,425.5h0M398.6,431.8h0M413.9,418.1h0M412.7,440.9h0M411.5,433.7h0M410.6,435.4h0M400.6,427.5h0M415.9,424.1h0M394.5,418.4h0M410.8,431.4h0M412.3,440h0M415.6,426.1h0M383.3,426.9h0M400.1,447.2h0M416.7,440.1h0M416.1,422.8h0M408.9,427.1h0M419.3,408.7h0M419.2,444.5h0M394.7,412h0M419.5,411h0M395.3,424.2h0M405,419.5h0M426,421.7h0M421.1,423.6h0M403.1,445.5h0M411.8,409.5h0M393.9,429h0M422.8,424.9h0M421.6,417.4h0M413.5,443.4h0M396.1,437.5h0M401.8,413.2h0M426.1,424.7h0M412.4,408.3h0M423.2,418.1h0M400.6,421h0M391.2,424.3h0M422.4,439.9h0M388.4,422.6h0M412.4,438.7h0M398.5,439h0M398.4,440.8h0M398.4,429.6h0M412,415.9h0M407.8,411.1h0M409.8,436.5h0M417.6,437.7h0M405.4,437.3h0M425.8,441h0M412.9,426.9h0M423.8,436.2h0M391.7,421.9h0M424.4,417.5h0M409,437.5h0M414.2,433.8h0M399.2,429.7h0M405.6,436.1h0M388.4,433.4h0M405.8,444.5h0M408,447.8h0M423.6,414.9h0M426.6,434.6h0M402.5,403.9h0M416,413.8h0M393.1,410.9h0M398.1,419.3h0M414.8,441.4h0M419.6,435.2h0M401.5,431.8h0M399,431h0M423.8,428.6h0M411.2,442.7h0M394.6,434.1h0M416.9,423.5h0M392,436.3h0M408.8,430.5h0M399.1,411.7h0M416.4,444.8h0M403.4,431.1h0M413.3,406.7h0M379.4,424.6h0M391.7,441h0M398.2,402.4h0M406.3,448.5h0M393.8,413.4h0M423.2,435.4h0M413.1,431.1h0M424.7,422.1h0M410.6,432.2h0M388.8,433.8h0M401,404.3h0M398.4,444.5h0" stroke="#d83048"/><path d="M390.5,414.6h0M396,418.7h0M377.8,416.5h0M415.8,443.6h0M424.5,430.1h0M392.2,418.9h0M385.2,421.1h0M404.8,409.3h0M403.2,419.3h0M402.3,403.6h0M406.8,442.7h0M403.8,415.8h0M391.2,437.8h0M384.6,424h0M381.5,412.1h0M419.8,423.7h0M409.1,417h0M422.7,433.4h0M403.7,433.3h0M422.4,412.2h0M401.3,411.3h0M412.7,426.7h0M398.9,438h0M423.8,442.3h0M420.2,421.7h0M392,426.2h0M423.4,432.6h0M400.3,418.3h0M411.5,413.6h0M406.4,445.9h0M392.8,432.6h0M390.2,438.1h0M407.2,448.4h0M397.4,445.4h0M402.4,423.6h0M395,422.4h0M412.1,438.5h0M408,427.2h0M420.9,432.7h0M408.3,445.5h0M396,430.6h0M404.5,410.6h0M393.1,438.5h0M382.9,421.3h0M389.8,439.9h0M419.7,437.3h0M398.5,446.8h0M422,427.8h0M401.9,446.5h0M405.9,443.5h0M392.3,427.5h0M426.4,439.2h0M383.1,422h0M403.6,417.2h0M386.8,435.2h0M403.2,413h0M401.9,419.7h0M394.3,413.2h0M412.3,414.6h0M395.1,421.4h0M382.1,428.3h0M406.3,407.7h0M410.9,433.9h0M410.4,406.7h0M425.9,441.2h0M419.6,418h0M410.5,428.9h0M395,417.9h0M425.1,436.7h0M410.5,446.8h0M414.8,442.9h0M409.8,448h0M405.5,412.6h0M396.2,439.6h0M423,440.4h0M411.5,414.5h0M409.5,425.5h0M383.5,409.4h0M419.3,442.6h0M417.5,443.7h0M397.7,418.1h0M393.6,439.9h0M391.4,404.4h0M391.5,402h0M425.1,423.7h0M421.3,417.4h0M410.1,404.8h0M404.2,412.9h0M410.7,421.5h0M393.2,424h0M417.1,413h0M401.5,425.5h0M424.8,432.9h0M399.5,412.2h0M413.9,414h0M387.5,417.6h0M384.7,429.2h0M403.7,418.6h0M426.3,434.8h0M394.3,437.6h0M410.6,432.4h0M412.3,409.6h0M429.4,432.1h0M402.2,414.6h0M391.5,427.8h0M413.2,428.3h0M403.5,437.4h0M414.8,424.2h0M423,414.3h0M407.4,432.8h0M398.5,410.4h0M411.9,433.7h0M403.2,413.5h0M389.6,430.3h0M392.9,407h0M387.3,417.5h0M403.8,402.8h0M407.3,426.8h0M426.6,440.5h0M419.6,425.1h0M398.7,408.8h0M398.5,424.3h0M423.6,445.6h0M394.6,427.5h0M402.5,415h0M391.3,423.3h0M400.3,411h0M383.2,425h0M414.2,411.7h0M402.7,409.1h0M421.4,417h0M421.8,422.8h0M393.8,419.9h0M377.8,420.2h0M422.8,435h0M425.5,439.8h0M417.1,408.7h0M402.4,405.1h0M412.9,437.9h0M403.7,403.4h0M424.9,445.6h0M394.3,434.2h0M422.5,419.6h0M397,413.9h0M405.7,428.7h0M419.3,432.2h0M408.5,427.5h0M412.7,415.5h0M383.2,426.7h0M402.2,407.8h0M425.6,427.8h0M413.7,407.1h0M404.7,424.9h0M425.5,425.2h0M409.4,448.3h0M383.2,431.3h0M390.1,417.5h0M395.9,436.4h0" stroke="#c03030"/><path d="M404.2,427h0M419,436.5h0M413.6,442.3h0M418,431.9h0M387.4,426h0M393.7,440.4h0M411.8,433.9h0M420.2,435.6h0M410.4,430.2h0M429.7,431.5h0M425.8,439.7h0M412.8,431.4h0M409.6,429.6h0M407.3,444.8h0M393,414.7h0M426.5,422.5h0M386.9,435.3h0M396.9,420.4h0M424.5,441.2h0M402.7,436.9h0M412.1,439.3h0M413.8,434.6h0M405,438.8h0M394.7,420.2h0M418,429.5h0M387.6,423.5h0M420.9,443.1h0M414.9,418.8h0M408.4,445h0M381.1,404.9h0M421.3,436.9h0M412.9,433.6h0M426.1,423.3h0M414,429.9h0M417,418.3h0M424.3,430.1h0M429.4,436.3h0M402.6,423.8h0M391.6,424.4h0M401.9,409.6h0M395.7,441.1h0M414.5,434.2h0M422,411.4h0M394.5,423.6h0M391.3,419.8h0M409.6,410.9h0M404.3,443.6h0M426.9,431.5h0M409.6,409.6h0M422.9,418.5h0M405,443.7h0M414.6,445.2h0M419.9,440h0M426.6,430.1h0M414.9,408.1h0M409.5,409.8h0M399.2,423.5h0M415.3,437.8h0M411.6,442.6h0M393.1,412.4h0M394.6,413.5h0M421.8,420.8h0M415.2,435.3h0M386.9,433.6h0M407,403.7h0M427.2,442h0M401.7,418.8h0M414.5,407.7h0M395.7,418.5h0M398.9,406.4h0M399,445h0M392.2,430.5h0M401.4,445.1h0M394.3,430.4h0M410.5,404.4h0M405.6,438.9h0M393,429.4h0M414.7,443.4h0M412.1,430.4h0M400.5,440h0M396.7,434.8h0M395.9,429.1h0M428.3,441.9h0M387.8,424.1h0M401.5,432.3h0M406.4,437.9h0M414.7,432.3h0M426.5,424.8h0M397.8,418.9h0M415.2,426.6h0M400,437.3h0M406.7,440.9h0M415.3,446.6h0M402.3,417.5h0M426.7,433.6h0" stroke="#d81848"/><path d="M420.9,429.2h0M400.5,431h0M423.3,434.8h0M404.7,411h0M396,419.8h0M425.1,429.9h0M418.4,417h0M419.1,415.4h0M399,416h0M402.4,412.5h0M398.5,441.3h0M403.8,436.8h0M407.9,407.3h0M397.6,417.8h0M423.7,441.6h0M394.6,414.3h0M389.9,433h0M397.9,439.1h0M418,422.4h0M384.6,417.1h0M412.5,415.5h0M398,446.5h0M391.4,427.7h0M420.7,424.9h0M421.2,422h0M382.6,426.5h0M402.1,419.4h0M399,443.9h0M397.8,436.2h0M379.9,424.4h0M398.5,407h0M416.3,431.9h0M400.3,409.8h0M418.2,444.1h0M419.5,409.6h0M388.6,422h0M420.5,427.7h0M407.4,440.2h0M390.9,420.4h0M390.4,428.3h0M422.7,428.2h0M410.7,433.4h0M398.3,406.9h0M394.3,436h0M393.2,429.7h0M401.4,435.3h0M418.5,446.4h0M425.1,429.8h0M399.4,407.6h0" stroke="#c04848"/><path d="M403.7,431.5h0M391.4,437.6h0M420.9,421.9h0M398.2,438.6h0M402.5,435.3h0M424.2,431.8h0M391.1,441.5h0M423.2,431.5h0M418.4,444h0M415.4,429h0M406.5,425.3h0M392.3,414.8h0M414.7,409.8h0M385.6,428.4h0M426.6,436.8h0M385.2,431.2h0M408.9,413.8h0M417,445.4h0M399.1,410h0M396.5,428.9h0M402.9,436.7h0M403.3,439.7h0M414.8,410h0M421.6,430.6h0M390,438.1h0M418.5,440.9h0M386.1,424.3h0M389.5,426.9h0M426.6,422.7h0M387.2,421.2h0M410.9,409.8h0M385.3,431.7h0M391.3,437.6h0M396.7,443.2h0M405.4,407.7h0M387.1,422.4h0M390.1,437.5h0M404.9,444.8h0M403.1,415.5h0M410.4,432.8h0M396,419.1h0M409.9,448.5h0M404.5,419.2h0M399.2,430.6h0M419.7,417.5h0M407.8,445.6h0M392.6,421h0M393.2,413.2h0M405.3,441.3h0M403.3,403.2h0M418.4,419.2h0M393.9,413.4h0M416.7,439.8h0M394.1,432.4h0M416,417.7h0M407.4,444h0M381,414.2h0M400.8,435.6h0M407,444.9h0M427.4,426h0M386.3,408.6h0M385.7,431h0M426.1,429.4h0M410.6,429.1h0M383.6,426.5h0M381.1,426.4h0M415.6,441.9h0M385.2,404.8h0M415.9,410.4h0M394.4,429.4h0M401.4,408.3h0M394,419.8h0M406.8,414.4h0M393,439.8h0M419.9,427.1h0M393,430.2h0M423.6,428.7h0M390.8,418.9h0M411.6,440.7h0M397,407.8h0M407.6,427.9h0M395.2,427h0M388.8,435.5h0M402.5,420.6h0M402.9,435.7h0M383.9,431.5h0M391.7,439h0M386.6,431.2h0M413.7,410.6h0M414,420.6h0M397.3,423.6h0M400.8,423h0M406.9,414.6h0M403.5,441.4h0M393,425.6h0M419,438h0M404.1,409.3h0M424.4,429.1h0M414,436.4h0M414.8,433.5h0M417.6,447.8h0M425.6,433.9h0M397.1,437.5h0M410.6,407.9h0M414.6,417.3h0M406.6,426.1h0M400.1,443.8h0M421.8,442.3h0M406.5,420.2h0M394.9,415.6h0M386.9,432.2h0M423.5,428.1h0M409.2,427.9h0M413.9,409.9h0M393.7,434.7h0M414.5,440h0M384.5,424.7h0M415.2,448.3h0M398.5,438.4h0M413.5,434.1h0M399,425h0M399,445.9h0M430,433.9h0M394.3,420.1h0M421.5,422h0M390.5,417.1h0M419.9,409.3h0M394.2,431.2h0M392.5,421.5h0M390.7,437.2h0M403.2,424.9h0M421.7,421.5h0M423.4,440.4h0M413.1,411.5h0M406.4,405.8h0M416.7,442.2h0M424.7,442.7h0M400.5,446h0M385.6,431.1h0M394.5,427.3h0M387.2,427h0M407.1,418.9h0" stroke="#c01860"/><path d="M382,403.9h0M384,403.8h0M385.7,403.9h0M383.3,419.1h0M400.1,405h0M379.1,421.4h0M389.3,404.9h0M383.3,408.2h0M390,404.6h0M378.9,415.5h0M395.3,405.8h0M383.8,408.2h0M387.2,409.8h0M391.6,412.9h0M393.5,403.9h0M385.9,415.3h0M388.3,405.5h0M381.3,405.7h0M381.4,416.8h0M392.6,410.7h0M384.7,415.8h0" stroke="#784890"/><path d="M410.9,417.1h0M379.1,407.3h0M400,412.6h0M381.7,426.7h0M380.9,416.4h0M391.7,407.3h0M419.1,431.6h0M402.2,416.9h0M385.5,411.7h0M391.6,428.5h0M390.8,412.6h0M402.6,424.2h0M398.2,402h0M392.4,403.1h0M387,414.5h0M389.6,405.5h0M394.6,402.1h0M394,407.2h0M385.4,422.8h0M390.7,405.5h0" stroke="#783060"/><path d="M397.8,409h0M395.8,437.3h0M403.6,431.3h0M403.9,446.8h0M398.7,442.6h0M408.4,427.1h0M417.3,433.6h0M415.7,423.6h0M419.1,417.3h0M418.4,426h0M399.8,418.7h0M413,435.4h0M421.7,439.7h0M422.9,428.2h0M398.4,409.3h0M422.1,413h0M424.5,432.2h0M426.2,441.1h0M393.1,442h0M422.9,443h0M418.1,435.5h0M386.3,433.5h0M395.8,420.1h0M403,436.7h0M393.8,438.2h0M427.4,426.4h0M404.1,437.9h0M395.1,444.7h0" stroke="#d83078"/><path d="M380.7,406.4h0M391.2,417.6h0M388.8,436.5h0M397.4,438.6h0M413.7,405.5h0M408.8,404.8h0M403.7,411.6h0M392.2,406.8h0M395.8,434h0M381.2,410.6h0M397.4,412.8h0M394.7,402.2h0M389.6,413.9h0M391.7,437.5h0M378.9,416.8h0M378.9,416.4h0M386.3,428.8h0M384.9,428.9h0M393.3,433h0M384.6,414.3h0M429.3,438.9h0M416.6,413h0M400.1,403.9h0M410.2,406.7h0M398.6,405.4h0M386.6,412.5h0M388.5,421.3h0M422.5,416.8h0M385,406.9h0M391.5,417.5h0M410.8,438.3h0M393.5,404.5h0M394.1,408.6h0M383.9,414.6h0M406.9,405h0M399,428.4h0M383.3,410.1h0M402,402.3h0M383.5,407.2h0M390.8,411.4h0M402.9,419h0M382.4,416.4h0M381.5,419.4h0M401.8,435.7h0M380.5,412.3h0M393.6,406.5h0M400.2,424.2h0M382.7,415.8h0M394.5,419.6h0M416.7,434.6h0M399.9,420.7h0M378.3,416.4h0M381.8,406.7h0M392.8,401.8h0M422.5,440.1h0M395.4,434.3h0M410.1,445.3h0M379.4,407.9h0M404.2,412.8h0M381.5,410.3h0M384.7,405.6h0M408.2,404.5h0M402.4,406h0M400,404.3h0M406.6,408.3h0M382.4,419h0M392.1,403.4h0M378.2,413.8h0M389.6,423.2h0M407.2,408.1h0M383.9,409h0M409.1,406.4h0M380,405.7h0M382,414.5h0M394.7,402.7h0M392.3,425.2h0M398.7,437.3h0M393.7,408.6h0M393.2,409.9h0M401,424.1h0M386.3,424.8h0M396.9,407h0M391.1,423.9h0M403.4,409.9h0M399.1,401.7h0M386.2,414.5h0M390.6,413.6h0M412.4,435.6h0M401.4,410.6h0M378.7,414.8h0M387.2,412.4h0M378.7,422h0M419.5,414.5h0M410.6,409.9h0M396.8,431.4h0M397,422.5h0M386.4,416.8h0M401.4,425h0M395.3,442.6h0M396.8,406.8h0M377.5,414.6h0M391.4,422.2h0M388.5,413.2h0M422.5,427.1h0M391.4,409h0M393.4,401.6h0M419.1,427.6h0M384.8,427.5h0M391.5,407.6h0M380.1,409.1h0M382.8,416.5h0M386.9,407h0M394.5,409.8h0M409.9,448.3h0M414.8,407.8h0M379.2,424.7h0M402.2,408.5h0M378.8,420h0" stroke="#783048"/><path d="M384.5,403.9h0M382.5,414.4h0M383.5,413.8h0M378.5,419.6h0M386.8,412.1h0M383.8,404.6h0M385.8,416.3h0M381.5,422h0M383.8,416.1h0M390.1,405.1h0M379.9,415.6h0M380.3,407.9h0M383.9,415.2h0M380.6,415.4h0M383.1,415h0M386.9,407.2h0M383.5,409.7h0M388.8,405.1h0M392,404.8h0M383,416.1h0M382.4,412.2h0M390.4,405h0M383.2,414.5h0M385.5,410h0M383.6,417.2h0M398.5,404.6h0M393.8,404.3h0M380.9,414h0M379,417.7h0M385.4,406.9h0M379.2,412.7h0M384.9,412.1h0M386.6,417.4h0M382.9,417h0M378.1,409.3h0M381.9,406.6h0M379.6,407.8h0M386.7,413.6h0M382.2,411.5h0M398,406.6h0M385.6,413.5h0" stroke="#783090"/><path d="M396.1,438.5h0M413.4,434.7h0" stroke="#f03078"/><path d="M412.5,409.3h0M404.2,412.3h0M400.9,426.2h0M405.2,420.5h0M392.6,404.5h0M404.7,416.8h0M395.1,413.1h0M403.4,415.2h0M378.8,424.1h0M377.7,420.3h0M383.7,417.4h0M391.7,409.8h0M395,429h0M417.6,447.7h0" stroke="#601860"/><path d="M400.8,414.5h0M382.1,413.4h0M422.5,426.8h0M384.3,407.8h0M389.6,402.7h0M378.6,415.6h0M381.1,411.1h0M402.5,408.6h0M389.7,413.3h0M384.5,414h0M397.3,402.3h0M406.2,404.9h0M378.5,409.7h0M385.1,412.3h0M381.3,414h0M380.3,409.5h0M390.4,404.4h0M401.4,422.3h0M407.8,406.3h0M394.4,423.2h0M392,409.5h0M390.9,405.3h0M382.1,416.2h0M382.8,416h0M382.3,410.1h0M398.2,404.8h0M385.5,410.7h0M396.3,420.3h0M389.4,406.7h0M401.8,417.8h0M377.8,419.7h0M391.9,410.5h0M392.5,417.4h0M418.5,408.4h0M386.1,404.8h0M386.3,413.7h0M389.9,434h0M388.5,431.5h0M383.2,404.3h0M403,421.1h0M399.3,401.7h0M386.3,423.8h0M408.8,447.1h0M412.4,405.8h0M379.9,405.8h0M407.3,406.5h0M417.1,447.4h0M387.1,411h0M381.5,412.9h0M382.6,404.7h0M398.8,409.8h0M399.8,404.5h0M399.4,430.1h0M386.7,425.8h0M391.1,434.4h0M394.3,402.1h0M426.9,439.6h0M416.3,444.6h0M382.2,410.3h0M403.1,411.4h0M398.6,404.6h0M384.4,424.4h0M414.6,411.6h0M391.4,428h0M384.2,421.4h0M384.8,422.6h0M389.4,405.9h0M386.3,412.5h0M392.4,409.8h0M413.7,427.8h0M383.8,417.9h0M385.3,405.1h0M415.3,425.9h0M393.6,405.8h0M391.9,406.8h0M402.2,418.5h0M407.4,423.6h0M391.3,404.9h0M386.3,426.8h0M423.3,445.1h0M395.4,404.1h0" stroke="#603048"/><path d="M389.3,419.2h0M420.9,426.3h0M413.2,419.2h0M384.7,424.3h0M391,416.7h0M404.4,433h0M404.1,413.1h0M395.1,428.2h0M402.1,421.8h0M411.3,441.9h0M401.5,409.1h0M422.2,433.1h0M392.6,403.7h0M411.7,426.7h0M397.4,439.5h0M415.6,442.8h0M413.2,445.5h0M423.9,443.3h0M404.7,438.8h0M410.3,416.2h0M408.4,444.2h0M403.1,412.8h0M412.4,422.2h0M383.4,403.9h0M408.5,410.5h0M421.7,438.6h0M402.3,434.4h0M413.2,423.4h0M412.3,438.7h0M406.4,417h0M415.7,435.4h0M394.2,428.1h0M414.9,438.9h0M378.2,420.5h0M394,430.8h0M388.8,429.6h0M413.7,438.7h0M413.9,431.1h0M395.7,434.3h0M423.8,444.7h0M406.8,443.4h0M393.6,431.2h0M411.3,414.1h0M420.4,414.6h0M410.2,447.2h0M410.3,422.5h0M402.4,434.1h0M406,406.3h0M411.5,409.9h0M417.9,434h0M404.3,418.9h0M411.3,443.1h0M423.8,433.7h0M395.7,423.3h0M401.8,406.9h0M411.3,416.3h0M412.1,418.3h0M393.7,441h0M417.5,409.2h0M396.8,413.5h0M395,404.7h0" stroke="#a83060"/><path d="M380,409.2h0M408.4,447h0M404.8,432.9h0M404.6,430.5h0M388.6,428.8h0M395.3,412.7h0M421.2,439.8h0M398.8,428.2h0M419.5,434h0M384.3,422.5h0M403.5,420.4h0M383,411.1h0M407.3,443.2h0M403.2,418.9h0M396.4,434.7h0M390.9,419.3h0M403.2,421.1h0M404.8,413.1h0M385.7,406.7h0M425.5,423.2h0M393.8,421.6h0M394.9,420.4h0M395.5,416.8h0M416,408h0M407,404.5h0M386,431.6h0M395.9,414.9h0M406.6,408.8h0M399.7,408.8h0M425.5,439.2h0M410.4,420.5h0M396.9,439.6h0M402.6,430.5h0M395.7,419.5h0M415.5,415.6h0M398.8,406.5h0M413.4,442.6h0M419.6,440h0M414.4,427.6h0M407.9,419.4h0M419.8,427.3h0M391.2,407.5h0M416.5,444.7h0M397.3,439.5h0M394.3,426.1h0M408.5,446.8h0M408.4,426.8h0M396.6,428.5h0M391.9,416.8h0M405.2,430.8h0M395.7,427h0M394,430.7h0M412.3,419.9h0M393.9,431.1h0M409.7,425h0M413.3,418.8h0M384.8,423.6h0M402.3,431.7h0M383.2,424.7h0M423.8,425.6h0M402.7,438.6h0M400.6,418.5h0M406.5,405.3h0M384.1,427h0M398.1,432.5h0M400.2,409h0" stroke="#a83030"/><path d="M407.5,412.2h0M377,409.3h0M400.9,403.6h0M402.7,406.2h0M387,414.1h0M405.2,411.1h0M388.9,433.6h0M389.4,403.3h0M387.2,405.6h0M379.4,410.8h0M379,415.7h0M405.5,411.3h0M381.4,413.8h0M381.5,414.3h0M391.4,403.8h0M391.2,406.9h0M399,407.3h0M401.5,425.4h0M414.2,423.1h0M412.2,415.2h0M394.9,404.5h0M407.9,444.8h0M382.1,410.8h0M379.1,407.2h0M385,416h0M427.2,428.7h0M406.6,404.5h0M383.7,414.1h0M404.7,442.3h0M383.5,409.5h0M385.6,409.6h0M400.5,428.2h0M383.7,408.9h0M393.7,412h0M386,412.7h0M377.3,417.6h0M400.7,403.8h0M395.6,407h0M379.6,423.6h0M404.1,436.9h0M396.9,412.5h0" stroke="#781830"/><path d="M383.1,406.6h0" stroke="#7830c0"/><path d="M415.8,443.3h0M390.2,422.9h0M391.3,422.6h0M429.5,437.5h0M383.1,427.1h0M399.6,412.6h0" stroke="#f04860"/><path d="M393.8,421.3h0M382.7,413.2h0M381,407.6h0M382.9,426.9h0M397.3,405h0M406.7,409.4h0M413.3,428.3h0" stroke="#600048"/><path d="M383.2,416.8h0" stroke="#901890"/><path d="M378.1,420.1h0M381.1,405.9h0M377.9,421.1h0" stroke="#6030a8"/><path d="M379.3,414.4h0M377.7,419.5h0M394,409.3h0M392.4,411.5h0M378.3,410.6h0M377.1,414.3h0M383.4,412.2h0M377.7,410.4h0M384.2,406.6h0M399.7,401.9h0M383.2,406.8h0" stroke="#7848a8"/><path d="M412.4,406.2h0M381.8,416.5h0M380,416.2h0M390.9,426.9h0M403.4,415.3h0M389.2,421.6h0M387.8,411.4h0M382.5,415.9h0M391.4,416.7h0M411.3,407.9h0M401.1,402.8h0M391.6,407.4h0M387.1,431.8h0" stroke="#901848"/><path d="M388.6,427.5h0M419.3,416.5h0M390,430.6h0M411.3,425.3h0M396,420.7h0M425.7,441.2h0M408.6,409.4h0M422.3,426.9h0M413.5,434.7h0M422,427.6h0M420.6,433.1h0M408.9,444.1h0M406,424.8h0M399.2,440.5h0M407.3,432.6h0M414.1,428.5h0M416.3,408.2h0M409.8,425.6h0M384.6,424.2h0M406.2,445.6h0M397.2,435.1h0M397.1,444.1h0" stroke="#c03078"/><path d="M418.9,409.2h0M379.7,417.3h0M393.2,413.3h0M390.3,401.9h0M407.9,447.2h0" stroke="#604848"/><path d="M403.3,411.9h0M391.5,437.1h0M423.9,445.1h0M393.7,428.6h0M406.1,425h0M417.5,442.2h0M418.3,438.3h0M421.4,426.2h0M414.3,423h0M403.2,441.5h0M402,425.9h0M428.7,441h0M426.6,422.5h0M405,418.2h0M416.8,443.4h0M406.6,448.1h0M410.9,404.5h0M408.6,412.8h0M415.5,428.4h0M405.4,421.5h0M413.8,424h0M402.7,423.1h0M392.1,419.6h0M418,432.5h0M420,424.5h0M402.9,432.5h0M399.4,438.6h0M411.8,405h0M400.9,435.5h0M409.9,420.3h0M410.8,441.1h0M414.2,415.2h0M424.4,434.8h0M413.6,426.6h0M424.3,441.4h0M407.1,438.2h0M424.7,438h0M417.3,414.3h0M409.1,410.3h0M394.5,437.7h0M393.4,417.7h0M414.3,448.4h0M411.7,418.7h0M406.9,431.7h0M424.5,417.5h0M419,440.8h0M418.3,408.1h0M424,425.4h0M412.8,437.9h0M396,437.1h0M420.5,440.8h0M419.8,424.4h0M414.7,406.1h0M422.4,445.6h0M421.9,433.5h0M414.7,447.7h0M411.6,425h0M398.6,409h0M404.8,425.3h0M411,434.1h0M404.3,404.2h0" stroke="#d84860"/><path d="M385.7,407.3h0M410.8,426.6h0M403.1,402.7h0M420.5,427.6h0M393.4,404.1h0M378.8,421.2h0M393.5,411h0M386.6,406.5h0M415.3,441.4h0M386.1,407h0M422.3,417.9h0M399.8,429.6h0M416.8,433.5h0M406.9,429.6h0M396.2,402.4h0M386.1,410.9h0M401.1,415.7h0M409,411h0M383.9,415.7h0" stroke="#601830"/><path d="M380.1,411.5h0M391.8,406.1h0M406,405h0M398.5,402.1h0M384.5,415.3h0M394.8,414.3h0M416.4,417h0M385.3,405.9h0M426.5,435.7h0M403.1,411.1h0M390.4,429.4h0M390.5,424.4h0M382.8,420h0M417.1,443.8h0M383.7,406.2h0M413.8,408.1h0M415.2,408.8h0M385.7,414.9h0" stroke="#781860"/><path d="M382.5,406.1h0M379.5,411.3h0M382.1,412.4h0M411.5,425.6h0M376.9,415.7h0M389.7,415.7h0M380.3,405.8h0M392.3,408.6h0M401.7,447.2h0M381.2,414.1h0" stroke="#603060"/><path d="M397,445.7h0" stroke="#f01878"/><path d="M406.9,433h0M395.7,418.3h0M413.8,435.6h0M395.6,402.7h0M399.2,413.6h0M414.7,417h0M413.4,410.4h0M385.9,420.8h0M428.8,428.3h0M378.1,410h0M410.9,411.2h0" stroke="#c04830"/><path d="M409.6,405.8h0" stroke="#784860"/><path d="M400.5,410.1h0M400.9,409.8h0M407,441.4h0" stroke="#a84860"/><path d="M412.2,404.9h0M402.3,422.3h0M412.9,437.6h0M419.8,441.4h0M386.1,408.7h0M394.8,419.9h0M418,418.2h0M421.9,445.9h0M398.8,446.6h0M384.6,421.2h0M395.1,419.3h0M411.6,405.2h0M398.4,407.8h0M423.9,433.3h0M424.6,430.2h0M392.4,422.8h0M394.7,435.8h0M414.2,442.9h0" stroke="#c00048"/><path d="M415.6,425.1h0M428.8,432.5h0M395.2,418.2h0M395.2,435.6h0M392.3,440.3h0M414.7,426.3h0M429.5,431.5h0M418,410.4h0M384,428.1h0M422,443.3h0M421.7,415.4h0M407.3,405.7h0M417.2,434.2h0M398.3,422.4h0M415.1,418.3h0M396.2,436.4h0M405.2,434h0M402.6,423.7h0M387.1,406.1h0M398.3,405.2h0M404.8,404.7h0" stroke="#d81830"/><path d="M380.1,407.7h0M417.7,448.3h0" stroke="#901830"/><path d="M408.4,428.2h0M379.4,415.6h0M385.8,411.5h0M391.6,408.7h0M387,412.4h0M387.2,436.1h0" stroke="#780048"/><path d="M422.7,438.4h0M412.8,437h0M400.5,413.8h0M390.7,423.8h0M392.7,429.1h0M391,420.6h0M400.5,436.4h0M418.6,428.2h0M391.3,419.9h0M420.8,444.6h0M405.5,429h0M399.3,446.3h0M425.8,435.1h0M385.4,411.7h0" stroke="#d84848"/><path d="M402.1,420.2h0M409.7,417.1h0M412.5,416.7h0M425.2,444.6h0M398.8,412.1h0" stroke="#c00030"/><path d="M381.2,413.6h0M393.5,408.2h0M401,423.4h0M418.1,447.3h0M395.5,403.2h0M390.1,430.3h0M408.3,410.9h0M396,412.4h0M386.6,427h0M381.8,406h0M389.5,403.1h0M397.8,402.6h0M388.2,431.3h0M404.1,444h0M384.9,404.4h0" stroke="#903048"/><path d="M382.6,410.9h0M390.4,410.8h0" stroke="#481830"/><path d="M399,410.2h0M387.6,406.1h0" stroke="#903030"/><path d="M399.2,422.6h0M387.1,403.6h0M419.9,408.8h0M386.1,405.6h0M392.4,407.1h0M376.6,418.4h0M385.8,410.1h0M402.7,420.8h0M417.3,409.4h0M385.3,428.2h0M403,402.3h0M427.2,437.9h0M392.3,408.1h0M413.6,415.9h0M400,403.2h0M403.6,437.5h0M411.5,440.9h0M384.7,409.9h0M379,413.1h0M400.2,413.3h0M417.7,428.4h0M389.5,416.4h0M399.7,418.8h0M411.8,429.6h0" stroke="#603030"/><path d="M425.5,445h0M423.9,431.6h0M387.9,434.9h0M421.5,415h0M429.7,435.2h0M423.2,425.8h0M394,440.1h0M403.3,428.8h0M403.1,448.5h0M397.9,446h0M403.4,447.6h0M418.6,429.2h0M419.4,439.7h0M415.1,417.5h0M415.2,442.2h0M403.8,447.1h0M423.9,436.1h0M405.7,425.5h0M384.8,426.5h0M415.7,442.3h0M425.8,419.6h0" stroke="#c04878"/><path d="M405.6,431.6h0" stroke="#780030"/><path d="M418.5,427.4h0M378.3,407.7h0M389,411.7h0M382.6,404h0" stroke="#903060"/><path d="M398.3,414.1h0M389.7,403.4h0M414.1,420h0M402.9,421.1h0M390.4,402.4h0" stroke="#c00060"/><path d="M392.7,409.5h0" stroke="#904878"/><path d="M419.4,418.3h0" stroke="#c03090"/><path d="M391,413.2h0M383.5,414.7h0M383.8,404.8h0M383.3,404.5h0M385.3,414h0M400.9,404h0M382.4,420.6h0M382.7,418.7h0M387.9,406h0M380.8,407.2h0" stroke="#7830a8"/><path d="M379.9,404.8h0M398.2,406.5h0M398.6,409.8h0M393.7,424.2h0M390,407.7h0" stroke="#481848"/><path d="M390.7,404.3h0M376,414h0" stroke="#9048a8"/><path d="M417,434.1h0M414.4,412.1h0M406.2,406h0M407,405.2h0M421.9,438.5h0" stroke="#f03060"/><path d="M426.1,421.3h0" stroke="#a83078"/><path d="M380.1,409.2h0M385.3,414.8h0M378.4,421.3h0" stroke="#6048a8"/><path d="M426.6,427.6h0M395.7,443.5h0" stroke="#d81878"/><path d="M388.2,431.7h0M418.3,448.2h0" stroke="#a80060"/><path d="M417.3,435.2h0M410.9,413.1h0M398.9,428.9h0" stroke="#c03018"/><path d="M414.2,446.8h0M407.1,403.9h0" stroke="#a80030"/><path d="M384.6,414.2h0M383.8,406.7h0M386.7,414.5h0M390.1,411.5h0" stroke="#9030a8"/><path d="M421.1,432.6h0" stroke="#f01848"/><path d="M377.8,413.3h0M384.1,415.8h0" stroke="#781890"/><path d="M379.9,415.9h0M389.7,402.8h0" stroke="#604890"/><path d="M384.3,408.7h0M399.2,404.1h0M388.5,415.7h0" stroke="#7818a8"/><path d="M415.5,426.7h0" stroke="#c06078"/><path d="M383,414.6h0M390.9,406.8h0M379.4,410.7h0M376.5,414.9h0M389,412.2h0M380.6,416.8h0M379.9,406.9h0M389.5,402.5h0" stroke="#603090"/><path d="M387.9,433h0M400.8,403.9h0M411.2,410.2h0M375.8,413.6h0" stroke="#901860"/><path d="M379.6,416.5h0M379.7,412.6h0" stroke="#784878"/><path d="M379.8,405.2h0M403.7,411.6h0" stroke="#600060"/><path d="M423.4,428.5h0M417.6,437.5h0" stroke="#c06060"/><path d="M381.8,413.4h0" stroke="#600030"/><path d="M380.8,405.7h0M399,406h0M379.3,423.2h0" stroke="#904890"/><path d="M421.8,444.3h0M403.1,446.8h0M419.5,408.5h0M385.6,431.4h0" stroke="#f04878"/><path d="M406.9,408.7h0" stroke="#d80030"/><path d="M425.3,438.2h0M376.9,414.7h0" stroke="#483048"/><path d="M380.8,410.2h0" stroke="#9030c0"/><path d="M378.5,415.1h0" stroke="#7848c0"/><path d="M426.6,442.3h0M379.7,410.5h0M402.5,443.3h0M382.1,408.7h0M379.8,412.2h0M400.5,420.8h0" stroke="#a80048"/><path d="M411.3,433.6h0" stroke="#d86048"/><path d="M399.3,439.2h0" stroke="#d86090"/><path d="M415.1,440.9h0" stroke="#f03048"/><path d="M399.7,410.9h0M399.6,407.4h0" stroke="#784830"/><path d="M395.2,419.6h0M394.5,407.8h0M386.4,429.2h0" stroke="#784848"/><path d="M393.4,404.8h0M386.6,406.4h0" stroke="#903078"/><path d="M391.1,410.6h0M398,406.1h0M382.2,417.3h0M387,408.2h0M378.6,408.8h0M381.9,417.3h0M384.1,416h0" stroke="#903090"/><path d="M381.8,413.6h0" stroke="#604830"/><path d="M407,405.3h0" stroke="#a81878"/><path d="M395,428.9h0M396.5,424.5h0" stroke="#a84830"/><path d="M409,422.6h0" stroke="#d86060"/><path d="M404.6,408.6h0" stroke="#904848"/><path d="M420,438.6h0" stroke="#d80048"/><path d="M386.6,433.2h0" stroke="#900030"/><path d="M390.8,408h0" stroke="#601878"/><path d="M386.9,403.3h0" stroke="#783078"/><path d="M413.2,444.9h0" stroke="#d86078"/><path d="M403.1,413.3h0M381.5,408.8h0" stroke="#603078"/><path d="M408.5,420.1h0" stroke="#c01878"/>
<path d="M363.9,419.5h0M363.6,417.8h0M364.5,417.2h0M363.6,417.3h0M363.5,417.5h0" stroke="#783090"/><path d="M365.5,418.3h0" stroke="#784890"/><path d="M363.3,418.5h0" stroke="#c01848"/><path d="M364.3,418h0" stroke="#c03048"/><path d="M365.4,417.6h0" stroke="#d81848"/><path d="M364.2,417.5h0" stroke="#603090"/>
<path d="M381.2,435.9h0" stroke="#180030"/><path d="M379.9,435.1h0M381.8,435.7h0M379.9,435.8h0" stroke="#181818"/><path d="M380,434.3h0" stroke="#180018"/><path d="M380.7,435.3h0" stroke="#183030"/><path d="M380,435.5h0M381.1,435.4h0" stroke="#601848"/>
<path d="M378.6,449.6h0M392.3,451.7h0M382.7,445.8h0M385.6,453h0M392.3,450.7h0M369.5,432.2h0M383.5,449.3h0M366.1,435.1h0M375.9,445.1h0M383.5,455h0M374.5,445h0M386.8,457.6h0M385.3,455.6h0M379.3,449.5h0M364.2,435.9h0M383.9,452.7h0M379.8,452.1h0" stroke="#3030a8"/><path d="M379.7,454.9h0M378.6,450.4h0M378.6,453h0M385,444.2h0M389.9,453.8h0M387.4,449.3h0M377.3,453.7h0M387.1,456.1h0M376,439.5h0M383.2,457.5h0M378,441.5h0M367.8,445.1h0M363.1,430.1h0M380.4,451h0M364.6,433.4h0M388.1,455.6h0M366.1,429.8h0M388.6,447.2h0M372.8,447.1h0" stroke="#7830a8"/><path d="M367,441.6h0M377.1,448h0M366.4,432.9h0M362.1,434.1h0M368.9,436h0M385.4,443.6h0M370.5,444.2h0M376.8,448.9h0M371.5,438.4h0M365.6,432.8h0M372,437.1h0M366.7,439.4h0M366.1,429.8h0M371.7,432.4h0M375.2,449.4h0M367.9,442.6h0M365.3,436.2h0M379.7,440.8h0M375.4,448.3h0M377.4,448.4h0M367.5,430.4h0M379.6,440.3h0M366.5,433.9h0M366.4,430h0M366.4,443.1h0M365.6,440.9h0M385.4,458.7h0M368,431.4h0M384.3,454.2h0M365.2,438h0M381.2,446h0M383.8,442.5h0M366.2,438.6h0M366.4,436.4h0M370.4,445.3h0M375.4,438.4h0M372.7,448.1h0M378.8,440.4h0M371,442.9h0M375.7,440.2h0M369.9,435.8h0M364.5,436.3h0M381.1,441.3h0M378.7,443.7h0M373.2,448.4h0M364.8,439.6h0M377.6,438.6h0M371.2,442.8h0M375,439.4h0M374.4,435.5h0M376.2,447.1h0M373.5,447.1h0M367,435.3h0M373.3,449.1h0M370,445.7h0M366.3,442.1h0M367.4,436.2h0" stroke="#c03048"/><path d="M379.3,447.8h0M385.4,447.6h0M381,451.5h0M382.4,455h0M379.1,451.1h0M383.9,454.1h0M382,455.5h0M366.9,437.7h0M388.5,446.1h0M382.6,452.9h0M387.5,457h0M388.3,458h0M388.6,446.9h0M366.7,440.1h0M366.8,441.5h0M377.3,448.1h0M393.8,456.4h0M388.8,449.2h0M390.1,448.6h0M384.7,458.1h0M388.4,457.4h0M384.7,455.7h0M389.6,448.9h0M377.8,447.2h0M394.1,453.5h0M383.8,447.3h0M388.5,451.2h0M385.9,458.8h0M388.7,450h0M385.5,453.1h0M387.6,455.7h0M378.4,454.6h0M389.5,459.8h0M380.5,455.9h0M384.2,452.8h0M386.4,448.2h0M370.5,435.9h0M375.6,452.5h0M385.3,446.1h0M378.4,453h0M387,445.3h0M387.2,453.4h0M387,457.8h0M391.1,449.5h0M385.5,448.6h0M365.3,433.6h0M378.3,448.3h0M385.6,452.7h0M383.5,453h0M379,453.8h0M383.8,451.9h0M384,443.3h0M375.2,446h0M381.4,451.6h0M379.2,453.5h0M364.7,438.3h0M385.7,454.5h0M388.6,450h0M380.8,444.7h0M384.4,451.7h0M378.5,452.7h0M369.9,438.9h0M387.1,447.6h0M387.4,447.8h0M390.3,455h0M377.6,446.2h0" stroke="#4830a8"/><path d="M372,449.2h0" stroke="#d86060"/><path d="M386.9,456.8h0M375.8,451h0M388.5,454.3h0M371.2,435.5h0M376.9,441.5h0M384.1,455.8h0M387.5,456.7h0M387.3,444.9h0" stroke="#3030c0"/><path d="M381.7,445.4h0M375.3,446.1h0M379.6,443.2h0M380.1,448.6h0M390.3,449.6h0M387.4,453.4h0M365,436.9h0M375.5,439h0M388.1,448.4h0M365.9,432.4h0M384.1,454.4h0M384.1,444.2h0M375.4,446h0M384.3,451h0M374.1,439.2h0M391.9,452.7h0" stroke="#603090"/><path d="M370.2,438.7h0M363.1,437.1h0M370.3,445.8h0M369.1,444.8h0M375.2,439.5h0M374.1,438.2h0M382.9,451.2h0M377.6,444.4h0M370.3,446h0M380.2,442.3h0M376.9,437.1h0M389.9,449h0M372.2,438.3h0M371.6,432.7h0M378.3,437.8h0M375.8,445.3h0M364.7,429.8h0M367,444.2h0M374.2,445.5h0M370.4,440.6h0M389.1,456h0M380,439.8h0M377.9,452.9h0M374.2,441h0M373.7,445.4h0M367.6,436.9h0M374.3,449.1h0M376.9,439.2h0M378.4,453.7h0M365.3,435.2h0" stroke="#c03060"/><path d="M371.6,436.9h0M369.8,431.2h0M373.8,442.5h0M362.4,436.5h0M368.9,443.1h0M382.5,445.2h0M368,436.6h0M371,442h0M367.6,444.6h0M367,431.3h0M372,436.6h0M372.7,448.1h0M367.5,431.8h0M377.2,446.1h0M362.7,434.1h0M377.4,444.5h0M367,430.6h0M371,447.2h0M383.2,441.5h0M366.1,440.5h0M371,440.5h0M368.1,435.5h0M376.1,439.2h0M370.9,436.4h0M376.8,447.7h0M379.2,438.7h0M376.4,439.8h0M384.9,452.5h0M379.7,442h0M375.2,442.3h0M362.2,435.8h0M365.1,438.5h0M374.5,439.9h0M388.3,450.6h0M374.2,445.4h0M362.3,432.4h0" stroke="#c01848"/><path d="M380.3,444.2h0M371.9,448.5h0M376.3,440.5h0M380.7,441.8h0M375.6,447.7h0M376.8,437.1h0M378.4,439.7h0M369,445.3h0" stroke="#c04860"/><path d="M376.2,439.3h0M361.6,433.7h0M384.7,447.3h0M379.3,443.8h0M366.9,437.7h0M373.7,438.7h0M371.9,435h0M366,435.5h0" stroke="#a81848"/><path d="M380.8,456h0M366.9,435.9h0" stroke="#786090"/><path d="M373.2,446.9h0M388.5,454.5h0M375.9,441.7h0M389.8,454.1h0M372,446.2h0M383.3,446.7h0M385.2,447.3h0M365.8,438.5h0M380.2,446.3h0M382,440.6h0M391.1,452.8h0M389.9,454.4h0M384.8,453.1h0M366.6,442.9h0M371.7,438.7h0M368.8,436.4h0M374.3,447.4h0" stroke="#6048a8"/><path d="M387.9,446.9h0M371.3,435.1h0M373.7,440.2h0M371.6,439.2h0M385.4,444.5h0M385.1,456.4h0M378.7,453h0M387.8,451.9h0M384.9,458.7h0M383.2,455h0M392.4,457.9h0M368.2,430.2h0" stroke="#6030c0"/><path d="M380.3,447.7h0M394.3,456.6h0M387.4,449.8h0M390.2,459.2h0M384.3,455.1h0M386.4,458.7h0" stroke="#181860"/><path d="M376,438.6h0M363.4,437.4h0M365.6,435.1h0M379.4,450.7h0M380.3,448.8h0M375.2,437.4h0M378.1,449.1h0M364.6,439.2h0M371.1,443.7h0M388,446.7h0M377.2,449.1h0M388.7,453.9h0M369.3,434.9h0M384.7,444.3h0M362.9,430.2h0M386,454.4h0" stroke="#7848a8"/><path d="M386.3,446.7h0M370.6,432.6h0M390.7,448.6h0" stroke="#3048c0"/><path d="M367.4,443.7h0M376.5,446.1h0" stroke="#d83030"/><path d="M367.3,429.8h0M365.3,432.8h0M370.7,439h0M377.4,439.6h0M365.7,437.3h0M364.4,435.6h0M364.2,430.4h0M364,436.2h0M377,439.9h0M378.9,438.3h0M367.3,431.7h0M368.6,434.5h0M369.1,443.8h0M383.7,457.4h0M364.1,437.3h0M368.6,444.3h0M376,449.4h0M383.5,444.6h0M377.2,447.4h0M364.3,429.6h0M376.2,446h0M370.5,446.7h0M376.8,443.6h0M389.5,450.9h0M370.8,442.6h0M375.4,437.1h0M379,441.4h0M371.9,444.3h0M366.8,430.1h0M364.7,438.2h0" stroke="#d83048"/><path d="M362.3,430.9h0M380.4,444.2h0M369.8,437.1h0M366.8,442.3h0M373.4,449.9h0M370.6,445.3h0M377.7,438.9h0M366,429.6h0M366.2,432.5h0M387.9,451.1h0M373.8,447.1h0M375.1,437.7h0M382.8,451.2h0M370.9,435.9h0M386.9,451.2h0M365.8,439.3h0M377.3,451.9h0M383.9,452.2h0M362.3,433.7h0M367.1,433.3h0M373.8,437.7h0M377,437.9h0M371.6,443h0M370.7,440.4h0M368.7,435.9h0M370.1,432h0" stroke="#c01860"/><path d="M389.5,447.1h0M365.2,437.8h0M386,456.7h0M384.5,449.4h0M371.6,437.8h0M366.7,429.9h0M369.8,444.8h0" stroke="#9030a8"/><path d="M376.5,448.1h0M369.2,443.1h0M376.2,445.6h0M370.5,444.8h0M374.4,449.2h0M378.1,438.6h0" stroke="#d84878"/><path d="M384.1,444.2h0M391.5,454.7h0M382.9,448.7h0M391.8,454.4h0M384.4,444.4h0M393.2,455.8h0M377.9,452.9h0M387.2,446.7h0M388.8,451.4h0M384.4,448.3h0M390.8,459.4h0M390.1,456.1h0" stroke="#301878"/><path d="M378.9,443.2h0M379.2,438.4h0M365.5,439.3h0M370.8,443.3h0M372.9,437.8h0M373.8,440.9h0M367,437.1h0M366.7,443.7h0M375.9,439.3h0M378,442.7h0M370.4,432.6h0M377.8,443.1h0M374.5,439h0" stroke="#d83060"/><path d="M379.1,453.8h0M387.1,457h0M376.1,437.8h0M367.7,439.1h0M381.2,453h0M366.5,433.2h0M387.7,454.7h0M373.6,436h0M377.9,449.9h0M387.4,454.2h0M362.7,436.8h0M366.1,440.1h0M387.4,454.8h0M371.2,439.4h0M371.5,438.4h0M383,445.4h0M367.9,433.5h0M377.6,438.2h0M367.3,429.7h0M374.9,446.4h0M380.8,441h0M366.5,436h0M366.6,435.1h0M379,448.6h0M378,452.9h0M386.2,444.5h0M364.9,441h0M384.1,449.3h0M392.5,450h0M364.9,434h0M377.2,438.2h0M388.8,452h0M383,447.3h0M376.6,440.1h0M384.3,442.7h0M364.3,436.5h0M365.4,437.9h0M373.5,437.8h0M383,452.7h0M362.6,436.8h0M368.6,440.1h0M391.3,450h0M373.6,442.4h0M366.1,438.3h0M388.5,454.3h0M370.2,437.5h0M365.2,432.2h0M365.5,438h0M388.3,456.7h0M364.7,430.5h0M377.3,437.3h0M380.5,453.6h0M379,444.9h0" stroke="#783090"/><path d="M367.3,443.1h0M378.8,443.7h0M373.8,438.4h0M375.4,440h0M373.6,442.6h0M368.5,443.3h0M372.5,443.4h0M374.3,437.7h0M373.9,447.3h0M371.2,447.7h0" stroke="#d83078"/><path d="M388.4,458.3h0M391.6,459.4h0M392.1,457.6h0M392.6,456.5h0" stroke="#181830"/><path d="M383.1,445h0" stroke="#4860a8"/><path d="M379.5,453.1h0M392.1,451.1h0M365.8,441.9h0M387.5,448.5h0M386.5,453.4h0M379.2,449.3h0M389.9,450.5h0M391.7,450.1h0M379.9,439.2h0M379.7,451.6h0M375.8,452.2h0M381.7,448.9h0M390.3,458.9h0M388.8,446.6h0M368.9,432.8h0M382.9,455.2h0M363.7,429.7h0M380.1,454.9h0M379.3,452.3h0M376.9,447.1h0M383.2,455h0M388.2,450.4h0M388.7,454.4h0M371.1,434.8h0M372.7,445.5h0M384.6,457.2h0M392,451.7h0M369.3,444.3h0M379.4,454.3h0M375.9,451.7h0M373.7,447.9h0M365.9,429.7h0M372.9,437.2h0M388,451.1h0M389.8,448.1h0M375.7,444.6h0" stroke="#6030a8"/><path d="M370.8,433.1h0M386.7,457h0M385.3,443.6h0M379.1,453.7h0M382.9,444.8h0M364.5,434.9h0M385.2,443.4h0M384.8,444.5h0M386,456.4h0M387.7,449.4h0M389,455.6h0M387.2,451.3h0M385.8,444.2h0M390.4,447.7h0M375.6,449.3h0M382.2,444.6h0M379.4,444.6h0M390.3,450.2h0M377.3,437.2h0M384.2,442.7h0M382.4,451.5h0M374.5,436.7h0M374.8,441.6h0M388.9,456.2h0M387.5,446h0M383.3,445h0M388.1,447.7h0M364.8,437.8h0M390.4,451h0M376.7,446h0M382.4,451.7h0M364.5,429.5h0M375.8,451.6h0" stroke="#4848a8"/><path d="M392.6,457.9h0M389.3,450.1h0M388.3,452.6h0M392.2,458.9h0" stroke="#481878"/><path d="M364.5,435.4h0M380.9,440.7h0M376.3,436.4h0M364.2,436.9h0M368.5,436.1h0M367.1,431.3h0M371.4,446.5h0M376.5,444.7h0M376.6,446.6h0M379,439.1h0M388.3,454.3h0M365.8,441h0" stroke="#d81848"/><path d="M390.2,457.8h0" stroke="#301818"/><path d="M379,449.3h0M370.3,438.5h0M382.3,455.3h0M387.2,455.1h0M387,450h0M367.9,435.8h0M378.3,447.5h0" stroke="#4818c0"/><path d="M368,440.2h0M367.1,440.6h0M369.6,435.9h0" stroke="#9048a8"/><path d="M378.3,452.5h0M386.6,457.1h0M379.5,448h0M382.2,445.7h0M384.5,445h0M386.3,456.8h0M377.8,448.6h0M370.1,438.1h0M364.8,430.4h0M382.9,444.4h0M383.9,455h0M387.4,456.7h0M381.1,446.5h0M387.9,455.2h0M380.7,451.9h0M377.6,449.1h0M362.8,434.2h0M389.5,451.2h0M389.5,456h0M383.4,447.9h0" stroke="#4830c0"/><path d="M383.3,454.1h0M379.4,454h0M392.7,453.6h0" stroke="#181878"/><path d="M371.6,436h0M389.2,449.9h0" stroke="#604878"/><path d="M385.9,449.6h0M364.4,440.3h0M386.7,447h0M391.2,457.9h0M368.3,440h0M382.9,456.8h0M387.3,446.9h0" stroke="#781890"/><path d="M374.8,451.9h0M379.2,447.3h0M384.2,451.5h0M374.2,441.8h0M384.2,444.2h0M385,458.8h0M363.5,437.1h0M369.8,440.9h0M382.6,443.8h0M370,436.9h0M363.6,436.7h0M378.1,445.1h0M375.9,451.5h0M383.1,447.8h0M363,436.3h0M375.6,444.1h0M380,452.9h0M369.3,438.3h0M376.2,444.4h0M372,434.8h0M372.5,439h0M363.6,437.9h0M378.9,445.4h0M384.1,456h0M385.7,458.7h0M385.1,443.9h0M367.6,444.5h0M364.1,429.9h0M375.9,437.3h0M378.9,439.6h0" stroke="#784890"/><path d="M377.6,449.3h0" stroke="#183060"/><path d="M367.8,430.8h0M377.7,447.5h0M386.3,454.9h0M380,445.4h0M388.7,455.8h0M369.5,439.9h0M372.5,447.9h0M378.1,446.8h0" stroke="#604890"/><path d="M371.8,439h0M379.8,445.7h0M373.7,447.3h0M368.3,437.2h0M367.9,444.7h0M380.2,440.7h0M378.3,441.3h0M376,437.4h0M371.3,448.1h0M379.3,442.3h0M375.6,444.3h0M376.5,437.1h0" stroke="#d84860"/><path d="M370.7,442.7h0M371.2,435.4h0M374.3,445.6h0M374.6,448.7h0" stroke="#c04848"/><path d="M373.9,449.6h0M380.7,451.4h0M387.6,459.5h0M385.3,458.3h0" stroke="#303090"/><path d="M378.2,447.6h0M378.3,445.3h0M365.5,440.9h0M372.6,447.8h0M374.1,448.2h0M373.1,449.1h0M365.5,437.7h0" stroke="#c03030"/><path d="M385.1,449.3h0M389.6,447.1h0M387.8,445.9h0M385.1,447.9h0M385.4,452.9h0M393.5,453.6h0M367.7,437h0M386.4,450.2h0M366.4,434.3h0M369.3,436.1h0M387.5,456.8h0M385.4,454.1h0M387.5,450.4h0M366.3,442.4h0M392.1,457.2h0" stroke="#4848c0"/><path d="M372.5,448.2h0M362.6,433.2h0M364.1,433.5h0" stroke="#784878"/><path d="M386.5,458.9h0M391.5,457.7h0" stroke="#301830"/><path d="M389.2,450.2h0M383.9,453.4h0M388.2,454.6h0M382.2,456.1h0M379.9,452.3h0" stroke="#4818a8"/><path d="M390.9,459.2h0M392.1,460.1h0M390.6,453.8h0M393.2,458.2h0M390.3,458h0M389.1,453.8h0M383.6,448.9h0M391.4,456.1h0M386.5,459.2h0M382.3,446.4h0M391.7,451.7h0M378.3,451.8h0M385.9,449.9h0" stroke="#301860"/><path d="M367.4,436.6h0M362.2,435.1h0M382.2,456h0M370.6,438.6h0M368.7,444.6h0M366.4,439.4h0M383.4,451.8h0M381.4,449.5h0M386.1,456.8h0" stroke="#904890"/><path d="M389.9,459.2h0M392.7,454.7h0" stroke="#180018"/><path d="M392,455.7h0M363.1,435.5h0M380.1,451.3h0M388.6,457.6h0M376.8,449.2h0M373.9,439.6h0M392.5,456.1h0M374.7,449.4h0" stroke="#483090"/><path d="M388.7,458.9h0M394.7,457.2h0M393.6,453.6h0M388.3,450.7h0M384.7,453.9h0" stroke="#303060"/><path d="M379.9,448.8h0M387.3,446.8h0M380.9,454.3h0" stroke="#3048a8"/><path d="M363.7,436.8h0M367.9,430.5h0M368.6,430.6h0M368.7,440.9h0" stroke="#783048"/><path d="M390.6,460.3h0M383.5,446.8h0" stroke="#300078"/><path d="M377.7,437.3h0M379,454.4h0M369.9,434.4h0M364.2,437.5h0M383.7,444.5h0M372.8,447.5h0M391.1,451h0M384.6,446.6h0" stroke="#783078"/><path d="M366.3,440.7h0" stroke="#781860"/><path d="M371.9,439.7h0M368.2,436.4h0M380.2,443.8h0" stroke="#c01830"/><path d="M386.7,459.4h0" stroke="#183030"/><path d="M378.2,441.4h0M362.9,435.6h0M366.1,440.2h0M378.5,442h0M383.1,443.9h0M367.7,432.9h0M386.1,448.2h0M373.9,446.5h0" stroke="#903090"/><path d="M389.7,455.5h0M390.6,449.1h0M379.7,447.4h0M386.8,454.9h0M384.8,451.8h0M377.6,452.6h0M391.4,454.6h0" stroke="#183078"/><path d="M371.7,442.5h0" stroke="#c04890"/><path d="M364.8,436h0M375.1,445.7h0M377.9,453.9h0M365.1,434.5h0M372,446.8h0M374.9,449.3h0M366.3,437h0M380.2,444.2h0" stroke="#a83048"/><path d="M391.7,458.4h0M387.8,457.9h0" stroke="#300060"/><path d="M367.8,435.9h0M377.9,437.7h0M369.2,436h0" stroke="#a81860"/><path d="M371,435.4h0M379.4,454.5h0M382.9,444.5h0M384.3,456h0M392.3,450.1h0M379.4,449h0M385.8,444.9h0" stroke="#484890"/><path d="M378.6,438.3h0M373.2,441.4h0M373.3,446.9h0M375,437.4h0M375.3,443.3h0M388,451h0M376.1,446.5h0M363.8,435.5h0M364.9,438h0" stroke="#d81860"/><path d="M376.4,447.5h0M375.7,439.1h0M367.7,444.4h0M376.5,448.9h0M370,442h0M378.3,444.1h0M378.4,445.3h0" stroke="#c03078"/><path d="M367.3,433h0M371.1,435.7h0" stroke="#783030"/><path d="M384.6,447.7h0M390.2,460.3h0M381.4,445.5h0M388.2,457.5h0M385.5,451.9h0M390.9,459.3h0M392.6,456.2h0M388.2,457.5h0" stroke="#303078"/><path d="M387,455.5h0" stroke="#4830d8"/><path d="M392.6,457.9h0M392.8,454h0" stroke="#001818"/><path d="M361.9,434.1h0M367,432.2h0M378.5,443h0" stroke="#901890"/><path d="M384.7,452.3h0M387.3,458.1h0M389.8,455.7h0" stroke="#483078"/><path d="M377.9,450.6h0" stroke="#603078"/><path d="M390.8,457.5h0M367.4,432.4h0M376.3,440.2h0M383.9,445.3h0M385.5,453h0M369.6,446.7h0" stroke="#6018a8"/><path d="M368.4,438.7h0M362.4,436.1h0M366.2,436.5h0" stroke="#781848"/><path d="M373.8,447h0" stroke="#f04848"/><path d="M375.7,439.2h0M372.7,448.7h0" stroke="#f04860"/><path d="M375.5,441.7h0" stroke="#c06048"/><path d="M370.4,435.7h0" stroke="#601890"/><path d="M380.3,443.7h0" stroke="#d84848"/><path d="M381.6,447.4h0" stroke="#7830c0"/><path d="M370.9,437.2h0M367.2,440.7h0" stroke="#780048"/><path d="M387.4,459.7h0M391,457.1h0M391.2,460.3h0M390.5,456.7h0" stroke="#181818"/><path d="M387.8,446.6h0" stroke="#d81830"/><path d="M373.5,435h0M365.7,431.5h0" stroke="#781830"/><path d="M389,456.6h0" stroke="#001830"/><path d="M364.6,437h0" stroke="#903030"/><path d="M378.2,441.7h0M387.8,446.7h0M371.6,443.8h0" stroke="#481890"/><path d="M391.6,457.1h0" stroke="#303018"/><path d="M390,447.1h0" stroke="#180090"/><path d="M371.3,447.6h0M375,440.1h0" stroke="#d86078"/><path d="M370.3,439.1h0M370.1,437.3h0M362.2,435.7h0M366.7,431.3h0" stroke="#601848"/><path d="M366,440.1h0" stroke="#784848"/><path d="M369.6,439.7h0M370.7,432.3h0" stroke="#903078"/><path d="M379.2,448.2h0M364.6,434.5h0M376.7,453h0" stroke="#6048c0"/><path d="M369.8,440.5h0M378.1,444.1h0" stroke="#f03060"/><path d="M380.5,454.6h0" stroke="#3060a8"/><path d="M381.9,455.6h0M369.1,443.1h0" stroke="#a83030"/><path d="M377,441.1h0M377,446.2h0" stroke="#c04878"/><path d="M370.4,432.2h0M364.3,438.9h0" stroke="#603048"/><path d="M393.1,452.7h0M387.5,450.7h0" stroke="#304890"/><path d="M387.4,458.5h0" stroke="#3018a8"/><path d="M374.9,448.8h0" stroke="#606090"/><path d="M388,449h0" stroke="#304860"/><path d="M390.3,455.7h0" stroke="#304848"/><path d="M365.2,437.5h0" stroke="#604830"/><path d="M364.8,436.4h0" stroke="#9018a8"/><path d="M389.1,453.7h0" stroke="#6018c0"/><path d="M389.7,459.4h0" stroke="#003030"/><path d="M368.6,446.3h0" stroke="#a83060"/>
<path d="M409.7,463.6h0M414.3,463.9h0M405.5,466.8h0M414.1,462.5h0M402,461h0" stroke="#c03030"/><path d="M409.7,463.6h0M406.5,459.5h0M414.1,464.7h0M413.7,464.2h0" stroke="#d83048"/><path d="M398,461h0M405.9,465.6h0M405.3,465h0M402.5,459.9h0M406.6,461.1h0M407.2,464.7h0M397.2,461.1h0M413.8,463.2h0M413.9,463h0M402.7,459.5h0M408.1,465.2h0" stroke="#601848"/><path d="M402.6,457.7h0M407.1,463.7h0M399.3,460.9h0M406.2,464.6h0M402.5,466h0M405.2,460.7h0M407.2,460.6h0M404.3,458.6h0" stroke="#301878"/><path d="M406.9,463.8h0M403.1,459.4h0" stroke="#181800"/><path d="M404,460.9h0" stroke="#303018"/><path d="M405,463.9h0" stroke="#301848"/><path d="M404.4,461h0M403.2,458.5h0M404.3,461.6h0M398.2,463.6h0M409.5,465.3h0M414.2,463.4h0M401.9,457.2h0M397.7,462.8h0M405.1,459.7h0M398.4,460h0M410.8,465.6h0M398.9,465h0M410.1,465.1h0M403.9,462.3h0M407.8,463.9h0M405,458.1h0M399.2,460.7h0" stroke="#783048"/><path d="M404.7,460.5h0M397.5,464.7h0" stroke="#183060"/><path d="M408.7,463.3h0M406.2,462.6h0M405,465.4h0M405.1,458.2h0M398.8,459.1h0M400.5,466h0M411.2,466.6h0M398.8,459.4h0M404.9,464.5h0M405.1,459.3h0M405.9,461.5h0M407.2,465.3h0M403.4,467h0M402.8,462.6h0M400,467.8h0M407,465.6h0M408.3,461.3h0M412.5,466.5h0M397.8,465.2h0M411.8,465.5h0M403.8,461.7h0M397.2,460.6h0" stroke="#781848"/><path d="M400.8,466.4h0M407.5,463.5h0M397.8,460.4h0M403.1,457.3h0M397.8,463.8h0M399.2,465.5h0M404.8,465.6h0M406.1,459.7h0M404.8,461.8h0M409,466h0M414.2,462.8h0M407.1,463.3h0M399.9,461.6h0M397.5,464.7h0" stroke="#603048"/><path d="M404.7,457.9h0M398.2,460h0M398.3,466.4h0M406.5,462.7h0" stroke="#183078"/><path d="M398.4,460.8h0" stroke="#d81818"/><path d="M406.4,467.1h0M413.3,460.9h0M413.4,464.3h0M398,459.5h0" stroke="#601830"/><path d="M402.5,467.3h0M398.1,459.3h0M406.3,461.9h0M408.5,467.2h0M406.4,464.8h0" stroke="#181818"/><path d="M397.7,463.1h0M412.6,463.8h0" stroke="#d83060"/><path d="M401,464.8h0" stroke="#901860"/><path d="M407.9,460.4h0M401.9,457.2h0M403.4,459.7h0M398.8,463.5h0M410.6,465.2h0M402.9,467.2h0M406.7,463.9h0" stroke="#781830"/><path d="M402.1,465.8h0M403.7,466.2h0M407.5,462h0M399.6,467.7h0M406.9,461.3h0" stroke="#181860"/><path d="M410.4,466.7h0M413.7,465.4h0M397.5,460.8h0M406.2,460.2h0M407.1,466.8h0M404.4,459.2h0M405.6,463.9h0M405,458.4h0M399.3,459h0M414.2,462.6h0M409.8,465.8h0M403.7,457.4h0M413.2,462.9h0M398.7,460.6h0M406.7,459.3h0M413.3,461.4h0" stroke="#c03048"/><path d="M398,463.3h0M414,464.7h0M408.8,463h0M402.1,466.8h0M413.7,461.6h0M410.9,464.3h0M404.8,466.3h0M413.1,462.3h0" stroke="#c03060"/><path d="M399.4,463.9h0M405.3,461.8h0M406.2,460.2h0M404.1,463.5h0" stroke="#781860"/><path d="M402.7,466.2h0M407,466.7h0M407,465.9h0" stroke="#180078"/><path d="M402.4,466.3h0M403.8,465.9h0M404,467.4h0" stroke="#603030"/><path d="M398.9,460.7h0M414,461.8h0M398,465.8h0M413.8,461.3h0M403.9,457.7h0" stroke="#601860"/><path d="M403.7,460.4h0M407.8,466.1h0M407.7,466.3h0M402.1,462.3h0M406.4,466.7h0" stroke="#c01860"/><path d="M397.3,464.2h0M401.2,464.3h0M404.4,462.5h0" stroke="#303060"/><path d="M405.2,461.4h0M404.9,464.8h0" stroke="#783060"/><path d="M397.1,462.1h0M409,464.7h0" stroke="#301818"/><path d="M410.9,464.2h0" stroke="#c01830"/><path d="M402.6,458.8h0M408.6,466.5h0M410.4,466h0" stroke="#c01848"/><path d="M404.7,458h0M404.9,458.7h0M404.8,464.9h0M406.6,460.8h0M407.7,466.5h0M401.3,458.6h0M404.5,462.2h0" stroke="#303078"/><path d="M411.1,464.1h0" stroke="#604860"/><path d="M404.2,463.3h0M408.3,465.5h0M402.9,465.7h0M402.7,458.5h0M411.5,463.4h0M411.3,465.4h0" stroke="#d81848"/><path d="M408.1,466.7h0M406.6,461.6h0" stroke="#603060"/><path d="M406.1,466.5h0" stroke="#a81848"/><path d="M408.3,466.3h0M398.4,463.7h0M406.5,465.9h0" stroke="#181830"/><path d="M397,462.4h0M404.7,464h0" stroke="#783030"/><path d="M400.4,462.5h0" stroke="#c04860"/><path d="M400.2,461.7h0" stroke="#001800"/><path d="M402.2,467.2h0" stroke="#300078"/><path d="M405.3,459.3h0M401.1,460.6h0M397.8,463.7h0M398.4,461.5h0M400,462.9h0M404.7,466h0" stroke="#301860"/><path d="M397.5,463.6h0" stroke="#180018"/><path d="M412.6,465.4h0" stroke="#d80030"/><path d="M412.9,465.4h0M399.3,463.7h0M404.5,465h0" stroke="#a83048"/><path d="M403.3,460.6h0" stroke="#481878"/><path d="M397.6,462.4h0M399.6,467.2h0" stroke="#001818"/><path d="M405.9,460.5h0" stroke="#183030"/><path d="M404.2,460h0" stroke="#481830"/><path d="M408,460.2h0M407.9,462.4h0M399.9,464h0" stroke="#181878"/><path d="M404.8,466.5h0" stroke="#301830"/><path d="M402.7,461.5h0M404.8,462.5h0" stroke="#600048"/><path d="M404.4,464.1h0" stroke="#481848"/><path d="M406.2,463.7h0" stroke="#481860"/><path d="M402.1,466.5h0" stroke="#604830"/><path d="M406.9,467h0M406.3,464.3h0" stroke="#000018"/><path d="M404.4,462.8h0" stroke="#300090"/><path d="M407.3,459.6h0" stroke="#183018"/><path d="M413.3,463.3h0" stroke="#a81860"/><path d="M404.8,465.6h0" stroke="#d81860"/><path d="M412.7,466.2h0" stroke="#c04848"/><path d="M412.9,461.3h0" stroke="#784848"/><path d="M405.6,459.9h0" stroke="#901830"/>
<path d="M402.3,527h0M395.3,517.1h0M394.1,525.2h0M390.5,513.9h0M402.3,532.2h0" stroke="#309030"/><path d="M414.8,521.7h0M393,518.9h0M398.8,529.1h0M408.9,529h0M415.7,524.3h0M415.6,519.6h0M407,529.6h0M404.2,534.5h0M407.2,526.9h0M407.8,523h0M411.5,525.9h0M404.9,533.4h0M410.9,525.6h0M393.5,520.4h0M400.5,529.5h0M416,520.5h0M413.2,525.1h0M401.6,524.5h0M406.7,526.4h0M402.5,523.1h0M415.4,524.6h0M399.5,523.3h0M407.3,526.3h0M400.2,523.7h0M410.2,525.6h0M394.2,524.4h0M399.4,520.3h0M410.4,524.2h0M402.9,533.3h0M391.1,516.7h0M398.4,528.6h0M408.4,526.6h0M406.4,523h0M411.2,520.2h0" stroke="#489048"/><path d="M399.2,510.1h0M395.6,495.4h0M400.6,508.6h0M403.9,498.7h0M386.1,502.6h0M394.9,491.4h0M396.6,494.8h0M392.2,507.4h0M386.9,510.4h0M387.2,511.6h0M414.2,500.5h0M401.9,507.9h0M399.1,517.6h0M425.5,511.6h0" stroke="#4860a8"/><path d="M425.8,508.6h0M410.5,507h0M396.1,495.3h0M414.7,494.9h0M398.9,502.1h0M420.8,498.7h0M418,505.2h0M392.1,504.4h0M417.3,511h0M395,496h0M395,513.3h0M386.6,500.3h0M409.1,513.5h0M403.5,498.1h0M401.3,502h0M390.1,513h0M421.6,506.1h0M418.5,497.1h0M394,501.3h0M415,502.7h0M387.3,500.8h0M416.9,511.8h0M391.6,502.6h0M418.2,515.1h0M425.2,508.5h0M422.6,498.3h0M418.9,495.1h0M426.4,509.8h0M384.1,494h0M408,506.6h0M395.9,495.6h0M395.3,514.1h0M410.2,508.4h0M417.6,496.1h0M400.8,509h0M401.4,514.4h0M398.3,498.3h0M397.3,500.4h0M394.6,495.5h0M410.2,493.5h0M404.8,506.6h0M400.7,498.4h0M416.5,499.6h0M418.2,505.1h0M400.6,496.7h0M387.6,501.5h0M384.4,493h0M416.6,518.3h0M398.9,496.4h0M418.9,498.9h0M408.3,510h0M388.4,501.1h0M396.8,505.8h0M401.8,492.5h0M403.7,509.6h0M393.7,498h0M413.9,500.9h0M393,491.1h0M387.9,500.7h0M385.3,503.2h0M422.1,502.7h0M402.5,500.8h0M391.2,504.7h0M386.7,498.8h0M390.9,506.4h0M421.8,496.5h0M383.1,495.7h0M390.1,509.1h0M385,495.7h0M410,502h0M402.1,501.6h0M398.6,498.8h0M398.8,506.1h0M421.6,499.7h0M382.2,495.5h0M392.1,491.6h0M418.6,511.6h0M425.1,508.6h0M402.9,497h0M421.7,519.4h0M382.9,495.4h0M403.9,507.4h0M418.7,505.1h0M398.8,507.3h0M414.3,513.2h0M402,504h0M421.3,513.1h0M384.7,497.3h0M421.4,504.7h0M411.2,502h0M383,499.5h0M411.8,497.7h0M412.8,490.9h0M423.9,499.6h0M418.3,499h0M388.2,495h0M399.7,508.2h0M389.5,516h0M396.1,499.8h0M381.4,503.3h0M416.6,513.7h0M395.9,498h0M393.2,507h0M427.1,507.2h0M408.5,493.5h0M412.6,496.4h0M411.7,507.4h0M385.6,503.9h0M403.9,498.1h0M398.7,505.9h0M388.6,501.4h0M385.5,510.5h0M385.2,497.1h0M395.2,500.1h0M401.3,495.9h0M425.1,513.2h0M387,512.2h0M421.7,496h0M425.3,506.3h0M424.3,499.4h0M414.5,505.5h0M387.6,491.9h0M401.1,509h0M421,494.7h0M421.8,509.7h0M424.4,509.4h0M399.9,501.7h0M395.3,509.7h0M421.7,496.1h0M417.9,514.7h0M414.3,491.5h0M416.8,516.1h0M394.3,498.9h0M403.6,511.4h0M422.9,513.7h0M417.4,508.7h0M404.1,492.9h0M393.9,506.8h0M405.3,498.8h0M400.2,497.5h0M416.4,497.4h0M413.1,507.6h0M402.4,509.7h0M413.3,515.4h0M392.6,493.2h0M401.4,501.2h0M397.4,497.6h0M407.2,513.3h0M409.7,503.1h0M408.3,503.1h0M406.7,517.7h0M411.7,498.5h0M397.7,510.5h0M382.5,505.7h0M418.7,511.6h0M388.7,499.6h0M399.8,508.7h0M420.3,517h0M415.6,516.6h0M407.7,514h0M385.1,509.9h0M416.9,513.4h0M420.6,507.9h0M412.4,504.6h0M417.6,513.8h0M400.5,492.6h0M410.9,490.9h0M414.2,515.4h0M397,510.5h0M388.9,507.7h0M398,497.2h0M406.3,490.4h0M393.4,508h0M421.7,506h0M386.5,514.5h0M412.6,515.9h0M418.5,496.4h0M392.2,503.5h0M406.1,493.2h0M384.4,512.3h0M387.9,495.4h0M402.7,493.7h0M416.7,494.8h0M405.3,515.3h0M397.5,494.5h0M412.2,497h0M384.3,508.1h0M391.1,520.5h0M394.5,506.5h0M392.6,505.2h0M414.7,499.3h0M416.4,496.8h0M401.5,506.3h0M416.4,503.1h0M426.9,509.2h0M407.1,490.8h0M398.8,501h0M383.9,501.5h0M418.7,494.5h0M403.9,490.4h0M402.5,511.3h0M393.2,490.8h0M414.8,507h0M416.7,506.4h0M400.2,497.5h0M385.8,515.2h0M380.9,499.2h0M389.1,497.1h0M412,514.3h0M413.6,512.8h0M397.1,502.8h0M409.1,503.5h0M414.7,512.6h0M414.6,504.8h0M409.4,502.8h0M400,504.7h0M385.7,498.8h0M414.7,499.3h0M416.2,497.6h0M386.3,507.4h0M388,511.6h0M422.2,502.4h0M404.8,498.5h0M395.8,495.7h0M387.1,496.1h0M426.3,509.4h0M421.5,498.1h0M419.4,501.1h0M415.7,508.8h0M395.7,512.8h0M409.3,501.7h0M416.7,516.1h0M423.3,511.2h0M396.9,516.5h0M418.6,503h0M408,517.8h0M382.1,502h0M386.9,500.1h0M381.6,503.9h0M405.8,511.6h0M425.8,509.8h0M404,506.1h0M403,508.1h0M390.3,498.4h0M395.1,493.4h0M403.3,489.5h0M414.4,512.3h0M397.9,507.2h0M382.3,511.3h0M385.3,494.9h0M416,496.3h0M384.7,511.5h0M385.9,507.5h0M419.4,497.5h0M413.3,504.5h0M417.6,492.8h0M404.3,505.8h0M400.6,496.4h0M399.5,506.9h0M393.2,499.6h0M401.5,502.5h0M401,502.3h0M406.6,496.3h0M420.3,504.7h0M414,505.8h0M420.9,512.7h0M417.7,511.2h0M410.6,508.3h0M409.9,493.4h0M398.3,511.1h0M411.9,505.5h0M392.4,496.3h0M408.1,505.3h0M423.6,503.9h0M389.9,507.7h0M398.5,506.4h0M427.3,506.5h0M423.8,516.6h0M400.6,501.5h0M397.9,498.8h0M407,491h0M394.7,509.5h0M411,497.9h0M418.9,512.1h0M403,512h0M397,501h0M386.9,498.6h0M393.3,505.8h0M422.7,511h0M397.8,510.9h0M384.7,498h0M417,507.3h0M391.9,500h0M414.2,509.4h0M382.2,508.2h0M383.7,508.1h0M386.6,506.1h0M389.6,500.4h0M421.7,508.1h0" stroke="#183030"/><path d="M401.9,506.5h0M409,516.9h0M386.2,498.1h0M391.6,497.5h0M419.3,503.2h0M383.9,501h0M420.2,498.5h0M418,509.8h0M405.9,519.8h0M394.6,507.1h0M423.9,511.2h0M386.2,500.5h0M411.7,495.2h0M392.1,493.8h0M414.8,504.5h0M401.3,499.4h0M405.9,493.6h0M406.4,511.4h0M402.4,491.8h0M423,500.4h0M399,511.8h0M418.2,502.9h0M406.3,509.4h0M421.4,511.8h0M425.5,510h0M387.5,498.3h0M422.6,504.2h0M405,506.6h0M385.6,501.5h0M391.8,502h0M416.3,498.6h0M423,505.5h0M408.7,492.5h0M401.9,493.4h0M396.2,496.9h0M382.1,509.4h0M425.9,504.4h0M404.2,492.3h0M384.3,512.7h0M404.7,511.7h0M393.9,498.5h0M392.7,498.7h0M417.5,494.4h0M397.1,511.5h0M399.6,517.2h0M416.9,512.4h0M399.2,502.3h0M413.9,492.1h0M407.9,491.9h0M396.7,499h0M399.6,494.8h0M381,499.6h0M422.3,506.2h0M412.1,516.6h0M395.4,509.4h0M384.8,493.1h0M393.5,510.7h0M400.4,493.1h0M386.8,509h0M386.9,497.8h0M383.4,502.4h0M390.6,502h0M397.6,497.8h0M415,507.4h0M384.9,509.5h0M409.1,492.2h0M420.2,504.3h0M400.9,492.5h0M406.6,495.7h0M410.8,512.2h0M385.8,516.3h0M385.7,504.4h0M405.1,508h0M419,507.1h0M387.8,501.2h0M402.4,494.1h0M413.1,500.3h0M407.1,494.6h0M388.2,502.2h0M382.8,504.5h0M406.7,510.9h0M397.8,507.1h0M395.9,508.5h0M401.1,490.1h0M389.5,498.9h0M415.4,495.4h0M420.5,498.9h0M395.8,497.7h0M401,511.2h0M399.7,505.8h0M415.5,499.5h0M408.8,495.1h0M382.7,498.5h0M388.2,515.6h0M411.9,501.8h0M395.2,502.2h0M398.5,511h0M407.2,508.8h0M395.6,496h0M411.3,497.9h0M405.2,501.7h0M396.5,491.7h0M414.3,506.4h0M389.6,507.7h0M412.6,502.7h0M394.2,493.8h0M394.3,503h0M395,497h0M385.1,510.1h0M386.6,496.7h0M411.1,503.3h0M417.3,503.3h0M396.3,503h0M421.4,508.6h0M398.4,497.9h0M413.7,511.7h0M384.5,499h0M393.6,491h0M383.9,513.7h0M401.7,500.4h0M395.7,498h0M400,506.3h0M402.7,500.4h0M418.8,497h0M387.3,495.6h0M410.1,495.8h0M414.3,504.9h0M416,494.2h0M385.5,503.5h0M409.3,504h0M393.4,493.4h0M413.9,491.5h0M406.4,493.7h0M385.3,504.9h0M422.3,504.3h0M399.3,494.6h0M391.3,496.8h0M419.5,495.8h0M406.3,506.5h0M393.9,490.2h0M401.8,507.3h0M418.8,494h0M402.3,510.3h0M381,505.8h0M398.8,496.5h0M419.3,502.1h0M396.9,505.9h0M398.8,511.2h0M390.4,507.7h0M418,494.7h0M383,513h0M400.7,502.9h0M403,515.9h0M379.8,503.1h0M415.6,499.3h0M400.6,497.1h0M426.9,505.3h0M413.3,517.7h0M415.1,499.3h0M403.6,498.6h0M388.6,515h0M387,502.9h0M407.3,496.6h0M392.5,500.9h0M419.4,507.3h0M386.6,508.8h0M402.9,500.2h0M393.2,493.5h0M425.6,505.1h0M417.7,494.7h0M413.4,506.2h0M423.2,514.3h0M423.6,506.8h0M400.6,499.8h0" stroke="#181830"/><path d="M414.8,518.6h0M408.2,524.1h0M401.9,531h0M415.9,514.3h0M399.9,522.6h0M403.1,532h0" stroke="#78c030"/><path d="M394.1,499.4h0M423.9,505.3h0M385.2,497.3h0M386,505.9h0M416.2,507.3h0M381.9,506h0M410.2,498.8h0M400.2,508.6h0M381.7,499.4h0M391.1,502.1h0M414.4,491.5h0M386.9,508.5h0M395.5,493.5h0M418,493.5h0" stroke="#001818"/><path d="M404.8,508.5h0M399.5,498h0M387.6,496.2h0M394.4,492.9h0M404.2,489.8h0M404.1,518h0M410.5,511.8h0M408.9,499.8h0M409.4,490.2h0M410,501h0M423.1,512.4h0M408.5,501.8h0M421.8,500.3h0M392.8,502.2h0M382.4,495.1h0M385.4,497.8h0M389.2,514.4h0M419.7,507.2h0M415.9,508.6h0M398.3,493.9h0M415.4,499.8h0M405.3,489.8h0M413.1,514.7h0M396.3,494.3h0M392.1,509.6h0M423,504.8h0M383.8,511.6h0" stroke="#301848"/><path d="M407.1,526.4h0M405.5,527.6h0M393.7,523.9h0M412.7,517.8h0M398.7,519h0M409.4,517h0M417.3,521.3h0M406,516.2h0M401.4,523.3h0M389.9,521.2h0M411.6,517.3h0M415.1,522.8h0M402.8,531.9h0M394.6,523.8h0M406.2,525.7h0M394.1,521.9h0M412.7,526.5h0M396.2,517h0M399,528.1h0M406.3,516.6h0M404.8,526.1h0M393.8,522.2h0M403.7,529.1h0M392.8,518.9h0M400.7,520.1h0M405.2,531h0M400.1,526.8h0M403.7,529.4h0M400.1,528.2h0M408.1,530.7h0M398.7,528.7h0M412.9,521.5h0M394.8,523.9h0M392.6,521.5h0M404.1,521.4h0M392.4,524.2h0M399.8,522.2h0M403.8,530.8h0M396.9,520.7h0M390.5,519.5h0M406.5,518.3h0M392.5,516.5h0M400.3,523.4h0M405.4,533.5h0M410.2,525.9h0M394.1,522.1h0M397.4,525.7h0M398.5,527.9h0M401.4,522.4h0M401.9,530.1h0M398,527.6h0M394.1,523.5h0M401.8,530.9h0M420.8,520.4h0M416.8,521.3h0M392.8,518.4h0M401.4,529.7h0M399,527.7h0M395.5,520.5h0M406.4,527.9h0M394.6,520.5h0M400.2,515.4h0M409.4,527.4h0M402.7,529.8h0M401.4,520.1h0M409.4,528h0M405.5,524.5h0M404.6,525h0M391.8,519.7h0M394.7,524h0M405.1,527.2h0M403.1,532h0M408.9,529.7h0M389.3,515.7h0M392.2,519.8h0M393.1,522.8h0M410.2,527.7h0M412.2,526.8h0M406.6,532.9h0M391.4,519.3h0M410.1,528.4h0M409.2,526.5h0M409.5,524.7h0M397.1,520h0M405.7,523.3h0M406.6,529.6h0M391,522.6h0M413.8,523.1h0M411.1,526.9h0M411.3,527h0M405.6,533.3h0M407.5,527.2h0M405.9,524.4h0M402.1,529.9h0M404.3,530.3h0M399.5,529.8h0M405.4,533.6h0" stroke="#60a848"/><path d="M408.7,517.1h0M396.3,519.8h0M408.6,522.2h0M399.3,523.7h0M411.5,525.5h0M409.1,522.3h0M412.8,523.2h0M386.9,518.7h0" stroke="#487830"/><path d="M402.7,530.3h0M392.1,518.8h0M404.4,525.1h0M403.3,530.2h0M397.6,516.3h0M395.4,520.5h0M399,523.2h0M406.8,527.9h0M398.5,526.1h0M390.1,519.3h0M403.7,520.2h0M409.7,526.9h0M400.3,530.9h0M405.4,527h0M399.1,521.9h0M390,520.6h0M403.7,520.3h0M403.1,533.4h0M410.1,526.3h0M406.6,529.2h0M407.6,525.5h0M394.3,522.2h0M402.4,532.9h0M400.5,528.7h0M401.1,528.9h0M395.1,521.6h0M409.3,528.7h0M407.3,525h0M406.3,530.4h0M409.4,520.8h0M395.4,520.4h0M405.7,529.5h0M392.6,515.5h0M404.9,533.1h0M413.4,522.9h0M398.6,521.8h0M410,528.1h0M417.8,522h0M407.3,525.4h0M399.4,527.2h0M398.6,528.3h0M400.2,527.5h0M398.4,518.8h0M419.8,518.2h0M388.8,519.2h0M398.9,527.5h0M398.9,528.7h0M393.5,518.4h0M405.9,518.6h0M394.9,521.4h0M402,528.1h0M401.6,527.6h0M408,529.6h0M411.7,521.8h0M398.5,528.9h0M403.8,533.1h0M397,520.5h0M411.9,521.2h0M398.8,525.6h0M403.2,527.1h0M402.3,529.3h0M403.3,531.5h0M405.9,523.1h0" stroke="#60c048"/><path d="M408.2,490.6h0M387.8,503.8h0M400.2,503.9h0M383.7,501.6h0M397.4,500.7h0M397.8,497.8h0M408.1,496.6h0M392,495.7h0M425.1,512h0M409.7,498.4h0M420.3,499.9h0M425.5,506.5h0M406.7,507.4h0M387.9,499.5h0M393.5,493.9h0M422,496.1h0M386.8,493.6h0M392.5,502.3h0M417.1,508.3h0M400.1,500.7h0M416.7,508.2h0M409.5,508.5h0M423.5,512.1h0M414.6,498.3h0M399.2,500h0M397.4,499.7h0M402,498.5h0M414.2,501h0M388.8,502.5h0" stroke="#183018"/><path d="M424.8,509.8h0M415.5,517.7h0M410,520.6h0M403.9,516.2h0M422.6,518.9h0M385.1,512.6h0M400.4,517.6h0M401.6,522.7h0M400.8,531.2h0M399,524.9h0M415,519.3h0M406.7,512.9h0M421.3,517.5h0M400,518.8h0M392.2,510.2h0" stroke="#487860"/><path d="M425.6,508h0M408.7,502.6h0M409.1,517.8h0M397.7,500.7h0M422.4,496.8h0M385.2,509.9h0M396.6,498.7h0M404.5,491h0M408.5,511h0M392.3,509.6h0M409,499.3h0M392.3,492.2h0M385.9,505.1h0M425.9,505.8h0M389.5,515.5h0M418.3,509.7h0M388,505.6h0M412.8,491.9h0M382.7,494.8h0M422.8,500.4h0M383.2,512.4h0M417.2,498.2h0M413.6,517.6h0M405.5,497.4h0M407.8,502.3h0M406.5,504.6h0M381.7,505.2h0M410.4,491.9h0M392.3,512.2h0M407.3,507.4h0M409,503.5h0M411,504.1h0M423.9,502.4h0M422.3,498.8h0M406.7,510.1h0M389.9,499.3h0M382.6,496.6h0M399.8,492h0M407,514.2h0M417.6,507.7h0M421.8,506h0M396.2,495.5h0M410.1,493.6h0M418.2,497.3h0M393,496.3h0M425.8,509.6h0M395.7,498h0M382.8,504.8h0M394.6,494.2h0M400.2,497.7h0M414.8,510.2h0M412.4,499.5h0M388.1,507.5h0M386.9,507.2h0M395.3,493.3h0M402.9,494.2h0M391.8,519.7h0M427,504.2h0M402.2,505.2h0M406.9,510.2h0M421.3,508.7h0M399.9,499.7h0M405.4,493.8h0M415.4,507.3h0M414.4,514.4h0M420.6,498.2h0M422.6,495.9h0M391.7,512.1h0M385.1,497h0M425.5,513.8h0M421.5,518.9h0M394.7,514.1h0M411.4,504.1h0M401.7,490h0M407.7,494.3h0M422.5,507.1h0M394.2,496.3h0M395.1,509.9h0M390.1,514.8h0M387.1,493.9h0M418.7,496.3h0M395.6,506.8h0M412,503.4h0M421.4,498h0M421,500.1h0M420,511h0M419.1,502.2h0M423.7,501.9h0M407.6,511.6h0M405.5,511.6h0M402.9,503.6h0M413.9,509h0M395.7,510.5h0M399.4,506.2h0M410.2,495.9h0M384.2,511.5h0M414.8,500.5h0M395.9,490h0M389.7,515.4h0M425.9,506.5h0M416.9,497.7h0M412,500.6h0M415,506.4h0M414.8,501h0M389.7,504.3h0M387.5,497.6h0M380.5,508.2h0M420.2,507.2h0M395.1,509.5h0M408.5,508.7h0M389.6,507.1h0M399.9,491.9h0M402,510.7h0M423.5,507.8h0M418.7,497.1h0M395.8,507.3h0M400.5,490.3h0M401.9,510.9h0M411.5,497.1h0M417.9,493.5h0M407.6,514.1h0M382.1,496.1h0M399.2,507h0M403,500.1h0M400.6,509.4h0M408.2,493.7h0M425.6,508.8h0M393,493h0M412.3,497.3h0M411.9,491.1h0M403.2,506.7h0M382.9,506.8h0M403.9,493h0M416.5,519.7h0M395.8,512.4h0M387.2,505.1h0M386.1,510.2h0M402.3,500.2h0M414.8,512.5h0M407.1,511.1h0M390.3,512.3h0M383.1,498h0M389,508.1h0M404.9,500.8h0M390.1,511.5h0M418.5,498.6h0M396.9,507h0M420.8,513.4h0M427.1,504.5h0M394.5,493.7h0M405.8,510.2h0M406.8,513.6h0M417.6,508.4h0M420.5,497.9h0M422.3,515.5h0M419.9,499.4h0M408.6,506.9h0M423.5,509.4h0M399.2,502h0M392.2,508.1h0M399.2,496.7h0M411.7,517.5h0M381.4,507.5h0M425,507.8h0M418.7,496.4h0M410.9,493.8h0M422.3,498.4h0M399.8,496.9h0M421.1,514.5h0M407.9,515h0M423.6,496.7h0M427.1,504.5h0M422.8,517.5h0M383.7,509.4h0M390.6,502h0M412,496.9h0M394.8,493.5h0M392,504.6h0M392.1,495.7h0M388.9,498.8h0M408.6,501.2h0M381.2,500.7h0M419.9,500.5h0M413.8,504.8h0M415.5,512.2h0M417.6,510.6h0M397.1,507.3h0M384.8,496.1h0M417,496h0M385.4,508.4h0M406.5,494.8h0M415.2,504.8h0M387.4,505.2h0M413.3,497.2h0M394.6,497.1h0M401.2,507h0M399.2,507.1h0M404.1,501.8h0M393.5,507.5h0M422,496h0M414.4,499.6h0M421.3,498.8h0M421.5,503.5h0M398.3,498.6h0M402.3,504.3h0M411,494.8h0M402.1,506.2h0M413.9,517h0M384.9,506.6h0M425.2,512.5h0M389.8,500.2h0M382.8,495.8h0M392.5,503.5h0M399.9,514.9h0M393.7,492.4h0M392.6,504.6h0M404.5,498.3h0M381.2,501.2h0M400.4,495.4h0M426,504.4h0M419.8,513.8h0M389.4,503.6h0M403.2,506.3h0M419.6,499.5h0M412.8,504.6h0M398.1,504.3h0M389.7,496.2h0M416.2,510.3h0M381.8,505.7h0M410.2,496.2h0M422.4,495.3h0M407.2,490.8h0M394.9,515h0M416.3,513.3h0M398.2,511.1h0M426.1,504.6h0M412.1,508.1h0M390,511h0M390.1,506.4h0M406.5,514.7h0M415,491.7h0M391.1,513.6h0M418,496.1h0" stroke="#183048"/><path d="M423.4,498.2h0M410.4,503h0M387.5,509h0M406.3,501.5h0M381.5,500.9h0M407.1,506.5h0M396.6,499.2h0M385.7,505h0M406,508.8h0M392.5,492.4h0M410.4,500h0M403.2,503.1h0M409.5,499.5h0M417.4,495.7h0M400.2,505.5h0M413.7,491.1h0M421.6,504.6h0M385.1,497.1h0M398.4,506.1h0M401.2,497.1h0M419.2,495.7h0M392.3,493.3h0M420.2,504.8h0M405.4,501.5h0M415.8,494.4h0M388.7,511.3h0M384.3,507.1h0M401.2,515.4h0M389.7,510.4h0M380.3,505.3h0M417.9,510.2h0M412,499h0M394.3,511.4h0M405.9,505.4h0M404.5,490.1h0M410.1,496.7h0M405.1,507.9h0M410.1,495.8h0M398.8,511.9h0M385.1,513.8h0M410.2,498.9h0M410.4,505.4h0M383.2,513.3h0M384.7,501.8h0M420.8,503h0M383.2,496.1h0M407.2,490.3h0M393.5,509.1h0M425.3,510.3h0M421.6,496h0M397.4,494.4h0M425.3,509.5h0M380.3,501.8h0M418.7,509.1h0M396,510.1h0M387.7,509.5h0M399.6,506.4h0M420.8,499.5h0M390.5,506.8h0M397.7,502.9h0M391.9,503.8h0M385.3,494.6h0M426.3,502.7h0M401.4,516h0M393.3,504.8h0M393.4,495.4h0M417.6,516.6h0M399.5,513.9h0M393.5,495.8h0M422.4,507.3h0M406.2,493.4h0M425.2,507.6h0M390.2,502.1h0M401.4,503.2h0M423,499.1h0M412.6,494.9h0M392.5,514.3h0M399.6,497.6h0M392.1,511.1h0M423.6,508.4h0M419.5,500.5h0M395.7,513.3h0M404.7,510.7h0M407.3,491.4h0M401.1,508.8h0M425.6,509.7h0M395.4,490.2h0M407.7,505.1h0M390.8,503.2h0" stroke="#303048"/><path d="M417.4,500.9h0M415.3,519h0M390.8,508.7h0M401.9,501.9h0M417.9,493.3h0M417.1,508.4h0M405.5,498.4h0M396.4,492.7h0M400.4,489.7h0M380.8,501.3h0M416.3,504.6h0M413.2,505.6h0M382.3,504.8h0M418.1,498.6h0M408.9,508.8h0M399.4,503h0M397.3,500.1h0M413.3,514.3h0M403.3,506.4h0M403.2,509.2h0M385.3,509.4h0M383.8,500.7h0M397.9,506.5h0M418.4,508.2h0M400.9,513.2h0M415.8,516.1h0M393.2,509.4h0M397.7,507.7h0M387.3,496.1h0M392.9,491.7h0M411.8,491.1h0M415,494.5h0M416,514.5h0M403.6,516.1h0M386,513.6h0M397.9,494.4h0M391.5,505.1h0M386.1,498.1h0M397.2,509.3h0M411.3,499.8h0M398.2,499.9h0M393.5,492.8h0M416.4,501.7h0M410.9,493.9h0M409.3,493.4h0M414.6,511.1h0M419.4,510.4h0M416.4,515.7h0M397.2,492.8h0M423.5,499.2h0M407,495.8h0M407.3,505.1h0M418.7,515.5h0M388.7,500.2h0M425.4,506h0M412.4,510.5h0M404.8,509.4h0M417.6,508.5h0M414.1,496.4h0M402.8,506.9h0M420.7,499.7h0M414.9,511.7h0M408,498.5h0M410.6,498.5h0M384.7,511.6h0M396.6,503.7h0M394.6,491.8h0M385.8,505.4h0M388.1,513.8h0M422.6,506.7h0M400.1,489.6h0M398.9,501.8h0M407.6,506.8h0M396,490.6h0M409.2,493.9h0M405.1,497.5h0M387.8,503.7h0M408.3,501h0M422.6,508.3h0M425.9,511.5h0M408.5,508.5h0M424.3,511.6h0M419.6,503.9h0M398.4,498.7h0M394.3,506.4h0M416.1,494.4h0M390.9,503h0M389.3,511.4h0M404.3,506.9h0M413.7,515.6h0M400.4,515.2h0M390.7,505.6h0M414.4,513.7h0M416.4,498.7h0M403.9,497.4h0M387.8,501.2h0M398.2,506.9h0M400.8,490.6h0M380.5,505h0M381.2,504.6h0M408.9,499.4h0M398.9,500.9h0M421.4,504.5h0M397.6,501.3h0M398.3,505.9h0M413.5,506.6h0M418.2,508.8h0" stroke="#181848"/><path d="M395.7,497.4h0M410.6,495.1h0M397.6,509.7h0M384.9,495.7h0M395.1,495.2h0M386.3,492.8h0M407.3,512.3h0M392.7,500.8h0M406.6,514.1h0M420.7,497.6h0M392,505.4h0M403.3,502.7h0M407.2,499.5h0M423,511.7h0M394.8,496.8h0M402.1,499h0M391.6,518.5h0M403.5,499.9h0M385.6,511.3h0M394.6,509h0M393.1,492.2h0" stroke="#184830"/><path d="M427.1,505.1h0M381.8,503.6h0M404.8,493.6h0M401.4,517.5h0M383.9,498.3h0M415.6,507.9h0M406.8,515.6h0M419.8,505.8h0M382.1,508.3h0M392.5,505.9h0M415.8,499.5h0M399.3,511.5h0M400.3,516.4h0M419.9,496.6h0M398.9,500.7h0M407.3,507h0M403,489.9h0M422.1,498.5h0M424.8,507h0M416.6,494h0M415.6,504.5h0M422.2,500h0M421.1,499.3h0M408.7,505.1h0M385,498.5h0M384.4,493.6h0M402.7,504h0M422.8,505.2h0M412,503.1h0M401.2,502.6h0M407.2,501.6h0M417.8,496.6h0M408.7,507.2h0M393.4,505.5h0M394.1,505h0M421.9,509.9h0M414.9,500.1h0M410.3,508.4h0M410,497.2h0M395.6,515.9h0M408.1,504.1h0M398,508.3h0M399.9,504h0M412.6,512h0M393.5,492.6h0M415.4,496.7h0M395.9,508.6h0M412.4,511.4h0M423.1,504.6h0M424,509h0M391.3,510.5h0M391.2,491.7h0M399.5,507.4h0M395.3,496h0M406,506.4h0M407.2,508.1h0M398.9,511.8h0M401.5,491h0M395.9,506.1h0M399.1,501.2h0M410.4,503.3h0M400.9,504.2h0M404.7,511.4h0M390.8,507.2h0M400.3,493h0M395.2,514.9h0M381.7,500.2h0M400.6,491.7h0M412.1,499.1h0M420.2,498h0M414.7,504.2h0M411.2,515.8h0M395.1,491.2h0M419.1,511.1h0M407.8,503.8h0M382.5,507.5h0M407.7,510.1h0M394.3,500.4h0M389.9,493.8h0" stroke="#303030"/><path d="M399.8,518.4h0M411.4,517.6h0M401.4,509.2h0M405.6,519.8h0M391.9,518h0M400.5,519h0M404.7,520.7h0M403.5,516.6h0M414.2,522h0M408.3,510.5h0M387,511.2h0M400.2,510.5h0M409.8,508.1h0M415.2,521h0M397.8,507.2h0M393.1,520.8h0M391.6,511.2h0M389.7,514.7h0M406.2,511.4h0M397.6,516.7h0M391.8,518.1h0M388.5,518.9h0M390.5,517.6h0M395.5,520.5h0M408.3,519.3h0M415.6,517h0M406.2,516.4h0M397.5,523.4h0M416.2,523.4h0M409.9,524.9h0M405.7,517.1h0M386.1,509.9h0M416.3,522.3h0M396.9,520.9h0M406.6,510.7h0M418.5,503.7h0M396.5,520.1h0M398.6,505.8h0M394.5,517.4h0M393.9,521.2h0M411.7,523.9h0M391.6,516.9h0M391.4,505.5h0M386.7,511.5h0M395.3,517.4h0M400.6,512.2h0M392.3,517.1h0M390.8,519.3h0M398.7,509.3h0M417.8,520.4h0M405.9,519.1h0M407.7,511.2h0M415.1,522.9h0M405.5,515.7h0M400.5,515.7h0M391.3,522.9h0M422.3,519.5h0M413.3,520h0M405.9,524.1h0M416.2,519.9h0M423.4,511.2h0M395.5,517.3h0M405.2,525.4h0M400,509.2h0M394.9,513.5h0M399.3,520.6h0M420.2,508h0M422.5,517.8h0M395.7,510.5h0M407.9,512h0M395.5,519.2h0" stroke="#307848"/><path d="M400.2,518.3h0M396,511.7h0M420.3,517.8h0M410,507.4h0M408.7,495.8h0M389.9,521.3h0M394.5,500.7h0M425.3,513.7h0M401.6,498.9h0M396.1,493.8h0M387.7,506.7h0M415.6,504.2h0M391.1,509.4h0M386.6,514.5h0M404.8,516.3h0M399.2,498.7h0M390.6,519.5h0M410,507.6h0M416.3,523.2h0M421.9,500.4h0M391.3,502.8h0M396.5,502h0M402.8,509.2h0M399.7,512.5h0M406.5,532.4h0M415.9,496.2h0M398.6,496.9h0M407,494.6h0M382.5,497h0M384,500.8h0M398.4,522.5h0M398.7,506.4h0M411.5,501.9h0M410.6,519.8h0M414.8,498.7h0M390.8,519.7h0" stroke="#fff0f0"/><path d="M392.4,507.6h0M410.4,496.9h0M392.8,491.8h0M403.6,508.6h0M390.7,501.9h0M419.5,495.5h0M390.5,508.6h0M391.4,502h0M408.6,498.9h0M402.9,504.4h0M395,505.8h0M393.1,504.1h0M423.6,507.5h0M408.5,490h0M380.3,501.9h0M384.2,497.8h0M395.3,494h0M407.3,502.2h0M409.2,490.2h0M402.1,503.2h0M409.7,498.3h0M383.1,497.9h0M390.4,492.3h0M380.7,499.9h0M419.2,497.1h0M421.2,499h0M384.3,496.5h0M397.3,497.7h0M418.7,492.8h0M399.3,499.7h0M420.5,497.7h0M421.7,507.2h0M423.5,507.2h0M418.8,493.9h0M384.5,503.8h0M410.1,499.3h0M391.1,500.7h0M401.7,502.7h0M401.1,495.9h0M394.2,496.4h0M413.6,500.5h0M410,503.5h0M400.4,502.3h0M409,494.8h0M406.1,499.6h0M406.4,497.9h0M398.5,502.9h0M404.3,493.3h0M416.3,498.7h0M396.1,497.9h0M385.4,497.4h0M417.6,492.6h0M401.1,499.9h0M401.6,498.6h0M397.8,498h0M409.4,497h0M420.9,504.5h0M396.9,502.3h0M417.8,507.1h0M385.6,504.1h0M407.1,493.6h0M397,490.1h0M421,509.4h0M400.9,499.6h0M401.9,508.5h0M413.4,506.5h0M399,496.3h0M399.9,493.9h0M424.1,501.4h0M394.2,505.9h0M407.8,495.8h0M417.2,508.3h0M387.9,498.7h0M390.6,506.2h0M383.2,494.7h0M419.8,494h0M405,507.8h0M393,498.9h0M410.3,502.4h0M387.3,501.3h0M410.6,493.7h0M393.3,496.2h0M392.8,506.6h0M398.6,500.9h0M419.2,502.9h0M400.6,500.1h0M400.8,500.7h0M403.6,502.8h0M417.4,508.2h0M415.5,494.7h0M406.1,510.5h0M416.8,506h0M388.7,497.3h0M421.2,496.2h0M381.2,501h0M410.5,495.6h0M398.6,492.8h0M393.6,498.7h0M401.6,494.7h0M419.6,509.2h0M401.2,507.8h0M413.9,503.1h0M391.4,498.2h0M393.5,514.1h0M423.9,508.4h0M414.6,505.4h0M413,491.8h0M396.9,500.3h0M387.4,500.9h0M386,501.7h0M404,490.7h0M382.8,494.8h0M405.3,506.5h0M410.5,494.1h0M400.2,499.2h0M409,512.1h0M395.1,510.8h0M423.3,506.1h0M387.1,499.9h0M391.6,507.1h0M381.7,499.7h0M402.6,499.9h0M422,504.1h0M425.2,499.7h0M418.3,493.7h0M404.6,497.3h0M425.9,504.6h0M400.6,502h0M425,508.4h0M412.4,495.7h0M391.4,504.5h0" stroke="#181818"/><path d="M388.6,513.2h0M407.8,526.8h0M414.6,511.3h0M397.8,520h0M383.2,512.7h0M393,492h0M406.9,499.5h0M408.2,514.2h0M395.3,513.2h0M405.5,496.8h0M405.1,497.3h0M414.8,508.8h0M415.5,504.6h0M400,499.8h0M409.5,512h0M403.1,533.5h0M392.2,510.8h0M388.8,495.1h0M386.1,497.8h0M425.8,514.8h0M411.8,498.7h0M390.3,514.6h0M394.7,518.4h0M413,517.3h0M390,517.2h0M384.6,493.1h0M401.2,494h0M390.2,508.9h0M410.5,516.4h0M398,511.7h0M410.8,527.5h0M418.3,517.1h0M390.7,498.2h0M415.1,511.7h0M404.6,491.7h0M393,507.2h0M399.6,527.6h0M394.8,522.7h0M405.4,500.2h0M417.7,513.1h0M387.4,510.9h0M396.2,510.6h0M385.3,502.9h0M414.2,498.6h0M388.6,510.3h0M404.2,502.1h0M400.8,512.8h0M390.2,491.4h0M407.3,522.2h0M427,504.1h0M416.9,517.6h0M386.5,498h0M408.1,525.2h0M386.9,510.2h0M396,518.4h0M411.8,516.6h0M401.8,505.8h0M409.4,528.1h0M411.4,516.8h0M382,504.9h0M384.4,501.3h0M420.9,497.3h0M425.8,508.5h0M402.3,510h0M413.8,510.5h0M419,495.5h0M398.2,507.8h0M381.8,510.6h0M379.9,504.7h0M392.7,500.1h0M385.6,497.5h0M382.9,494.9h0M396.1,509.4h0M388.5,495.4h0M392.9,506.7h0M395.5,511.1h0M392.8,505.5h0M392.3,519.5h0M417,508.1h0M391.7,510.4h0M389.5,518.8h0M403.1,510.8h0M407.8,526.8h0M409.6,493.3h0M411.7,520.1h0M393.5,519.7h0M406.3,514.9h0M423.6,513.6h0M406.7,511.1h0M408.4,500.6h0M407.8,512.7h0M425.1,503.1h0M409.3,527.2h0M409.4,490.3h0M403.6,529.3h0M403.1,529.9h0M399.8,527.2h0M412.1,524.7h0M394.6,490.7h0M395.1,490h0M400.2,498.3h0M401.6,523.6h0M417.7,508.6h0M425.3,511.1h0M408.6,506.7h0M408.1,527.9h0M391.6,498.9h0M416.9,493.6h0" stroke="#f0f0f0"/><path d="M402.9,532.3h0M400.9,520.8h0M398.3,524.4h0M395.7,519.5h0M408.2,517.2h0M407.3,526.6h0M403.3,529.3h0M405.5,528.5h0M394.2,522.7h0M413.1,525.9h0M396,526.7h0M407.2,522.4h0M393.3,523h0M421.5,517.9h0M401.5,530.4h0M397.9,528.6h0M393.3,523.8h0M395.6,522h0M407.2,529.2h0M408.9,526.7h0M403.6,531.6h0M403.8,528.4h0M397.5,523.9h0M403.2,532.1h0M406.1,515.2h0M394.1,522.6h0M420.7,516.4h0M409.1,530.1h0M407.2,523.8h0M415.6,517.4h0M397,526.8h0M411.4,525.8h0M405.6,528.6h0M398.5,528h0M411.5,527.3h0M397.4,523.5h0M407.1,531.1h0M400.1,525.8h0M415.9,519h0M411.4,521.2h0" stroke="#60a830"/><path d="M396.5,511.1h0M385.4,514.9h0M414.9,510.6h0M412.6,515.2h0M392.8,522.8h0M413.7,508.8h0M385.9,498.8h0M395.2,515h0M397.8,516h0M399.2,497.5h0M383.5,513.8h0M397.8,520.9h0M418.2,512.9h0M421.7,517.5h0M403.4,511.6h0M382,498.2h0M414,521.8h0M406.4,519.2h0M408.4,508.8h0M388.6,501.8h0M406.9,523.4h0M424.7,516.2h0M414.2,513.8h0M411.5,499.6h0M397.7,517.7h0M415.6,520.9h0M402.2,515h0M389,510.6h0M404.1,508.3h0M399.6,513.6h0M416.3,508h0M394.8,518h0M409.9,512.3h0M393.2,494h0M415.5,502.2h0M408.6,509.7h0M394.7,493.3h0M424.4,512.7h0M422,504.1h0M389.1,512.8h0M418.6,519.7h0M398.5,515.3h0M383.1,512.5h0M388.9,512h0M380.6,505.7h0M397,519h0M414,519.1h0M405.6,491.2h0M421.1,518.4h0M404.3,493h0M391.7,512.7h0M418.3,495.7h0M422,519.5h0M414.8,513.4h0M406,520h0M406.9,502.6h0M390.6,507.7h0M407.6,519.8h0M408,521.4h0M394.9,522.1h0M400.9,513h0M417.8,516h0M418,521.7h0M411.6,513h0M394.8,491.6h0M414.4,519.6h0M384.1,511.7h0M393.4,513.4h0M389,508.5h0M399.2,517h0M409,516.5h0M415.4,513.6h0M396,493.8h0M404.6,521.4h0M407.9,518.1h0M381.1,498.3h0M398.1,509.4h0M412.2,519.3h0M391.3,498.5h0M386.5,495.8h0M415.7,516.1h0M405.3,517.9h0M419.4,508.3h0M421.4,517.2h0M400.7,518.5h0M400.6,510.3h0M416.9,510.4h0M416.1,499.8h0M412.2,521.6h0M398.6,509.8h0M415.7,520.6h0M381.2,504.9h0M384.7,497.2h0M409.4,520.9h0M405.8,518.6h0M392.3,515.2h0" stroke="#306060"/><path d="M390.3,499.7h0M400.8,510.5h0M394.2,497.7h0M387.3,501.3h0M387,510.7h0M386.5,498.2h0M408.9,507.5h0M410.1,509.2h0M421.1,509.6h0M399.4,509h0M387,501.7h0M386,492.9h0M407.5,510.3h0M419.7,505.4h0M408.7,511.1h0M419.2,508.4h0M393.3,499.9h0M400.8,493.2h0M383.2,497.1h0M397,502.3h0" stroke="#003030"/><path d="M408.7,517.4h0M403.4,514.4h0M414.6,516.9h0M385.2,505.5h0M396.1,496.6h0M382.4,508.9h0M418.3,506.8h0M409.9,496.3h0M394.2,500.7h0M401.9,517.5h0M419,500.7h0M389.4,491.2h0M412.6,516.8h0M398,525.1h0M410.9,514.1h0M401.1,516.5h0M391.1,510.1h0M420.3,509.6h0M413.1,512.6h0M409.6,498.9h0M387.9,511.2h0M408,498h0M418,492.9h0M409.2,526.6h0M403.7,497h0M417.6,521.9h0M422.8,516.8h0" stroke="#304860"/><path d="M387.9,513.6h0M409.5,507.4h0M413.8,518.9h0M410,502.6h0M400.2,501.7h0M418.5,508.4h0M394.1,506.1h0M411.5,503.3h0M412.3,510.7h0M396,499.6h0M395.4,498.7h0M397.6,497.3h0M402.1,510.3h0M396.4,499.6h0M384.7,499.8h0M416.6,504.9h0M399.3,502.1h0M395,519.4h0M403.6,498.3h0M420.2,505.2h0M391.6,492.6h0M403.9,500.6h0M391.2,506.4h0M423.1,506h0M401.3,508.4h0M385.6,505.7h0M411.9,498h0M416.9,495.7h0M386,509.8h0M391.7,493.3h0M416.8,508.1h0M414.7,507.5h0M426.9,505.5h0M392,493.8h0M401.3,513.2h0M407.3,494.7h0M425.1,506.9h0M384.5,498h0M405.2,511.2h0M402.3,511.5h0M399.7,497.9h0M425.3,505h0M384,502.4h0M417,509.2h0M397,517h0M390.9,513.2h0M386.7,497.6h0M400.9,489.2h0M398.4,502.6h0M402.4,489.4h0M393.6,499.4h0M393.3,506.8h0M408.6,510.3h0M410.4,498.1h0M408.3,506.2h0M384.5,511.2h0M418,493.6h0M401,491.9h0M399.1,498h0M420.4,509h0M382.6,502h0M421.4,499.4h0M389.7,508.8h0M410.4,505.7h0M390.7,516.7h0M419.7,514.4h0M396.1,493.7h0M401.8,504.3h0M412.2,510.8h0M411.2,507.8h0M399.6,516h0M395.7,512.7h0M414.8,508.3h0M381.4,510.1h0M392,501.4h0M415.7,506.6h0M405.6,492.5h0M406.4,511.3h0M416,515.2h0M407.5,512.5h0" stroke="#3048a8"/><path d="M406.8,512.7h0M390.5,501.7h0M396.1,506.1h0M407.7,506.5h0M425.5,506.9h0M393.9,495h0M393.3,497.2h0M385.7,497.3h0M414.8,506.2h0M406,492.6h0M421.2,504.1h0M382.7,505.5h0M398,511.7h0M395.4,510.2h0M393.6,497.4h0M395.6,500.6h0M387.4,492.5h0M401.3,515.2h0M402.7,489.2h0M382.3,508.9h0M409.1,505.8h0M414.6,496h0M411.1,513.5h0M388.8,500.1h0M389,515.3h0M382.6,498.5h0M394.8,509.2h0M396.1,494.7h0M407.8,495.4h0M397.1,518.4h0" stroke="#301830"/><path d="M397.8,527.1h0M411.2,523.8h0M403.4,533.1h0M392.2,516.3h0M393,524.6h0M396,527.5h0M408.6,530.4h0M401.3,529.7h0M384.3,515.3h0M409.1,526.5h0M395,520.5h0M407.3,521.1h0M408.1,526.8h0M390.3,520.9h0M404.4,521.2h0M396.5,520.5h0M408.9,530.2h0M407.3,532.6h0M407.7,523.4h0M397.5,521.6h0M399.4,529.7h0M410.7,527h0M412.7,522.3h0" stroke="#60c030"/><path d="M416,512.7h0M397.1,507.6h0M410.5,493.4h0M401.2,489.7h0M405.3,497.1h0M403.2,501.4h0M412.3,513.1h0M409.3,513.1h0M413.9,517.7h0M399.3,500.9h0M400.5,519.4h0M412.7,497.6h0M409.1,500.2h0M406.1,497.4h0M398.2,502.1h0M404.2,521.3h0M393.9,493.6h0M407.6,496.1h0M417.6,515.3h0M400.5,509h0M405.7,517.8h0M402.2,509.7h0M393.8,497.1h0M399.3,524.5h0M404.7,496.7h0M400.6,499.2h0M415.9,512.7h0M424.5,514.6h0M421.4,497.2h0M400.5,497.2h0M390.6,520.4h0M384.9,504.9h0" stroke="#184848"/><path d="M414.8,509.1h0M401.2,527.8h0M416.8,496.9h0M411.3,517.3h0M397.4,497.3h0M411.8,507.7h0M407.4,518.3h0M415,510.9h0M406.2,491.8h0M404.8,530.2h0M397.6,525.6h0M424.8,504.9h0M422.3,508.8h0M398.8,529.9h0M384.9,505.7h0M385.6,506.1h0M380,504.3h0M384.4,515.3h0M384.6,510.7h0M402.5,507.9h0M392.6,524.1h0M394.3,501.3h0M398.2,527.4h0M380.4,504.7h0M399.5,495.8h0M422.1,509.1h0M405.5,505.8h0M403,516.1h0M394.6,504.5h0M386.4,505.7h0" stroke="#f0fff0"/><path d="M409.2,497.4h0M398.9,501.1h0M424.1,510h0M396.6,494.2h0M423.2,515.5h0M417.6,512.8h0M426.7,510.4h0M415.3,517.5h0M384.5,498h0M418.9,505.1h0M387.1,509.3h0M405.8,513.9h0M395.6,494.7h0M390.7,507.3h0M403.9,491.3h0M388.1,498.6h0M410.9,494.4h0M401.9,490.6h0" stroke="#003048"/><path d="M390,515.2h0M399.1,520.3h0M416,503.9h0M384.8,505.2h0M392.4,516.5h0M394.5,518.4h0M417.5,514.2h0M420.6,520.3h0M400,510.9h0M410.7,511.1h0M411.7,525.7h0M424.3,512.1h0M420,513.3h0M412.6,520.7h0M413.1,516.1h0M381.9,509.9h0M409.2,521.1h0M407.1,516h0M408.2,507.9h0M417.4,494.4h0M383.3,509.8h0M393.8,499.8h0M400.8,509.4h0M404.8,511.3h0M396.7,519.3h0M388.1,519h0M393.1,513.8h0M382.9,494.3h0M421.4,519.6h0M398,515.7h0M403.5,493.1h0M402.1,515.7h0M393.4,508.9h0M390.9,509.3h0M400.8,511.6h0M402.3,509.5h0M399.7,498.1h0M417.1,507.2h0M384.4,514.7h0M417.2,497.6h0M397.9,492.7h0M396,512.4h0M384.6,511.9h0M407.8,512.5h0M425,503.3h0M412.3,512.1h0M395.9,514.8h0M386.8,505.2h0M400.4,510h0" stroke="#186060"/><path d="M412.9,526.1h0M398.3,520.6h0M396.9,524.8h0M399.4,519.7h0M405.2,527.8h0M400.2,529.1h0M405.3,534.1h0M406.7,532.9h0M401.9,530.8h0M404.8,521.1h0M414,522h0M413.2,519.2h0M391.2,521.8h0" stroke="#48a848"/><path d="M425,506h0M414.5,505.1h0M425.2,507.7h0M418.8,511.8h0M391.5,517h0M410,516h0M385.2,497.7h0M385,506.2h0M394.1,493.5h0M397.7,498.6h0M391.6,507.8h0M392.7,503.1h0M386.7,506.6h0M406.5,510.2h0M388.9,498.3h0M415.7,508.7h0M425.7,504.5h0M412.2,496.7h0M385.9,497.5h0M411.3,499.3h0M393.4,497.8h0M410.4,511.6h0M393.6,495.9h0M405.7,507.3h0M397.1,494.3h0M409.9,503.1h0M404.7,494.6h0" stroke="#3060a8"/><path d="M416.4,492.2h0M392.5,507.1h0M421.3,494.9h0M423.6,502h0M385.3,506h0M395.7,507.3h0M400.5,519.9h0M392.8,501.7h0M391.7,508h0M410.5,494.7h0M389.9,511.6h0M403.7,492.3h0M405.1,493.3h0M405.7,491.7h0M424.6,508.6h0M404.9,492.1h0M399.2,497.3h0M418.9,507.7h0M416.5,493.7h0M403,492.1h0M397.1,512.4h0M410.8,498.3h0M402,507h0M381.1,502.3h0" stroke="#304890"/><path d="M393.2,520.6h0M408.9,506.1h0M405.2,510.1h0M422.6,513h0M422.6,518.3h0M423.4,498.2h0M393.9,510.9h0M415.9,512.9h0M399.3,519.1h0M420.6,518.1h0M385.9,504.5h0M395.4,522.5h0M401.6,515.1h0M416,518.6h0M403.7,522h0M396.1,521.5h0M416.2,497h0M409.8,524.8h0M411.5,508.2h0M389.3,509.3h0M411,506.8h0M399.4,525.6h0M419.7,511.4h0M401.9,517.6h0M409.7,506.9h0M384.7,507.9h0M423.3,504.3h0M389.6,508.8h0M411.4,520.9h0M407.1,511.5h0M390.4,515.4h0M422,516.7h0M422,509.7h0M392.3,502.3h0M401.4,518.6h0M404,521.5h0M415.4,504.7h0M416.3,507.4h0M400.1,519.9h0M399.5,516.5h0M407.4,506.4h0M418.3,520.7h0M416.3,500.4h0M391.3,508.8h0M390.2,515.3h0M389.9,512h0M410.9,520.5h0M412.4,513.2h0M424.3,513.7h0M389,514.2h0M382.9,511.6h0M398.7,520.5h0M393,515.8h0M403.7,508.3h0M391.6,514.6h0M409.5,511.8h0M409.8,517.3h0M401.2,518.1h0M401,510.6h0M418.7,518.4h0M397.1,510.5h0M414.4,516h0M395.1,491.9h0M414.1,514.5h0M386.8,508.6h0M394.9,509.1h0M417.2,497.2h0M395.9,512.2h0M423.7,510.9h0M384.5,493.8h0M394.4,495.5h0M409.4,508.4h0M404.8,503.1h0M423.2,517.1h0M394.8,510.3h0M391.1,505.7h0M404.8,491.5h0M423.8,516.7h0M404.1,507.2h0M395,513.1h0M424.8,516.5h0M391.6,496.6h0M392.9,496.5h0M425,506.2h0M416.9,522.1h0M385.2,511.3h0M412.5,506.1h0M387,518.6h0M386.7,517.9h0M388.4,518.3h0M405.4,515.8h0M411.8,502.2h0M413,511.2h0M399.8,514.3h0M413.8,508.2h0M389.4,519.2h0M384.2,498.2h0M401.6,521.7h0M395.8,519.2h0M405.8,507.1h0M420.6,499.7h0M406.7,505.8h0M419,521.3h0M386.3,501h0M412.2,517.9h0M399.5,510.8h0M423.3,517.4h0M400.7,516.6h0M397.9,525.9h0M405.2,520.8h0M408.1,505.9h0M404.9,517.1h0M399.5,517.4h0M403.5,507.1h0M395.9,520.9h0M417.3,516.7h0M414,515.5h0M409.6,524.7h0M412.8,513.4h0M409.2,511.9h0" stroke="#306048"/><path d="M391.3,509.8h0M386.4,514.9h0M405.5,521h0M393.2,509.4h0M385.7,512.9h0M410.6,507.7h0M422.9,510h0M399.9,517.9h0M414.3,518.1h0M396.5,521.7h0M409.3,504.2h0M393.7,515.6h0M421.9,503.6h0M410.1,516.6h0M391.9,515.9h0M411.6,501.7h0M383.5,499.5h0M416.1,515.4h0M420.6,517h0M418.8,508.6h0M407,518.1h0M396.6,498.5h0M386.8,496.3h0M395.8,518h0M426.4,504.4h0M404.6,511.7h0M395.5,513.7h0M384.9,514.3h0M384.9,511.3h0M405.1,521.4h0M396.8,514.6h0M403.6,517.6h0M394.2,492.9h0M416.7,503.4h0M405.4,502.4h0M412.3,507.5h0M416.6,518.1h0M419.9,520.4h0M414.3,517h0M417.6,515.1h0M389.2,508.9h0M385.4,510.5h0M389,503.7h0M391.7,498.8h0M397,516.2h0M413.7,520.8h0M422.6,506.9h0M411.1,507.5h0M394.8,495.2h0M420,507.6h0M399.7,522.8h0M385.6,516.6h0M411.9,522h0M397.7,511.6h0M401.2,517.7h0M390.2,521.9h0M393.5,510.8h0M409.8,516.5h0M412.4,497.6h0M414.6,517.3h0M413,517.9h0M389.1,513.8h0M423.7,516.5h0M396,519.2h0M397.9,523.3h0M412.3,518.2h0M424.9,505h0M414.9,506.5h0M381,509.3h0M416,497h0M411.8,514.7h0" stroke="#186048"/><path d="M393.9,508.6h0M395.1,512.7h0M388.7,517.6h0M387,511.5h0M398.7,507.3h0M425.2,506.2h0M385.5,511h0M397.5,508.9h0M403.8,515.8h0M422.2,518.9h0M410.9,510.7h0M383.8,508.8h0M393.1,509.9h0M412.4,499.5h0M408.3,520.9h0M382.9,499.3h0M422.6,516.5h0" stroke="#184860"/><path d="M414.9,513.4h0M406.8,523.6h0M406.8,519.3h0M390.4,517h0M390.4,517.9h0M413.9,513.7h0M383.2,494h0M390.2,509.4h0M409.8,517h0M413.6,521.3h0M388.7,509.6h0M385,493.2h0M409.4,498.3h0M394.4,509.4h0M408.8,505.8h0M391.2,510.2h0M396.3,519.9h0M397.8,521.3h0M412.2,516.8h0M408.1,513.8h0M408.4,520.6h0M383.2,507.6h0M422.6,516.2h0M413.4,519.7h0M417.6,502.1h0M419.1,516.3h0M423.1,496.8h0M417,517.6h0M407.2,517.7h0M413.6,508.8h0M395.2,520h0M396.3,502.9h0M387.9,518.2h0M393.9,495.7h0M408.3,502.1h0" stroke="#304848"/><path d="M421.3,514.6h0M400.7,529.1h0M423.4,506.5h0M383.8,511.7h0M414.9,522.1h0M384.9,507.8h0M424.6,500.3h0M393.4,524.8h0M393.3,492.9h0M409.5,497.2h0" stroke="#f0d8f0"/><path d="M404,527.4h0M406.3,522.9h0M401.2,523.6h0M398.4,525.3h0M393.9,523.7h0M399.7,520h0M410.4,528.5h0M416,516.5h0M399.8,526.8h0M422.6,515.7h0M411.4,526.1h0M394.1,519.7h0M403.7,534.3h0M404.6,527.6h0M398,526.9h0M402,515.9h0M406.9,520.9h0" stroke="#78a848"/><path d="M418.3,508.2h0M415.2,511.9h0M417.9,515.5h0M404.4,507.3h0M424.1,501.6h0M406,520.2h0M403.8,532.7h0M409.6,526.9h0M395.3,516.5h0" stroke="#fffff0"/><path d="M398.7,520.1h0M418.8,515.5h0M398.2,511.1h0M396.6,521.1h0M392.5,518.3h0M390.9,506.4h0M388,505.3h0M401.9,518.2h0M426.2,508.9h0M393.6,517.4h0M393.4,521.7h0M384.7,515.7h0M422.9,517.5h0M418.5,515.2h0M392.3,518.3h0M401.6,518.5h0M421.9,514.8h0M402.6,515.6h0M393.6,517.8h0M398,520.7h0M408.1,517.4h0M388.9,517.9h0M420.5,518.9h0M413.8,517.9h0M415.1,521.5h0" stroke="#307860"/><path d="M386.6,509.5h0M419,500.6h0M391.8,511h0" stroke="#4830a8"/><path d="M409.5,527.9h0M390.7,522.1h0M407.4,529.4h0M409.7,526.3h0M405.3,520.9h0M406.4,524.7h0M409.9,523.3h0M405.2,530.8h0M398.9,522.7h0M400.2,526.8h0" stroke="#78a830"/><path d="M417.1,508h0M385.5,501h0M387.2,497.8h0M411.4,497.9h0M411.8,519.6h0M425.6,509.7h0M424.6,512.5h0M416.1,512.8h0M394.1,491.7h0M401.8,506h0M398.9,516.6h0M383.9,509h0M418.5,514.2h0" stroke="#3030a8"/><path d="M392.1,496.5h0M400.9,519.9h0M424.9,516.1h0M407.8,505.7h0M410,512.3h0M407.1,522.1h0M383.7,494.9h0M390.2,517h0M403,508h0M394.2,499.8h0M383.8,497h0M385.2,496h0M395.6,490.1h0M425.2,500.9h0M418.1,516h0M385.6,510.2h0M425.3,500h0M424,500.8h0M416.5,498h0M424.3,497.3h0M411.2,518.9h0M417,492.1h0M409.6,509.4h0M423.8,515.8h0M393.9,506.9h0M418.4,515.5h0M391.5,505h0M409.2,505.9h0M404.4,529.6h0M398.2,514.3h0M388.8,517.5h0M389.6,491.2h0M403.4,498h0M387.8,518.8h0M401.8,490.9h0M411.7,524h0M412.8,519.8h0M400.1,494.3h0" stroke="#f0f0ff"/><path d="M389.7,499.5h0M384.9,498h0M385.1,507.7h0M381.6,499.5h0M385.3,497.8h0M384.1,498.7h0M391.5,507.7h0M391.8,505.4h0M410.9,503h0M423.7,502h0M392,501.1h0M388.4,496.5h0M422,495.9h0M404.2,500.2h0M398,501.9h0M408.7,490.7h0M402.2,490.7h0M404.1,510.2h0" stroke="#180018"/><path d="M393.4,496.2h0M416.7,517.8h0M410.9,495.3h0M404.4,512.6h0M386.9,514.2h0M414.3,505.3h0M421.7,507.7h0M417.9,511.3h0M382.6,511.4h0M392.3,500.5h0M393.3,493h0" stroke="#001848"/><path d="M407.5,510h0M397.4,523.7h0M391.1,509.7h0M407.6,518.4h0M402.8,520.8h0M391.4,516.5h0M415.9,520.2h0M412.1,512.8h0M384.9,515.4h0M406.7,527.6h0M413.1,517.1h0M399.3,523.5h0M392,516.9h0M412.4,519.8h0M409.5,524.2h0M405.2,516.1h0M391.8,510.1h0M390.5,510.8h0M404.8,515.4h0M405.8,523.1h0M403.6,507.1h0M392,517.6h0M398,520.5h0M402.6,509.2h0M406.7,517.4h0M400.5,517.4h0M417.4,519.7h0M422.4,516h0M387,510h0M421.1,517.6h0M404.6,521.1h0M391.1,517.5h0M409.4,508.2h0M397.8,526.5h0M404.3,521.2h0M407.7,509.6h0M406.9,528.4h0M393.9,519.1h0M399.9,520.7h0M423.7,517.1h0M401.9,530.5h0M383.4,509.9h0M404.9,519.4h0M417.4,521.5h0M398.3,520.3h0M419.9,511.6h0M413.6,519.6h0M408.6,513.5h0M400.1,519.7h0M407.6,518.2h0M416.1,517.4h0M417.4,516h0M404.3,517.4h0M416.9,521.6h0M417.1,520.6h0M404,525.9h0M393.4,515h0M386,516.1h0M408.5,517.6h0M404.9,519.9h0M397.1,511.5h0M391.3,517.1h0M421.4,518.3h0" stroke="#487848"/><path d="M382.1,500.3h0M395.2,499.7h0" stroke="#3060c0"/><path d="M381.3,501.4h0M410.2,501.3h0M422.5,498.7h0M392,496.3h0M393,507.3h0M391,507.9h0M385.5,509.7h0M409.9,511h0" stroke="#484890"/><path d="M411.8,523.8h0M421.8,519.8h0M396.5,518.9h0M399.9,524.9h0M414.6,522.8h0M410.8,522.5h0" stroke="#489030"/><path d="M398.5,511.1h0M403.2,529.5h0M409.4,524.7h0M395.7,491.7h0M388.2,500.4h0M408.6,507.6h0M393.1,521.9h0M405,526.8h0M382.3,497h0M402.8,504.1h0M381.6,506.4h0M427.1,506.9h0M421.7,497.5h0M390.3,509.4h0M380.2,499.8h0M403.2,530.3h0M414.4,518.5h0M423.2,509.6h0" stroke="#fff0ff"/><path d="M389.4,511.1h0M407.2,490h0M381.6,503.9h0" stroke="#ffd8f0"/><path d="M404.3,507.3h0M398.2,496.7h0M394.3,491.8h0M420.6,513.9h0M402.1,497.4h0M425.2,505.2h0" stroke="#d8f0f0"/><path d="M403.2,493h0M391.9,500.1h0M404.7,510.2h0M415.3,495.4h0M404.6,493.4h0M420.6,504.4h0M389.8,500.7h0M422.4,507.6h0M420.6,509.3h0M425.7,507.7h0M422.3,498.7h0M386,500.6h0M410.3,499h0M413,513.7h0M413.3,511.1h0M391.9,504.4h0M423.9,497.3h0M424.5,500.5h0M401.5,493.4h0M409.3,494.6h0M419.6,512.1h0M407.2,496.1h0M412.8,513.9h0M412.4,507.9h0M384.5,503.3h0M382.9,500.2h0M423.6,499.4h0M420.2,508.5h0M394,501.6h0M420.5,507.6h0M414.7,509.3h0M421.5,513.6h0M423.3,507.8h0M418.4,513.9h0M388.7,511.8h0" stroke="#4848a8"/><path d="M417.4,502h0M411,512.5h0M410.2,520.2h0M413.9,521.8h0M403,520.6h0" stroke="#187848"/><path d="M410.4,520.5h0M395.6,514.4h0M417.2,514.7h0" stroke="#306078"/><path d="M406.4,511.5h0M379.9,500.8h0M401,507.9h0M407.4,495.5h0M414.3,516.9h0M383.7,509.1h0M391.5,492.3h0M394.6,499h0" stroke="#306090"/><path d="M409.4,492.8h0" stroke="#000018"/><path d="M409.1,507.9h0M392.8,505.4h0M392.6,507.6h0M403.6,501.2h0M404.7,496.8h0M409,505.3h0M393.3,492.8h0M413.5,510.8h0" stroke="#181800"/><path d="M413.3,505.5h0" stroke="#481818"/><path d="M408.2,500h0M399.2,501.1h0M385.2,497h0M410.3,502.4h0M392.2,519.3h0" stroke="#d8fff0"/><path d="M388.5,520.7h0M398.1,523.2h0M416.2,522.3h0M410.9,525.3h0M414.7,517.2h0M405,526.3h0M405.9,517h0M397.9,526.7h0" stroke="#48a830"/><path d="M390.5,511.3h0M403.9,520.1h0M387.1,501.8h0M417.1,513.2h0M425.4,515.2h0M413.6,518.8h0" stroke="#486060"/><path d="M415.9,502h0M423.8,499.3h0M396.3,508.3h0M382.3,495.2h0M393.4,501.7h0M384.3,499h0" stroke="#003018"/><path d="M382.1,501.4h0M407.7,505.8h0M414.1,491.3h0M414.5,499.4h0M388,500.6h0M418.2,499.7h0M393.1,507.7h0M381.6,499.6h0M413.9,506.6h0M416.5,494.8h0M396.4,498.7h0M404.9,494.3h0M415.4,497.6h0M401.1,502.3h0M421.9,497.2h0M421.6,511h0M420,495.6h0M408.8,502h0M407.1,489.7h0M393.8,492.8h0M417.5,495.1h0" stroke="#301818"/><path d="M411.5,526.5h0M399.4,522.9h0M400.4,528.5h0M398.3,527h0" stroke="#609048"/><path d="M396.1,514.8h0M404.9,516.4h0" stroke="#186030"/><path d="M393.2,519.9h0M401.8,511.3h0M414.5,522.1h0M398,519.6h0M408.1,519h0M424.5,515.6h0M407,529.2h0" stroke="#489060"/><path d="M394.7,520.7h0M404.9,528.9h0M405.4,529.6h0M413.9,520h0M421.2,518.5h0M395.9,516.6h0M405.7,532.3h0M410.5,523.9h0M402.6,532.3h0M408.5,527.1h0" stroke="#48c048"/><path d="M391.2,511.2h0M412.6,502.3h0M400.1,528.5h0M409.7,493.5h0M393.2,515.5h0M414.5,502.4h0M410.3,495.9h0M415.9,508.9h0M386.6,501.3h0M394.6,510.2h0M423.2,506.7h0M415.9,500.1h0M386,501h0M381,499.9h0M414.7,516.9h0M399.7,519.8h0M396.2,527.8h0M424.9,505.8h0M426,510.4h0M424.1,506.5h0M417.1,517.9h0M410.4,505.8h0" stroke="#f0ffff"/><path d="M413,508.3h0M411.4,501.4h0M394.3,490.3h0M394.2,493.8h0M403.6,503h0M418.6,497.7h0M395.3,495.3h0" stroke="#180030"/><path d="M392.1,517.8h0M416.3,518.6h0M401.6,514.2h0M407.7,515.6h0M407.8,515.3h0M411.3,524.5h0M396,520.5h0M385.1,510.2h0M406.5,515.5h0M415.5,519.3h0" stroke="#486048"/><path d="M394.5,504.4h0M395.6,515.3h0M417.2,509.5h0M392.9,505.6h0M389.8,513.4h0" stroke="#3048c0"/><path d="M424.9,508.7h0M424.3,509.5h0" stroke="#180048"/><path d="M416.6,493.6h0M401,500.1h0" stroke="#301860"/><path d="M391.7,501.4h0M381.7,499.7h0" stroke="#306030"/><path d="M413,505.9h0" stroke="#004848"/><path d="M403.2,530.3h0M401.2,503h0M408.9,509.2h0M398.1,525.1h0M390.7,519.5h0M393.5,506.7h0M411,498.3h0" stroke="#ffffff"/><path d="M413.5,521.8h0M395,515.4h0M406.8,523.6h0M398.1,520.2h0M388.9,519.9h0M407.3,519h0M411.5,521.2h0M394,518.6h0M387.7,514.8h0" stroke="#307830"/><path d="M388.5,509.1h0M414.5,519.7h0M384.4,514h0M404.5,525.8h0M401.8,521.6h0M390.8,515.5h0M392.1,509.5h0M393.9,522.8h0M404.8,530.7h0M397.8,520.3h0M392.7,522.2h0M397.6,520.3h0M394.7,510.6h0" stroke="#309048"/><path d="M395.8,522.4h0M403.7,528.8h0M398.1,517.8h0M403.7,521.6h0M399.6,525h0M400.5,529.7h0M408.4,527.1h0M395.3,519.3h0M403,529.6h0M390.2,520.7h0M394.1,524.4h0M388.1,518.1h0M399.1,525.6h0" stroke="#78c048"/><path d="M405.8,515.6h0M390.6,510.2h0" stroke="#484860"/><path d="M384.3,502.1h0M420.7,510.1h0M388.9,498.1h0" stroke="#486090"/><path d="M394.4,501.9h0" stroke="#fff0ff"/><path d="M411.2,520.1h0M406.9,523.8h0" stroke="#60c060"/><path d="M381.7,509.9h0M396.4,516.6h0M397.6,498.5h0" stroke="#483090"/><path d="M398.9,496.8h0M402.1,499.9h0M394,494.1h0M400.1,507.1h0M423.1,515.5h0M411.5,492.2h0M408.8,504.2h0M425.4,503.2h0M404.8,494.2h0M405.1,506.9h0M404.8,497.4h0" stroke="#001830"/><path d="M412.6,511.2h0" stroke="#300048"/><path d="M390.9,507.7h0" stroke="#ffffd8"/><path d="M420.7,497.9h0" stroke="#000030"/><path d="M383.6,499.2h0M426,506.7h0" stroke="#303060"/><path d="M387.3,510.4h0M386.2,508.8h0M399.9,502.1h0" stroke="#1860a8"/><path d="M394.2,497.9h0M422.4,512.2h0M411.8,515.9h0M383.6,513.3h0M406.6,527.3h0M422.4,503.4h0" stroke="#fff0d8"/><path d="M420.1,494.1h0M415,510.2h0" stroke="#303018"/><path d="M420.6,517.5h0" stroke="#006060"/><path d="M402.6,528.9h0" stroke="#78a860"/><path d="M416.1,522.2h0" stroke="#609030"/><path d="M407.9,521.1h0M399.9,525.9h0M391.4,519.3h0M395.4,521.5h0" stroke="#60a860"/><path d="M381,508.8h0M399.1,496.3h0M398.6,517.4h0M417.6,515.6h0" stroke="#304830"/><path d="M409.3,528.5h0M395.5,514.4h0" stroke="#60d848"/><path d="M393.8,515.9h0M413.1,511.7h0M417,520h0" stroke="#187860"/><path d="M385,515.6h0" stroke="#607848"/><path d="M406,515.9h0M409.5,519.2h0" stroke="#48a860"/><path d="M389.7,514.5h0M418,517.1h0M397.7,519.3h0M413.5,512.7h0M413.6,519.1h0M415.5,518.3h0" stroke="#309060"/><path d="M411.1,499.1h0" stroke="#180000"/><path d="M417.4,522.1h0M402.2,527.3h0M400,528.9h0" stroke="#48c030"/><path d="M387,501.7h0M396.5,498.2h0" stroke="#300018"/><path d="M390.8,507.1h0M422.9,500.2h0" stroke="#181860"/><path d="M385.9,507.1h0" stroke="#484848"/><path d="M391.7,506.7h0" stroke="#483030"/><path d="M425.3,515.2h0" stroke="#f0f0d8"/><path d="M417.8,521.9h0" stroke="#78a818"/><path d="M409.3,509.8h0" stroke="#d8ffd8"/><path d="M398,523.4h0" stroke="#789048"/><path d="M385.2,510.2h0" stroke="#3030c0"/><path d="M402,506.7h0" stroke="#004830"/><path d="M418.3,508.4h0M417.9,516.8h0" stroke="#183060"/><path d="M385.9,497.1h0" stroke="#304818"/><path d="M404.1,502.9h0" stroke="#000000"/><path d="M421.3,509.8h0" stroke="#006048"/><path d="M393.1,520.9h0" stroke="#609060"/><path d="M407.1,515.1h0" stroke="#d8f0ff"/><path d="M401.9,532.8h0" stroke="#78c060"/><path d="M394.3,507h0M411.3,501.7h0" stroke="#1848a8"/><path d="M399.2,513.5h0" stroke="#60d830"/><path d="M402.6,527.2h0M402.7,509.7h0" stroke="#f0ffd8"/><path d="M395.8,491.3h0" stroke="#300030"/><path d="M387.9,519.5h0" stroke="#60a818"/><path d="M407.7,498.2h0" stroke="#f0d8ff"/>
<path d="M406.9,542.1h0M407,541h0M405.2,541.6h0" stroke="#60a848"/><path d="M407.2,541.9h0" stroke="#60c030"/><path d="M405.7,541.6h0" stroke="#78a848"/><path d="M405.7,540.9h0" stroke="#78a830"/>
<path d="M370.8,520.4h0M371,515.5h0M375.3,525.9h0M373.2,516.2h0M373.1,522.5h0M372.3,523.7h0M369,510.4h0M371.2,523.3h0M371.6,515.4h0M374.7,520.3h0M371.2,524.2h0M372.1,517.8h0" stroke="#60a830"/><path d="M369.7,505.1h0" stroke="#180018"/><path d="M370.7,521.9h0M370.3,515.3h0M373.2,516.2h0M373.4,517.9h0M368.5,510.4h0M369.5,511.9h0M372.1,516h0M373.9,523.8h0M371.5,518.8h0M371,518.6h0M374.8,525.6h0M373.8,526.2h0M370.6,517.1h0M368.9,516.1h0M375.4,524.4h0M369.2,516.5h0M371.2,518.1h0M371.1,522.5h0M373.5,523.9h0M370.8,518.7h0M368.2,513.7h0M371.4,524.7h0M370.9,522.5h0M374.6,524.2h0" stroke="#60c048"/><path d="M368.1,509.1h0M369.1,507.2h0" stroke="#001818"/><path d="M368.7,506.6h0" stroke="#301830"/><path d="M370.6,521.9h0M369.9,515.5h0M371.6,515.5h0" stroke="#90d848"/><path d="M370.4,521.9h0M373.6,519.3h0M370.3,521.7h0M371.7,523.2h0M370.4,517.1h0M370.1,517.5h0M374.1,526.5h0M371.8,524.6h0M369.6,518h0" stroke="#60c030"/><path d="M369,507.9h0M370.2,508.9h0M370.5,509.6h0M368.4,509.2h0" stroke="#301818"/><path d="M371.8,519.6h0M372.2,524.7h0M372,516.3h0" stroke="#60a8f0"/><path d="M371.7,509.5h0M368.2,505.3h0M368.7,507.9h0" stroke="#183018"/><path d="M371.3,514.5h0M371.2,513.7h0M369.7,512.2h0M368.9,511.2h0M369.1,512.1h0" stroke="#186048"/><path d="M369.1,507.9h0" stroke="#304848"/><path d="M369,504h0" stroke="#001830"/><path d="M374.3,526.6h0M370.8,522.1h0M370,520.6h0M371.7,524.3h0M372.4,523.8h0M371,515.2h0M371.5,526.2h0M370.2,516h0M373,517.3h0M374.9,525.6h0M373,525.3h0M370.2,518.2h0M369.9,519.1h0M373.9,523.5h0M373.9,523.3h0M370.1,519.3h0M371.7,521.8h0M373.3,518.5h0M373.8,524.9h0M372,521h0M368.2,513.6h0M373.5,525.3h0M375,522.4h0M370.5,522h0M374,523.6h0M371.2,516.8h0M371.4,511.5h0M375.2,526.5h0M373.5,520.8h0M375.1,525.7h0M375.4,525.9h0M371.3,525.3h0M373,525.2h0M373.4,519.7h0M373.6,523.7h0" stroke="#60a848"/><path d="M370.2,522.4h0" stroke="#60c060"/><path d="M369.1,509.2h0M369.1,507.1h0M371.8,514h0M370.4,513.9h0M371.5,514.6h0M367,508.4h0M371.8,513.6h0" stroke="#306048"/><path d="M371,510.1h0M368.2,510.2h0" stroke="#184830"/><path d="M371.9,522.9h0M372.3,522.9h0M369.6,518.5h0M370.7,516.2h0M370.5,519.8h0M371.7,519.8h0M372,518.2h0M373.1,525.6h0" stroke="#90c048"/><path d="M372.3,517.1h0" stroke="#a8c048"/><path d="M369.3,514.8h0" stroke="#489060"/><path d="M371.9,515.5h0M370.5,520.4h0M368.2,511.5h0M374.5,525.9h0" stroke="#78a830"/><path d="M368.5,515h0" stroke="#184848"/><path d="M370.2,509.2h0M371.9,510.9h0" stroke="#486060"/><path d="M368.8,513.6h0M371.3,509h0M371,510.7h0M371.9,509.1h0M369.7,514.5h0M370.3,511.5h0M372.2,510.8h0M367.5,509.1h0" stroke="#306060"/><path d="M370.8,515h0M372,515h0M372.1,513.5h0M371.2,514.9h0M369.5,512.5h0M371.2,515.1h0M369.4,512.4h0M369.7,512.9h0M368.1,511h0M370.7,511.6h0M370.9,511.5h0M369.9,513.1h0" stroke="#489048"/><path d="M368.2,504.5h0M368.1,506.6h0M367.2,508.2h0M367,507.5h0M371.2,509.5h0M372,509.7h0M368,506.6h0M370.3,509h0" stroke="#181830"/><path d="M369.5,515.2h0M370.7,512.2h0M372.7,512.8h0M367.7,510.3h0" stroke="#309048"/><path d="M372.1,511.7h0M368.3,510.5h0" stroke="#607848"/><path d="M371.7,524.4h0M372,517.9h0" stroke="#48a830"/><path d="M369.2,517.5h0M371.7,519.1h0M370.2,511.4h0M370.2,520.4h0M373.9,523.6h0M371.8,523.9h0" stroke="#78a848"/><path d="M371,515.1h0M368.9,513.6h0M371.6,514.8h0" stroke="#186060"/><path d="M370.9,509.5h0M369.3,509.8h0M368,505.4h0M371.7,510.2h0M369.2,505.9h0M369.1,506.2h0M370.3,510.2h0M367.8,509.6h0M368.3,507.2h0M371.8,509.6h0M367.7,505.6h0M368.5,508.8h0M367.1,507.4h0" stroke="#181818"/><path d="M371.1,515.6h0" stroke="#609030"/><path d="M373.9,523.9h0M373.9,523.3h0" stroke="#90c060"/><path d="M374.2,526.9h0" stroke="#48c030"/><path d="M368.9,509.4h0" stroke="#481830"/><path d="M372.2,514.5h0M372.5,512h0" stroke="#487848"/><path d="M370,507.6h0M369.3,505.5h0M368.6,506.9h0" stroke="#183030"/><path d="M367.5,509h0M370.1,506.3h0M369.9,510.2h0M368,507.5h0" stroke="#303030"/><path d="M370.4,518.9h0M372.2,517.2h0M375.6,525.4h0M371.6,520.3h0M371.4,520.8h0M374.6,519.3h0" stroke="#78c048"/><path d="M371.5,510.7h0" stroke="#489030"/><path d="M367.8,508.7h0M367.2,509.2h0" stroke="#183048"/><path d="M369.9,508.3h0M370.2,508.3h0" stroke="#181848"/><path d="M374.8,525.4h0" stroke="#78a860"/><path d="M368.8,513.7h0" stroke="#487830"/><path d="M368.1,506.8h0" stroke="#003048"/><path d="M370.8,522.5h0" stroke="#78c060"/><path d="M371.4,521.1h0" stroke="#90d860"/><path d="M372.2,522.2h0" stroke="#60a8d8"/><path d="M372,517.1h0" stroke="#48a848"/><path d="M371.5,515.8h0" stroke="#48c048"/><path d="M370.5,516.2h0" stroke="#609048"/><path d="M373.1,523.1h0" stroke="#6090f0"/><path d="M371.9,515.4h0" stroke="#78d848"/><path d="M369.6,516.2h0M370,517.2h0M374.9,527.6h0" stroke="#78c030"/><path d="M372.9,524.6h0" stroke="#48a8f0"/><path d="M373.4,522.6h0" stroke="#60c0d8"/>
<path d="M390.2,539h0M401.1,547.5h0M389.7,535.9h0M393.1,537.8h0M401,546.2h0M395,542.3h0M397.3,546.2h0M398,536.9h0M394,531.7h0M400.6,546.8h0M399,545h0M388.7,529.5h0M395.8,543.6h0M387,530.1h0M392,544.1h0M394.5,542.8h0M387.9,526.4h0M392.7,538.7h0M395.5,536.8h0M392.1,529.6h0M392.9,535.8h0M395.4,532.4h0M395.8,544.8h0M398.9,539h0M391.9,540.6h0M390.2,528.9h0M399,542.1h0M390.2,534.9h0M399.6,546.9h0" stroke="#f0f0f0"/><path d="M391.3,541.2h0M392.3,540.7h0M388.9,527.8h0M388.8,534.5h0M392.9,542.6h0M394.3,540.3h0M399,544.8h0M392.5,538.3h0M394.9,544.5h0M387.5,529.4h0M396.9,535.9h0M396.3,534.5h0M397.7,546.5h0M400.5,547.4h0M391.7,533.1h0M391.3,539.3h0M389.8,533.3h0M393.8,537.5h0M395.6,544.9h0M398.5,541.5h0M397,547.4h0M389.1,535.7h0M389.8,538.3h0M397.9,536.9h0M386,529.2h0M391.3,534.2h0M399.6,544.3h0M399.9,548.7h0M399,542.4h0M392.9,542.3h0M397.5,549.7h0M400.2,549.6h0M396.7,541.3h0M396.8,535.4h0M400.5,547.4h0M395,541.9h0M398.6,541.7h0M393,537.7h0M391.5,532.9h0M394.8,534.7h0M393.8,536.1h0M397.1,549.4h0M396.6,549.3h0M401.2,546.6h0M401.4,547.8h0M394.5,534.1h0M391.7,542.7h0M390.7,541.7h0M388.1,530.8h0M393,542.4h0M392.1,542.6h0M395.4,534.5h0M392,535.1h0M390.8,534.3h0M391.8,540.5h0M392.5,532.2h0M388.7,534.6h0M389.7,537.4h0M392.3,531.4h0M393.1,539.3h0M388.8,535.1h0M386.4,529h0M391.9,531.3h0M392.6,532.9h0M390.7,531.6h0M395.6,533h0M399.4,549.7h0M393.1,543.6h0M389.8,535.1h0M396,535.3h0M390.7,530.7h0M392.9,540.6h0M400.3,543.6h0M400.1,541h0M391.3,541.4h0M394.4,542.4h0M392.5,539.4h0M400.7,549.2h0M396.1,542.8h0M393.2,532.1h0M393.3,534.9h0M387.3,529.8h0M391.3,542.4h0M396.9,542.4h0M395.9,541.4h0M394.5,531.4h0M389.4,536.5h0M399.2,539.6h0M393.4,533h0M397,535.9h0M394.4,545.2h0M395.6,539.3h0M397.2,536.4h0M391.6,529.5h0M400.6,544.6h0M396.7,537.3h0M400.7,546.4h0M393.9,540.9h0M389.8,537.4h0M396.4,546.1h0M394.6,546.5h0M393.8,542.6h0M394.7,533.1h0M392.5,539.6h0M397.5,547h0M398.9,541.5h0M398.3,542.9h0M395.7,535h0M399.4,545.4h0M389.6,529.3h0M396.2,541.2h0M400.2,542.4h0M393,540.9h0M390.8,532.2h0M391.4,535.3h0M392.2,539.3h0M396.1,535.5h0M400.5,546.7h0M389.7,529.8h0M391.7,534.2h0M396.6,544.6h0M400.2,545.7h0M392.6,543.4h0M397.1,545.5h0M395.6,536.4h0M389.7,536.8h0M392.2,543.2h0M390.6,540.7h0M390.3,540h0M394.8,542.5h0M395.6,545.3h0M390.6,531.2h0M390.1,530h0M395.3,535.4h0M395.6,543.7h0M396.1,545.2h0M397.8,547.5h0M390.2,532.1h0M392.1,535.5h0M390.5,537.3h0" stroke="#78c048"/><path d="M392.2,535.5h0M389.7,525.7h0M397.8,550.1h0M393.4,530.5h0M391.6,537.6h0M387.4,526.3h0M394.3,540.4h0M391.3,536.2h0M386.6,526.8h0M397.9,536.7h0M389.5,526.2h0M391.3,528.9h0M400.3,549.5h0M390.3,529.7h0M390.4,538.8h0M389.4,530.8h0M392.3,529.4h0M389.6,530.3h0M391.1,532.9h0M390.7,533.2h0M396.9,548.1h0M391.1,530.9h0M391.3,531.9h0M393.3,543.6h0M395.5,535.9h0M387,531.2h0M391.9,530.1h0M393.2,533.9h0M393.4,532.2h0M393.1,532.9h0M391.3,530.1h0M390.1,525.9h0M391.5,535.4h0M390.7,530.2h0M389.6,529.2h0M389.5,526.6h0M386.5,527.4h0M386.8,532.1h0M397.5,548.7h0M393.1,538.8h0M399.9,548.3h0M390.6,540.4h0M387.7,525.6h0M392.2,542.6h0M395.2,542h0M385.8,528.4h0M390.4,533.6h0M389.1,536.6h0M392.7,530.4h0M392.9,539.6h0M391.5,530.7h0M399.2,543.5h0M397.3,536.9h0M389.8,534.3h0M389.3,530.4h0M392.3,534.3h0M387.4,525.3h0M394.1,532.6h0M392.7,539.1h0M387.2,529.2h0M396.5,536.4h0M393.7,533.2h0M393.7,535.2h0M390.2,534.5h0M394.5,532.6h0M393.8,540.5h0M392.9,536.9h0M386.4,526.9h0M395.1,535.2h0M391,535.5h0M392.8,530.4h0M394.8,542.5h0M388.9,533.1h0M394.7,546.9h0M392.1,529.3h0M389.8,534.8h0M392.7,531.5h0M390.6,533.9h0M394.1,532.1h0M386.9,531.8h0" stroke="#60c048"/><path d="M387.5,525.8h0M395.6,537.6h0M392.9,545.1h0M396.9,546.1h0M393.6,542.9h0M388.2,532.3h0M394.7,531.6h0M396.3,547.2h0M398.7,546.7h0M390.6,534.7h0M387.1,529.5h0M386.7,525.7h0M392.2,530.3h0M398.4,537.7h0M388.9,530h0M394.6,535.2h0M395.4,536.5h0M385.5,528.7h0M388.6,527.4h0M394.8,531.9h0M393.4,534h0M386.8,527.5h0M392.3,532.7h0" stroke="#60a830"/><path d="M390.7,530.1h0M386.3,530.1h0" stroke="#ffd8ff"/><path d="M400.2,541.6h0M390.3,532.7h0M393.1,542.8h0M389.5,535.4h0M397.9,545.3h0M393.5,533.5h0M391.1,533.5h0M391.6,532.1h0M392.4,539.9h0M392.9,530.5h0M393.7,529.6h0M391.8,533.5h0M390.3,529.1h0M398.1,538.1h0M393.5,532.9h0M392.1,529.7h0M389.7,534.4h0M392,534.4h0M390.7,540.2h0M391.1,535.8h0M393.2,531.3h0M395.9,533.7h0M389.8,530.7h0M395.9,546.7h0M397.4,546.6h0M390.9,533.9h0M394.6,543.4h0M390.3,538.5h0M393,538.3h0M394.5,532.7h0M393.3,538.8h0M385.7,529.4h0M386.4,528.7h0M389,535.9h0M392.9,533.6h0M395.1,535.3h0M386.2,528.6h0M389.6,533.3h0M392.3,541.4h0M388.8,532.8h0M393.3,535.3h0M391.5,543.2h0M389.6,535h0M401.1,545.8h0M395.3,535.3h0M390.9,539.7h0M389.8,537.4h0M386.2,527.7h0M396.5,537h0M390.9,529.2h0M396.7,536.1h0M400.1,546.7h0M392,534.3h0M394.2,533h0" stroke="#78a848"/><path d="M388.6,525.1h0M386.7,526.9h0M386.1,527.6h0M390.3,530.7h0M386.1,530.1h0M393.6,531.9h0M392,527.9h0M392.3,530.8h0M395.9,533h0M392.7,543.3h0M391.9,533.5h0M391.8,527.8h0M386.7,527.6h0M394.8,540.8h0M391,529.4h0M390.5,539.5h0M387.1,531.8h0" stroke="#60c030"/><path d="M393.8,542.3h0M399.5,542.7h0M393.8,538.1h0M392.2,544.8h0M393,543.5h0M394.2,536.8h0M396.8,547.9h0M394.6,545.2h0M393,545.3h0M397.9,542.3h0M398.8,542.9h0M398.6,539.1h0M391.3,541.3h0M399.7,545.5h0M390.6,533.7h0" stroke="#78d848"/><path d="M395.3,542.8h0M392.1,534.8h0M397.8,544.6h0M392.3,542.1h0" stroke="#f0f0d8"/><path d="M392.4,528.4h0M400.5,549.4h0M394.1,547.6h0M389.3,534.5h0M388.2,531.4h0M396.3,542.7h0M394.7,531.9h0M395.2,535.6h0M395.9,547.9h0M399.9,544.9h0M387.7,535h0M388,535.3h0M391.7,541h0M387.4,525.5h0M400.4,544.7h0M390.8,532.4h0M391.9,535.2h0M394.7,544.2h0M390,540.2h0M387.9,527.3h0M395.7,537.4h0M395.5,536.5h0M386.1,529.8h0M392.1,528.3h0M392.2,532.1h0M399.8,546h0M399.6,546.3h0M387.1,530.1h0M391.6,534.5h0M388.3,527h0M391.6,541.8h0M388.7,537.2h0M394.3,533h0M387.3,526.3h0M392.9,529h0M395.3,534.1h0M387.2,530.8h0M390.1,540.3h0M392,528.9h0M396,546.7h0M389.8,525.8h0M392.9,530.9h0M394.4,535.4h0M390.5,534.6h0M393.5,542.2h0M398.7,544.6h0M388.5,526.3h0M386.4,530.1h0M393.3,535.6h0M389.5,529.3h0M386.3,528.1h0M391.5,530.2h0M395.5,532.5h0M395.4,537h0M392.7,539.9h0M390.2,530.1h0M393.9,534.2h0M391.7,530.7h0M391.3,529.5h0" stroke="#60a848"/><path d="M393,541.4h0M393.9,535.6h0M398.3,546.1h0M396.8,544h0M394,538.4h0M395.9,535.9h0M393.9,532.9h0M395.6,541.5h0M395.4,548.2h0M391.3,531.9h0M387.1,530.6h0M391.1,541.2h0M391.8,543.3h0M386.7,529.3h0M387,529.9h0M397,546.9h0M390.3,534.7h0M394.7,542.3h0M400.1,544.5h0M397.5,544.4h0M400.6,546.8h0M399.1,542.6h0M397.7,543.6h0M400.5,548.8h0M394.1,535.8h0M398.6,539.1h0" stroke="#78c060"/><path d="M394.4,543.3h0M392.2,535.2h0M391,531.5h0" stroke="#60d848"/><path d="M397.2,547.3h0M391.9,540.4h0M391.7,543.3h0M400.7,549.6h0M395,537.1h0" stroke="#78d860"/><path d="M390.8,526.1h0M390.1,529.2h0M395,537.1h0" stroke="#f0ffff"/><path d="M396.6,546.6h0M390.3,539.5h0M397.3,548.3h0M399.3,548h0M399.2,547.6h0M394.1,542.2h0M401.1,547.1h0M400.2,549h0M391.6,542.6h0M399.7,549.9h0M400.6,546.4h0M397.5,544h0M388.7,535.7h0M401.2,548h0M392.5,542.8h0M399,546.4h0M399.5,544.4h0M394.4,540.2h0M398.8,549.1h0M400.2,548.1h0M391.7,540.2h0M401.1,546.4h0M398.7,547.8h0M398.4,546.3h0M391.2,539.4h0M398,545.6h0M389.5,538.3h0M395.2,546.2h0M396,548.6h0M398.1,545.4h0M388.7,536.5h0M392,542.1h0M391.3,542.8h0M396.7,547.4h0M401.1,547.8h0M394.7,543.7h0M400.4,547.6h0M391.1,541.5h0M398.5,548.5h0M398.9,541.2h0M392.6,544.5h0M399.5,545.6h0M398.6,547.8h0M395.6,545.9h0M397.7,546.5h0M391.9,541.1h0M390.8,542.1h0" stroke="#90c048"/><path d="M386.5,529.3h0" stroke="#60c018"/><path d="M397.5,545.8h0M395.5,546.4h0M398.7,545.6h0M396.9,544h0M399.9,550.4h0M399.9,547.7h0M394.1,546.4h0M394.1,547.3h0M394.4,548.2h0M397.2,550.6h0M400.9,547.1h0" stroke="#90d848"/><path d="M396.2,547.1h0M397.9,539.8h0M389.7,531h0M393.7,534.7h0M397.2,548.3h0M393.5,546h0M388.7,535.5h0M395.3,542.3h0M397,549.4h0M392.4,536.3h0M393.3,534h0" stroke="#fff0f0"/><path d="M387,526.3h0M386.9,532.7h0M392.6,533.6h0M393.5,530.1h0" stroke="#60a860"/><path d="M392.5,540.7h0M391.3,529.4h0M395.8,544.3h0M396.5,536.5h0M393.2,541.6h0M392,537.6h0M397.2,550.6h0" stroke="#f0fff0"/><path d="M396,542.5h0M390.2,533.5h0M394.9,547.6h0M398.4,546.5h0M394.7,542.1h0M389.8,533.3h0M400.1,550.2h0M399.1,544.2h0M387,528.4h0M394.4,542.1h0M392.2,538.3h0M397.6,543.5h0M386.7,529.2h0M396.9,536.9h0M395.6,535.4h0M391.7,529.2h0M399.1,540.6h0M391,532.6h0M390.3,537h0M389.5,539.2h0M393.8,542.6h0M396.9,548.1h0M389.4,531.2h0M391,541.8h0" stroke="#78c030"/><path d="M397.6,544.7h0" stroke="#48c060"/><path d="M393.5,531.2h0M390.6,541.9h0M390.2,530.3h0M395.3,543.1h0M398.6,540.1h0M392.7,533.6h0M388.9,536.9h0M389.4,538.1h0" stroke="#78a860"/><path d="M392.8,541.4h0M386.9,531.2h0M385.8,527.7h0M388.2,530.5h0M389.3,526.6h0M389.5,538.3h0M395.7,537.1h0M394.2,531.3h0M392.6,540.5h0M398.3,537.7h0" stroke="#78a830"/><path d="M401.1,545.2h0M390.3,539.5h0M396.2,536.1h0" stroke="#48a848"/><path d="M391.1,533.3h0" stroke="#789030"/><path d="M396.9,549.2h0M400.8,549.5h0M396.1,543.1h0M397.6,545.3h0M398.2,547.2h0M394.8,532.3h0M397.9,544.1h0M401.2,547.6h0M395.7,536.3h0M399.7,543.8h0M400.9,549.3h0M395.7,542.5h0M400,543.3h0M396.1,546.8h0" stroke="#90c060"/><path d="M389.9,532.7h0M390.5,526.4h0" stroke="#d8fff0"/><path d="M391.5,534.6h0M387.7,525.8h0M393.4,538.9h0M390.6,541h0M389.6,535.8h0" stroke="#60c060"/><path d="M398.5,542.1h0M392.8,539.6h0" stroke="#48c030"/><path d="M401.5,547.5h0M400.5,550.1h0" stroke="#90d860"/><path d="M399.1,546.5h0M390.2,539.5h0" stroke="#90c030"/><path d="M395.9,533.6h0M392.9,528.5h0M388,531.2h0" stroke="#48c048"/><path d="M393.7,535.1h0M398.6,545.6h0M395.6,547.4h0M399.4,548.5h0M396.4,545.2h0" stroke="#90a848"/><path d="M399.4,544.7h0" stroke="#a8c048"/><path d="M397.7,541.1h0M401.3,547.9h0M389.1,533.3h0M399,550.8h0M385.9,529.5h0M392.8,539.7h0M387.1,529.5h0" stroke="#f0f0ff"/><path d="M393.2,545.6h0" stroke="#789060"/><path d="M394.3,534.4h0" stroke="#60d830"/><path d="M397.9,543.9h0M390.5,529.5h0" stroke="#fff0ff"/><path d="M398.1,539.8h0" stroke="#fffff0"/><path d="M389.7,535.8h0" stroke="#f0d8f0"/><path d="M388.3,530.6h0" stroke="#60d860"/><path d="M390.7,531.3h0" stroke="#609048"/><path d="M392.9,535.7h0" stroke="#fffff0"/>
<path d="M385.8,539h0M381.9,532.9h0M382.1,535.8h0" stroke="#4890f0"/><path d="M384.3,535.5h0" stroke="#78c0ff"/><path d="M384.8,542h0M381.2,536.6h0M383.5,540.9h0M385.1,539.9h0M380.5,539.2h0M384.5,544h0M382.1,535h0M385.2,534.6h0M385.1,543.4h0M380,535.8h0M380.7,534.6h0M380.8,540.8h0M385.4,543.1h0M383.4,532.9h0M382,539.3h0M381.2,534.4h0M383.1,535.9h0M383.3,536.7h0M382.5,540.8h0M380.9,541.1h0M384.7,539.3h0M381.7,537.6h0M385.3,536.9h0M382.3,533.7h0M383.8,533.5h0M382.5,534.1h0M381.9,542.2h0M381,539h0M385.7,542h0M381.2,533.3h0M385.1,541.3h0M382.1,540.1h0M384,541.8h0" stroke="#60a8f0"/><path d="M383.6,536.4h0" stroke="#4890c0"/><path d="M382.6,543.6h0M382,534.2h0M383.9,534.3h0M384.6,536.3h0M386.3,539.3h0M382.3,543.1h0M381.4,541.3h0M385.6,542.1h0M384.6,537.7h0M380.4,538.7h0M382.9,542.7h0M386,537.1h0M380.8,539.7h0M382.6,532.6h0M383.1,542.1h0M381.2,537.9h0M381.8,542.8h0" stroke="#60a8d8"/><path d="M384.6,540.3h0M382.9,541.9h0M380.5,534.4h0" stroke="#4878d8"/><path d="M381.1,540.9h0M380.7,536.8h0M383.9,534h0M382.8,540.8h0" stroke="#78a8f0"/><path d="M382.5,539.2h0" stroke="#60a8ff"/><path d="M382.8,537.1h0" stroke="#fff0f0"/><path d="M380.3,539.5h0M383.8,540.6h0M382.5,535.3h0M384.6,537.2h0M381.4,533.2h0M384.6,533.8h0M382.5,540.8h0M382.1,533.9h0" stroke="#60c0d8"/><path d="M382.2,540.1h0M381.3,539.9h0M380.7,538.5h0M381.3,541.5h0" stroke="#78a8d8"/><path d="M384.4,535.5h0M381.1,534.5h0M383,533.6h0M383.2,534.8h0M381.4,535h0" stroke="#48a8d8"/><path d="M383.6,533.7h0M380.7,540h0M380.6,538.8h0" stroke="#f0f0f0"/><path d="M383.1,539.8h0M384.9,543.2h0M381.7,535.5h0M382.8,540.1h0M383.2,534.1h0M384.9,533.8h0" stroke="#48a8f0"/><path d="M385.4,541.1h0M383.6,539h0M385.8,539.7h0M383,542h0M385.2,539.6h0M382.4,541h0M383.3,542.2h0M384.3,536.7h0M381.7,534.2h0M381.2,539.4h0M382.5,541.4h0M382.2,539.3h0M382.8,534.6h0M380.6,539.1h0" stroke="#60c0f0"/><path d="M385,539.2h0M383.9,540.8h0M384.4,537.7h0M385.1,537.7h0M380.3,539.3h0M383.6,543.6h0" stroke="#4890d8"/><path d="M381.9,539.3h0" stroke="#d8f0f0"/><path d="M382.4,541.4h0M381.3,535.8h0M380.8,534.8h0" stroke="#6090d8"/><path d="M384,537.9h0" stroke="#d8fff0"/><path d="M381.6,534.1h0M385.3,540.4h0M384.7,541.8h0" stroke="#f0f0ff"/><path d="M381.4,534.3h0M384,540.5h0" stroke="#6090f0"/><path d="M382,534.9h0M382.6,539.5h0" stroke="#48a8ff"/><path d="M382.1,535.6h0" stroke="#f0fff0"/><path d="M382.4,539.3h0" stroke="#3090f0"/><path d="M382.7,538.1h0" stroke="#7890d8"/><path d="M383.1,539h0" stroke="#78a8ff"/><path d="M383.7,532.7h0" stroke="#60c0ff"/><path d="M383.6,534.4h0" stroke="#4878f0"/><path d="M382.2,540.8h0" stroke="#f0f0d8"/><path d="M381.9,538.3h0" stroke="#3090d8"/>
</g>
<g fill="none" stroke="#8a8a8a" stroke-width="0.6" stroke-linejoin="round">
<path d="M386.3,324 399.4,317 412.3,317 428,329.2 427.7,347 421,354.4 402.7,348Z"/>
<path d="M360.4,336.5 372,325 380.6,326 386.3,340.4 388.3,354.8 380.6,361 366.5,356.7Z"/>
<path d="M384.4,358.7 390.2,352 400.8,349 416.2,355.8 419,367.3 409.4,380.8 400.8,384.6 390.2,377Z"/>
<path d="M373.5,405.2 398.8,398.5 420,404.2 435,433 425.8,448.5 416.2,451.3 397.9,449.4 376.7,428.3Z"/>
<path d="M359.4,428.3 368,425.4 397.9,449.4 396.9,459 390.2,463.8 367.1,446.5Z"/>
<path d="M402.7,452.3 421,459 415.2,469.6 400.8,473.5 394,468.7Z"/>
<path d="M375.8,495 392.1,488.3 419,494 432.5,505.6 429.6,526.7 412.3,536.3 400.8,531.5 386.3,522Z"/>
<path d="M361.3,507.5 366.2,501.7 372.9,502.7 379.6,525.8 377.7,529.6 369,532.5Z"/>
<path d="M377.7,535.4 382.5,523.8 387.3,522 400.8,533.5 406.2,546 400.8,555.6 389.2,553 379.6,546Z"/>
</g>
<g font-size="6.6" fill="#1a1a1a">
<text x="350.4" y="313.6" textLength="57.6" lengthAdjust="spacingAndGlyphs">EVASIVE PHENOTYPE</text>
<text x="350.4" y="396.6" textLength="68.6" lengthAdjust="spacingAndGlyphs">EXHAUSTED PHENOTYPE</text>
<text x="349.8" y="485.2" textLength="51.2" lengthAdjust="spacingAndGlyphs">COLD PHENOTYPE</text>
</g>
<g font-size="7" fill="#1a1a1a">
<text x="422.3" y="323.6" textLength="18.5" lengthAdjust="spacingAndGlyphs">Tumor</text>
<text x="351.7" y="368.9" textLength="24.5" lengthAdjust="spacingAndGlyphs">CD4 TILs</text>
<text x="422" y="380.5" textLength="24.5" lengthAdjust="spacingAndGlyphs">CD8 TILs</text>
<text x="422.3" y="404.2" textLength="18.5" lengthAdjust="spacingAndGlyphs">Tumor</text>
<text x="351.7" y="464.9" textLength="24.5" lengthAdjust="spacingAndGlyphs">CD4 TILs</text>
<text x="422" y="472.6" textLength="24.5" lengthAdjust="spacingAndGlyphs">CD8 TILs</text>
<text x="422.3" y="494.2" textLength="18.5" lengthAdjust="spacingAndGlyphs">Tumor</text>
<text x="347.9" y="540.3" textLength="24.5" lengthAdjust="spacingAndGlyphs">CD4 TILs</text>
<text x="411.3" y="556.6" textLength="24.5" lengthAdjust="spacingAndGlyphs">CD8 TILs</text>
</g>
<g shape-rendering="crispEdges">
<rect x="458.1" y="328.9" width="9" height="5.1" fill="#cd5f32"/>
<rect x="458.1" y="333.9" width="9" height="5.1" fill="#d25037"/>
<rect x="458.1" y="338.9" width="9" height="5.1" fill="#cd4137"/>
<rect x="458.1" y="343.9" width="9" height="5.1" fill="#b93732"/>
<rect x="458.1" y="348.9" width="9" height="5.1" fill="#a0372d"/>
<rect x="458.1" y="353.9" width="9" height="5.1" fill="#82322d"/>
<rect x="458.1" y="358.9" width="9" height="5.1" fill="#692d28"/>
<rect x="458.1" y="363.9" width="9" height="5.1" fill="#502323"/>
<rect x="458.1" y="368.9" width="9" height="5.1" fill="#37201e"/>
<rect x="458.1" y="373.9" width="9" height="5.1" fill="#1c1e1c"/>
</g>
<text x="462.6" y="326.7" font-size="3.9" text-anchor="middle" fill="#6e6e6e">PD-1</text>
<g font-size="2.5" font-weight="bold" fill="#2a2a2a" text-anchor="end">
<text x="456.2" y="332.2">97</text>
<text x="456.2" y="337.2">82</text>
<text x="456.2" y="342.2">68</text>
<text x="456.2" y="347.2">53</text>
<text x="456.2" y="352.2">39</text>
<text x="456.2" y="357.2">24</text>
<text x="456.2" y="362.2">9</text>
<text x="456.2" y="367.2">-5</text>
<text x="456.2" y="372.2">-19</text>
<text x="456.2" y="377.2">-34</text>
</g>
<g shape-rendering="crispEdges">
<rect x="488.1" y="328.9" width="9" height="5.1" fill="#644ba5"/>
<rect x="488.1" y="333.9" width="9" height="5.1" fill="#5f48a0"/>
<rect x="488.1" y="338.9" width="9" height="5.1" fill="#5a489e"/>
<rect x="488.1" y="343.9" width="9" height="5.1" fill="#55489b"/>
<rect x="488.1" y="348.9" width="9" height="5.1" fill="#504896"/>
<rect x="488.1" y="353.9" width="9" height="5.1" fill="#4e4894"/>
<rect x="488.1" y="358.9" width="9" height="5.1" fill="#443e73"/>
<rect x="488.1" y="363.9" width="9" height="5.1" fill="#322a48"/>
<rect x="488.1" y="368.9" width="9" height="5.1" fill="#26202d"/>
<rect x="488.1" y="373.9" width="9" height="5.1" fill="#191c19"/>
</g>
<text x="492.6" y="326.7" font-size="3.9" text-anchor="middle" fill="#6e6e6e">PD-L1</text>
<g font-size="2.5" font-weight="bold" fill="#2a2a2a" text-anchor="end">
<text x="486.2" y="332.2">97</text>
<text x="486.2" y="337.2">82</text>
<text x="486.2" y="342.2">68</text>
<text x="486.2" y="347.2">53</text>
<text x="486.2" y="352.2">39</text>
<text x="486.2" y="357.2">24</text>
<text x="486.2" y="362.2">9</text>
<text x="486.2" y="367.2">-5</text>
<text x="486.2" y="372.2">-19</text>
<text x="486.2" y="377.2">-34</text>
</g>
<g shape-rendering="crispEdges">
<rect x="458.1" y="414.2" width="9" height="5.1" fill="#cd5f32"/>
<rect x="458.1" y="419.2" width="9" height="5.1" fill="#d25037"/>
<rect x="458.1" y="424.2" width="9" height="5.1" fill="#cd4137"/>
<rect x="458.1" y="429.2" width="9" height="5.1" fill="#b93732"/>
<rect x="458.1" y="434.2" width="9" height="5.1" fill="#a0372d"/>
<rect x="458.1" y="439.2" width="9" height="5.1" fill="#82322d"/>
<rect x="458.1" y="444.2" width="9" height="5.1" fill="#692d28"/>
<rect x="458.1" y="449.2" width="9" height="5.1" fill="#502323"/>
<rect x="458.1" y="454.2" width="9" height="5.1" fill="#37201e"/>
<rect x="458.1" y="459.2" width="9" height="5.1" fill="#1c1e1c"/>
</g>
<text x="462.6" y="412" font-size="3.9" text-anchor="middle" fill="#6e6e6e">PD-1</text>
<g font-size="2.5" font-weight="bold" fill="#2a2a2a" text-anchor="end">
<text x="456.2" y="417.6">97</text>
<text x="456.2" y="422.6">82</text>
<text x="456.2" y="427.6">68</text>
<text x="456.2" y="432.6">53</text>
<text x="456.2" y="437.6">39</text>
<text x="456.2" y="442.6">24</text>
<text x="456.2" y="447.6">9</text>
<text x="456.2" y="452.6">-5</text>
<text x="456.2" y="457.6">-19</text>
<text x="456.2" y="462.6">-34</text>
</g>
<g shape-rendering="crispEdges">
<rect x="488.1" y="414.2" width="9" height="5.1" fill="#644ba5"/>
<rect x="488.1" y="419.2" width="9" height="5.1" fill="#5f48a0"/>
<rect x="488.1" y="424.2" width="9" height="5.1" fill="#5a489e"/>
<rect x="488.1" y="429.2" width="9" height="5.1" fill="#55489b"/>
<rect x="488.1" y="434.2" width="9" height="5.1" fill="#504896"/>
<rect x="488.1" y="439.2" width="9" height="5.1" fill="#4e4894"/>
<rect x="488.1" y="444.2" width="9" height="5.1" fill="#443e73"/>
<rect x="488.1" y="449.2" width="9" height="5.1" fill="#322a48"/>
<rect x="488.1" y="454.2" width="9" height="5.1" fill="#26202d"/>
<rect x="488.1" y="459.2" width="9" height="5.1" fill="#191c19"/>
</g>
<text x="492.6" y="412" font-size="3.9" text-anchor="middle" fill="#6e6e6e">PD-L1</text>
<g font-size="2.5" font-weight="bold" fill="#2a2a2a" text-anchor="end">
<text x="486.2" y="417.6">97</text>
<text x="486.2" y="422.6">82</text>
<text x="486.2" y="427.6">68</text>
<text x="486.2" y="432.6">53</text>
<text x="486.2" y="437.6">39</text>
<text x="486.2" y="442.6">24</text>
<text x="486.2" y="447.6">9</text>
<text x="486.2" y="452.6">-5</text>
<text x="486.2" y="457.6">-19</text>
<text x="486.2" y="462.6">-34</text>
</g>
<g shape-rendering="crispEdges">
<rect x="457" y="500" width="9" height="5.1" fill="#78af50"/>
<rect x="457" y="505" width="9" height="5.1" fill="#64aa50"/>
<rect x="457" y="510" width="9" height="5.1" fill="#55a852"/>
<rect x="457" y="515" width="9" height="5.1" fill="#4ea558"/>
<rect x="457" y="520" width="9" height="5.1" fill="#4b9b55"/>
<rect x="457" y="525" width="9" height="5.1" fill="#3e7d48"/>
<rect x="457" y="530" width="9" height="5.1" fill="#2d5f37"/>
<rect x="457" y="535" width="9" height="5.1" fill="#203e28"/>
<rect x="457" y="540" width="9" height="5.1" fill="#19201c"/>
<rect x="457" y="545" width="9" height="5.1" fill="#161a18"/>
</g>
<text x="462.3" y="497.8" font-size="3.9" text-anchor="middle" fill="#6e6e6e">HLA-DR</text>
<g font-size="2.5" font-weight="bold" fill="#2a2a2a" text-anchor="end">
<text x="455.1" y="503.4">97</text>
<text x="455.1" y="508.4">82</text>
<text x="455.1" y="513.4">68</text>
<text x="455.1" y="518.4">53</text>
<text x="455.1" y="523.4">39</text>
<text x="455.1" y="528.4">24</text>
<text x="455.1" y="533.4">9</text>
<text x="455.1" y="538.4">-5</text>
<text x="455.1" y="543.4">-19</text>
<text x="455.1" y="548.4">-34</text>
</g>
<g shape-rendering="crispEdges">
<rect x="487.8" y="500" width="9" height="5.1" fill="#5f4196"/>
<rect x="487.8" y="505" width="9" height="5.1" fill="#62469b"/>
<rect x="487.8" y="510" width="9" height="5.1" fill="#584496"/>
<rect x="487.8" y="515" width="9" height="5.1" fill="#524696"/>
<rect x="487.8" y="520" width="9" height="5.1" fill="#504b96"/>
<rect x="487.8" y="525" width="9" height="5.1" fill="#4b447d"/>
<rect x="487.8" y="530" width="9" height="5.1" fill="#41325a"/>
<rect x="487.8" y="535" width="9" height="5.1" fill="#2d233a"/>
<rect x="487.8" y="540" width="9" height="5.1" fill="#191e1c"/>
<rect x="487.8" y="545" width="9" height="5.1" fill="#141916"/>
</g>
<text x="492.6" y="497.8" font-size="3.9" text-anchor="middle" fill="#6e6e6e">TIM-3</text>
<g font-size="2.5" font-weight="bold" fill="#2a2a2a" text-anchor="end">
<text x="485.9" y="503.4">97</text>
<text x="485.9" y="508.4">82</text>
<text x="485.9" y="513.4">68</text>
<text x="485.9" y="518.4">53</text>
<text x="485.9" y="523.4">39</text>
<text x="485.9" y="528.4">24</text>
<text x="485.9" y="533.4">9</text>
<text x="485.9" y="538.4">-5</text>
<text x="485.9" y="543.4">-19</text>
<text x="485.9" y="548.4">-34</text>
</g>
</g>
<!-- outer frame -->
<rect x="0" y="0" width="520" height="1.5" fill="#4b4b4b"/>
<rect x="0" y="0" width="1.5" height="566" fill="#4f4f4f"/>
<rect x="518.3" y="0" width="1.7" height="566" fill="#4b4b4b"/>
<rect x="0" y="564.7" width="520" height="1.3" fill="#050505"/>
</svg>
</body></html>
